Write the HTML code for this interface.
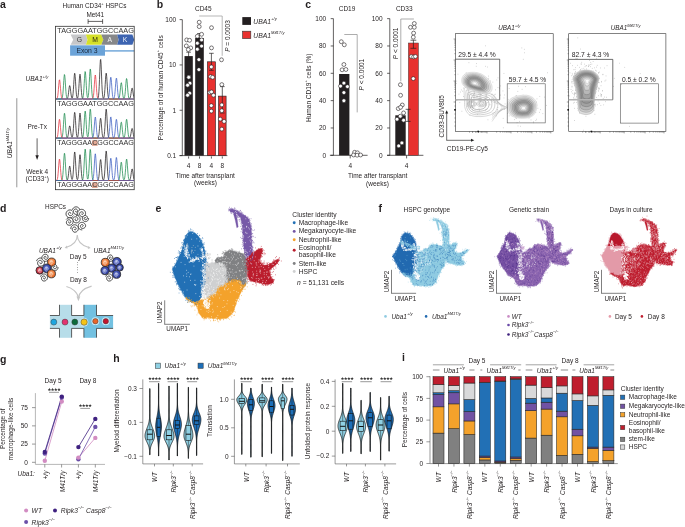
<!DOCTYPE html>
<html><head><meta charset="utf-8"><style>
html,body{margin:0;padding:0;background:#fff;}
svg{display:block;font-family:"Liberation Sans",sans-serif;will-change:transform;}
</style></head><body>
<svg width="685" height="527" viewBox="0 0 685 527">
<rect width="685" height="527" fill="#fff"/>
<g font-size="6.5" fill="#231f20">
<text x="0" y="7.7" font-size="10.5" font-weight="bold">a</text>
<text x="94.5" y="7.9" font-size="6.4" text-anchor="middle">Human CD34<tspan font-size="4" dy="-3.4">+</tspan><tspan dy="3.4"> HSPCs</tspan></text>
<text x="95.3" y="16.8" font-size="6.4" text-anchor="middle">Met41</text>
<line x1="88.1" y1="21.4" x2="102.6" y2="21.4" stroke="#231f20" stroke-width="0.7"/>
<line x1="88.1" y1="19.1" x2="88.1" y2="23.9" stroke="#231f20" stroke-width="0.7"/>
<line x1="102.6" y1="19.1" x2="102.6" y2="23.9" stroke="#231f20" stroke-width="0.7"/>
<path d="M70.6 34.6 L85.9 34.6 L87.5 39.7 L85.9 44.8 L70.6 44.8 L73.2 39.7 Z" fill="#c6c7c9"/>
<path d="M85.9 34.6 L101.3 34.6 L103.3 39.7 L101.3 44.8 L85.9 44.8 L87.5 39.7 Z" fill="#d5e02a"/>
<path d="M101.3 34.6 L117.1 34.6 L118.6 39.7 L117.1 44.8 L101.3 44.8 L103.3 39.7 Z" fill="#868789"/>
<path d="M117.1 34.6 L132.4 34.6 L134.2 39.7 L132.4 44.8 L117.1 44.8 L118.6 39.7 Z" fill="#3d64b1"/>
<text x="79.3" y="42" font-size="6.8" text-anchor="middle" fill="#3a3a3a">G</text>
<text x="95.1" y="42" font-size="6.8" text-anchor="middle" fill="#2a2a10">M</text>
<text x="109.7" y="42" font-size="6.8" text-anchor="middle" fill="#f4f4f4">A</text>
<text x="125.1" y="42" font-size="6.8" text-anchor="middle" fill="#eef2fa">K</text>
<rect x="70.1" y="45.3" width="34.9" height="10.4" fill="#6ba3d8"/>
<rect x="105" y="50.2" width="29.2" height="1.4" fill="#6ba3d8"/>
<text x="87" y="52.5" font-size="6.8" text-anchor="middle" fill="#1a2638">Exon 3</text>
<rect x="92" y="140.3" width="5.6" height="5.6" fill="#e3a994"/>
<rect x="92" y="182.4" width="5.6" height="5.6" fill="#e3a994"/>
<text x="57.3" y="32.8" fill="#333" textLength="76.6" lengthAdjust="spacingAndGlyphs">TAGGGAATGGCCAAG</text>
<text x="57.3" y="106" fill="#333" textLength="76.6" lengthAdjust="spacingAndGlyphs">TAGGGAATGGCCAAG</text>
<text x="57.3" y="145.1" fill="#333" textLength="76.6" lengthAdjust="spacingAndGlyphs">TAGGGAACGGCCAAG</text>
<text x="57.3" y="187.4" fill="#333" textLength="76.6" lengthAdjust="spacingAndGlyphs">TAGGGAACGGCCAAG</text>
<defs><clipPath id="cpA"><rect x="56" y="26" width="78" height="164"/></clipPath></defs>
<g clip-path="url(#cpA)" fill="none" stroke-width="0.75" stroke-linejoin="round">
<path d="M56 99 L56.3 99 L56.6 99 L56.9 99 L57.2 99 L57.5 99 L57.8 99 L58.1 99 L58.4 99 L58.7 99 L59 99 L59.3 99 L59.6 99 L59.9 99 L60.2 99 L60.5 99 L60.8 99 L61.1 99 L61.4 99 L61.7 99 L62 99 L62.3 99 L62.6 99 L62.9 99 L63.2 99 L63.5 99 L63.8 99 L64.1 99 L64.4 99 L64.7 99 L65 99 L65.3 99 L65.6 99 L65.9 99 L66.2 98.99 L66.5 98.97 L66.8 98.91 L67.1 98.75 L67.4 98.41 L67.7 97.73 L68 96.55 L68.3 94.76 L68.6 92.39 L68.9 89.75 L69.2 87.35 L69.5 85.82 L69.8 85.58 L70.1 86.72 L70.4 88.89 L70.7 91.52 L71 94.02 L71.3 96 L71.6 97.31 L71.9 97.97 L72.2 98.02 L72.5 97.38 L72.8 95.88 L73.1 93.28 L73.4 89.45 L73.7 84.65 L74 79.61 L74.3 75.44 L74.6 73.25 L74.9 73.7 L75.2 76.66 L75.5 81.25 L75.8 86.33 L76.1 90.86 L76.4 94.29 L76.7 96.52 L77 97.74 L77.3 98.19 L77.6 97.99 L77.9 97.11 L78.2 95.32 L78.5 92.43 L78.8 88.41 L79.1 83.63 L79.4 78.95 L79.7 75.48 L80 74.2 L80.3 75.48 L80.6 78.95 L80.9 83.63 L81.2 88.41 L81.5 92.44 L81.8 95.34 L82.1 97.17 L82.4 98.17 L82.7 98.67 L83 98.88 L83.3 98.96 L83.6 98.99 L83.9 99 L84.2 99 L84.5 99 L84.8 99 L85.1 99 L85.4 99 L85.7 99 L86 99 L86.3 99 L86.6 99 L86.9 99 L87.2 99 L87.5 99 L87.8 99 L88.1 99 L88.4 99 L88.7 99 L89 99 L89.3 99 L89.6 99 L89.9 99 L90.2 99 L90.5 99 L90.8 99 L91.1 99 L91.4 99 L91.7 99 L92 99 L92.3 99 L92.6 99 L92.9 99 L93.2 99 L93.5 99 L93.8 99 L94.1 99 L94.4 99 L94.7 99 L95 99 L95.3 99 L95.6 99 L95.9 99 L96.2 99 L96.5 99 L96.8 98.99 L97.1 98.97 L97.4 98.91 L97.7 98.72 L98 98.27 L98.3 97.25 L98.6 95.25 L98.9 91.78 L99.2 86.5 L99.5 79.53 L99.8 71.73 L100.1 64.66 L100.4 60.13 L100.7 59.43 L101 62.79 L101.3 69.2 L101.6 76.95 L101.9 84.33 L102.2 90.23 L102.5 94.27 L102.8 96.69 L103.1 97.92 L103.4 98.36 L103.7 98.22 L104 97.47 L104.3 95.91 L104.6 93.27 L104.9 89.42 L105.2 84.6 L105.5 79.53 L105.8 75.34 L106.1 73.15 L106.4 73.61 L106.7 76.57 L107 81.19 L107.3 86.28 L107.6 90.83 L107.9 94.28 L108.2 96.55 L108.5 97.86 L108.8 98.52 L109.1 98.82 L109.4 98.94 L109.7 98.98 L110 98.99 L110.3 99 L110.6 99 L110.9 99 L111.2 99 L111.5 99 L111.8 99 L112.1 99 L112.4 99 L112.7 99 L113 99 L113.3 99 L113.6 99 L113.9 99 L114.2 99 L114.5 99 L114.8 99 L115.1 99 L115.4 99 L115.7 99 L116 99 L116.3 99 L116.6 99 L116.9 99 L117.2 99 L117.5 99 L117.8 99 L118.1 99 L118.4 99 L118.7 99 L119 99 L119.3 99 L119.6 99 L119.9 99 L120.2 99 L120.5 99 L120.8 99 L121.1 99 L121.4 99 L121.7 99 L122 99 L122.3 99 L122.6 99 L122.9 99 L123.2 99 L123.5 99 L123.8 99 L124.1 99 L124.4 99 L124.7 99 L125 99 L125.3 99 L125.6 99 L125.9 99 L126.2 99 L126.5 99 L126.8 99 L127.1 99 L127.4 99 L127.7 99 L128 99 L128.3 99 L128.6 98.99 L128.9 98.97 L129.2 98.92 L129.5 98.8 L129.8 98.52 L130.1 97.97 L130.4 97.02 L130.7 95.58 L131 93.67 L131.3 91.53 L131.6 89.6 L131.9 88.35 L132.2 88.16 L132.5 89.08 L132.8 90.84 L133.1 92.96 L133.4 94.98 L133.7 96.6 L134 97.71 L134.3 98.38" stroke="#231f20"/>
<path d="M56 99 L56.3 99 L56.6 99 L56.9 99 L57.2 99 L57.5 99 L57.8 99 L58.1 99 L58.4 99 L58.7 99 L59 99 L59.3 99 L59.6 99 L59.9 99 L60.2 99 L60.5 99 L60.8 98.99 L61.1 98.97 L61.4 98.92 L61.7 98.76 L62 98.39 L62.3 97.59 L62.6 96.08 L62.9 93.58 L63.2 89.94 L63.5 85.37 L63.8 80.58 L64.1 76.62 L64.4 74.54 L64.7 74.97 L65 77.78 L65.3 82.14 L65.6 86.96 L65.9 91.27 L66.2 94.54 L66.5 96.68 L66.8 97.92 L67.1 98.55 L67.4 98.83 L67.7 98.94 L68 98.98 L68.3 99 L68.6 99 L68.9 99 L69.2 99 L69.5 99 L69.8 99 L70.1 99 L70.4 99 L70.7 99 L71 99 L71.3 99 L71.6 99 L71.9 99 L72.2 99 L72.5 99 L72.8 99 L73.1 99 L73.4 99 L73.7 99 L74 99 L74.3 99 L74.6 99 L74.9 99 L75.2 99 L75.5 99 L75.8 99 L76.1 99 L76.4 99 L76.7 99 L77 99 L77.3 99 L77.6 99 L77.9 99 L78.2 99 L78.5 99 L78.8 99 L79.1 99 L79.4 99 L79.7 99 L80 99 L80.3 99 L80.6 99 L80.9 99 L81.2 99 L81.5 98.99 L81.8 98.97 L82.1 98.91 L82.4 98.73 L82.7 98.31 L83 97.42 L83.3 95.73 L83.6 92.92 L83.9 88.83 L84.2 83.71 L84.5 78.34 L84.8 73.89 L85.1 71.56 L85.4 72.04 L85.7 75.19 L86 80.09 L86.3 85.49 L86.6 90.32 L86.9 93.96 L87.2 96.3 L87.5 97.49 L87.8 97.74 L88.1 97.08 L88.4 95.36 L88.7 92.32 L89 87.87 L89.3 82.27 L89.6 76.39 L89.9 71.52 L90.2 68.98 L90.5 69.51 L90.8 72.95 L91.1 78.31 L91.4 84.22 L91.7 89.51 L92 93.52 L92.3 96.16 L92.6 97.67 L92.9 98.44 L93.2 98.79 L93.5 98.93 L93.8 98.98 L94.1 98.99 L94.4 99 L94.7 99 L95 99 L95.3 99 L95.6 99 L95.9 99 L96.2 99 L96.5 99 L96.8 99 L97.1 99 L97.4 99 L97.7 99 L98 99 L98.3 99 L98.6 99 L98.9 99 L99.2 99 L99.5 99 L99.8 99 L100.1 99 L100.4 99 L100.7 99 L101 99 L101.3 99 L101.6 99 L101.9 99 L102.2 99 L102.5 99 L102.8 99 L103.1 99 L103.4 99 L103.7 99 L104 99 L104.3 99 L104.6 99 L104.9 99 L105.2 99 L105.5 99 L105.8 99 L106.1 99 L106.4 99 L106.7 99 L107 99 L107.3 99 L107.6 99 L107.9 99 L108.2 99 L108.5 99 L108.8 99 L109.1 99 L109.4 99 L109.7 99 L110 99 L110.3 99 L110.6 99 L110.9 99 L111.2 99 L111.5 99 L111.8 99 L112.1 99 L112.4 99 L112.7 99 L113 99 L113.3 99 L113.6 99 L113.9 99 L114.2 99 L114.5 99 L114.8 99 L115.1 99 L115.4 99 L115.7 99 L116 99 L116.3 99 L116.6 99 L116.9 99 L117.2 99 L117.5 99 L117.8 98.99 L118.1 98.96 L118.4 98.89 L118.7 98.7 L119 98.28 L119.3 97.46 L119.6 96.03 L119.9 93.85 L120.2 90.98 L120.5 87.76 L120.8 84.85 L121.1 82.98 L121.4 82.7 L121.7 84.08 L122 86.72 L122.3 89.92 L122.6 92.96 L122.9 95.38 L123.2 97.03 L123.5 97.99 L123.8 98.39 L124.1 98.33 L124.4 97.76 L124.7 96.54 L125 94.45 L125.3 91.41 L125.6 87.59 L125.9 83.58 L126.2 80.26 L126.5 78.52 L126.8 78.88 L127.1 81.23 L127.4 84.89 L127.7 88.92 L128 92.53 L128.3 95.26 L128.6 97.06 L128.9 98.09 L129.2 98.62 L129.5 98.86 L129.8 98.95 L130.1 98.99 L130.4 99 L130.7 99 L131 99 L131.3 99 L131.6 99 L131.9 99 L132.2 99 L132.5 99 L132.8 99 L133.1 99 L133.4 99 L133.7 99 L134 99 L134.3 99" stroke="#1b8a4c"/>
<path d="M56 98.99 L56.3 98.95 L56.6 98.87 L56.9 98.64 L57.2 98.15 L57.5 97.18 L57.8 95.5 L58.1 92.94 L58.4 89.56 L58.7 85.78 L59 82.35 L59.3 80.15 L59.6 79.81 L59.9 81.44 L60.2 84.55 L60.5 88.31 L60.8 91.89 L61.1 94.75 L61.4 96.71 L61.7 97.89 L62 98.52 L62.3 98.81 L62.6 98.93 L62.9 98.98 L63.2 98.99 L63.5 99 L63.8 99 L64.1 99 L64.4 99 L64.7 99 L65 99 L65.3 99 L65.6 99 L65.9 99 L66.2 99 L66.5 99 L66.8 99 L67.1 99 L67.4 99 L67.7 99 L68 99 L68.3 99 L68.6 99 L68.9 99 L69.2 99 L69.5 99 L69.8 99 L70.1 99 L70.4 99 L70.7 99 L71 99 L71.3 99 L71.6 99 L71.9 99 L72.2 99 L72.5 99 L72.8 99 L73.1 99 L73.4 99 L73.7 99 L74 99 L74.3 99 L74.6 99 L74.9 99 L75.2 99 L75.5 99 L75.8 99 L76.1 99 L76.4 99 L76.7 99 L77 99 L77.3 99 L77.6 99 L77.9 99 L78.2 99 L78.5 99 L78.8 99 L79.1 99 L79.4 99 L79.7 99 L80 99 L80.3 99 L80.6 99 L80.9 99 L81.2 99 L81.5 99 L81.8 99 L82.1 99 L82.4 99 L82.7 99 L83 99 L83.3 99 L83.6 99 L83.9 99 L84.2 99 L84.5 99 L84.8 99 L85.1 99 L85.4 99 L85.7 99 L86 99 L86.3 99 L86.6 99 L86.9 99 L87.2 99 L87.5 99 L87.8 99 L88.1 99 L88.4 99 L88.7 99 L89 99 L89.3 99 L89.6 99 L89.9 99 L90.2 99 L90.5 99 L90.8 99 L91.1 99 L91.4 99 L91.7 98.99 L92 98.96 L92.3 98.88 L92.6 98.68 L92.9 98.2 L93.2 97.23 L93.5 95.46 L93.8 92.65 L94.1 88.75 L94.4 84.13 L94.7 79.6 L95 76.24 L95.3 75 L95.6 76.24 L95.9 79.6 L96.2 84.13 L96.5 88.75 L96.8 92.65 L97.1 95.46 L97.4 97.23 L97.7 98.2 L98 98.68 L98.3 98.88 L98.6 98.96 L98.9 98.99 L99.2 99 L99.5 99 L99.8 99 L100.1 99 L100.4 99 L100.7 99 L101 99 L101.3 99 L101.6 99 L101.9 99 L102.2 99 L102.5 99 L102.8 99 L103.1 99 L103.4 99 L103.7 99 L104 99 L104.3 99 L104.6 99 L104.9 99 L105.2 99 L105.5 99 L105.8 99 L106.1 99 L106.4 99 L106.7 99 L107 99 L107.3 99 L107.6 99 L107.9 99 L108.2 99 L108.5 99 L108.8 99 L109.1 99 L109.4 99 L109.7 99 L110 99 L110.3 99 L110.6 99 L110.9 99 L111.2 99 L111.5 99 L111.8 99 L112.1 99 L112.4 99 L112.7 99 L113 99 L113.3 99 L113.6 99 L113.9 99 L114.2 99 L114.5 99 L114.8 99 L115.1 99 L115.4 99 L115.7 99 L116 99 L116.3 99 L116.6 99 L116.9 99 L117.2 99 L117.5 99 L117.8 99 L118.1 99 L118.4 99 L118.7 99 L119 99 L119.3 99 L119.6 99 L119.9 99 L120.2 99 L120.5 99 L120.8 99 L121.1 99 L121.4 99 L121.7 99 L122 99 L122.3 99 L122.6 99 L122.9 99 L123.2 99 L123.5 99 L123.8 99 L124.1 99 L124.4 99 L124.7 99 L125 99 L125.3 99 L125.6 99 L125.9 99 L126.2 99 L126.5 99 L126.8 99 L127.1 99 L127.4 99 L127.7 99 L128 99 L128.3 99 L128.6 99 L128.9 99 L129.2 99 L129.5 99 L129.8 99 L130.1 99 L130.4 99 L130.7 99 L131 99 L131.3 99 L131.6 99 L131.9 99 L132.2 99 L132.5 99 L132.8 99 L133.1 99 L133.4 99 L133.7 99 L134 99 L134.3 99" stroke="#e5323d"/>
<path d="M56 99 L56.3 99 L56.6 99 L56.9 99 L57.2 99 L57.5 99 L57.8 99 L58.1 99 L58.4 99 L58.7 99 L59 99 L59.3 99 L59.6 99 L59.9 99 L60.2 99 L60.5 99 L60.8 99 L61.1 99 L61.4 99 L61.7 99 L62 99 L62.3 99 L62.6 99 L62.9 99 L63.2 99 L63.5 99 L63.8 99 L64.1 99 L64.4 99 L64.7 99 L65 99 L65.3 99 L65.6 99 L65.9 99 L66.2 99 L66.5 99 L66.8 99 L67.1 99 L67.4 99 L67.7 99 L68 99 L68.3 99 L68.6 99 L68.9 99 L69.2 99 L69.5 99 L69.8 99 L70.1 99 L70.4 99 L70.7 99 L71 99 L71.3 99 L71.6 99 L71.9 99 L72.2 99 L72.5 99 L72.8 99 L73.1 99 L73.4 99 L73.7 99 L74 99 L74.3 99 L74.6 99 L74.9 99 L75.2 99 L75.5 99 L75.8 99 L76.1 99 L76.4 99 L76.7 99 L77 99 L77.3 99 L77.6 99 L77.9 99 L78.2 99 L78.5 99 L78.8 99 L79.1 99 L79.4 99 L79.7 99 L80 99 L80.3 99 L80.6 99 L80.9 99 L81.2 99 L81.5 99 L81.8 99 L82.1 99 L82.4 99 L82.7 99 L83 99 L83.3 99 L83.6 99 L83.9 99 L84.2 99 L84.5 99 L84.8 99 L85.1 99 L85.4 99 L85.7 99 L86 99 L86.3 99 L86.6 99 L86.9 99 L87.2 99 L87.5 99 L87.8 99 L88.1 99 L88.4 99 L88.7 99 L89 99 L89.3 99 L89.6 99 L89.9 99 L90.2 99 L90.5 99 L90.8 99 L91.1 99 L91.4 99 L91.7 99 L92 99 L92.3 99 L92.6 99 L92.9 99 L93.2 99 L93.5 99 L93.8 99 L94.1 99 L94.4 99 L94.7 99 L95 99 L95.3 99 L95.6 99 L95.9 99 L96.2 99 L96.5 99 L96.8 99 L97.1 99 L97.4 99 L97.7 99 L98 99 L98.3 99 L98.6 99 L98.9 99 L99.2 99 L99.5 99 L99.8 99 L100.1 99 L100.4 99 L100.7 99 L101 99 L101.3 99 L101.6 99 L101.9 99 L102.2 99 L102.5 99 L102.8 99 L103.1 99 L103.4 99 L103.7 99 L104 99 L104.3 99 L104.6 99 L104.9 99 L105.2 99 L105.5 99 L105.8 99 L106.1 99 L106.4 99 L106.7 99 L107 99 L107.3 98.98 L107.6 98.95 L107.9 98.85 L108.2 98.6 L108.5 98.04 L108.8 96.94 L109.1 95.03 L109.4 92.12 L109.7 88.28 L110 83.99 L110.3 80.11 L110.6 77.61 L110.9 77.23 L111.2 79.08 L111.5 82.6 L111.8 86.87 L112.1 90.93 L112.4 94.17 L112.7 96.4 L113 97.72 L113.3 98.38 L113.6 98.58 L113.9 98.4 L114.2 97.77 L114.5 96.5 L114.8 94.37 L115.1 91.26 L115.4 87.37 L115.7 83.28 L116 79.89 L116.3 78.12 L116.6 78.49 L116.9 80.88 L117.2 84.61 L117.5 88.72 L117.8 92.4 L118.1 95.19 L118.4 97.02 L118.7 98.08 L119 98.61 L119.3 98.85 L119.6 98.95 L119.9 98.98 L120.2 99 L120.5 99 L120.8 99 L121.1 99 L121.4 99 L121.7 99 L122 99 L122.3 99 L122.6 99 L122.9 99 L123.2 99 L123.5 99 L123.8 99 L124.1 99 L124.4 99 L124.7 99 L125 99 L125.3 99 L125.6 99 L125.9 99 L126.2 99 L126.5 99 L126.8 99 L127.1 99 L127.4 99 L127.7 99 L128 99 L128.3 99 L128.6 99 L128.9 99 L129.2 99 L129.5 99 L129.8 99 L130.1 99 L130.4 99 L130.7 99 L131 99 L131.3 99 L131.6 99 L131.9 99 L132.2 99 L132.5 99 L132.8 99 L133.1 99 L133.4 99 L133.7 99 L134 99 L134.3 99" stroke="#3a5cc0"/>
<path d="M56 138.1 L56.3 138.1 L56.6 138.1 L56.9 138.1 L57.2 138.1 L57.5 138.1 L57.8 138.1 L58.1 138.1 L58.4 138.1 L58.7 138.1 L59 138.1 L59.3 138.1 L59.6 138.1 L59.9 138.1 L60.2 138.1 L60.5 138.1 L60.8 138.1 L61.1 138.1 L61.4 138.1 L61.7 138.1 L62 138.1 L62.3 138.1 L62.6 138.1 L62.9 138.1 L63.2 138.1 L63.5 138.1 L63.8 138.1 L64.1 138.1 L64.4 138.1 L64.7 138.1 L65 138.1 L65.3 138.1 L65.6 138.1 L65.9 138.1 L66.2 138.09 L66.5 138.07 L66.8 138.01 L67.1 137.87 L67.4 137.56 L67.7 136.94 L68 135.87 L68.3 134.24 L68.6 132.08 L68.9 129.67 L69.2 127.49 L69.5 126.09 L69.8 125.87 L70.1 126.91 L70.4 128.89 L70.7 131.28 L71 133.56 L71.3 135.36 L71.6 136.55 L71.9 137.14 L72.2 137.15 L72.5 136.5 L72.8 134.99 L73.1 132.38 L73.4 128.55 L73.7 123.75 L74 118.71 L74.3 114.54 L74.6 112.35 L74.9 112.8 L75.2 115.76 L75.5 120.35 L75.8 125.43 L76.1 129.96 L76.4 133.39 L76.7 135.62 L77 136.84 L77.3 137.29 L77.6 137.09 L77.9 136.19 L78.2 134.39 L78.5 131.48 L78.8 127.42 L79.1 122.61 L79.4 117.89 L79.7 114.39 L80 113.1 L80.3 114.39 L80.6 117.89 L80.9 122.61 L81.2 127.42 L81.5 131.48 L81.8 134.41 L82.1 136.25 L82.4 137.27 L82.7 137.76 L83 137.98 L83.3 138.06 L83.6 138.09 L83.9 138.1 L84.2 138.1 L84.5 138.1 L84.8 138.1 L85.1 138.1 L85.4 138.1 L85.7 138.1 L86 138.1 L86.3 138.1 L86.6 138.1 L86.9 138.1 L87.2 138.1 L87.5 138.1 L87.8 138.1 L88.1 138.1 L88.4 138.1 L88.7 138.1 L89 138.1 L89.3 138.1 L89.6 138.1 L89.9 138.1 L90.2 138.1 L90.5 138.1 L90.8 138.1 L91.1 138.1 L91.4 138.1 L91.7 138.1 L92 138.1 L92.3 138.1 L92.6 138.1 L92.9 138.1 L93.2 138.1 L93.5 138.1 L93.8 138.1 L94.1 138.1 L94.4 138.1 L94.7 138.1 L95 138.1 L95.3 138.1 L95.6 138.1 L95.9 138.1 L96.2 138.1 L96.5 138.1 L96.8 138.1 L97.1 138.09 L97.4 138.05 L97.7 137.96 L98 137.73 L98.3 137.22 L98.6 136.22 L98.9 134.47 L99.2 131.82 L99.5 128.31 L99.8 124.4 L100.1 120.85 L100.4 118.57 L100.7 118.22 L101 119.9 L101.3 123.13 L101.6 127.02 L101.9 130.73 L102.2 133.69 L102.5 135.72 L102.8 136.92 L103.1 137.5 L103.4 137.62 L103.7 137.3 L104 136.4 L104.3 134.63 L104.6 131.66 L104.9 127.34 L105.2 121.93 L105.5 116.24 L105.8 111.53 L106.1 109.07 L106.4 109.58 L106.7 112.91 L107 118.09 L107.3 123.81 L107.6 128.93 L107.9 132.8 L108.2 135.35 L108.5 136.82 L108.8 137.56 L109.1 137.9 L109.4 138.03 L109.7 138.08 L110 138.09 L110.3 138.1 L110.6 138.1 L110.9 138.1 L111.2 138.1 L111.5 138.1 L111.8 138.1 L112.1 138.1 L112.4 138.1 L112.7 138.1 L113 138.1 L113.3 138.1 L113.6 138.1 L113.9 138.1 L114.2 138.1 L114.5 138.1 L114.8 138.1 L115.1 138.1 L115.4 138.1 L115.7 138.1 L116 138.1 L116.3 138.1 L116.6 138.1 L116.9 138.1 L117.2 138.1 L117.5 138.1 L117.8 138.1 L118.1 138.1 L118.4 138.1 L118.7 138.1 L119 138.1 L119.3 138.1 L119.6 138.1 L119.9 138.1 L120.2 138.1 L120.5 138.1 L120.8 138.1 L121.1 138.1 L121.4 138.1 L121.7 138.1 L122 138.1 L122.3 138.1 L122.6 138.1 L122.9 138.1 L123.2 138.1 L123.5 138.1 L123.8 138.1 L124.1 138.1 L124.4 138.1 L124.7 138.1 L125 138.1 L125.3 138.1 L125.6 138.1 L125.9 138.1 L126.2 138.1 L126.5 138.1 L126.8 138.1 L127.1 138.1 L127.4 138.1 L127.7 138.1 L128 138.1 L128.3 138.1 L128.6 138.09 L128.9 138.08 L129.2 138.03 L129.5 137.92 L129.8 137.67 L130.1 137.19 L130.4 136.34 L130.7 135.05 L131 133.35 L131.3 131.45 L131.6 129.73 L131.9 128.63 L132.2 128.46 L132.5 129.27 L132.8 130.84 L133.1 132.73 L133.4 134.53 L133.7 135.96 L134 136.95 L134.3 137.54" stroke="#231f20"/>
<path d="M56 138.1 L56.3 138.1 L56.6 138.1 L56.9 138.1 L57.2 138.1 L57.5 138.1 L57.8 138.1 L58.1 138.1 L58.4 138.1 L58.7 138.1 L59 138.1 L59.3 138.1 L59.6 138.1 L59.9 138.1 L60.2 138.1 L60.5 138.1 L60.8 138.09 L61.1 138.07 L61.4 138.01 L61.7 137.86 L62 137.48 L62.3 136.67 L62.6 135.14 L62.9 132.59 L63.2 128.89 L63.5 124.25 L63.8 119.38 L64.1 115.35 L64.4 113.25 L64.7 113.68 L65 116.53 L65.3 120.97 L65.6 125.87 L65.9 130.25 L66.2 133.57 L66.5 135.75 L66.8 137 L67.1 137.64 L67.4 137.93 L67.7 138.04 L68 138.08 L68.3 138.1 L68.6 138.1 L68.9 138.1 L69.2 138.1 L69.5 138.1 L69.8 138.1 L70.1 138.1 L70.4 138.1 L70.7 138.1 L71 138.1 L71.3 138.1 L71.6 138.1 L71.9 138.1 L72.2 138.1 L72.5 138.1 L72.8 138.1 L73.1 138.1 L73.4 138.1 L73.7 138.1 L74 138.1 L74.3 138.1 L74.6 138.1 L74.9 138.1 L75.2 138.1 L75.5 138.1 L75.8 138.1 L76.1 138.1 L76.4 138.1 L76.7 138.1 L77 138.1 L77.3 138.1 L77.6 138.1 L77.9 138.1 L78.2 138.1 L78.5 138.1 L78.8 138.1 L79.1 138.1 L79.4 138.1 L79.7 138.1 L80 138.1 L80.3 138.1 L80.6 138.1 L80.9 138.1 L81.2 138.1 L81.5 138.09 L81.8 138.07 L82.1 138.01 L82.4 137.84 L82.7 137.42 L83 136.54 L83.3 134.88 L83.6 132.1 L83.9 128.08 L84.2 123.03 L84.5 117.74 L84.8 113.35 L85.1 111.06 L85.4 111.54 L85.7 114.63 L86 119.46 L86.3 124.79 L86.6 129.55 L86.9 133.14 L87.2 135.44 L87.5 136.62 L87.8 136.87 L88.1 136.24 L88.4 134.57 L88.7 131.64 L89 127.33 L89.3 121.92 L89.6 116.24 L89.9 111.53 L90.2 109.07 L90.5 109.58 L90.8 112.91 L91.1 118.09 L91.4 123.81 L91.7 128.93 L92 132.8 L92.3 135.35 L92.6 136.82 L92.9 137.56 L93.2 137.9 L93.5 138.03 L93.8 138.08 L94.1 138.09 L94.4 138.1 L94.7 138.1 L95 138.1 L95.3 138.1 L95.6 138.1 L95.9 138.1 L96.2 138.1 L96.5 138.1 L96.8 138.1 L97.1 138.1 L97.4 138.1 L97.7 138.1 L98 138.1 L98.3 138.1 L98.6 138.1 L98.9 138.1 L99.2 138.1 L99.5 138.1 L99.8 138.1 L100.1 138.1 L100.4 138.1 L100.7 138.1 L101 138.1 L101.3 138.1 L101.6 138.1 L101.9 138.1 L102.2 138.1 L102.5 138.1 L102.8 138.1 L103.1 138.1 L103.4 138.1 L103.7 138.1 L104 138.1 L104.3 138.1 L104.6 138.1 L104.9 138.1 L105.2 138.1 L105.5 138.1 L105.8 138.1 L106.1 138.1 L106.4 138.1 L106.7 138.1 L107 138.1 L107.3 138.1 L107.6 138.1 L107.9 138.1 L108.2 138.1 L108.5 138.1 L108.8 138.1 L109.1 138.1 L109.4 138.1 L109.7 138.1 L110 138.1 L110.3 138.1 L110.6 138.1 L110.9 138.1 L111.2 138.1 L111.5 138.1 L111.8 138.1 L112.1 138.1 L112.4 138.1 L112.7 138.1 L113 138.1 L113.3 138.1 L113.6 138.1 L113.9 138.1 L114.2 138.1 L114.5 138.1 L114.8 138.1 L115.1 138.1 L115.4 138.1 L115.7 138.1 L116 138.1 L116.3 138.1 L116.6 138.1 L116.9 138.1 L117.2 138.1 L117.5 138.1 L117.8 138.09 L118.1 138.06 L118.4 137.99 L118.7 137.81 L119 137.4 L119.3 136.59 L119.6 135.2 L119.9 133.07 L120.2 130.27 L120.5 127.14 L120.8 124.3 L121.1 122.47 L121.4 122.19 L121.7 123.54 L122 126.12 L122.3 129.24 L122.6 132.2 L122.9 134.57 L123.2 136.18 L123.5 137.12 L123.8 137.52 L124.1 137.47 L124.4 136.96 L124.7 135.84 L125 133.93 L125.3 131.13 L125.6 127.63 L125.9 123.95 L126.2 120.9 L126.5 119.31 L126.8 119.64 L127.1 121.79 L127.4 125.15 L127.7 128.85 L128 132.16 L128.3 134.67 L128.6 136.32 L128.9 137.27 L129.2 137.75 L129.5 137.97 L129.8 138.06 L130.1 138.09 L130.4 138.1 L130.7 138.1 L131 138.1 L131.3 138.1 L131.6 138.1 L131.9 138.1 L132.2 138.1 L132.5 138.1 L132.8 138.1 L133.1 138.1 L133.4 138.1 L133.7 138.1 L134 138.1 L134.3 138.1" stroke="#1b8a4c"/>
<path d="M56 138.09 L56.3 138.06 L56.6 137.97 L56.9 137.75 L57.2 137.27 L57.5 136.32 L57.8 134.67 L58.1 132.16 L58.4 128.85 L58.7 125.15 L59 121.79 L59.3 119.64 L59.6 119.31 L59.9 120.9 L60.2 123.95 L60.5 127.63 L60.8 131.14 L61.1 133.93 L61.4 135.86 L61.7 137.02 L62 137.63 L62.3 137.92 L62.6 138.04 L62.9 138.08 L63.2 138.09 L63.5 138.1 L63.8 138.1 L64.1 138.1 L64.4 138.1 L64.7 138.1 L65 138.1 L65.3 138.1 L65.6 138.1 L65.9 138.1 L66.2 138.1 L66.5 138.1 L66.8 138.1 L67.1 138.1 L67.4 138.1 L67.7 138.1 L68 138.1 L68.3 138.1 L68.6 138.1 L68.9 138.1 L69.2 138.1 L69.5 138.1 L69.8 138.1 L70.1 138.1 L70.4 138.1 L70.7 138.1 L71 138.1 L71.3 138.1 L71.6 138.1 L71.9 138.1 L72.2 138.1 L72.5 138.1 L72.8 138.1 L73.1 138.1 L73.4 138.1 L73.7 138.1 L74 138.1 L74.3 138.1 L74.6 138.1 L74.9 138.1 L75.2 138.1 L75.5 138.1 L75.8 138.1 L76.1 138.1 L76.4 138.1 L76.7 138.1 L77 138.1 L77.3 138.1 L77.6 138.1 L77.9 138.1 L78.2 138.1 L78.5 138.1 L78.8 138.1 L79.1 138.1 L79.4 138.1 L79.7 138.1 L80 138.1 L80.3 138.1 L80.6 138.1 L80.9 138.1 L81.2 138.1 L81.5 138.1 L81.8 138.1 L82.1 138.1 L82.4 138.1 L82.7 138.1 L83 138.1 L83.3 138.1 L83.6 138.1 L83.9 138.1 L84.2 138.1 L84.5 138.1 L84.8 138.1 L85.1 138.1 L85.4 138.1 L85.7 138.1 L86 138.1 L86.3 138.1 L86.6 138.1 L86.9 138.1 L87.2 138.1 L87.5 138.1 L87.8 138.1 L88.1 138.1 L88.4 138.1 L88.7 138.1 L89 138.1 L89.3 138.1 L89.6 138.1 L89.9 138.1 L90.2 138.1 L90.5 138.1 L90.8 138.1 L91.1 138.1 L91.4 138.1 L91.7 138.1 L92 138.1 L92.3 138.1 L92.6 138.1 L92.9 138.1 L93.2 138.1 L93.5 138.1 L93.8 138.1 L94.1 138.1 L94.4 138.1 L94.7 138.1 L95 138.1 L95.3 138.1 L95.6 138.1 L95.9 138.1 L96.2 138.1 L96.5 138.1 L96.8 138.1 L97.1 138.1 L97.4 138.1 L97.7 138.1 L98 138.1 L98.3 138.1 L98.6 138.1 L98.9 138.1 L99.2 138.1 L99.5 138.1 L99.8 138.1 L100.1 138.1 L100.4 138.1 L100.7 138.1 L101 138.1 L101.3 138.1 L101.6 138.1 L101.9 138.1 L102.2 138.1 L102.5 138.1 L102.8 138.1 L103.1 138.1 L103.4 138.1 L103.7 138.1 L104 138.1 L104.3 138.1 L104.6 138.1 L104.9 138.1 L105.2 138.1 L105.5 138.1 L105.8 138.1 L106.1 138.1 L106.4 138.1 L106.7 138.1 L107 138.1 L107.3 138.1 L107.6 138.1 L107.9 138.1 L108.2 138.1 L108.5 138.1 L108.8 138.1 L109.1 138.1 L109.4 138.1 L109.7 138.1 L110 138.1 L110.3 138.1 L110.6 138.1 L110.9 138.1 L111.2 138.1 L111.5 138.1 L111.8 138.1 L112.1 138.1 L112.4 138.1 L112.7 138.1 L113 138.1 L113.3 138.1 L113.6 138.1 L113.9 138.1 L114.2 138.1 L114.5 138.1 L114.8 138.1 L115.1 138.1 L115.4 138.1 L115.7 138.1 L116 138.1 L116.3 138.1 L116.6 138.1 L116.9 138.1 L117.2 138.1 L117.5 138.1 L117.8 138.1 L118.1 138.1 L118.4 138.1 L118.7 138.1 L119 138.1 L119.3 138.1 L119.6 138.1 L119.9 138.1 L120.2 138.1 L120.5 138.1 L120.8 138.1 L121.1 138.1 L121.4 138.1 L121.7 138.1 L122 138.1 L122.3 138.1 L122.6 138.1 L122.9 138.1 L123.2 138.1 L123.5 138.1 L123.8 138.1 L124.1 138.1 L124.4 138.1 L124.7 138.1 L125 138.1 L125.3 138.1 L125.6 138.1 L125.9 138.1 L126.2 138.1 L126.5 138.1 L126.8 138.1 L127.1 138.1 L127.4 138.1 L127.7 138.1 L128 138.1 L128.3 138.1 L128.6 138.1 L128.9 138.1 L129.2 138.1 L129.5 138.1 L129.8 138.1 L130.1 138.1 L130.4 138.1 L130.7 138.1 L131 138.1 L131.3 138.1 L131.6 138.1 L131.9 138.1 L132.2 138.1 L132.5 138.1 L132.8 138.1 L133.1 138.1 L133.4 138.1 L133.7 138.1 L134 138.1 L134.3 138.1" stroke="#e5323d"/>
<path d="M56 138.1 L56.3 138.1 L56.6 138.1 L56.9 138.1 L57.2 138.1 L57.5 138.1 L57.8 138.1 L58.1 138.1 L58.4 138.1 L58.7 138.1 L59 138.1 L59.3 138.1 L59.6 138.1 L59.9 138.1 L60.2 138.1 L60.5 138.1 L60.8 138.1 L61.1 138.1 L61.4 138.1 L61.7 138.1 L62 138.1 L62.3 138.1 L62.6 138.1 L62.9 138.1 L63.2 138.1 L63.5 138.1 L63.8 138.1 L64.1 138.1 L64.4 138.1 L64.7 138.1 L65 138.1 L65.3 138.1 L65.6 138.1 L65.9 138.1 L66.2 138.1 L66.5 138.1 L66.8 138.1 L67.1 138.1 L67.4 138.1 L67.7 138.1 L68 138.1 L68.3 138.1 L68.6 138.1 L68.9 138.1 L69.2 138.1 L69.5 138.1 L69.8 138.1 L70.1 138.1 L70.4 138.1 L70.7 138.1 L71 138.1 L71.3 138.1 L71.6 138.1 L71.9 138.1 L72.2 138.1 L72.5 138.1 L72.8 138.1 L73.1 138.1 L73.4 138.1 L73.7 138.1 L74 138.1 L74.3 138.1 L74.6 138.1 L74.9 138.1 L75.2 138.1 L75.5 138.1 L75.8 138.1 L76.1 138.1 L76.4 138.1 L76.7 138.1 L77 138.1 L77.3 138.1 L77.6 138.1 L77.9 138.1 L78.2 138.1 L78.5 138.1 L78.8 138.1 L79.1 138.1 L79.4 138.1 L79.7 138.1 L80 138.1 L80.3 138.1 L80.6 138.1 L80.9 138.1 L81.2 138.1 L81.5 138.1 L81.8 138.1 L82.1 138.1 L82.4 138.1 L82.7 138.1 L83 138.1 L83.3 138.1 L83.6 138.1 L83.9 138.1 L84.2 138.1 L84.5 138.1 L84.8 138.1 L85.1 138.1 L85.4 138.1 L85.7 138.1 L86 138.1 L86.3 138.1 L86.6 138.1 L86.9 138.1 L87.2 138.1 L87.5 138.1 L87.8 138.1 L88.1 138.1 L88.4 138.1 L88.7 138.1 L89 138.1 L89.3 138.1 L89.6 138.1 L89.9 138.1 L90.2 138.1 L90.5 138.1 L90.8 138.1 L91.1 138.1 L91.4 138.1 L91.7 138.09 L92 138.07 L92.3 138 L92.6 137.82 L92.9 137.4 L93.2 136.55 L93.5 135 L93.8 132.54 L94.1 129.13 L94.4 125.09 L94.7 121.12 L95 118.19 L95.3 117.1 L95.6 118.19 L95.9 121.12 L96.2 125.09 L96.5 129.13 L96.8 132.54 L97.1 135 L97.4 136.55 L97.7 137.4 L98 137.82 L98.3 138 L98.6 138.07 L98.9 138.09 L99.2 138.1 L99.5 138.1 L99.8 138.1 L100.1 138.1 L100.4 138.1 L100.7 138.1 L101 138.1 L101.3 138.1 L101.6 138.1 L101.9 138.1 L102.2 138.1 L102.5 138.1 L102.8 138.1 L103.1 138.1 L103.4 138.1 L103.7 138.1 L104 138.1 L104.3 138.1 L104.6 138.1 L104.9 138.1 L105.2 138.1 L105.5 138.1 L105.8 138.1 L106.1 138.1 L106.4 138.1 L106.7 138.1 L107 138.1 L107.3 138.08 L107.6 138.05 L107.9 137.95 L108.2 137.71 L108.5 137.16 L108.8 136.09 L109.1 134.24 L109.4 131.41 L109.7 127.68 L110 123.51 L110.3 119.72 L110.6 117.3 L110.9 116.93 L111.2 118.72 L111.5 122.15 L111.8 126.3 L112.1 130.25 L112.4 133.4 L112.7 135.57 L113 136.86 L113.3 137.5 L113.6 137.71 L113.9 137.56 L114.2 136.99 L114.5 135.85 L114.8 133.93 L115.1 131.14 L115.4 127.63 L115.7 123.95 L116 120.9 L116.3 119.31 L116.6 119.64 L116.9 121.79 L117.2 125.15 L117.5 128.85 L117.8 132.16 L118.1 134.67 L118.4 136.32 L118.7 137.27 L119 137.75 L119.3 137.97 L119.6 138.06 L119.9 138.09 L120.2 138.1 L120.5 138.1 L120.8 138.1 L121.1 138.1 L121.4 138.1 L121.7 138.1 L122 138.1 L122.3 138.1 L122.6 138.1 L122.9 138.1 L123.2 138.1 L123.5 138.1 L123.8 138.1 L124.1 138.1 L124.4 138.1 L124.7 138.1 L125 138.1 L125.3 138.1 L125.6 138.1 L125.9 138.1 L126.2 138.1 L126.5 138.1 L126.8 138.1 L127.1 138.1 L127.4 138.1 L127.7 138.1 L128 138.1 L128.3 138.1 L128.6 138.1 L128.9 138.1 L129.2 138.1 L129.5 138.1 L129.8 138.1 L130.1 138.1 L130.4 138.1 L130.7 138.1 L131 138.1 L131.3 138.1 L131.6 138.1 L131.9 138.1 L132.2 138.1 L132.5 138.1 L132.8 138.1 L133.1 138.1 L133.4 138.1 L133.7 138.1 L134 138.1 L134.3 138.1" stroke="#3a5cc0"/>
<path d="M56 180.5 L56.3 180.5 L56.6 180.5 L56.9 180.5 L57.2 180.5 L57.5 180.5 L57.8 180.5 L58.1 180.5 L58.4 180.5 L58.7 180.5 L59 180.5 L59.3 180.5 L59.6 180.5 L59.9 180.5 L60.2 180.5 L60.5 180.5 L60.8 180.5 L61.1 180.5 L61.4 180.5 L61.7 180.5 L62 180.5 L62.3 180.5 L62.6 180.5 L62.9 180.5 L63.2 180.5 L63.5 180.5 L63.8 180.5 L64.1 180.5 L64.4 180.5 L64.7 180.5 L65 180.5 L65.3 180.5 L65.6 180.5 L65.9 180.5 L66.2 180.49 L66.5 180.47 L66.8 180.4 L67.1 180.23 L67.4 179.86 L67.7 179.13 L68 177.87 L68.3 175.94 L68.6 173.41 L68.9 170.56 L69.2 167.99 L69.5 166.34 L69.8 166.09 L70.1 167.31 L70.4 169.64 L70.7 172.47 L71 175.15 L71.3 177.27 L71.6 178.68 L71.9 179.39 L72.2 179.42 L72.5 178.71 L72.8 177.05 L73.1 174.16 L73.4 169.92 L73.7 164.6 L74 159.01 L74.3 154.39 L74.6 151.97 L74.9 152.47 L75.2 155.74 L75.5 160.84 L75.8 166.46 L76.1 171.48 L76.4 175.28 L76.7 177.76 L77 179.11 L77.3 179.62 L77.6 179.44 L77.9 178.53 L78.2 176.67 L78.5 173.67 L78.8 169.48 L79.1 164.51 L79.4 159.64 L79.7 156.04 L80 154.7 L80.3 156.04 L80.6 159.64 L80.9 164.51 L81.2 169.48 L81.5 173.67 L81.8 176.69 L82.1 178.59 L82.4 179.64 L82.7 180.15 L83 180.37 L83.3 180.46 L83.6 180.49 L83.9 180.5 L84.2 180.5 L84.5 180.5 L84.8 180.5 L85.1 180.5 L85.4 180.5 L85.7 180.5 L86 180.5 L86.3 180.5 L86.6 180.5 L86.9 180.5 L87.2 180.5 L87.5 180.5 L87.8 180.5 L88.1 180.5 L88.4 180.5 L88.7 180.5 L89 180.5 L89.3 180.5 L89.6 180.5 L89.9 180.5 L90.2 180.5 L90.5 180.5 L90.8 180.5 L91.1 180.5 L91.4 180.5 L91.7 180.5 L92 180.5 L92.3 180.5 L92.6 180.5 L92.9 180.5 L93.2 180.5 L93.5 180.5 L93.8 180.5 L94.1 180.5 L94.4 180.5 L94.7 180.5 L95 180.5 L95.3 180.5 L95.6 180.5 L95.9 180.5 L96.2 180.5 L96.5 180.5 L96.8 180.5 L97.1 180.48 L97.4 180.45 L97.7 180.35 L98 180.11 L98.3 179.57 L98.6 178.51 L98.9 176.67 L99.2 173.87 L99.5 170.18 L99.8 166.04 L100.1 162.3 L100.4 159.89 L100.7 159.52 L101 161.3 L101.3 164.7 L101.6 168.81 L101.9 172.72 L102.2 175.85 L102.5 177.99 L102.8 179.26 L103.1 179.87 L103.4 180.01 L103.7 179.69 L104 178.77 L104.3 176.97 L104.6 173.95 L104.9 169.56 L105.2 164.05 L105.5 158.26 L105.8 153.48 L106.1 150.97 L106.4 151.49 L106.7 154.88 L107 160.15 L107.3 165.97 L107.6 171.17 L107.9 175.11 L108.2 177.7 L108.5 179.2 L108.8 179.95 L109.1 180.29 L109.4 180.43 L109.7 180.48 L110 180.49 L110.3 180.5 L110.6 180.5 L110.9 180.5 L111.2 180.5 L111.5 180.5 L111.8 180.5 L112.1 180.5 L112.4 180.5 L112.7 180.5 L113 180.5 L113.3 180.5 L113.6 180.5 L113.9 180.5 L114.2 180.5 L114.5 180.5 L114.8 180.5 L115.1 180.5 L115.4 180.5 L115.7 180.5 L116 180.5 L116.3 180.5 L116.6 180.5 L116.9 180.5 L117.2 180.5 L117.5 180.5 L117.8 180.5 L118.1 180.5 L118.4 180.5 L118.7 180.5 L119 180.5 L119.3 180.5 L119.6 180.5 L119.9 180.5 L120.2 180.5 L120.5 180.5 L120.8 180.5 L121.1 180.5 L121.4 180.5 L121.7 180.5 L122 180.5 L122.3 180.5 L122.6 180.5 L122.9 180.5 L123.2 180.5 L123.5 180.5 L123.8 180.5 L124.1 180.5 L124.4 180.5 L124.7 180.5 L125 180.5 L125.3 180.5 L125.6 180.5 L125.9 180.5 L126.2 180.5 L126.5 180.5 L126.8 180.5 L127.1 180.5 L127.4 180.5 L127.7 180.5 L128 180.5 L128.3 180.5 L128.6 180.49 L128.9 180.47 L129.2 180.42 L129.5 180.29 L129.8 179.99 L130.1 179.41 L130.4 178.4 L130.7 176.86 L131 174.82 L131.3 172.55 L131.6 170.49 L131.9 169.17 L132.2 168.97 L132.5 169.95 L132.8 171.82 L133.1 174.07 L133.4 176.23 L133.7 177.94 L134 179.13 L134.3 179.84" stroke="#231f20"/>
<path d="M56 180.5 L56.3 180.5 L56.6 180.5 L56.9 180.5 L57.2 180.5 L57.5 180.5 L57.8 180.5 L58.1 180.5 L58.4 180.5 L58.7 180.5 L59 180.5 L59.3 180.5 L59.6 180.5 L59.9 180.5 L60.2 180.5 L60.5 180.5 L60.8 180.49 L61.1 180.47 L61.4 180.41 L61.7 180.23 L62 179.82 L62.3 178.93 L62.6 177.25 L62.9 174.46 L63.2 170.4 L63.5 165.32 L63.8 159.99 L64.1 155.57 L64.4 153.26 L64.7 153.74 L65 156.86 L65.3 161.73 L65.6 167.09 L65.9 171.89 L66.2 175.53 L66.5 177.92 L66.8 179.3 L67.1 179.99 L67.4 180.31 L67.7 180.44 L68 180.48 L68.3 180.49 L68.6 180.5 L68.9 180.5 L69.2 180.5 L69.5 180.5 L69.8 180.5 L70.1 180.5 L70.4 180.5 L70.7 180.5 L71 180.5 L71.3 180.5 L71.6 180.5 L71.9 180.5 L72.2 180.5 L72.5 180.5 L72.8 180.5 L73.1 180.5 L73.4 180.5 L73.7 180.5 L74 180.5 L74.3 180.5 L74.6 180.5 L74.9 180.5 L75.2 180.5 L75.5 180.5 L75.8 180.5 L76.1 180.5 L76.4 180.5 L76.7 180.5 L77 180.5 L77.3 180.5 L77.6 180.5 L77.9 180.5 L78.2 180.5 L78.5 180.5 L78.8 180.5 L79.1 180.5 L79.4 180.5 L79.7 180.5 L80 180.5 L80.3 180.5 L80.6 180.5 L80.9 180.5 L81.2 180.5 L81.5 180.49 L81.8 180.47 L82.1 180.39 L82.4 180.19 L82.7 179.71 L83 178.69 L83.3 176.75 L83.6 173.54 L83.9 168.86 L84.2 163 L84.5 156.84 L84.8 151.75 L85.1 149.09 L85.4 149.64 L85.7 153.24 L86 158.85 L86.3 165.04 L86.6 170.56 L86.9 174.73 L87.2 177.42 L87.5 178.81 L87.8 179.14 L88.1 178.49 L88.4 176.72 L88.7 173.58 L89 168.96 L89.3 163.16 L89.6 157.07 L89.9 152.02 L90.2 149.38 L90.5 149.93 L90.8 153.5 L91.1 159.05 L91.4 165.19 L91.7 170.67 L92 174.82 L92.3 177.55 L92.6 179.12 L92.9 179.92 L93.2 180.28 L93.5 180.43 L93.8 180.48 L94.1 180.49 L94.4 180.5 L94.7 180.5 L95 180.5 L95.3 180.5 L95.6 180.5 L95.9 180.5 L96.2 180.5 L96.5 180.5 L96.8 180.5 L97.1 180.5 L97.4 180.5 L97.7 180.5 L98 180.5 L98.3 180.5 L98.6 180.5 L98.9 180.5 L99.2 180.5 L99.5 180.5 L99.8 180.5 L100.1 180.5 L100.4 180.5 L100.7 180.5 L101 180.5 L101.3 180.5 L101.6 180.5 L101.9 180.5 L102.2 180.5 L102.5 180.5 L102.8 180.5 L103.1 180.5 L103.4 180.5 L103.7 180.5 L104 180.5 L104.3 180.5 L104.6 180.5 L104.9 180.5 L105.2 180.5 L105.5 180.5 L105.8 180.5 L106.1 180.5 L106.4 180.5 L106.7 180.5 L107 180.5 L107.3 180.5 L107.6 180.5 L107.9 180.5 L108.2 180.5 L108.5 180.5 L108.8 180.5 L109.1 180.5 L109.4 180.5 L109.7 180.5 L110 180.5 L110.3 180.5 L110.6 180.5 L110.9 180.5 L111.2 180.5 L111.5 180.5 L111.8 180.5 L112.1 180.5 L112.4 180.5 L112.7 180.5 L113 180.5 L113.3 180.5 L113.6 180.5 L113.9 180.5 L114.2 180.5 L114.5 180.5 L114.8 180.5 L115.1 180.5 L115.4 180.5 L115.7 180.5 L116 180.5 L116.3 180.5 L116.6 180.5 L116.9 180.5 L117.2 180.5 L117.5 180.5 L117.8 180.49 L118.1 180.46 L118.4 180.37 L118.7 180.16 L119 179.69 L119.3 178.77 L119.6 177.16 L119.9 174.72 L120.2 171.5 L120.5 167.89 L120.8 164.63 L121.1 162.53 L121.4 162.21 L121.7 163.76 L122 166.72 L122.3 170.31 L122.6 173.72 L122.9 176.44 L123.2 178.3 L123.5 179.37 L123.8 179.83 L124.1 179.78 L124.4 179.2 L124.7 177.93 L125 175.76 L125.3 172.58 L125.6 168.59 L125.9 164.4 L126.2 160.94 L126.5 159.13 L126.8 159.5 L127.1 161.95 L127.4 165.77 L127.7 169.98 L128 173.75 L128.3 176.6 L128.6 178.48 L128.9 179.56 L129.2 180.1 L129.5 180.35 L129.8 180.45 L130.1 180.48 L130.4 180.5 L130.7 180.5 L131 180.5 L131.3 180.5 L131.6 180.5 L131.9 180.5 L132.2 180.5 L132.5 180.5 L132.8 180.5 L133.1 180.5 L133.4 180.5 L133.7 180.5 L134 180.5 L134.3 180.5" stroke="#1b8a4c"/>
<path d="M56 180.48 L56.3 180.45 L56.6 180.35 L56.9 180.1 L57.2 179.56 L57.5 178.48 L57.8 176.6 L58.1 173.75 L58.4 169.98 L58.7 165.77 L59 161.95 L59.3 159.5 L59.6 159.13 L59.9 160.94 L60.2 164.4 L60.5 168.59 L60.8 172.58 L61.1 175.76 L61.4 177.95 L61.7 179.27 L62 179.96 L62.3 180.29 L62.6 180.43 L62.9 180.48 L63.2 180.49 L63.5 180.5 L63.8 180.5 L64.1 180.5 L64.4 180.5 L64.7 180.5 L65 180.5 L65.3 180.5 L65.6 180.5 L65.9 180.5 L66.2 180.5 L66.5 180.5 L66.8 180.5 L67.1 180.5 L67.4 180.5 L67.7 180.5 L68 180.5 L68.3 180.5 L68.6 180.5 L68.9 180.5 L69.2 180.5 L69.5 180.5 L69.8 180.5 L70.1 180.5 L70.4 180.5 L70.7 180.5 L71 180.5 L71.3 180.5 L71.6 180.5 L71.9 180.5 L72.2 180.5 L72.5 180.5 L72.8 180.5 L73.1 180.5 L73.4 180.5 L73.7 180.5 L74 180.5 L74.3 180.5 L74.6 180.5 L74.9 180.5 L75.2 180.5 L75.5 180.5 L75.8 180.5 L76.1 180.5 L76.4 180.5 L76.7 180.5 L77 180.5 L77.3 180.5 L77.6 180.5 L77.9 180.5 L78.2 180.5 L78.5 180.5 L78.8 180.5 L79.1 180.5 L79.4 180.5 L79.7 180.5 L80 180.5 L80.3 180.5 L80.6 180.5 L80.9 180.5 L81.2 180.5 L81.5 180.5 L81.8 180.5 L82.1 180.5 L82.4 180.5 L82.7 180.5 L83 180.5 L83.3 180.5 L83.6 180.5 L83.9 180.5 L84.2 180.5 L84.5 180.5 L84.8 180.5 L85.1 180.5 L85.4 180.5 L85.7 180.5 L86 180.5 L86.3 180.5 L86.6 180.5 L86.9 180.5 L87.2 180.5 L87.5 180.5 L87.8 180.5 L88.1 180.5 L88.4 180.5 L88.7 180.5 L89 180.5 L89.3 180.5 L89.6 180.5 L89.9 180.5 L90.2 180.5 L90.5 180.5 L90.8 180.5 L91.1 180.5 L91.4 180.5 L91.7 180.5 L92 180.5 L92.3 180.5 L92.6 180.5 L92.9 180.5 L93.2 180.5 L93.5 180.5 L93.8 180.5 L94.1 180.5 L94.4 180.5 L94.7 180.5 L95 180.5 L95.3 180.5 L95.6 180.5 L95.9 180.5 L96.2 180.5 L96.5 180.5 L96.8 180.5 L97.1 180.5 L97.4 180.5 L97.7 180.5 L98 180.5 L98.3 180.5 L98.6 180.5 L98.9 180.5 L99.2 180.5 L99.5 180.5 L99.8 180.5 L100.1 180.5 L100.4 180.5 L100.7 180.5 L101 180.5 L101.3 180.5 L101.6 180.5 L101.9 180.5 L102.2 180.5 L102.5 180.5 L102.8 180.5 L103.1 180.5 L103.4 180.5 L103.7 180.5 L104 180.5 L104.3 180.5 L104.6 180.5 L104.9 180.5 L105.2 180.5 L105.5 180.5 L105.8 180.5 L106.1 180.5 L106.4 180.5 L106.7 180.5 L107 180.5 L107.3 180.5 L107.6 180.5 L107.9 180.5 L108.2 180.5 L108.5 180.5 L108.8 180.5 L109.1 180.5 L109.4 180.5 L109.7 180.5 L110 180.5 L110.3 180.5 L110.6 180.5 L110.9 180.5 L111.2 180.5 L111.5 180.5 L111.8 180.5 L112.1 180.5 L112.4 180.5 L112.7 180.5 L113 180.5 L113.3 180.5 L113.6 180.5 L113.9 180.5 L114.2 180.5 L114.5 180.5 L114.8 180.5 L115.1 180.5 L115.4 180.5 L115.7 180.5 L116 180.5 L116.3 180.5 L116.6 180.5 L116.9 180.5 L117.2 180.5 L117.5 180.5 L117.8 180.5 L118.1 180.5 L118.4 180.5 L118.7 180.5 L119 180.5 L119.3 180.5 L119.6 180.5 L119.9 180.5 L120.2 180.5 L120.5 180.5 L120.8 180.5 L121.1 180.5 L121.4 180.5 L121.7 180.5 L122 180.5 L122.3 180.5 L122.6 180.5 L122.9 180.5 L123.2 180.5 L123.5 180.5 L123.8 180.5 L124.1 180.5 L124.4 180.5 L124.7 180.5 L125 180.5 L125.3 180.5 L125.6 180.5 L125.9 180.5 L126.2 180.5 L126.5 180.5 L126.8 180.5 L127.1 180.5 L127.4 180.5 L127.7 180.5 L128 180.5 L128.3 180.5 L128.6 180.5 L128.9 180.5 L129.2 180.5 L129.5 180.5 L129.8 180.5 L130.1 180.5 L130.4 180.5 L130.7 180.5 L131 180.5 L131.3 180.5 L131.6 180.5 L131.9 180.5 L132.2 180.5 L132.5 180.5 L132.8 180.5 L133.1 180.5 L133.4 180.5 L133.7 180.5 L134 180.5 L134.3 180.5" stroke="#e5323d"/>
<path d="M56 180.5 L56.3 180.5 L56.6 180.5 L56.9 180.5 L57.2 180.5 L57.5 180.5 L57.8 180.5 L58.1 180.5 L58.4 180.5 L58.7 180.5 L59 180.5 L59.3 180.5 L59.6 180.5 L59.9 180.5 L60.2 180.5 L60.5 180.5 L60.8 180.5 L61.1 180.5 L61.4 180.5 L61.7 180.5 L62 180.5 L62.3 180.5 L62.6 180.5 L62.9 180.5 L63.2 180.5 L63.5 180.5 L63.8 180.5 L64.1 180.5 L64.4 180.5 L64.7 180.5 L65 180.5 L65.3 180.5 L65.6 180.5 L65.9 180.5 L66.2 180.5 L66.5 180.5 L66.8 180.5 L67.1 180.5 L67.4 180.5 L67.7 180.5 L68 180.5 L68.3 180.5 L68.6 180.5 L68.9 180.5 L69.2 180.5 L69.5 180.5 L69.8 180.5 L70.1 180.5 L70.4 180.5 L70.7 180.5 L71 180.5 L71.3 180.5 L71.6 180.5 L71.9 180.5 L72.2 180.5 L72.5 180.5 L72.8 180.5 L73.1 180.5 L73.4 180.5 L73.7 180.5 L74 180.5 L74.3 180.5 L74.6 180.5 L74.9 180.5 L75.2 180.5 L75.5 180.5 L75.8 180.5 L76.1 180.5 L76.4 180.5 L76.7 180.5 L77 180.5 L77.3 180.5 L77.6 180.5 L77.9 180.5 L78.2 180.5 L78.5 180.5 L78.8 180.5 L79.1 180.5 L79.4 180.5 L79.7 180.5 L80 180.5 L80.3 180.5 L80.6 180.5 L80.9 180.5 L81.2 180.5 L81.5 180.5 L81.8 180.5 L82.1 180.5 L82.4 180.5 L82.7 180.5 L83 180.5 L83.3 180.5 L83.6 180.5 L83.9 180.5 L84.2 180.5 L84.5 180.5 L84.8 180.5 L85.1 180.5 L85.4 180.5 L85.7 180.5 L86 180.5 L86.3 180.5 L86.6 180.5 L86.9 180.5 L87.2 180.5 L87.5 180.5 L87.8 180.5 L88.1 180.5 L88.4 180.5 L88.7 180.5 L89 180.5 L89.3 180.5 L89.6 180.5 L89.9 180.5 L90.2 180.5 L90.5 180.5 L90.8 180.5 L91.1 180.5 L91.4 180.5 L91.7 180.49 L92 180.46 L92.3 180.37 L92.6 180.14 L92.9 179.61 L93.2 178.53 L93.5 176.56 L93.8 173.43 L94.1 169.1 L94.4 163.95 L94.7 158.92 L95 155.18 L95.3 153.8 L95.6 155.18 L95.9 158.92 L96.2 163.95 L96.5 169.1 L96.8 173.43 L97.1 176.56 L97.4 178.53 L97.7 179.61 L98 180.14 L98.3 180.37 L98.6 180.46 L98.9 180.49 L99.2 180.5 L99.5 180.5 L99.8 180.5 L100.1 180.5 L100.4 180.5 L100.7 180.5 L101 180.5 L101.3 180.5 L101.6 180.5 L101.9 180.5 L102.2 180.5 L102.5 180.5 L102.8 180.5 L103.1 180.5 L103.4 180.5 L103.7 180.5 L104 180.5 L104.3 180.5 L104.6 180.5 L104.9 180.5 L105.2 180.5 L105.5 180.5 L105.8 180.5 L106.1 180.5 L106.4 180.5 L106.7 180.5 L107 180.5 L107.3 180.48 L107.6 180.45 L107.9 180.34 L108.2 180.09 L108.5 179.52 L108.8 178.39 L109.1 176.44 L109.4 173.46 L109.7 169.54 L110 165.15 L110.3 161.18 L110.6 158.62 L110.9 158.23 L111.2 160.12 L111.5 163.73 L111.8 168.09 L112.1 172.25 L112.4 175.56 L112.7 177.84 L113 179.19 L113.3 179.86 L113.6 180.06 L113.9 179.85 L114.2 179.15 L114.5 177.74 L114.8 175.38 L115.1 171.95 L115.4 167.65 L115.7 163.13 L116 159.39 L116.3 157.44 L116.6 157.84 L116.9 160.49 L117.2 164.6 L117.5 169.15 L117.8 173.21 L118.1 176.29 L118.4 178.32 L118.7 179.48 L119 180.07 L119.3 180.34 L119.6 180.45 L119.9 180.48 L120.2 180.5 L120.5 180.5 L120.8 180.5 L121.1 180.5 L121.4 180.5 L121.7 180.5 L122 180.5 L122.3 180.5 L122.6 180.5 L122.9 180.5 L123.2 180.5 L123.5 180.5 L123.8 180.5 L124.1 180.5 L124.4 180.5 L124.7 180.5 L125 180.5 L125.3 180.5 L125.6 180.5 L125.9 180.5 L126.2 180.5 L126.5 180.5 L126.8 180.5 L127.1 180.5 L127.4 180.5 L127.7 180.5 L128 180.5 L128.3 180.5 L128.6 180.5 L128.9 180.5 L129.2 180.5 L129.5 180.5 L129.8 180.5 L130.1 180.5 L130.4 180.5 L130.7 180.5 L131 180.5 L131.3 180.5 L131.6 180.5 L131.9 180.5 L132.2 180.5 L132.5 180.5 L132.8 180.5 L133.1 180.5 L133.4 180.5 L133.7 180.5 L134 180.5 L134.3 180.5" stroke="#3a5cc0"/>
</g>
<rect x="55.5" y="26.3" width="78.7" height="163.4" fill="none" stroke="#333" stroke-width="0.8"/>
<text x="25.6" y="81.3" font-style="italic">UBA1<tspan font-size="4.2" dy="-3.8">+/y</tspan></text>
<line x1="16.8" y1="98.2" x2="16.8" y2="187.3" stroke="#8a8a8a" stroke-width="0.9"/>
<text transform="translate(12.4 158.2) rotate(-90)" x="0" y="0" font-style="italic">UBA1<tspan font-size="4" dy="-3.8">M41T/y</tspan></text>
<text x="37.3" y="129.3" text-anchor="middle">Pre-Tx</text>
<line x1="37.1" y1="138.3" x2="37.1" y2="156.5" stroke="#231f20" stroke-width="0.7"/>
<path d="M35.4 155.2 L37.1 160.0 L38.8 155.2 Z" fill="#231f20"/>
<text x="37.2" y="174.3" text-anchor="middle">Week 4</text>
<text x="37.2" y="181.2" text-anchor="middle">(CD33<tspan font-size="4" dy="-3.4">+</tspan><tspan dy="3.4">)</tspan></text>
<text x="156.7" y="7.7" font-size="10.5" font-weight="bold">b</text>
<text x="203.3" y="10.6" text-anchor="middle">CD45</text>
<line x1="182.3" y1="19.6" x2="182.3" y2="155.6" stroke="#231f20" stroke-width="0.7"/>
<line x1="179.5" y1="155.6" x2="227.4" y2="155.6" stroke="#231f20" stroke-width="0.7"/>
<line x1="179.6" y1="19.61" x2="182.3" y2="19.61" stroke="#231f20" stroke-width="0.7"/>
<text x="176.2" y="21.91" text-anchor="end">100</text>
<line x1="179.6" y1="64.94" x2="182.3" y2="64.94" stroke="#231f20" stroke-width="0.7"/>
<text x="176.2" y="67.24" text-anchor="end">10</text>
<line x1="179.6" y1="110.27" x2="182.3" y2="110.27" stroke="#231f20" stroke-width="0.7"/>
<text x="176.2" y="112.57" text-anchor="end">1</text>
<line x1="179.6" y1="155.6" x2="182.3" y2="155.6" stroke="#231f20" stroke-width="0.7"/>
<text x="176.2" y="157.9" text-anchor="end">0.1</text>
<rect x="184.5" y="56.1" width="8.3" height="99.5" fill="#231f20"/>
<rect x="195.2" y="38" width="8.6" height="117.6" fill="#231f20"/>
<rect x="207.4" y="61.8" width="8.1" height="93.8" fill="#e8312f" stroke="#231f20" stroke-width="0.6"/>
<rect x="218.5" y="96.1" width="7.6" height="59.5" fill="#e8312f" stroke="#231f20" stroke-width="0.6"/>
<line x1="188.6" y1="52.2" x2="188.6" y2="60" stroke="#231f20" stroke-width="0.7"/>
<line x1="186.3" y1="52.2" x2="190.9" y2="52.2" stroke="#231f20" stroke-width="0.7"/>
<line x1="186.3" y1="60" x2="190.9" y2="60" stroke="#231f20" stroke-width="0.7"/>
<line x1="199.5" y1="33.5" x2="199.5" y2="42.5" stroke="#231f20" stroke-width="0.7"/>
<line x1="197.2" y1="33.5" x2="201.8" y2="33.5" stroke="#231f20" stroke-width="0.7"/>
<line x1="197.2" y1="42.5" x2="201.8" y2="42.5" stroke="#231f20" stroke-width="0.7"/>
<line x1="211.4" y1="53.3" x2="211.4" y2="70.3" stroke="#231f20" stroke-width="0.7"/>
<line x1="209.1" y1="53.3" x2="213.7" y2="53.3" stroke="#231f20" stroke-width="0.7"/>
<line x1="209.1" y1="70.3" x2="213.7" y2="70.3" stroke="#231f20" stroke-width="0.7"/>
<line x1="222.3" y1="86.6" x2="222.3" y2="113" stroke="#231f20" stroke-width="0.7"/>
<line x1="220" y1="86.6" x2="224.6" y2="86.6" stroke="#231f20" stroke-width="0.7"/>
<line x1="220" y1="113" x2="224.6" y2="113" stroke="#231f20" stroke-width="0.7"/>
<path d="M199.2 16 L222.2 16 L222.2 55.8" fill="none" stroke="#9a9a9a" stroke-width="0.7"/>
<text transform="translate(229.6 51.8) rotate(-90)" x="0" y="0"><tspan font-style="italic">P</tspan> = 0.0003</text>
<circle cx="186.7" cy="39.9" r="1.95" fill="#fff" stroke="#231f20" stroke-width="0.6"/>
<circle cx="189.6" cy="40.3" r="1.95" fill="#fff" stroke="#231f20" stroke-width="0.6"/>
<circle cx="186.3" cy="45.9" r="1.95" fill="#fff" stroke="#231f20" stroke-width="0.6"/>
<circle cx="190.7" cy="47.9" r="1.95" fill="#fff" stroke="#231f20" stroke-width="0.6"/>
<circle cx="188.3" cy="49.6" r="1.95" fill="#fff" stroke="#231f20" stroke-width="0.6"/>
<circle cx="189" cy="77" r="1.95" fill="#fff" stroke="#231f20" stroke-width="0.6"/>
<circle cx="188.7" cy="77.3" r="1.95" fill="#fff" stroke="#231f20" stroke-width="0.6"/>
<circle cx="189.9" cy="83.2" r="1.95" fill="#fff" stroke="#231f20" stroke-width="0.6"/>
<circle cx="187.6" cy="85.2" r="1.95" fill="#fff" stroke="#231f20" stroke-width="0.6"/>
<circle cx="189.6" cy="93.2" r="1.95" fill="#fff" stroke="#231f20" stroke-width="0.6"/>
<circle cx="187.6" cy="95.2" r="1.95" fill="#fff" stroke="#231f20" stroke-width="0.6"/>
<circle cx="199.2" cy="22.2" r="1.95" fill="#fff" stroke="#231f20" stroke-width="0.6"/>
<circle cx="199.2" cy="26.6" r="1.95" fill="#fff" stroke="#231f20" stroke-width="0.6"/>
<circle cx="201.6" cy="34.3" r="1.95" fill="#fff" stroke="#231f20" stroke-width="0.6"/>
<circle cx="197.3" cy="36.3" r="1.95" fill="#fff" stroke="#231f20" stroke-width="0.6"/>
<circle cx="201.6" cy="39.9" r="1.95" fill="#fff" stroke="#231f20" stroke-width="0.6"/>
<circle cx="197.3" cy="43.2" r="1.95" fill="#fff" stroke="#231f20" stroke-width="0.6"/>
<circle cx="201.6" cy="46.1" r="1.95" fill="#fff" stroke="#231f20" stroke-width="0.6"/>
<circle cx="197.3" cy="49.2" r="1.95" fill="#fff" stroke="#231f20" stroke-width="0.6"/>
<circle cx="198.9" cy="59.6" r="1.95" fill="#fff" stroke="#231f20" stroke-width="0.6"/>
<circle cx="198.9" cy="69.6" r="1.95" fill="#fff" stroke="#231f20" stroke-width="0.6"/>
<circle cx="211.5" cy="27.7" r="1.95" fill="#fff" stroke="#231f20" stroke-width="0.6"/>
<circle cx="211.5" cy="47.9" r="1.95" fill="#fff" stroke="#231f20" stroke-width="0.6"/>
<circle cx="211.3" cy="66.9" r="1.95" fill="#fff" stroke="#231f20" stroke-width="0.6"/>
<circle cx="210.6" cy="76.6" r="1.95" fill="#fff" stroke="#231f20" stroke-width="0.6"/>
<circle cx="212.6" cy="77.3" r="1.95" fill="#fff" stroke="#231f20" stroke-width="0.6"/>
<circle cx="209.8" cy="92.5" r="1.95" fill="#fff" stroke="#231f20" stroke-width="0.6"/>
<circle cx="211.5" cy="91.9" r="1.95" fill="#fff" stroke="#231f20" stroke-width="0.6"/>
<circle cx="213.5" cy="95.2" r="1.95" fill="#fff" stroke="#231f20" stroke-width="0.6"/>
<circle cx="211.3" cy="105.6" r="1.95" fill="#fff" stroke="#231f20" stroke-width="0.6"/>
<circle cx="211.3" cy="111.1" r="1.95" fill="#fff" stroke="#231f20" stroke-width="0.6"/>
<circle cx="221.5" cy="59.8" r="1.95" fill="#fff" stroke="#231f20" stroke-width="0.6"/>
<circle cx="221.8" cy="84.6" r="1.95" fill="#fff" stroke="#231f20" stroke-width="0.6"/>
<circle cx="221.8" cy="104.9" r="1.95" fill="#fff" stroke="#231f20" stroke-width="0.6"/>
<circle cx="221.8" cy="110.7" r="1.95" fill="#fff" stroke="#231f20" stroke-width="0.6"/>
<circle cx="220.2" cy="119.1" r="1.95" fill="#fff" stroke="#231f20" stroke-width="0.6"/>
<circle cx="224.1" cy="121.4" r="1.95" fill="#fff" stroke="#231f20" stroke-width="0.6"/>
<circle cx="221.8" cy="129.1" r="1.95" fill="#fff" stroke="#231f20" stroke-width="0.6"/>
<line x1="188.6" y1="156.4" x2="188.6" y2="158.6" stroke="#231f20" stroke-width="0.7"/>
<text x="188.6" y="167.6" text-anchor="middle">4</text>
<line x1="199.5" y1="156.4" x2="199.5" y2="158.6" stroke="#231f20" stroke-width="0.7"/>
<text x="199.5" y="167.6" text-anchor="middle">8</text>
<line x1="211.4" y1="156.4" x2="211.4" y2="158.6" stroke="#231f20" stroke-width="0.7"/>
<text x="211.4" y="167.6" text-anchor="middle">4</text>
<line x1="222.3" y1="156.4" x2="222.3" y2="158.6" stroke="#231f20" stroke-width="0.7"/>
<text x="222.3" y="167.6" text-anchor="middle">8</text>
<text x="205.2" y="177.7" text-anchor="middle">Time after transplant</text>
<text x="205.5" y="185.2" text-anchor="middle">(weeks)</text>
<text transform="translate(162.6 87.7) rotate(-90)" x="0" y="0" text-anchor="middle">Percentage of  of human CD45<tspan font-size="4" dy="-3.4">+</tspan><tspan dy="3.4"> cells</tspan></text>
<rect x="242.3" y="17.1" width="8.7" height="7.8" fill="#231f20"/>
<rect x="242.6" y="31.2" width="8.2" height="7.4" fill="#e8312f" stroke="#333" stroke-width="0.6"/>
<text x="253.3" y="24.2" font-size="6.8" font-style="italic">UBA1<tspan font-size="4.2" dy="-4">+/y</tspan></text>
<text x="253.3" y="37.9" font-size="6.8" font-style="italic">UBA1<tspan font-size="4" dy="-4">M41T/y</tspan></text>
<text x="305.3" y="7.7" font-size="10.5" font-weight="bold">c</text>
<line x1="333.4" y1="18.6" x2="333.4" y2="155.3" stroke="#231f20" stroke-width="0.7"/>
<line x1="330.7" y1="155.3" x2="333.4" y2="155.3" stroke="#231f20" stroke-width="0.7"/>
<text x="326.2" y="157.6" text-anchor="end">0</text>
<line x1="330.7" y1="127.97" x2="333.4" y2="127.97" stroke="#231f20" stroke-width="0.7"/>
<text x="326.2" y="130.27" text-anchor="end">20</text>
<line x1="330.7" y1="100.64" x2="333.4" y2="100.64" stroke="#231f20" stroke-width="0.7"/>
<text x="326.2" y="102.94" text-anchor="end">40</text>
<line x1="330.7" y1="73.31" x2="333.4" y2="73.31" stroke="#231f20" stroke-width="0.7"/>
<text x="326.2" y="75.61" text-anchor="end">60</text>
<line x1="330.7" y1="45.98" x2="333.4" y2="45.98" stroke="#231f20" stroke-width="0.7"/>
<text x="326.2" y="48.28" text-anchor="end">80</text>
<line x1="330.7" y1="18.65" x2="333.4" y2="18.65" stroke="#231f20" stroke-width="0.7"/>
<text x="326.2" y="20.95" text-anchor="end">100</text>
<line x1="389.8" y1="18.6" x2="389.8" y2="155.3" stroke="#231f20" stroke-width="0.7"/>
<line x1="387.1" y1="155.3" x2="389.8" y2="155.3" stroke="#231f20" stroke-width="0.7"/>
<text x="382.6" y="157.6" text-anchor="end">0</text>
<line x1="387.1" y1="127.97" x2="389.8" y2="127.97" stroke="#231f20" stroke-width="0.7"/>
<text x="382.6" y="130.27" text-anchor="end">20</text>
<line x1="387.1" y1="100.64" x2="389.8" y2="100.64" stroke="#231f20" stroke-width="0.7"/>
<text x="382.6" y="102.94" text-anchor="end">40</text>
<line x1="387.1" y1="73.31" x2="389.8" y2="73.31" stroke="#231f20" stroke-width="0.7"/>
<text x="382.6" y="75.61" text-anchor="end">60</text>
<line x1="387.1" y1="45.98" x2="389.8" y2="45.98" stroke="#231f20" stroke-width="0.7"/>
<text x="382.6" y="48.28" text-anchor="end">80</text>
<line x1="387.1" y1="18.65" x2="389.8" y2="18.65" stroke="#231f20" stroke-width="0.7"/>
<text x="382.6" y="20.95" text-anchor="end">100</text>
<text x="347" y="10.6" text-anchor="middle">CD19</text>
<text x="404.2" y="10.6" text-anchor="middle">CD33</text>
<line x1="329.9" y1="155.3" x2="367.6" y2="155.3" stroke="#231f20" stroke-width="0.7"/>
<line x1="387" y1="155.3" x2="423.4" y2="155.3" stroke="#231f20" stroke-width="0.7"/>
<rect x="339.1" y="74" width="10.3" height="81.3" fill="#231f20"/>
<rect x="395.3" y="115.3" width="10.4" height="40" fill="#231f20"/>
<rect x="408.3" y="43" width="10.2" height="112.3" fill="#e8312f" stroke="#444" stroke-width="0.5"/>
<line x1="413.4" y1="40.2" x2="413.4" y2="48.3" stroke="#231f20" stroke-width="0.7"/>
<line x1="410.5" y1="40.2" x2="416.3" y2="40.2" stroke="#231f20" stroke-width="0.7"/>
<line x1="410.5" y1="48.3" x2="416.3" y2="48.3" stroke="#231f20" stroke-width="0.7"/>
<line x1="408.1" y1="109.3" x2="408.1" y2="121.4" stroke="#231f20" stroke-width="0.7"/>
<line x1="405.6" y1="109.3" x2="410.6" y2="109.3" stroke="#231f20" stroke-width="0.7"/>
<line x1="405.6" y1="121.4" x2="410.6" y2="121.4" stroke="#231f20" stroke-width="0.7"/>
<path d="M344.3 34.5 L357.2 34.5 L357.2 112.4" fill="none" stroke="#8a8a8a" stroke-width="0.7"/>
<path d="M413.9 19 L400.8 19 L400.8 81.4" fill="none" stroke="#8a8a8a" stroke-width="0.7"/>
<text transform="translate(364 90.4) rotate(-90)" x="0" y="0"><tspan font-style="italic">P</tspan> &lt; 0.0001</text>
<text transform="translate(398.3 59.2) rotate(-90)" x="0" y="0"><tspan font-style="italic">P</tspan> &lt; 0.0001</text>
<circle cx="341.3" cy="41.7" r="1.95" fill="#fff" stroke="#231f20" stroke-width="0.6"/>
<circle cx="344.3" cy="44.8" r="1.95" fill="#fff" stroke="#231f20" stroke-width="0.6"/>
<circle cx="343.9" cy="64.5" r="1.95" fill="#fff" stroke="#231f20" stroke-width="0.6"/>
<circle cx="342.1" cy="69.8" r="1.95" fill="#fff" stroke="#231f20" stroke-width="0.6"/>
<circle cx="345.9" cy="69.5" r="1.95" fill="#fff" stroke="#231f20" stroke-width="0.6"/>
<circle cx="343.9" cy="83.1" r="1.95" fill="#fff" stroke="#231f20" stroke-width="0.6"/>
<circle cx="340.5" cy="86.1" r="1.95" fill="#fff" stroke="#231f20" stroke-width="0.6"/>
<circle cx="347.4" cy="86.6" r="1.95" fill="#fff" stroke="#231f20" stroke-width="0.6"/>
<circle cx="343.9" cy="92.6" r="1.95" fill="#fff" stroke="#231f20" stroke-width="0.6"/>
<circle cx="343.9" cy="100.7" r="1.95" fill="#fff" stroke="#231f20" stroke-width="0.6"/>
<circle cx="354.6" cy="152.3" r="1.95" fill="#fff" stroke="#231f20" stroke-width="0.6"/>
<circle cx="357.4" cy="152.8" r="1.95" fill="#fff" stroke="#231f20" stroke-width="0.6"/>
<circle cx="353.6" cy="155" r="1.95" fill="#fff" stroke="#231f20" stroke-width="0.6"/>
<circle cx="357.1" cy="155.2" r="1.95" fill="#fff" stroke="#231f20" stroke-width="0.6"/>
<circle cx="360.6" cy="155" r="1.95" fill="#fff" stroke="#231f20" stroke-width="0.6"/>
<circle cx="410.5" cy="27.3" r="1.95" fill="#fff" stroke="#231f20" stroke-width="0.6"/>
<circle cx="414.3" cy="23.5" r="1.95" fill="#fff" stroke="#231f20" stroke-width="0.6"/>
<circle cx="414.3" cy="27.3" r="1.95" fill="#fff" stroke="#231f20" stroke-width="0.6"/>
<circle cx="413.6" cy="33.1" r="1.95" fill="#fff" stroke="#231f20" stroke-width="0.6"/>
<circle cx="413.3" cy="37.2" r="1.95" fill="#fff" stroke="#231f20" stroke-width="0.6"/>
<circle cx="411.3" cy="56.5" r="1.95" fill="#fff" stroke="#231f20" stroke-width="0.6"/>
<circle cx="413.6" cy="56.9" r="1.95" fill="#fff" stroke="#231f20" stroke-width="0.6"/>
<circle cx="415.4" cy="56.5" r="1.95" fill="#fff" stroke="#231f20" stroke-width="0.6"/>
<circle cx="413.3" cy="78.6" r="1.95" fill="#fff" stroke="#231f20" stroke-width="0.6"/>
<circle cx="400.4" cy="84.7" r="1.95" fill="#fff" stroke="#231f20" stroke-width="0.6"/>
<circle cx="400.6" cy="95.3" r="1.95" fill="#fff" stroke="#231f20" stroke-width="0.6"/>
<circle cx="402.3" cy="105" r="1.95" fill="#fff" stroke="#231f20" stroke-width="0.6"/>
<circle cx="398.3" cy="108.6" r="1.95" fill="#fff" stroke="#231f20" stroke-width="0.6"/>
<circle cx="400.6" cy="107.3" r="1.95" fill="#fff" stroke="#231f20" stroke-width="0.6"/>
<circle cx="403.6" cy="112.9" r="1.95" fill="#fff" stroke="#231f20" stroke-width="0.6"/>
<circle cx="400.3" cy="116.2" r="1.95" fill="#fff" stroke="#231f20" stroke-width="0.6"/>
<circle cx="397" cy="119.2" r="1.95" fill="#fff" stroke="#231f20" stroke-width="0.6"/>
<circle cx="403.6" cy="120.2" r="1.95" fill="#fff" stroke="#231f20" stroke-width="0.6"/>
<circle cx="401.9" cy="142.9" r="1.95" fill="#fff" stroke="#231f20" stroke-width="0.6"/>
<circle cx="398.7" cy="145.9" r="1.95" fill="#fff" stroke="#231f20" stroke-width="0.6"/>
<line x1="350.2" y1="155.3" x2="350.2" y2="158.4" stroke="#231f20" stroke-width="0.7"/>
<line x1="406.6" y1="155.3" x2="406.6" y2="158.4" stroke="#231f20" stroke-width="0.7"/>
<text x="350.2" y="167.7" text-anchor="middle">4</text>
<text x="406.6" y="167.7" text-anchor="middle">4</text>
<text x="377.7" y="178" text-anchor="middle">Time after transplant</text>
<text x="377.5" y="185.6" text-anchor="middle">(weeks)</text>
<text transform="translate(310.8 87.7) rotate(-90)" x="0" y="0" text-anchor="middle">Human CD19<tspan font-size="4" dy="-3.4">+</tspan><tspan dy="3.4"> cells (%)</tspan></text>
<defs><clipPath id="cpF1"><rect x="455.5" y="33.7" width="97.7" height="97.8"/></clipPath><clipPath id="cpF2"><rect x="568.7" y="33.7" width="97.2" height="97.8"/></clipPath></defs>
<g clip-path="url(#cpF1)">
<path d="M463.31 96.53h0.55M489.94 85.84h0.55M462.05 91.21h0.55M483.74 105.18h0.55M463.41 76.49h0.55M486.47 97.69h0.55M496.41 103.79h0.55M476.78 88.71h0.55M508.85 88.53h0.55M468.58 78.34h0.55M479.15 93.74h0.55M473.86 91.25h0.55M481.28 100.31h0.55M491.16 94.52h0.55M456.52 100.42h0.55M460.96 89.94h0.55M460.31 92.03h0.55M468.66 94.57h0.55M517.6 91.42h0.55M488.11 76.12h0.55M474.54 99.95h0.55M476.89 96.44h0.55M479.24 79.93h0.55M484.76 82.26h0.55M500.46 85.94h0.55M486.23 92.03h0.55M489.43 84.77h0.55M489.99 90.51h0.55M493.16 99.49h0.55M479.7 82.64h0.55M487.21 97.62h0.55M497.7 87.48h0.55M484.66 98.1h0.55M481.4 94.5h0.55M480.19 84.82h0.55M465.83 87.24h0.55M485.09 110.13h0.55M489.73 104.64h0.55M487.33 100.38h0.55M480.2 101.26h0.55M499.28 88.07h0.55M469.67 115.52h0.55M480.94 103.65h0.55M488.49 78.37h0.55M507.2 113.31h0.55M480.12 101.03h0.55M479.52 81.39h0.55M476.66 96.49h0.55M491.39 100.51h0.55M478.71 108.26h0.55M468.87 101.51h0.55M491.35 88.5h0.55M456.51 81.12h0.55M480.84 98.33h0.55M496.58 79.95h0.55M478.02 99.79h0.55M476.11 63.56h0.55M487.68 119.75h0.55M490.05 80.99h0.55M473.05 94.66h0.55M507.87 99.41h0.55M479.36 110.69h0.55M477.02 114.34h0.55M469.78 86.3h0.55M486.65 109.09h0.55M485.85 95.62h0.55M456.14 83.45h0.55M470.67 85.6h0.55M485.04 87.98h0.55M487.45 92.99h0.55M474.01 93.42h0.55M483.15 102.3h0.55M472.27 89.21h0.55M461.64 111.25h0.55M495.42 89.85h0.55M472.26 77.17h0.55M480.04 94.48h0.55M504.18 94.96h0.55M468.67 62.66h0.55M494.91 94.27h0.55M458.69 94.16h0.55M491.43 98.87h0.55M475.9 66.32h0.55M476.48 73.35h0.55M485.15 66.33h0.55M467.11 106.63h0.55M497.73 77.83h0.55M459.59 102.55h0.55M488.24 80.16h0.55M469.67 83.67h0.55M463.73 83.84h0.55M493.01 100.28h0.55M502.68 90.96h0.55M476.38 80.21h0.55M476.51 76.24h0.55M456.67 100.36h0.55M495.28 102.04h0.55M493.99 95.03h0.55M469.38 93.04h0.55M473.51 78.66h0.55M457.69 74.21h0.55M477.93 93.81h0.55M472.31 109.15h0.55M480.15 98.99h0.55M492.62 82.16h0.55M469.74 107.73h0.55M482.05 104.08h0.55M487.16 67.03h0.55" stroke="#555" stroke-width="0.55" opacity="0.75"/>
<path d="M507.55 108.86h0.55M519.22 103.16h0.55M531.67 107.53h0.55M519.26 121.42h0.55M517.05 96.9h0.55M508.26 102.79h0.55M528.58 113.82h0.55M533.39 121.82h0.55M539.24 112.34h0.55M535.6 112.51h0.55M516.71 113.96h0.55M523.06 105.7h0.55M542.61 113.62h0.55M517.64 106.8h0.55M546.14 105.44h0.55M529.98 112.45h0.55M527.72 112.2h0.55M517.68 103.7h0.55M520.94 104.55h0.55M530.74 119.95h0.55M513.55 111.88h0.55M512.63 101.84h0.55M520.14 108.32h0.55M518.12 86.29h0.55M536.6 105.25h0.55M516.11 112.97h0.55M516.5 95.86h0.55M527.53 110.84h0.55M514.18 114.25h0.55M526.34 98.24h0.55M540.31 109.62h0.55M511.05 111.11h0.55M523.84 115.32h0.55M508.87 115.88h0.55M532.1 113.08h0.55M528.74 118.1h0.55M529.83 108.48h0.55M514.06 116.45h0.55M532.5 109.85h0.55M524.08 113.29h0.55M497.03 110h0.55M497.19 109.38h0.55M533.25 122.79h0.55M517.74 110.9h0.55M521.8 89.36h0.55M529.9 107.27h0.55M523.18 99.74h0.55M522.07 108.05h0.55M535.46 109.77h0.55M519.8 106.96h0.55M514.26 119.64h0.55M529.03 97.06h0.55M523.57 116.71h0.55M508.1 108.59h0.55M520.07 126.31h0.55M526.68 104.07h0.55M516.78 122.71h0.55M517.75 125.9h0.55M506.64 105.82h0.55M520.05 101.67h0.55M520.33 112.99h0.55M515.74 95.75h0.55M536.11 119.29h0.55M515.48 109.85h0.55M496.39 115.82h0.55M508.98 102.88h0.55M544.4 97.14h0.55M522.68 98.7h0.55M503.73 97.93h0.55M525.21 96.78h0.55M516.49 113.28h0.55M520.86 96.74h0.55M537.65 108.35h0.55M536.71 98.87h0.55M539.57 96.44h0.55M504.78 103.93h0.55M518.69 109.5h0.55M516.78 112.52h0.55M535.99 102.07h0.55M508.52 104.12h0.55M530.76 113.98h0.55M518.94 99.37h0.55M522.27 115.17h0.55M515.22 117.89h0.55M524.74 109.71h0.55M516.1 118.4h0.55M522.89 95.28h0.55M530.75 103.96h0.55M533.37 108.72h0.55" stroke="#555" stroke-width="0.55" opacity="0.75"/>
<path d="M502.85 118.4h0.55M485.43 45.82h0.55M512.11 99.65h0.55M515.75 97.55h0.55M503.68 73.44h0.55M487.99 82.02h0.55M497.64 107.47h0.55M522.92 59.33h0.55M525 86.6h0.55M535.6 120.49h0.55M521.6 47.93h0.55M524.07 52.75h0.55M547.19 72.76h0.55M502.95 127.81h0.55M463.21 88.06h0.55M480.63 75.86h0.55M487.57 102.57h0.55M500.13 95.12h0.55M523.96 49.34h0.55M543.16 81.97h0.55M465.85 72.79h0.55M529.88 109.78h0.55M490.39 89.78h0.55M513.92 110.58h0.55M504.42 109.4h0.55" stroke="#555" stroke-width="0.55" opacity="0.75"/>
<path d="M464.5 88 C465.42 86.25 467.75 89.08 470 89.5 C472.25 89.92 475.33 90 478 90.5 C480.67 91 483.5 91.75 486 92.5 C488.5 93.25 491.17 93.75 493 95 C494.83 96.25 496.25 98 497 100 C497.75 102 498 104.83 497.5 107 C497 109.17 495.92 111.5 494 113 C492.08 114.5 489 115.42 486 116 C483 116.58 478.92 116.83 476 116.5 C473.08 116.17 470.33 115.42 468.5 114 C466.67 112.58 465.67 110.33 465 108 C464.33 105.67 464.58 103.33 464.5 100 C464.42 96.67 463.58 89.75 464.5 88 Z" fill="none" stroke="#aaaaaa" stroke-width="0.45"/>
<path d="M466.25 90.24 C467.04 88.73 469.05 91.17 470.98 91.53 C472.92 91.89 475.57 91.96 477.86 92.39 C480.15 92.82 482.59 93.47 484.74 94.11 C486.89 94.75 489.18 95.19 490.76 96.26 C492.34 97.34 493.56 98.84 494.2 100.56 C494.84 102.28 495.06 104.72 494.63 106.58 C494.2 108.44 493.27 110.45 491.62 111.74 C489.97 113.03 487.32 113.82 484.74 114.32 C482.16 114.82 478.65 115.04 476.14 114.75 C473.63 114.46 471.27 113.82 469.69 112.6 C468.11 111.38 467.25 109.45 466.68 107.44 C466.11 105.43 466.32 103.43 466.25 100.56 C466.18 97.69 465.46 91.74 466.25 90.24 Z" fill="none" stroke="#9c9c9c" stroke-width="0.45"/>
<path d="M468 92.48 C468.66 91.22 470.34 93.26 471.96 93.56 C473.58 93.86 475.8 93.92 477.72 94.28 C479.64 94.64 481.68 95.18 483.48 95.72 C485.28 96.26 487.2 96.62 488.52 97.52 C489.84 98.42 490.86 99.68 491.4 101.12 C491.94 102.56 492.12 104.6 491.76 106.16 C491.4 107.72 490.62 109.4 489.24 110.48 C487.86 111.56 485.64 112.22 483.48 112.64 C481.32 113.06 478.38 113.24 476.28 113 C474.18 112.76 472.2 112.22 470.88 111.2 C469.56 110.18 468.84 108.56 468.36 106.88 C467.88 105.2 468.06 103.52 468 101.12 C467.94 98.72 467.34 93.74 468 92.48 Z" fill="none" stroke="#8e8e8e" stroke-width="0.45"/>
<path d="M469.75 94.72 C470.28 93.7 471.63 95.35 472.94 95.59 C474.25 95.83 476.03 95.88 477.58 96.17 C479.13 96.46 480.77 96.89 482.22 97.33 C483.67 97.77 485.22 98.06 486.28 98.78 C487.34 99.5 488.17 100.52 488.6 101.68 C489.04 102.84 489.18 104.48 488.89 105.74 C488.6 107 487.97 108.35 486.86 109.22 C485.75 110.09 483.96 110.62 482.22 110.96 C480.48 111.3 478.11 111.44 476.42 111.25 C474.73 111.06 473.13 110.62 472.07 109.8 C471.01 108.98 470.43 107.67 470.04 106.32 C469.65 104.97 469.8 103.61 469.75 101.68 C469.7 99.75 469.22 95.73 469.75 94.72 Z" fill="none" stroke="#808080" stroke-width="0.45"/>
<path d="M471.5 96.96 C471.9 96.19 472.93 97.44 473.92 97.62 C474.91 97.8 476.27 97.84 477.44 98.06 C478.61 98.28 479.86 98.61 480.96 98.94 C482.06 99.27 483.23 99.49 484.04 100.04 C484.85 100.59 485.47 101.36 485.8 102.24 C486.13 103.12 486.24 104.37 486.02 105.32 C485.8 106.27 485.32 107.3 484.48 107.96 C483.64 108.62 482.28 109.02 480.96 109.28 C479.64 109.54 477.84 109.65 476.56 109.5 C475.28 109.35 474.07 109.02 473.26 108.4 C472.45 107.78 472.01 106.79 471.72 105.76 C471.43 104.73 471.54 103.71 471.5 102.24 C471.46 100.77 471.1 97.73 471.5 96.96 Z" fill="none" stroke="#727272" stroke-width="0.45"/>
<path d="M476.5 104 C476.51 104.64 476.07 105.41 475.56 105.95 C475.04 106.5 474.23 107.08 473.41 107.28 C472.59 107.48 471.49 107.36 470.65 107.15 C469.81 106.94 468.93 106.52 468.37 105.99 C467.81 105.47 467.26 104.65 467.29 104 C467.31 103.35 467.95 102.61 468.51 102.08 C469.07 101.56 469.82 101.05 470.63 100.83 C471.45 100.6 472.61 100.5 473.42 100.71 C474.22 100.92 474.98 101.54 475.49 102.08 C476 102.63 476.49 103.36 476.5 104 Z" fill="none" stroke="#9a9a9a" stroke-width="0.45"/>
<path d="M485.82 103.5 C485.81 104.2 485.8 105.07 485.3 105.59 C484.81 106.11 483.71 106.42 482.84 106.62 C481.97 106.82 480.93 106.99 480.08 106.81 C479.23 106.64 478.27 106.12 477.74 105.57 C477.2 105.01 476.86 104.17 476.89 103.5 C476.92 102.83 477.39 102.07 477.93 101.54 C478.47 101.01 479.3 100.54 480.13 100.31 C480.96 100.09 482.06 100.01 482.92 100.19 C483.78 100.38 484.83 100.86 485.31 101.41 C485.79 101.96 485.82 102.8 485.82 103.5 Z" fill="none" stroke="#9a9a9a" stroke-width="0.45"/>
<path d="M475.07 104 C475.06 104.47 474.9 105.03 474.55 105.4 C474.19 105.76 473.53 106.03 472.94 106.19 C472.35 106.34 471.57 106.47 471 106.34 C470.43 106.2 469.88 105.75 469.52 105.36 C469.16 104.97 468.86 104.47 468.83 104 C468.8 103.53 468.98 102.91 469.34 102.54 C469.71 102.17 470.42 101.91 471.04 101.76 C471.65 101.61 472.42 101.5 473.02 101.63 C473.61 101.77 474.27 102.17 474.61 102.57 C474.95 102.96 475.08 103.53 475.07 104 Z" fill="none" stroke="#9a9a9a" stroke-width="0.45"/>
<path d="M484.8 103.5 C484.82 103.96 484.45 104.53 484.06 104.91 C483.68 105.28 483.06 105.61 482.47 105.76 C481.88 105.9 481.12 105.91 480.52 105.77 C479.93 105.63 479.27 105.31 478.88 104.94 C478.5 104.56 478.18 103.97 478.2 103.5 C478.21 103.03 478.58 102.48 478.97 102.11 C479.36 101.75 479.97 101.44 480.55 101.3 C481.13 101.16 481.9 101.12 482.46 101.26 C483.03 101.41 483.55 101.79 483.94 102.16 C484.33 102.53 484.78 103.04 484.8 103.5 Z" fill="none" stroke="#9a9a9a" stroke-width="0.45"/>
<path d="M474.12 104 C474.11 104.29 473.81 104.61 473.57 104.86 C473.32 105.11 473 105.39 472.64 105.49 C472.27 105.59 471.77 105.54 471.38 105.45 C470.98 105.36 470.52 105.18 470.29 104.94 C470.06 104.7 469.99 104.31 469.99 104 C469.99 103.69 470.06 103.3 470.29 103.06 C470.53 102.83 471 102.69 471.4 102.59 C471.79 102.5 472.29 102.39 472.66 102.47 C473.03 102.56 473.38 102.85 473.62 103.11 C473.87 103.36 474.13 103.71 474.12 104 Z" fill="none" stroke="#9a9a9a" stroke-width="0.45"/>
<path d="M483.43 103.5 C483.45 103.79 483.38 104.18 483.15 104.41 C482.93 104.64 482.48 104.79 482.1 104.89 C481.72 104.98 481.26 105.03 480.87 104.96 C480.49 104.88 480.01 104.69 479.78 104.44 C479.56 104.2 479.52 103.81 479.52 103.5 C479.52 103.19 479.56 102.8 479.78 102.56 C480.01 102.31 480.47 102.12 480.87 102.03 C481.26 101.93 481.78 101.89 482.15 101.99 C482.52 102.09 482.85 102.39 483.06 102.64 C483.27 102.9 483.42 103.21 483.43 103.5 Z" fill="none" stroke="#9a9a9a" stroke-width="0.45"/>
<path d="M492 101.5 L508 107.5 L492 113.5" fill="none" stroke="#b0b0b0" stroke-width="0.4"/>
<path d="M492 99.5 L506.5 107.5 L492 115.5" fill="none" stroke="#b0b0b0" stroke-width="0.4"/>
<path d="M492 97.5 L505 107.5 L492 117.5" fill="none" stroke="#b0b0b0" stroke-width="0.4"/>
<path d="M492 95.5 L503.5 107.5 L492 119.5" fill="none" stroke="#b0b0b0" stroke-width="0.4"/>
<path d="M492 93.5 L502 107.5 L492 121.5" fill="none" stroke="#b0b0b0" stroke-width="0.4"/>
<path d="M468 88 C469 95 467 100 468 106" fill="none" stroke="#a8a8a8" stroke-width="0.4"/>
<path d="M474 88 C475 95 473 100 474 106" fill="none" stroke="#a8a8a8" stroke-width="0.4"/>
<path d="M480 88 C481 95 479 100 480 106" fill="none" stroke="#a8a8a8" stroke-width="0.4"/>
<path d="M486 88 C487 95 485 100 486 106" fill="none" stroke="#a8a8a8" stroke-width="0.4"/>
<path d="M462 78 C462.5 76.5 463.5 74.95 465 74 C466.5 73.05 468.83 72.5 471 72.3 C473.17 72.1 475.83 72.27 478 72.8 C480.17 73.33 482.17 74.3 484 75.5 C485.83 76.7 487.67 78.25 489 80 C490.33 81.75 491.58 84.17 492 86 C492.42 87.83 492.17 89.75 491.5 91 C490.83 92.25 489.58 93.17 488 93.5 C486.42 93.83 484 93.33 482 93 C480 92.67 478 92.08 476 91.5 C474 90.92 471.83 90.25 470 89.5 C468.17 88.75 466.33 88.08 465 87 C463.67 85.92 462.5 84.5 462 83 C461.5 81.5 461.5 79.5 462 78 Z" fill="#efefef" stroke="#b8b8b8" stroke-width="0.35"/>
<path d="M463.25 78.55 C463.7 77.2 464.6 75.81 465.95 74.95 C467.3 74.09 469.4 73.6 471.35 73.42 C473.3 73.24 475.7 73.39 477.65 73.87 C479.6 74.35 481.4 75.22 483.05 76.3 C484.7 77.38 486.35 78.77 487.55 80.35 C488.75 81.92 489.88 84.1 490.25 85.75 C490.62 87.4 490.4 89.12 489.8 90.25 C489.2 91.38 488.07 92.2 486.65 92.5 C485.22 92.8 483.05 92.35 481.25 92.05 C479.45 91.75 477.65 91.22 475.85 90.7 C474.05 90.18 472.1 89.58 470.45 88.9 C468.8 88.23 467.15 87.62 465.95 86.65 C464.75 85.68 463.7 84.4 463.25 83.05 C462.8 81.7 462.8 79.9 463.25 78.55 Z" fill="#e0e0e0" stroke="#a0a0a0" stroke-width="0.35"/>
<path d="M464.5 79.1 C464.9 77.9 465.7 76.66 466.9 75.9 C468.1 75.14 469.97 74.7 471.7 74.54 C473.43 74.38 475.57 74.51 477.3 74.94 C479.03 75.37 480.63 76.14 482.1 77.1 C483.57 78.06 485.03 79.3 486.1 80.7 C487.17 82.1 488.17 84.03 488.5 85.5 C488.83 86.97 488.63 88.5 488.1 89.5 C487.57 90.5 486.57 91.23 485.3 91.5 C484.03 91.77 482.1 91.37 480.5 91.1 C478.9 90.83 477.3 90.37 475.7 89.9 C474.1 89.43 472.37 88.9 470.9 88.3 C469.43 87.7 467.97 87.17 466.9 86.3 C465.83 85.43 464.9 84.3 464.5 83.1 C464.1 81.9 464.1 80.3 464.5 79.1 Z" fill="#cccccc" stroke="#8a8a8a" stroke-width="0.35"/>
<path d="M465.75 79.65 C466.1 78.6 466.8 77.52 467.85 76.85 C468.9 76.18 470.53 75.8 472.05 75.66 C473.57 75.52 475.43 75.64 476.95 76.01 C478.47 76.38 479.87 77.06 481.15 77.9 C482.43 78.74 483.72 79.83 484.65 81.05 C485.58 82.27 486.46 83.97 486.75 85.25 C487.04 86.53 486.87 87.88 486.4 88.75 C485.93 89.62 485.06 90.27 483.95 90.5 C482.84 90.73 481.15 90.38 479.75 90.15 C478.35 89.92 476.95 89.51 475.55 89.1 C474.15 88.69 472.63 88.22 471.35 87.7 C470.07 87.18 468.78 86.71 467.85 85.95 C466.92 85.19 466.1 84.2 465.75 83.15 C465.4 82.1 465.4 80.7 465.75 79.65 Z" fill="#b5b5b5" stroke="#727272" stroke-width="0.35"/>
<path d="M467 80.2 C467.3 79.3 467.9 78.37 468.8 77.8 C469.7 77.23 471.1 76.9 472.4 76.78 C473.7 76.66 475.3 76.76 476.6 77.08 C477.9 77.4 479.1 77.98 480.2 78.7 C481.3 79.42 482.4 80.35 483.2 81.4 C484 82.45 484.75 83.9 485 85 C485.25 86.1 485.1 87.25 484.7 88 C484.3 88.75 483.55 89.3 482.6 89.5 C481.65 89.7 480.2 89.4 479 89.2 C477.8 89 476.6 88.65 475.4 88.3 C474.2 87.95 472.9 87.55 471.8 87.1 C470.7 86.65 469.6 86.25 468.8 85.6 C468 84.95 467.3 84.1 467 83.2 C466.7 82.3 466.7 81.1 467 80.2 Z" fill="#a3a3a3" stroke="#636363" stroke-width="0.35"/>
<path d="M468.25 80.75 C468.5 80 469 79.22 469.75 78.75 C470.5 78.28 471.67 78 472.75 77.9 C473.83 77.8 475.17 77.88 476.25 78.15 C477.33 78.42 478.33 78.9 479.25 79.5 C480.17 80.1 481.08 80.88 481.75 81.75 C482.42 82.62 483.04 83.83 483.25 84.75 C483.46 85.67 483.33 86.62 483 87.25 C482.67 87.88 482.04 88.33 481.25 88.5 C480.46 88.67 479.25 88.42 478.25 88.25 C477.25 88.08 476.25 87.79 475.25 87.5 C474.25 87.21 473.17 86.88 472.25 86.5 C471.33 86.12 470.42 85.79 469.75 85.25 C469.08 84.71 468.5 84 468.25 83.25 C468 82.5 468 81.5 468.25 80.75 Z" fill="#a0a0a0" stroke="#606060" stroke-width="0.35"/>
<path d="M469.38 81.25 C469.58 80.63 469.99 79.99 470.61 79.61 C471.22 79.22 472.18 78.99 473.06 78.91 C473.95 78.83 475.05 78.89 475.94 79.11 C476.82 79.33 477.64 79.73 478.39 80.22 C479.15 80.71 479.9 81.35 480.44 82.06 C480.99 82.78 481.5 83.77 481.68 84.53 C481.85 85.28 481.74 86.06 481.47 86.58 C481.2 87.09 480.68 87.46 480.04 87.6 C479.39 87.74 478.39 87.53 477.57 87.39 C476.75 87.26 475.94 87.02 475.12 86.78 C474.3 86.54 473.41 86.27 472.65 85.96 C471.9 85.65 471.15 85.38 470.61 84.94 C470.06 84.49 469.58 83.91 469.38 83.3 C469.17 82.68 469.17 81.86 469.38 81.25 Z" fill="#b0b0b0" stroke="#6a6a6a" stroke-width="0.35"/>
<path d="M470.5 81.74 C470.66 81.26 470.98 80.76 471.46 80.46 C471.94 80.16 472.69 79.98 473.38 79.92 C474.07 79.85 474.93 79.91 475.62 80.08 C476.31 80.25 476.95 80.56 477.54 80.94 C478.13 81.32 478.71 81.82 479.14 82.38 C479.57 82.94 479.97 83.71 480.1 84.3 C480.23 84.89 480.15 85.5 479.94 85.9 C479.73 86.3 479.33 86.59 478.82 86.7 C478.31 86.81 477.54 86.65 476.9 86.54 C476.26 86.43 475.62 86.25 474.98 86.06 C474.34 85.87 473.65 85.66 473.06 85.42 C472.47 85.18 471.89 84.97 471.46 84.62 C471.03 84.27 470.66 83.82 470.5 83.34 C470.34 82.86 470.34 82.22 470.5 81.74 Z" fill="#c8c8c8" stroke="#7a7a7a" stroke-width="0.35"/>
<path d="M471.62 82.23 C471.74 81.89 471.97 81.53 472.31 81.31 C472.66 81.1 473.2 80.97 473.69 80.92 C474.19 80.88 474.81 80.92 475.31 81.04 C475.8 81.16 476.26 81.38 476.69 81.66 C477.11 81.94 477.53 82.29 477.83 82.69 C478.14 83.1 478.43 83.65 478.52 84.08 C478.62 84.5 478.56 84.94 478.41 85.22 C478.26 85.51 477.97 85.72 477.61 85.8 C477.24 85.88 476.69 85.76 476.23 85.69 C475.77 85.61 475.31 85.47 474.85 85.34 C474.38 85.21 473.89 85.05 473.46 84.88 C473.04 84.71 472.62 84.55 472.31 84.31 C472.01 84.06 471.74 83.73 471.62 83.39 C471.51 83.04 471.51 82.58 471.62 82.23 Z" fill="#e0e0e0" stroke="#909090" stroke-width="0.35"/>
<path d="M472.75 82.73 C472.82 82.52 472.96 82.3 473.17 82.17 C473.38 82.04 473.71 81.96 474.01 81.93 C474.31 81.9 474.69 81.93 474.99 82 C475.29 82.08 475.57 82.21 475.83 82.38 C476.09 82.55 476.34 82.77 476.53 83.01 C476.72 83.26 476.89 83.59 476.95 83.85 C477.01 84.11 476.97 84.38 476.88 84.55 C476.79 84.72 476.61 84.85 476.39 84.9 C476.17 84.95 475.83 84.88 475.55 84.83 C475.27 84.78 474.99 84.7 474.71 84.62 C474.43 84.54 474.13 84.45 473.87 84.34 C473.61 84.23 473.36 84.14 473.17 83.99 C472.98 83.84 472.82 83.64 472.75 83.43 C472.68 83.22 472.68 82.94 472.75 82.73 Z" fill="#f8f8f8" stroke="#a8a8a8" stroke-width="0.35"/>
<path d="M507.8 102.1 C508.58 100.68 510.25 98.87 512.1 97.8 C513.95 96.73 516.48 96.13 518.9 95.7 C521.32 95.27 524.32 94.92 526.6 95.2 C528.88 95.48 530.97 96.25 532.6 97.4 C534.23 98.55 535.7 100.47 536.4 102.1 C537.1 103.73 537.02 105.35 536.8 107.2 C536.58 109.05 536.08 111.57 535.1 113.2 C534.12 114.83 532.75 116.15 530.9 117 C529.05 117.85 526.28 118.15 524 118.3 C521.72 118.45 519.33 118.33 517.2 117.9 C515.07 117.47 512.7 116.77 511.2 115.7 C509.7 114.63 508.83 113.07 508.2 111.5 C507.57 109.93 507.47 107.87 507.4 106.3 C507.33 104.73 507.02 103.52 507.8 102.1 Z" fill="#efefef" stroke="#b8b8b8" stroke-width="0.35"/>
<path d="M509.4 102.73 C510.1 101.45 511.6 99.82 513.27 98.86 C514.93 97.9 517.21 97.36 519.39 96.97 C521.57 96.58 524.27 96.27 526.32 96.52 C528.38 96.78 530.25 97.47 531.72 98.5 C533.19 99.53 534.51 101.26 535.14 102.73 C535.77 104.2 535.69 105.66 535.5 107.32 C535.31 108.99 534.86 111.25 533.97 112.72 C533.09 114.19 531.85 115.38 530.19 116.14 C528.52 116.91 526.03 117.17 523.98 117.31 C521.93 117.45 519.78 117.34 517.86 116.95 C515.94 116.56 513.81 115.93 512.46 114.97 C511.11 114.01 510.33 112.6 509.76 111.19 C509.19 109.78 509.1 107.92 509.04 106.51 C508.98 105.1 508.69 104 509.4 102.73 Z" fill="#e0e0e0" stroke="#a0a0a0" stroke-width="0.35"/>
<path d="M511 103.36 C511.63 102.23 512.96 100.77 514.44 99.92 C515.92 99.07 517.95 98.59 519.88 98.24 C521.81 97.89 524.21 97.61 526.04 97.84 C527.87 98.07 529.53 98.68 530.84 99.6 C532.15 100.52 533.32 102.05 533.88 103.36 C534.44 104.67 534.37 105.96 534.2 107.44 C534.03 108.92 533.63 110.93 532.84 112.24 C532.05 113.55 530.96 114.6 529.48 115.28 C528 115.96 525.79 116.2 523.96 116.32 C522.13 116.44 520.23 116.35 518.52 116 C516.81 115.65 514.92 115.09 513.72 114.24 C512.52 113.39 511.83 112.13 511.32 110.88 C510.81 109.63 510.73 107.97 510.68 106.72 C510.63 105.47 510.37 104.49 511 103.36 Z" fill="#cccccc" stroke="#8a8a8a" stroke-width="0.35"/>
<path d="M512.6 103.99 C513.15 103 514.32 101.73 515.61 100.98 C516.9 100.23 518.68 99.81 520.37 99.51 C522.06 99.21 524.16 98.96 525.76 99.16 C527.36 99.36 528.82 99.9 529.96 100.7 C531.1 101.5 532.13 102.85 532.62 103.99 C533.11 105.13 533.05 106.27 532.9 107.56 C532.75 108.86 532.4 110.62 531.71 111.76 C531.02 112.9 530.07 113.83 528.77 114.42 C527.47 115.02 525.54 115.22 523.94 115.33 C522.34 115.44 520.67 115.35 519.18 115.05 C517.69 114.75 516.03 114.26 514.98 113.51 C513.93 112.76 513.32 111.67 512.88 110.57 C512.44 109.47 512.37 108.03 512.32 106.93 C512.27 105.83 512.05 104.98 512.6 103.99 Z" fill="#b5b5b5" stroke="#727272" stroke-width="0.35"/>
<path d="M514.2 104.62 C514.67 103.77 515.67 102.68 516.78 102.04 C517.89 101.4 519.41 101.04 520.86 100.78 C522.31 100.52 524.11 100.31 525.48 100.48 C526.85 100.65 528.1 101.11 529.08 101.8 C530.06 102.49 530.94 103.64 531.36 104.62 C531.78 105.6 531.73 106.57 531.6 107.68 C531.47 108.79 531.17 110.3 530.58 111.28 C529.99 112.26 529.17 113.05 528.06 113.56 C526.95 114.07 525.29 114.25 523.92 114.34 C522.55 114.43 521.12 114.36 519.84 114.1 C518.56 113.84 517.14 113.42 516.24 112.78 C515.34 112.14 514.82 111.2 514.44 110.26 C514.06 109.32 514 108.08 513.96 107.14 C513.92 106.2 513.73 105.47 514.2 104.62 Z" fill="#a3a3a3" stroke="#636363" stroke-width="0.35"/>
<path d="M515.8 105.25 C516.19 104.54 517.03 103.63 517.95 103.1 C518.88 102.57 520.14 102.27 521.35 102.05 C522.56 101.83 524.06 101.66 525.2 101.8 C526.34 101.94 527.38 102.33 528.2 102.9 C529.02 103.48 529.75 104.43 530.1 105.25 C530.45 106.07 530.41 106.88 530.3 107.8 C530.19 108.73 529.94 109.98 529.45 110.8 C528.96 111.62 528.27 112.28 527.35 112.7 C526.42 113.12 525.04 113.27 523.9 113.35 C522.76 113.42 521.57 113.37 520.5 113.15 C519.43 112.93 518.25 112.58 517.5 112.05 C516.75 111.52 516.32 110.73 516 109.95 C515.68 109.17 515.63 108.13 515.6 107.35 C515.57 106.57 515.41 105.96 515.8 105.25 Z" fill="#a0a0a0" stroke="#606060" stroke-width="0.35"/>
<path d="M517.24 105.82 C517.56 105.24 518.24 104.49 519 104.05 C519.76 103.62 520.8 103.37 521.79 103.19 C522.78 103.02 524.01 102.87 524.95 102.99 C525.88 103.1 526.74 103.42 527.41 103.89 C528.08 104.36 528.68 105.15 528.97 105.82 C529.25 106.49 529.22 107.15 529.13 107.91 C529.04 108.67 528.84 109.7 528.43 110.37 C528.03 111.04 527.47 111.58 526.71 111.93 C525.95 112.27 524.82 112.4 523.88 112.46 C522.95 112.52 521.97 112.47 521.09 112.3 C520.22 112.12 519.25 111.83 518.63 111.39 C518.02 110.96 517.66 110.31 517.4 109.67 C517.14 109.03 517.1 108.18 517.08 107.54 C517.05 106.9 516.92 106.4 517.24 105.82 Z" fill="#b0b0b0" stroke="#6a6a6a" stroke-width="0.35"/>
<path d="M518.68 106.38 C518.93 105.93 519.46 105.35 520.06 105.01 C520.65 104.67 521.46 104.47 522.23 104.34 C523.01 104.2 523.97 104.09 524.7 104.18 C525.43 104.27 526.09 104.51 526.62 104.88 C527.14 105.25 527.61 105.86 527.83 106.38 C528.06 106.91 528.03 107.42 527.96 108.02 C527.89 108.61 527.73 109.41 527.42 109.94 C527.1 110.46 526.66 110.88 526.07 111.15 C525.48 111.42 524.59 111.52 523.86 111.57 C523.13 111.62 522.37 111.58 521.69 111.44 C521.01 111.3 520.25 111.08 519.77 110.74 C519.29 110.39 519.01 109.89 518.81 109.39 C518.61 108.89 518.57 108.23 518.55 107.73 C518.53 107.23 518.43 106.84 518.68 106.38 Z" fill="#c8c8c8" stroke="#7a7a7a" stroke-width="0.35"/>
<path d="M520.12 106.95 C520.3 106.63 520.68 106.21 521.11 105.96 C521.53 105.72 522.12 105.58 522.67 105.48 C523.23 105.38 523.92 105.3 524.44 105.36 C524.97 105.43 525.45 105.61 525.82 105.87 C526.2 106.13 526.54 106.58 526.7 106.95 C526.86 107.33 526.84 107.7 526.79 108.12 C526.74 108.55 526.63 109.13 526.4 109.5 C526.17 109.88 525.86 110.18 525.43 110.38 C525.01 110.57 524.37 110.64 523.85 110.68 C523.32 110.71 522.77 110.68 522.28 110.59 C521.79 110.49 521.25 110.32 520.9 110.08 C520.56 109.83 520.36 109.47 520.21 109.11 C520.07 108.75 520.04 108.28 520.03 107.92 C520.01 107.56 519.94 107.28 520.12 106.95 Z" fill="#e0e0e0" stroke="#909090" stroke-width="0.35"/>
<path d="M521.56 107.52 C521.67 107.32 521.9 107.07 522.16 106.92 C522.42 106.77 522.78 106.68 523.11 106.62 C523.45 106.56 523.87 106.51 524.19 106.55 C524.51 106.59 524.8 106.7 525.03 106.86 C525.26 107.02 525.47 107.29 525.56 107.52 C525.66 107.75 525.65 107.97 525.62 108.23 C525.59 108.49 525.52 108.84 525.38 109.07 C525.24 109.3 525.05 109.48 524.79 109.6 C524.53 109.72 524.15 109.77 523.83 109.79 C523.51 109.81 523.17 109.79 522.88 109.73 C522.58 109.67 522.25 109.57 522.04 109.42 C521.83 109.27 521.7 109.05 521.62 108.83 C521.53 108.61 521.51 108.33 521.5 108.11 C521.49 107.89 521.45 107.72 521.56 107.52 Z" fill="#f8f8f8" stroke="#a8a8a8" stroke-width="0.35"/>
</g>
<rect x="455.5" y="33.7" width="97.7" height="97.8" fill="none" stroke="#333" stroke-width="0.6"/>
<path d="M453.6 102h1.9M454.4 95.68h1.1M454.4 91.98h1.1M454.4 89.36h1.1M454.4 87.32h1.1M454.4 85.66h1.1M454.4 84.25h1.1M454.4 83.04h1.1M454.4 81.96h1.1M453.6 81h1.9M454.4 74.68h1.1M454.4 70.98h1.1M454.4 68.36h1.1M454.4 66.32h1.1M454.4 64.66h1.1M454.4 63.25h1.1M454.4 62.04h1.1M454.4 60.96h1.1M453.6 60h1.9M454.4 53.68h1.1M454.4 49.98h1.1M454.4 47.36h1.1M454.4 45.32h1.1M454.4 43.66h1.1M454.4 42.25h1.1M454.4 41.04h1.1M454.4 39.96h1.1M453.6 39h1.9M454.4 106h1.1M454.4 110h1.1M454.4 114h1.1M454.4 118h1.1M454.4 122h1.1M454.4 126h1.1M487 131.5v1.9M472.67 131.5v1.1M476.28 131.5v1.1M478.84 131.5v1.1M480.83 131.5v1.1M482.45 131.5v1.1M483.82 131.5v1.1M485.01 131.5v1.1M486.06 131.5v1.1M511 131.5v1.9M496.67 131.5v1.1M500.28 131.5v1.1M502.84 131.5v1.1M504.83 131.5v1.1M506.45 131.5v1.1M507.82 131.5v1.1M509.01 131.5v1.1M510.06 131.5v1.1M531.9 131.5v1.9M517.57 131.5v1.1M521.18 131.5v1.1M523.74 131.5v1.1M525.73 131.5v1.1M527.35 131.5v1.1M528.72 131.5v1.1M529.91 131.5v1.1M530.96 131.5v1.1M550.8 131.5v1.9M536.47 131.5v1.1M540.08 131.5v1.1M542.64 131.5v1.1M544.63 131.5v1.1M546.25 131.5v1.1M547.62 131.5v1.1M548.81 131.5v1.1M549.86 131.5v1.1M469.5 131.5v1.1M472.5 131.5v1.1M475.5 131.5v1.1M478.5 131.5v1.1M481.5 131.5v1.1" stroke="#333" stroke-width="0.45"/>
<rect x="454.2" y="109" width="1.6" height="1.6" fill="#111"/>
<rect x="477.4" y="130.7" width="1.6" height="1.6" fill="#111"/>
<line x1="455.5" y1="99.7" x2="499.7" y2="99.7" stroke="#b4b4b4" stroke-width="1.4"/>
<path d="M455.5 59.2 L499.7 59.2 L499.7 99.7" fill="none" stroke="#222" stroke-width="0.65"/>
<rect x="507.2" y="83.8" width="38" height="39.1" fill="none" stroke="#555" stroke-width="0.6"/>
<text x="509.4" y="30.2" font-size="6.3" text-anchor="middle" font-style="italic">UBA1<tspan font-size="4.2" dy="-3.6">+/y</tspan></text>
<text x="458.2" y="56.9" font-size="6.7">29.5 &#177; 4.4 %</text>
<text x="508.8" y="81.5" font-size="6.7">59.7 &#177; 4.5 %</text>
<g clip-path="url(#cpF2)">
<path d="M593.01 101.8h0.55M579.2 75.72h0.55M589.38 106.8h0.55M589.84 72.56h0.55M579.4 85.72h0.55M594.67 86.23h0.55M583.07 83.68h0.55M587.78 77.6h0.55M586.29 89.51h0.55M600.74 85.7h0.55M594.81 74.26h0.55M593.86 88.28h0.55M581.54 86.09h0.55M594.24 82.58h0.55M595.35 104.29h0.55M600.61 105.45h0.55M575.09 90.41h0.55M580.29 97.53h0.55M586.96 89.05h0.55M590.38 79.45h0.55M587.16 77.94h0.55M604.7 81.04h0.55M586.46 65.65h0.55M573.28 76.57h0.55M593.35 95.5h0.55M588.81 78.88h0.55M602.67 74.35h0.55M578.77 92.15h0.55M577.53 89.57h0.55M594.89 85.62h0.55M589.93 86.89h0.55M580.37 49.05h0.55M575.54 86.35h0.55M571.8 79.79h0.55M588.16 102.19h0.55M574.22 80.18h0.55M588.32 92.64h0.55M574.08 108.4h0.55M579.08 99.29h0.55M584.54 91.25h0.55M601.12 94.82h0.55M587.47 74.54h0.55M580.51 69.54h0.55M604.24 68.02h0.55M597.68 82.15h0.55M593.76 76.66h0.55M581.19 92.37h0.55M589.81 80.99h0.55M600.76 95.16h0.55M587.55 72.37h0.55M587.53 82.64h0.55M585.63 95.92h0.55M581.18 89.55h0.55M593.41 90.61h0.55M606.77 65.65h0.55M585.73 72.3h0.55M585.68 116.31h0.55M571.65 82.89h0.55M592.12 87.47h0.55M594.44 67.83h0.55M594.97 74.97h0.55M575.38 93.09h0.55M590.51 77.64h0.55M578.93 83.94h0.55M586.15 84.29h0.55M577.17 58.65h0.55M597.95 88.37h0.55M575.12 67.58h0.55M580.01 81.32h0.55M590 82.41h0.55M589.31 88.99h0.55M595.67 88.07h0.55M597.46 104.66h0.55M583.38 80.83h0.55M578.27 83.44h0.55M579.67 86.33h0.55M588.89 92.61h0.55M575.81 99.11h0.55M583.37 84.86h0.55M581.54 62.32h0.55M588.42 65.02h0.55M596.04 86.66h0.55M600.09 93.92h0.55M592.42 102.87h0.55M585.75 104.53h0.55M584.98 89.23h0.55M580.07 92.64h0.55M592.11 80.14h0.55M574.64 85.7h0.55M589.88 84.25h0.55M577.37 77.51h0.55M583.72 54.79h0.55M580.85 103.29h0.55M574.61 83.52h0.55M601.22 94.59h0.55M594.34 84.37h0.55M574.2 120.5h0.55M588.79 88.99h0.55M600.79 95.79h0.55M586.61 72.94h0.55M584.7 84.34h0.55M580.02 75.77h0.55M577.11 84.7h0.55M580.76 90.98h0.55M595.15 89.87h0.55M586.26 104.73h0.55M591.92 68.45h0.55M579.64 88.41h0.55M578.18 95.14h0.55M570.37 63.29h0.55M594.84 93.01h0.55M571.71 86.97h0.55M598.09 72.75h0.55M575.39 71.53h0.55M577.23 65.33h0.55M581.71 68.74h0.55M586.59 112.74h0.55M576.63 96.89h0.55M596.5 58.45h0.55M587.02 85.91h0.55M583.02 95.58h0.55M582.09 90.25h0.55M582.54 84.4h0.55M579 113.21h0.55M585.52 72.65h0.55M603.49 104.86h0.55M584.26 78.19h0.55M579.42 100.78h0.55M583.09 77.52h0.55M593.57 82.81h0.55M585.54 109.18h0.55M593.76 100.9h0.55M589.76 101.4h0.55M584.49 97.54h0.55M595.4 81.1h0.55M574.5 92.42h0.55M584.93 93.29h0.55M580.63 92.35h0.55M594.64 114.29h0.55M602.03 90.69h0.55M598.89 78.53h0.55M596.54 87.68h0.55M597.94 90.01h0.55M583.95 77.53h0.55M597.27 86.72h0.55M592.41 91.77h0.55M582.68 90.71h0.55M590.34 64.45h0.55M583.19 85.3h0.55M589.49 97.26h0.55M579.91 83.25h0.55M591.6 64.13h0.55M602.64 74.72h0.55M597.82 87.75h0.55M602.89 98.46h0.55M585.71 65.75h0.55M587.19 89.9h0.55M590.9 70.97h0.55M578.61 76.71h0.55M588.53 75.64h0.55M584.96 97.11h0.55M582.25 102.09h0.55M588.66 83.07h0.55M595.82 91.92h0.55M583.45 79h0.55M585.61 90.14h0.55M596.24 89.24h0.55M580.48 70.16h0.55M588.3 90.72h0.55M596.15 79.72h0.55M574.43 96.01h0.55M584.48 71.51h0.55M600.87 96.62h0.55M586.58 89.36h0.55M579.35 97.85h0.55M582.14 80.65h0.55M583.36 72.45h0.55M595.22 105.93h0.55M592.84 61.53h0.55M583.3 78.41h0.55M589.36 60.48h0.55M594.79 83.78h0.55M605.75 75.92h0.55M586.37 84.26h0.55M578.58 99.27h0.55M574.19 73.43h0.55M582.78 80.32h0.55M596.12 79.73h0.55M590.51 80.47h0.55M597.45 85.81h0.55M588.36 66.56h0.55M592.33 78.35h0.55M593.96 92.09h0.55M590.88 99.46h0.55M589.39 75.55h0.55M587.43 88.06h0.55M575.5 93.36h0.55M599.14 88.92h0.55M587.04 91.54h0.55M595.84 79.59h0.55M594.55 77.17h0.55M590.78 92.2h0.55M574.55 93.87h0.55M587.96 66.15h0.55M581.99 78.56h0.55M578.06 90.97h0.55M578.95 86.62h0.55M576.31 82.87h0.55M602.33 90.95h0.55M572.12 74.83h0.55M584.77 66.63h0.55M594.75 85.52h0.55M585.39 86.64h0.55M579.91 72.4h0.55M588.12 94.14h0.55M584.36 64.16h0.55M582.99 86.43h0.55M574.44 102.33h0.55M575.99 86.01h0.55M576.27 96.81h0.55M574.73 75.3h0.55M595.95 71.01h0.55M581.17 92.45h0.55M589.18 65.13h0.55M591.39 82.51h0.55M596.91 65.36h0.55M592.83 90.8h0.55M582.62 80.98h0.55M589.45 77.78h0.55M582.89 76.84h0.55M587.22 94.01h0.55M571.78 86.29h0.55M588.75 103.9h0.55M579.36 100.95h0.55M582.01 91.79h0.55M587.96 89.21h0.55M582.92 74.3h0.55M599.26 103.3h0.55M584.95 83.95h0.55M584.09 70.08h0.55M576.05 90.89h0.55M594.47 83.27h0.55M577.61 73.12h0.55M580.48 94.27h0.55M586.4 68.95h0.55M575.59 89.85h0.55M588.63 106.89h0.55M598.82 88.15h0.55M579.89 88.37h0.55M575.82 77.77h0.55M594.93 93.22h0.55M594.2 104.51h0.55M582.27 95.48h0.55M586.61 89.68h0.55M588 92.35h0.55M573.6 69.63h0.55M586.79 91.75h0.55M581.64 84.72h0.55M573.4 97.39h0.55M590.05 103.81h0.55M582.32 84.78h0.55M586.57 102.21h0.55M591 90.6h0.55M571.28 75.73h0.55M572.83 83.73h0.55M593.63 86.58h0.55M577.73 110.15h0.55M576.14 102.41h0.55M596.33 89.02h0.55M598 73.01h0.55M580.99 82.35h0.55M589.28 83.81h0.55M601.19 81.43h0.55M583.91 71.51h0.55M590.23 95.39h0.55M579.23 70.97h0.55M573.58 99.82h0.55M592.99 89.25h0.55M592.72 91.72h0.55M590.01 66.65h0.55M590.57 94.31h0.55M596.1 97.45h0.55M579.89 89.07h0.55M573.33 103.08h0.55M573.71 94.33h0.55M578.91 76.22h0.55M577.97 82.04h0.55M589.35 99.28h0.55M583.29 96.12h0.55M593.73 110.46h0.55M580.63 89.62h0.55M592.13 87.65h0.55M591.53 78h0.55M582.76 78.47h0.55M580.24 75.35h0.55M585.06 71.34h0.55M580.83 92.86h0.55M571.9 73.35h0.55M582.31 73.19h0.55M577.02 108.27h0.55M588.87 80.46h0.55M579.34 67.37h0.55M575.55 58.32h0.55M590.9 79.78h0.55M594.02 85.78h0.55M590.49 96.45h0.55M580.95 79.19h0.55M584.29 107.22h0.55M574.71 73.14h0.55M590.53 62.42h0.55M599.15 72.15h0.55M596.49 84.09h0.55M582.76 72.25h0.55M598.89 82.64h0.55M573.95 93.49h0.55M584.68 92.07h0.55M582.31 90.27h0.55M589.96 86.13h0.55M571.34 91.76h0.55M598.22 91.13h0.55M594.23 95.23h0.55M583.22 98.5h0.55M583.8 73.96h0.55M574.7 98.19h0.55M592.22 93.4h0.55M580.91 64.26h0.55M592.88 84.81h0.55M580.5 78.64h0.55M580.81 63.84h0.55M591.47 94.28h0.55M593.73 81.64h0.55M574.78 69.63h0.55M583.18 106.65h0.55M594.21 86.25h0.55M590.14 95.58h0.55M586.47 88.65h0.55M587.82 79h0.55M575.75 79.23h0.55M596.2 67.15h0.55M582.05 80.95h0.55M586.28 80.58h0.55M592.96 81.53h0.55M585.89 94.38h0.55M573.34 98.91h0.55M595.13 70.29h0.55M585.13 77.1h0.55M582.68 95.22h0.55M569.25 95.94h0.55M589.76 85.87h0.55M605.65 80.07h0.55M572.59 90.48h0.55M587.24 78.46h0.55M600.48 67.95h0.55M598.28 95.65h0.55M591.66 99.12h0.55M597.81 100.9h0.55M585.61 83.03h0.55M584.18 92.17h0.55M577.63 73.27h0.55M606.41 97.3h0.55M595.47 83.2h0.55M578.36 80.88h0.55M578.87 78.52h0.55M572.05 93.27h0.55M588.94 95.31h0.55M586.55 77.46h0.55M604 97.07h0.55M590.99 96.41h0.55M583.28 94.61h0.55M579.29 97.92h0.55M594.28 95.87h0.55M589.46 87.53h0.55M587.98 94.5h0.55M581.94 94.36h0.55M592.84 70.97h0.55M570.76 89.46h0.55M582.93 76.39h0.55M574.89 72.79h0.55M571.31 81.71h0.55M572.14 65.61h0.55M584.81 103.84h0.55M596.91 83.87h0.55M589.32 83h0.55M584.83 76.71h0.55M586.02 73.41h0.55M579.36 84.02h0.55M585.2 110.01h0.55M578.13 72.76h0.55M591.6 92.64h0.55M591.95 84.39h0.55M572.49 81.64h0.55M574.58 85h0.55M601.42 82.1h0.55M586.78 98.69h0.55M574.05 94.8h0.55M582.82 77.68h0.55M582.62 74.08h0.55M593.44 86.95h0.55M581.74 91.55h0.55M572.57 53.08h0.55M597.53 78.95h0.55M592.53 75.09h0.55M569.7 72.84h0.55M593.94 90.17h0.55M580.22 93.79h0.55M583.22 87.8h0.55M576.27 58.86h0.55M586.57 93.65h0.55M577.85 104.45h0.55M588.27 106.38h0.55M591.65 100.27h0.55M583.57 68.33h0.55" stroke="#555" stroke-width="0.55" opacity="0.75"/>
<path d="M613.28 86.43h0.55M605.09 101.61h0.55M586.63 71.25h0.55M613.95 78.39h0.55M621.23 84.48h0.55M577.55 37.89h0.55M597.95 82.39h0.55M624.52 67.37h0.55M593.96 105.07h0.55M619.4 63.23h0.55M639.88 73.62h0.55M631.36 82.2h0.55M589.03 57.38h0.55M583.33 130.26h0.55M634.81 79.8h0.55M629.26 126.39h0.55M592.08 76.11h0.55" stroke="#555" stroke-width="0.55" opacity="0.75"/>
<path d="M573 79 C572.82 77.78 573.15 77.42 573.44 76.67 C573.73 75.92 574.18 75.17 574.74 74.5 C575.3 73.83 576.01 73.19 576.81 72.64 C577.6 72.09 578.53 71.59 579.5 71.21 C580.47 70.82 581.55 70.51 582.64 70.31 C583.72 70.11 584.88 70 586 70 C587.12 70 588.28 70.11 589.36 70.31 C590.45 70.51 591.53 70.82 592.5 71.21 C593.47 71.59 594.4 72.09 595.19 72.64 C595.99 73.19 596.7 73.83 597.26 74.5 C597.82 75.17 598.27 75.92 598.56 76.67 C598.85 77.42 599.18 77.78 599 79 C598.82 80.22 597.94 82.33 597.47 84 C597.01 85.67 596.59 87.33 596.22 89 C595.85 90.67 595.53 92.33 595.25 94 C594.97 95.67 594.74 97.33 594.56 99 C594.37 100.67 594.23 102.33 594.14 104 C594.05 105.67 594.2 107.7 594 109 C593.8 110.3 593.59 110.99 592.93 111.8 C592.26 112.61 591.15 113.38 590 113.85 C588.85 114.32 587.33 114.6 586 114.6 C584.67 114.6 583.15 114.32 582 113.85 C580.85 113.38 579.76 113.44 579.07 111.8 C578.38 110.16 578.13 106.13 577.86 104 C577.59 101.87 577.63 100.67 577.44 99 C577.26 97.33 577.03 95.67 576.75 94 C576.47 92.33 576.15 90.67 575.78 89 C575.41 87.33 574.99 85.67 574.53 84 C574.06 82.33 573.18 80.22 573 79 Z" fill="#dedede" stroke="#8a8a8a" stroke-width="0.35"/>
<path d="M574.13 79.2 C573.96 78.06 574.27 77.74 574.54 77.05 C574.81 76.36 575.22 75.67 575.74 75.05 C576.26 74.43 576.92 73.84 577.65 73.33 C578.38 72.82 579.24 72.37 580.13 72.01 C581.03 71.65 582.03 71.37 583.03 71.18 C584.03 71 585.1 70.9 586.13 70.9 C587.17 70.9 588.24 71 589.24 71.18 C590.24 71.37 591.24 71.65 592.13 72.01 C593.03 72.37 593.89 72.82 594.62 73.33 C595.35 73.84 596.01 74.43 596.53 75.05 C597.04 75.67 597.46 76.36 597.72 77.05 C597.99 77.74 598.31 78.06 598.13 79.2 C597.96 80.34 597.11 82.31 596.67 83.87 C596.22 85.42 595.82 86.98 595.47 88.53 C595.11 90.09 594.8 91.64 594.53 93.2 C594.27 94.76 594.04 96.31 593.87 97.87 C593.69 99.42 593.56 100.98 593.47 102.53 C593.38 104.09 593.52 106 593.33 107.2 C593.15 108.4 592.97 108.99 592.37 109.72 C591.77 110.45 590.77 111.14 589.73 111.56 C588.69 111.98 587.33 112.24 586.13 112.24 C584.93 112.24 583.57 111.98 582.53 111.56 C581.49 111.14 580.52 111.23 579.9 109.72 C579.28 108.21 579.05 104.51 578.8 102.53 C578.55 100.56 578.58 99.42 578.4 97.87 C578.22 96.31 578 94.76 577.73 93.2 C577.47 91.64 577.16 90.09 576.8 88.53 C576.44 86.98 576.04 85.42 575.6 83.87 C575.16 82.31 574.31 80.34 574.13 79.2 Z" fill="#cacaca" stroke="#7a7a7a" stroke-width="0.35"/>
<path d="M575.27 79.4 C575.1 78.35 575.4 78.07 575.64 77.43 C575.89 76.8 576.27 76.17 576.74 75.6 C577.21 75.03 577.82 74.49 578.49 74.03 C579.16 73.56 579.94 73.15 580.77 72.82 C581.59 72.49 582.5 72.23 583.42 72.06 C584.34 71.89 585.32 71.8 586.27 71.8 C587.22 71.8 588.2 71.89 589.11 72.06 C590.03 72.23 590.94 72.49 591.77 72.82 C592.59 73.15 593.37 73.56 594.04 74.03 C594.72 74.49 595.32 75.03 595.79 75.6 C596.27 76.17 596.65 76.8 596.89 77.43 C597.14 78.07 597.43 78.35 597.27 79.4 C597.1 80.45 596.31 82.29 595.89 83.73 C595.48 85.18 595.1 86.62 594.77 88.07 C594.43 89.51 594.14 90.96 593.89 92.4 C593.64 93.84 593.43 95.29 593.27 96.73 C593.1 98.18 592.98 99.62 592.89 101.07 C592.81 102.51 592.93 104.3 592.77 105.4 C592.6 106.5 592.44 107.02 591.9 107.68 C591.35 108.33 590.45 108.96 589.52 109.34 C588.58 109.72 587.35 109.95 586.27 109.95 C585.18 109.95 583.95 109.72 583.02 109.34 C582.08 108.96 581.2 109.05 580.64 107.68 C580.08 106.3 579.87 102.89 579.64 101.07 C579.41 99.24 579.43 98.18 579.27 96.73 C579.1 95.29 578.89 93.84 578.64 92.4 C578.39 90.96 578.1 89.51 577.77 88.07 C577.43 86.62 577.06 85.18 576.64 83.73 C576.23 82.29 575.43 80.45 575.27 79.4 Z" fill="#b6b6b6" stroke="#6a6a6a" stroke-width="0.35"/>
<path d="M576.4 79.6 C576.24 78.66 576.52 78.39 576.74 77.81 C576.96 77.24 577.31 76.67 577.74 76.15 C578.17 75.63 578.72 75.14 579.33 74.72 C579.94 74.3 580.65 73.92 581.4 73.62 C582.15 73.33 582.98 73.09 583.81 72.94 C584.65 72.78 585.54 72.7 586.4 72.7 C587.26 72.7 588.15 72.78 588.99 72.94 C589.82 73.09 590.65 73.33 591.4 73.62 C592.15 73.92 592.86 74.3 593.47 74.72 C594.08 75.14 594.63 75.63 595.06 76.15 C595.49 76.67 595.84 77.24 596.06 77.81 C596.28 78.39 596.56 78.66 596.4 79.6 C596.24 80.54 595.51 82.16 595.12 83.43 C594.73 84.71 594.38 85.99 594.07 87.27 C593.76 88.54 593.48 89.82 593.25 91.1 C593.02 92.38 592.82 93.66 592.67 94.93 C592.51 96.21 592.39 97.49 592.32 98.77 C592.24 100.04 592.35 101.62 592.2 102.6 C592.05 103.58 591.91 104.04 591.42 104.63 C590.94 105.22 590.14 105.78 589.3 106.12 C588.46 106.45 587.37 106.66 586.4 106.66 C585.43 106.66 584.34 106.45 583.5 106.12 C582.66 105.78 581.88 105.85 581.38 104.63 C580.87 103.41 580.69 100.38 580.48 98.77 C580.28 97.15 580.29 96.21 580.13 94.93 C579.98 93.66 579.78 92.38 579.55 91.1 C579.32 89.82 579.04 88.54 578.73 87.27 C578.42 85.99 578.07 84.71 577.68 83.43 C577.29 82.16 576.56 80.54 576.4 79.6 Z" fill="#a2a2a2" stroke="#5c5c5c" stroke-width="0.35"/>
<path d="M577.53 79.8 C577.38 78.98 577.64 78.71 577.84 78.2 C578.04 77.68 578.35 77.16 578.74 76.7 C579.13 76.24 579.62 75.79 580.17 75.42 C580.72 75.04 581.36 74.7 582.03 74.43 C582.71 74.16 583.45 73.95 584.2 73.81 C584.95 73.67 585.76 73.6 586.53 73.6 C587.31 73.6 588.11 73.67 588.86 73.81 C589.61 73.95 590.36 74.16 591.03 74.43 C591.71 74.7 592.35 75.04 592.9 75.42 C593.45 75.79 593.94 76.24 594.33 76.7 C594.72 77.16 595.03 77.68 595.23 78.2 C595.43 78.71 595.69 78.98 595.53 79.8 C595.38 80.62 594.68 82.02 594.31 83.13 C593.94 84.24 593.61 85.36 593.31 86.47 C593.01 87.58 592.76 88.69 592.53 89.8 C592.31 90.91 592.13 92.02 591.98 93.13 C591.83 94.24 591.72 95.36 591.64 96.47 C591.57 97.58 591.66 98.95 591.53 99.8 C591.4 100.65 591.28 101.04 590.86 101.55 C590.45 102.06 589.76 102.54 589.03 102.83 C588.31 103.12 587.37 103.3 586.53 103.3 C585.7 103.3 584.76 103.12 584.03 102.83 C583.31 102.54 582.64 102.61 582.2 101.55 C581.77 100.49 581.61 97.87 581.42 96.47 C581.24 95.06 581.24 94.24 581.09 93.13 C580.94 92.02 580.76 90.91 580.53 89.8 C580.31 88.69 580.05 87.58 579.76 86.47 C579.46 85.36 579.13 84.24 578.76 83.13 C578.39 82.02 577.69 80.62 577.53 79.8 Z" fill="#979797" stroke="#555555" stroke-width="0.35"/>
<path d="M578.87 80 C578.73 79.32 578.96 79.05 579.13 78.6 C579.31 78.15 579.58 77.7 579.91 77.3 C580.25 76.9 580.68 76.51 581.15 76.18 C581.63 75.85 582.18 75.56 582.77 75.32 C583.35 75.09 584 74.9 584.65 74.78 C585.3 74.66 585.99 74.6 586.67 74.6 C587.34 74.6 588.04 74.66 588.69 74.78 C589.34 74.9 589.98 75.09 590.57 75.32 C591.15 75.56 591.71 75.85 592.18 76.18 C592.66 76.51 593.09 76.9 593.42 77.3 C593.76 77.7 594.03 78.15 594.2 78.6 C594.38 79.05 594.61 79.32 594.47 80 C594.33 80.68 593.7 81.78 593.37 82.67 C593.03 83.56 592.73 84.44 592.47 85.33 C592.2 86.22 591.97 87.11 591.77 88 C591.57 88.89 591.4 89.78 591.27 90.67 C591.13 91.56 591.03 92.44 590.97 93.33 C590.9 94.22 590.98 95.31 590.87 96 C590.76 96.69 590.65 97.05 590.3 97.47 C589.95 97.89 589.37 98.3 588.77 98.55 C588.16 98.79 587.37 98.94 586.67 98.94 C585.97 98.94 585.17 98.79 584.57 98.55 C583.96 98.3 583.4 98.34 583.03 97.47 C582.66 96.6 582.53 94.47 582.37 93.33 C582.21 92.2 582.2 91.56 582.07 90.67 C581.93 89.78 581.77 88.89 581.57 88 C581.37 87.11 581.13 86.22 580.87 85.33 C580.6 84.44 580.3 83.56 579.97 82.67 C579.63 81.78 579.01 80.68 578.87 80 Z" fill="#a2a2a2" stroke="#5a5a5a" stroke-width="0.35"/>
<path d="M580.3 80.2 C580.18 79.67 580.38 79.41 580.52 79.04 C580.67 78.66 580.89 78.29 581.17 77.95 C581.45 77.61 581.81 77.29 582.2 77.02 C582.6 76.74 583.06 76.5 583.55 76.3 C584.04 76.11 584.58 75.95 585.12 75.85 C585.66 75.75 586.24 75.7 586.8 75.7 C587.36 75.7 587.94 75.75 588.48 75.85 C589.02 75.95 589.56 76.11 590.05 76.3 C590.54 76.5 591 76.74 591.4 77.02 C591.79 77.29 592.15 77.61 592.43 77.95 C592.71 78.29 592.93 78.66 593.08 79.04 C593.22 79.41 593.42 79.67 593.3 80.2 C593.18 80.73 592.66 81.53 592.38 82.2 C592.11 82.87 591.86 83.53 591.63 84.2 C591.41 84.87 591.22 85.53 591.05 86.2 C590.88 86.87 590.74 87.53 590.63 88.2 C590.52 88.87 590.44 89.53 590.38 90.2 C590.33 90.87 590.39 91.66 590.3 92.2 C590.21 92.74 590.12 93.07 589.83 93.42 C589.54 93.78 589.06 94.12 588.55 94.32 C588.04 94.53 587.38 94.65 586.8 94.65 C586.22 94.65 585.56 94.53 585.05 94.32 C584.54 94.12 584.07 94.11 583.77 93.42 C583.46 92.74 583.35 91.07 583.22 90.2 C583.08 89.33 583.08 88.87 582.97 88.2 C582.86 87.53 582.72 86.87 582.55 86.2 C582.38 85.53 582.19 84.87 581.97 84.2 C581.74 83.53 581.49 82.87 581.22 82.2 C580.94 81.53 580.42 80.73 580.3 80.2 Z" fill="#b8b8b8" stroke="#666666" stroke-width="0.35"/>
<path d="M581.93 80.4 C581.85 80.02 581.99 79.77 582.1 79.47 C582.22 79.17 582.39 78.87 582.6 78.6 C582.82 78.33 583.09 78.07 583.4 77.85 C583.7 77.63 584.06 77.44 584.43 77.28 C584.81 77.13 585.22 77 585.64 76.92 C586.06 76.84 586.5 76.8 586.93 76.8 C587.36 76.8 587.81 76.84 588.23 76.92 C588.64 77 589.06 77.13 589.43 77.28 C589.81 77.44 590.16 77.63 590.47 77.85 C590.77 78.07 591.05 78.33 591.26 78.6 C591.48 78.87 591.65 79.17 591.76 79.47 C591.87 79.77 592.02 80.02 591.93 80.4 C591.85 80.78 591.46 81.29 591.26 81.73 C591.06 82.18 590.87 82.62 590.71 83.07 C590.55 83.51 590.41 83.96 590.28 84.4 C590.16 84.84 590.06 85.29 589.98 85.73 C589.9 86.18 589.84 86.62 589.79 87.07 C589.75 87.51 589.81 88.01 589.73 88.4 C589.66 88.79 589.59 89.1 589.36 89.38 C589.12 89.66 588.74 89.93 588.33 90.1 C587.93 90.26 587.4 90.36 586.93 90.36 C586.47 90.36 585.94 90.26 585.53 90.1 C585.13 89.93 584.75 89.89 584.51 89.38 C584.26 88.87 584.18 87.67 584.07 87.07 C583.97 86.46 583.97 86.18 583.89 85.73 C583.81 85.29 583.71 84.84 583.58 84.4 C583.46 83.96 583.32 83.51 583.16 83.07 C582.99 82.62 582.81 82.18 582.61 81.73 C582.4 81.29 582.02 80.78 581.93 80.4 Z" fill="#d0d0d0" stroke="#777777" stroke-width="0.35"/>
<path d="M583.57 80.6 C583.51 80.38 583.61 80.14 583.69 79.93 C583.76 79.71 583.88 79.49 584.04 79.3 C584.19 79.11 584.38 78.92 584.59 78.76 C584.81 78.6 585.06 78.46 585.32 78.35 C585.58 78.24 585.87 78.15 586.16 78.09 C586.45 78.03 586.76 78 587.07 78 C587.37 78 587.68 78.03 587.97 78.09 C588.26 78.15 588.56 78.24 588.82 78.35 C589.08 78.46 589.33 78.6 589.54 78.76 C589.76 78.92 589.95 79.11 590.1 79.3 C590.25 79.49 590.37 79.71 590.45 79.93 C590.53 80.14 590.62 80.38 590.57 80.6 C590.51 80.82 590.25 81.04 590.11 81.27 C589.97 81.49 589.84 81.71 589.73 81.93 C589.62 82.16 589.53 82.38 589.44 82.6 C589.36 82.82 589.29 83.04 589.23 83.27 C589.18 83.49 589.14 83.71 589.11 83.93 C589.08 84.16 589.12 84.37 589.07 84.6 C589.02 84.83 588.97 85.1 588.8 85.3 C588.63 85.5 588.36 85.7 588.07 85.81 C587.78 85.93 587.4 86 587.07 86 C586.73 86 586.36 85.93 586.07 85.81 C585.78 85.7 585.51 85.61 585.33 85.3 C585.16 84.99 585.1 84.27 585.03 83.93 C584.95 83.59 584.96 83.49 584.9 83.27 C584.84 83.04 584.78 82.82 584.69 82.6 C584.61 82.38 584.51 82.16 584.4 81.93 C584.29 81.71 584.16 81.49 584.03 81.27 C583.89 81.04 583.62 80.82 583.57 80.6 Z" fill="#e8e8e8" stroke="#888888" stroke-width="0.35"/>
<path d="M585.2 80.8 C585.17 80.68 585.22 80.52 585.27 80.39 C585.31 80.25 585.38 80.12 585.47 80 C585.55 79.88 585.66 79.77 585.79 79.67 C585.91 79.57 586.05 79.48 586.2 79.41 C586.35 79.35 586.52 79.29 586.68 79.25 C586.85 79.22 587.03 79.2 587.2 79.2 C587.37 79.2 587.55 79.22 587.72 79.25 C587.88 79.29 588.05 79.35 588.2 79.41 C588.35 79.48 588.49 79.57 588.61 79.67 C588.74 79.77 588.85 79.88 588.93 80 C589.02 80.12 589.09 80.25 589.13 80.39 C589.18 80.52 589.23 80.68 589.2 80.8 C589.17 80.92 589.03 81.02 588.96 81.13 C588.88 81.24 588.81 81.36 588.76 81.47 C588.7 81.58 588.64 81.69 588.6 81.8 C588.56 81.91 588.52 82.02 588.49 82.13 C588.46 82.24 588.44 82.36 588.42 82.47 C588.41 82.58 588.43 82.67 588.4 82.8 C588.37 82.93 588.34 83.1 588.24 83.22 C588.14 83.34 587.97 83.46 587.8 83.53 C587.63 83.6 587.4 83.64 587.2 83.64 C587 83.64 586.77 83.6 586.6 83.53 C586.43 83.46 586.26 83.4 586.16 83.22 C586.06 83.04 586.02 82.65 585.98 82.47 C585.94 82.29 585.94 82.24 585.91 82.13 C585.88 82.02 585.84 81.91 585.8 81.8 C585.76 81.69 585.7 81.58 585.64 81.47 C585.59 81.36 585.52 81.24 585.44 81.13 C585.37 81.02 585.23 80.92 585.2 80.8 Z" fill="#fafafa" stroke="#aaaaaa" stroke-width="0.35"/>
</g>
<rect x="568.7" y="33.7" width="97.2" height="97.8" fill="none" stroke="#333" stroke-width="0.6"/>
<path d="M566.8 102h1.9M567.6 95.68h1.1M567.6 91.98h1.1M567.6 89.36h1.1M567.6 87.32h1.1M567.6 85.66h1.1M567.6 84.25h1.1M567.6 83.04h1.1M567.6 81.96h1.1M566.8 81h1.9M567.6 74.68h1.1M567.6 70.98h1.1M567.6 68.36h1.1M567.6 66.32h1.1M567.6 64.66h1.1M567.6 63.25h1.1M567.6 62.04h1.1M567.6 60.96h1.1M566.8 60h1.9M567.6 53.68h1.1M567.6 49.98h1.1M567.6 47.36h1.1M567.6 45.32h1.1M567.6 43.66h1.1M567.6 42.25h1.1M567.6 41.04h1.1M567.6 39.96h1.1M566.8 39h1.9M567.6 106h1.1M567.6 110h1.1M567.6 114h1.1M567.6 118h1.1M567.6 122h1.1M567.6 126h1.1M600.2 131.5v1.9M585.87 131.5v1.1M589.48 131.5v1.1M592.04 131.5v1.1M594.03 131.5v1.1M595.65 131.5v1.1M597.02 131.5v1.1M598.21 131.5v1.1M599.26 131.5v1.1M624.2 131.5v1.9M609.87 131.5v1.1M613.48 131.5v1.1M616.04 131.5v1.1M618.03 131.5v1.1M619.65 131.5v1.1M621.02 131.5v1.1M622.21 131.5v1.1M623.26 131.5v1.1M645.1 131.5v1.9M630.77 131.5v1.1M634.38 131.5v1.1M636.94 131.5v1.1M638.93 131.5v1.1M640.55 131.5v1.1M641.92 131.5v1.1M643.11 131.5v1.1M644.16 131.5v1.1M664 131.5v1.9M649.67 131.5v1.1M653.28 131.5v1.1M655.84 131.5v1.1M657.83 131.5v1.1M659.45 131.5v1.1M660.82 131.5v1.1M662.01 131.5v1.1M663.06 131.5v1.1M582.7 131.5v1.1M585.7 131.5v1.1M588.7 131.5v1.1M591.7 131.5v1.1M594.7 131.5v1.1" stroke="#333" stroke-width="0.45"/>
<rect x="567.4" y="109" width="1.6" height="1.6" fill="#111"/>
<rect x="590.6" y="130.7" width="1.6" height="1.6" fill="#111"/>
<line x1="568.7" y1="99.7" x2="612.8" y2="99.7" stroke="#b4b4b4" stroke-width="1.4"/>
<path d="M568.7 59.4 L612.8 59.4 L612.8 99.7" fill="none" stroke="#222" stroke-width="0.65"/>
<rect x="620.3" y="83.8" width="38.3" height="39.3" fill="none" stroke="#555" stroke-width="0.6"/>
<text x="625.6" y="30.2" font-size="6.3" text-anchor="middle" font-style="italic">UBA1<tspan font-size="4" dy="-3.6">M41T/y</tspan></text>
<text x="571.8" y="56.9" font-size="6.7">82.7 &#177; 4.3 %</text>
<text x="621.9" y="81.5" font-size="6.7">0.5 &#177; 0.2 %</text>
<line x1="446.7" y1="140.3" x2="446.7" y2="113" stroke="#222" stroke-width="0.65"/>
<path d="M445.2 113.6 L446.7 110.3 L448.2 113.6 Z" fill="#222"/>
<line x1="446.4" y1="140.3" x2="471.5" y2="140.3" stroke="#222" stroke-width="0.65"/>
<path d="M471.0 138.8 L474.3 140.3 L471.0 141.8 Z" fill="#222"/>
<text x="446.7" y="150.5">CD19-PE-Cy5</text>
<text transform="translate(443.6 116.3) rotate(-90)" x="0" y="0" font-size="6.4" text-anchor="middle">CD33-BUV805</text>
<text x="0" y="212.1" font-size="10.5" font-weight="bold">d</text>
<text x="55.6" y="208.9" font-size="6.4" text-anchor="middle">HSPCs</text>
<defs>
<radialGradient id="gOr" cx="0.45" cy="0.4" r="0.6"><stop offset="0" stop-color="#fbd0b0"/><stop offset="0.45" stop-color="#f28a4a"/><stop offset="1" stop-color="#e0601e"/></radialGradient>
<radialGradient id="gBl" cx="0.45" cy="0.45" r="0.6"><stop offset="0" stop-color="#c8d0f0"/><stop offset="0.4" stop-color="#4a5cb8"/><stop offset="1" stop-color="#1e2a8a"/></radialGradient>
<radialGradient id="gRd" cx="0.45" cy="0.45" r="0.6"><stop offset="0" stop-color="#f4c8c8"/><stop offset="0.45" stop-color="#d04050"/><stop offset="1" stop-color="#a01828"/></radialGradient>
</defs>
<circle cx="70" cy="213.9" r="3.96" fill="#fff"/>
<path d="M73.43 215.88 L73.13 216.32 L72.78 216.72 L72.38 217.07 L71.93 217.36 L71.45 217.59 L70.94 217.75 L70.41 217.84 L69.88 217.86 L69.35 217.81 L68.83 217.68 L68.34 217.49 L67.87 217.24 L67.44 216.92 L67.06 216.55 L66.73 216.13 L66.46 215.67 L66.25 215.18 L66.11 214.67 L66.05 214.14 L66.05 213.6 L66.13 213.08 L66.27 212.56 L66.49 212.08 L66.76 211.62 L67.1 211.21 L67.48 210.84 L67.92 210.53 L68.39 210.28 L68.89 210.1 L69.41 209.98 L69.94 209.94 L70.47 209.97 L71 210.07 L71.5 210.24 L71.98 210.47 L72.48 211.12 L72.81 211.81 L72.97 212.51 L72.98 213.19 L72.85 213.82 L72.6 214.37 L72.27 214.83 L71.87 215.19 L71.42 215.44 L70.96 215.59 L70.5 215.64 L70.06 215.6 L69.66 215.49 L69.31 215.3 L69.01 215.07 L68.77 214.79 L68.6 214.49 L68.49 214.18 L68.43 213.87 L68.44 213.56 L68.5 213.28 L68.6 213.02 L68.75 212.79 L68.93 212.6 L69.13 212.46 L69.35 212.36 L69.58 212.31 L69.8 212.3 L70.02 212.34 L70.22 212.42 L70.39 212.55 L70.54 212.71 L70.64 212.89 L70.7 213.09 L70.71 213.31" fill="none" stroke="#2a2a2a" stroke-width="0.9" stroke-linecap="round" stroke-linejoin="round"/>
<circle cx="76.1" cy="210.6" r="3.74" fill="#fff"/>
<path d="M72.59 209.32 L72.79 208.86 L73.05 208.43 L73.37 208.04 L73.74 207.7 L74.15 207.41 L74.6 207.18 L75.07 207 L75.56 206.9 L76.06 206.86 L76.57 206.89 L77.06 206.99 L77.54 207.15 L77.99 207.37 L78.4 207.65 L78.78 207.99 L79.1 208.37 L79.38 208.79 L79.59 209.25 L79.74 209.73 L79.82 210.23 L79.84 210.73 L79.79 211.23 L79.67 211.72 L79.49 212.19 L79.24 212.63 L78.94 213.03 L78.59 213.39 L78.19 213.7 L77.76 213.95 L77.29 214.15 L76.8 214.27 L76.31 214.33 L75.8 214.33 L75.3 214.25 L74.82 214.11 L74.25 213.6 L73.83 213 L73.57 212.38 L73.45 211.75 L73.47 211.15 L73.6 210.59 L73.84 210.11 L74.15 209.71 L74.52 209.4 L74.93 209.19 L75.35 209.06 L75.76 209.03 L76.15 209.07 L76.51 209.18 L76.83 209.35 L77.1 209.57 L77.31 209.82 L77.46 210.09 L77.56 210.38 L77.61 210.66 L77.6 210.93 L77.54 211.19 L77.44 211.43 L77.31 211.63 L77.15 211.8 L76.96 211.93 L76.76 212.01 L76.55 212.06 L76.34 212.05 L76.14 212.01 L75.96 211.92 L75.8 211.8 L75.67 211.64 L75.58 211.46 L75.53 211.27" fill="none" stroke="#2a2a2a" stroke-width="0.9" stroke-linecap="round" stroke-linejoin="round"/>
<circle cx="81.6" cy="213.3" r="3.96" fill="#fff"/>
<path d="M78.17 215.28 L77.94 214.8 L77.77 214.3 L77.67 213.77 L77.64 213.24 L77.68 212.71 L77.8 212.19 L77.98 211.69 L78.23 211.22 L78.54 210.78 L78.91 210.4 L79.32 210.06 L79.78 209.79 L80.26 209.57 L80.78 209.43 L81.3 209.35 L81.84 209.35 L82.37 209.41 L82.88 209.55 L83.37 209.76 L83.83 210.03 L84.25 210.36 L84.62 210.74 L84.94 211.17 L85.19 211.64 L85.38 212.13 L85.51 212.65 L85.56 213.18 L85.54 213.71 L85.45 214.24 L85.29 214.75 L85.06 215.23 L84.77 215.68 L84.42 216.08 L84.02 216.43 L83.58 216.73 L82.77 216.84 L82.01 216.78 L81.32 216.57 L80.73 216.23 L80.25 215.81 L79.89 215.32 L79.66 214.8 L79.55 214.27 L79.56 213.76 L79.66 213.29 L79.84 212.86 L80.09 212.5 L80.39 212.21 L80.73 212 L81.08 211.86 L81.44 211.79 L81.79 211.79 L82.12 211.85 L82.41 211.96 L82.67 212.12 L82.89 212.31 L83.06 212.53 L83.19 212.77 L83.26 213.02 L83.28 213.27 L83.26 213.51 L83.19 213.73 L83.08 213.93 L82.94 214.1 L82.77 214.23 L82.57 214.32 L82.37 214.36 L82.15 214.36 L81.95 214.31 L81.76 214.21" fill="none" stroke="#2a2a2a" stroke-width="0.9" stroke-linecap="round" stroke-linejoin="round"/>
<circle cx="85.5" cy="218.5" r="3.08" fill="#fff"/>
<path d="M88.58 218.5 L88.55 218.91 L88.47 219.32 L88.33 219.71 L88.14 220.08 L87.91 220.42 L87.63 220.73 L87.31 220.99 L86.96 221.21 L86.58 221.38 L86.19 221.5 L85.78 221.57 L85.36 221.58 L84.95 221.53 L84.55 221.43 L84.16 221.27 L83.8 221.07 L83.47 220.82 L83.18 220.53 L82.93 220.2 L82.73 219.84 L82.57 219.45 L82.47 219.05 L82.42 218.64 L82.43 218.22 L82.5 217.81 L82.62 217.42 L82.79 217.04 L83.01 216.69 L83.27 216.37 L83.58 216.09 L83.92 215.86 L84.29 215.67 L84.68 215.53 L85.09 215.45 L85.5 215.42 L86.09 215.66 L86.58 216 L86.96 216.41 L87.23 216.86 L87.39 217.34 L87.43 217.8 L87.39 218.24 L87.26 218.64 L87.06 218.98 L86.8 219.27 L86.52 219.48 L86.21 219.62 L85.89 219.7 L85.58 219.71 L85.29 219.67 L85.02 219.58 L84.79 219.44 L84.59 219.28 L84.43 219.09 L84.32 218.88 L84.25 218.66 L84.22 218.45 L84.23 218.24 L84.27 218.04 L84.35 217.87 L84.46 217.72 L84.59 217.59 L84.74 217.5 L84.91 217.44 L85.07 217.42 L85.24 217.44 L85.4 217.49 L85.54 217.57 L85.66 217.68 L85.75 217.82" fill="none" stroke="#2a2a2a" stroke-width="0.9" stroke-linecap="round" stroke-linejoin="round"/>
<circle cx="76.4" cy="219.1" r="3.74" fill="#fff"/>
<path d="M76.4 215.36 L76.9 215.39 L77.39 215.49 L77.87 215.66 L78.32 215.89 L78.73 216.18 L79.1 216.52 L79.43 216.9 L79.69 217.33 L79.9 217.79 L80.05 218.27 L80.12 218.76 L80.14 219.27 L80.08 219.77 L79.96 220.26 L79.77 220.72 L79.52 221.16 L79.22 221.56 L78.86 221.92 L78.46 222.22 L78.02 222.47 L77.56 222.66 L77.07 222.78 L76.57 222.84 L76.06 222.82 L75.57 222.75 L75.09 222.6 L74.63 222.39 L74.2 222.13 L73.82 221.8 L73.48 221.43 L73.19 221.02 L72.96 220.57 L72.79 220.09 L72.69 219.6 L72.66 219.1 L72.95 218.39 L73.36 217.79 L73.86 217.33 L74.41 217 L74.99 216.81 L75.55 216.75 L76.09 216.81 L76.57 216.97 L76.99 217.21 L77.33 217.52 L77.59 217.87 L77.76 218.24 L77.86 218.63 L77.87 219 L77.82 219.36 L77.71 219.68 L77.55 219.97 L77.34 220.21 L77.11 220.4 L76.86 220.54 L76.6 220.62 L76.34 220.66 L76.08 220.65 L75.85 220.59 L75.63 220.49 L75.45 220.36 L75.3 220.2 L75.19 220.02 L75.12 219.82 L75.09 219.62 L75.11 219.42 L75.17 219.23 L75.27 219.05 L75.41 218.91 L75.58 218.8" fill="none" stroke="#2a2a2a" stroke-width="0.9" stroke-linecap="round" stroke-linejoin="round"/>
<circle cx="69.4" cy="221.5" r="3.74" fill="#fff"/>
<path d="M66.53 219.1 L66.88 218.73 L67.28 218.42 L67.71 218.16 L68.17 217.97 L68.66 217.83 L69.16 217.77 L69.66 217.77 L70.16 217.84 L70.64 217.97 L71.11 218.17 L71.54 218.43 L71.93 218.75 L72.28 219.11 L72.57 219.52 L72.81 219.96 L72.98 220.43 L73.1 220.92 L73.14 221.43 L73.12 221.93 L73.02 222.42 L72.87 222.9 L72.65 223.35 L72.37 223.77 L72.04 224.15 L71.66 224.48 L71.24 224.76 L70.78 224.97 L70.3 225.13 L69.81 225.22 L69.31 225.24 L68.81 225.19 L68.32 225.08 L67.84 224.9 L67.4 224.66 L67 224.37 L66.64 223.68 L66.45 222.98 L66.41 222.3 L66.51 221.67 L66.74 221.11 L67.06 220.64 L67.44 220.27 L67.88 220 L68.33 219.83 L68.78 219.77 L69.22 219.8 L69.62 219.9 L69.97 220.08 L70.27 220.31 L70.51 220.58 L70.69 220.87 L70.8 221.18 L70.85 221.49 L70.85 221.79 L70.79 222.07 L70.69 222.33 L70.55 222.55 L70.38 222.74 L70.19 222.88 L69.97 222.98 L69.75 223.04 L69.53 223.05 L69.32 223.02 L69.13 222.95 L68.95 222.84 L68.81 222.69 L68.71 222.52 L68.64 222.33 L68.62 222.14 L68.64 221.93" fill="none" stroke="#2a2a2a" stroke-width="0.9" stroke-linecap="round" stroke-linejoin="round"/>
<circle cx="81.9" cy="226.1" r="3.74" fill="#fff"/>
<path d="M81.9 229.84 L81.4 229.81 L80.91 229.71 L80.43 229.54 L79.98 229.31 L79.57 229.02 L79.2 228.68 L78.87 228.3 L78.61 227.87 L78.4 227.41 L78.25 226.93 L78.18 226.44 L78.16 225.93 L78.22 225.43 L78.34 224.94 L78.53 224.48 L78.78 224.04 L79.08 223.64 L79.44 223.28 L79.84 222.98 L80.28 222.73 L80.74 222.54 L81.23 222.42 L81.73 222.36 L82.24 222.38 L82.73 222.45 L83.21 222.6 L83.67 222.81 L84.1 223.07 L84.48 223.4 L84.82 223.77 L85.11 224.18 L85.34 224.63 L85.51 225.11 L85.61 225.6 L85.64 226.1 L85.35 226.81 L84.94 227.41 L84.44 227.87 L83.89 228.2 L83.31 228.39 L82.75 228.45 L82.21 228.39 L81.73 228.23 L81.31 227.99 L80.97 227.68 L80.71 227.33 L80.54 226.96 L80.44 226.57 L80.43 226.2 L80.48 225.84 L80.59 225.52 L80.75 225.23 L80.96 224.99 L81.19 224.8 L81.44 224.66 L81.7 224.58 L81.96 224.54 L82.22 224.55 L82.45 224.61 L82.67 224.71 L82.85 224.84 L83 225 L83.11 225.18 L83.18 225.38 L83.21 225.58 L83.19 225.78 L83.13 225.97 L83.03 226.15 L82.89 226.29 L82.72 226.4" fill="none" stroke="#2a2a2a" stroke-width="0.9" stroke-linecap="round" stroke-linejoin="round"/>
<circle cx="74.6" cy="228.5" r="3.74" fill="#fff"/>
<path d="M70.86 228.5 L70.89 228 L70.99 227.51 L71.16 227.03 L71.39 226.58 L71.68 226.17 L72.02 225.8 L72.4 225.47 L72.83 225.21 L73.29 225 L73.77 224.85 L74.26 224.78 L74.77 224.76 L75.27 224.82 L75.76 224.94 L76.22 225.13 L76.66 225.38 L77.06 225.68 L77.42 226.04 L77.72 226.44 L77.97 226.88 L78.16 227.34 L78.28 227.83 L78.34 228.33 L78.32 228.84 L78.25 229.33 L78.1 229.81 L77.89 230.27 L77.63 230.7 L77.3 231.08 L76.93 231.42 L76.52 231.71 L76.07 231.94 L75.59 232.11 L75.1 232.21 L74.6 232.24 L73.89 231.95 L73.29 231.54 L72.83 231.04 L72.5 230.49 L72.31 229.91 L72.25 229.35 L72.31 228.81 L72.47 228.33 L72.71 227.91 L73.02 227.57 L73.37 227.31 L73.74 227.14 L74.13 227.04 L74.5 227.03 L74.86 227.08 L75.18 227.19 L75.47 227.35 L75.71 227.56 L75.9 227.79 L76.04 228.04 L76.12 228.3 L76.16 228.56 L76.15 228.82 L76.09 229.05 L75.99 229.27 L75.86 229.45 L75.7 229.6 L75.52 229.71 L75.32 229.78 L75.12 229.81 L74.92 229.79 L74.73 229.73 L74.55 229.63 L74.41 229.49 L74.3 229.32" fill="none" stroke="#2a2a2a" stroke-width="0.9" stroke-linecap="round" stroke-linejoin="round"/>
<circle cx="40.5" cy="262.1" r="4.07" fill="#fff"/>
<path d="M36.68 260.71 L36.9 260.21 L37.18 259.74 L37.53 259.32 L37.93 258.94 L38.38 258.63 L38.86 258.37 L39.38 258.19 L39.91 258.07 L40.46 258.03 L41.01 258.06 L41.54 258.17 L42.06 258.34 L42.55 258.59 L43.01 258.89 L43.41 259.26 L43.77 259.67 L44.06 260.14 L44.3 260.63 L44.46 261.15 L44.55 261.69 L44.57 262.24 L44.51 262.79 L44.38 263.32 L44.18 263.83 L43.92 264.31 L43.59 264.75 L43.21 265.14 L42.78 265.47 L42.3 265.75 L41.8 265.96 L41.27 266.1 L40.72 266.16 L40.18 266.16 L39.63 266.08 L39.11 265.92 L38.49 265.36 L38.03 264.72 L37.74 264.04 L37.61 263.35 L37.63 262.69 L37.78 262.09 L38.04 261.57 L38.38 261.13 L38.79 260.79 L39.23 260.56 L39.68 260.43 L40.13 260.39 L40.56 260.43 L40.95 260.56 L41.29 260.74 L41.58 260.98 L41.81 261.25 L41.98 261.55 L42.09 261.86 L42.14 262.16 L42.13 262.46 L42.07 262.74 L41.96 263 L41.82 263.22 L41.64 263.4 L41.43 263.54 L41.21 263.64 L40.99 263.68 L40.76 263.68 L40.54 263.63 L40.34 263.54 L40.17 263.41 L40.03 263.24 L39.94 263.04 L39.88 262.83" fill="none" stroke="#2a2a2a" stroke-width="0.9" stroke-linecap="round" stroke-linejoin="round"/>
<circle cx="45.4" cy="257.8" r="3.52" fill="#fff"/>
<path d="M48.45 259.56 L48.18 259.95 L47.87 260.31 L47.51 260.62 L47.11 260.87 L46.69 261.08 L46.23 261.22 L45.77 261.3 L45.29 261.32 L44.82 261.27 L44.36 261.16 L43.92 260.99 L43.51 260.77 L43.12 260.49 L42.78 260.16 L42.49 259.78 L42.25 259.37 L42.07 258.94 L41.95 258.48 L41.89 258.01 L41.89 257.54 L41.96 257.07 L42.09 256.61 L42.28 256.18 L42.52 255.77 L42.82 255.41 L43.16 255.08 L43.55 254.81 L43.97 254.58 L44.41 254.42 L44.88 254.32 L45.35 254.28 L45.82 254.31 L46.29 254.39 L46.73 254.54 L47.16 254.75 L47.6 255.33 L47.9 255.94 L48.04 256.57 L48.05 257.17 L47.93 257.72 L47.71 258.21 L47.42 258.62 L47.06 258.94 L46.66 259.17 L46.25 259.3 L45.85 259.35 L45.46 259.31 L45.1 259.21 L44.79 259.05 L44.52 258.84 L44.31 258.59 L44.15 258.33 L44.05 258.05 L44.01 257.77 L44.01 257.5 L44.07 257.25 L44.16 257.02 L44.29 256.81 L44.45 256.65 L44.63 256.52 L44.82 256.43 L45.02 256.38 L45.22 256.38 L45.42 256.41 L45.59 256.49 L45.75 256.6 L45.88 256.74 L45.97 256.9 L46.02 257.08 L46.03 257.27" fill="none" stroke="#2a2a2a" stroke-width="0.9" stroke-linecap="round" stroke-linejoin="round"/>
<circle cx="54.8" cy="267.5" r="3.19" fill="#fff"/>
<path d="M57.99 267.5 L57.96 267.93 L57.88 268.35 L57.73 268.75 L57.54 269.14 L57.29 269.49 L57 269.81 L56.68 270.08 L56.31 270.31 L55.92 270.49 L55.51 270.61 L55.09 270.68 L54.66 270.69 L54.23 270.64 L53.81 270.53 L53.42 270.37 L53.04 270.16 L52.7 269.9 L52.4 269.6 L52.14 269.26 L51.93 268.88 L51.77 268.49 L51.66 268.07 L51.61 267.64 L51.62 267.21 L51.69 266.79 L51.81 266.38 L51.99 265.99 L52.22 265.62 L52.49 265.3 L52.81 265.01 L53.16 264.76 L53.55 264.57 L53.95 264.42 L54.37 264.34 L54.8 264.31 L55.41 264.56 L55.92 264.91 L56.31 265.34 L56.59 265.81 L56.75 266.29 L56.8 266.78 L56.75 267.23 L56.62 267.65 L56.41 268 L56.15 268.29 L55.85 268.51 L55.53 268.66 L55.2 268.74 L54.88 268.76 L54.58 268.71 L54.3 268.62 L54.06 268.48 L53.86 268.3 L53.69 268.11 L53.58 267.89 L53.5 267.67 L53.47 267.45 L53.48 267.23 L53.53 267.03 L53.61 266.85 L53.72 266.69 L53.86 266.56 L54.02 266.46 L54.19 266.4 L54.36 266.38 L54.53 266.4 L54.69 266.45 L54.84 266.54 L54.96 266.66 L55.06 266.8" fill="none" stroke="#2a2a2a" stroke-width="0.9" stroke-linecap="round" stroke-linejoin="round"/>
<circle cx="44" cy="277.5" r="3.52" fill="#fff"/>
<path d="M40.69 276.3 L40.88 275.86 L41.13 275.46 L41.43 275.09 L41.78 274.77 L42.16 274.5 L42.58 274.28 L43.03 274.12 L43.49 274.02 L43.96 273.98 L44.44 274.01 L44.9 274.1 L45.35 274.25 L45.78 274.46 L46.17 274.73 L46.52 275.04 L46.83 275.4 L47.08 275.8 L47.28 276.23 L47.42 276.68 L47.5 277.15 L47.52 277.62 L47.47 278.09 L47.36 278.55 L47.19 279 L46.96 279.41 L46.67 279.79 L46.34 280.13 L45.97 280.42 L45.56 280.66 L45.12 280.84 L44.66 280.96 L44.19 281.01 L43.72 281.01 L43.25 280.94 L42.8 280.81 L42.26 280.32 L41.86 279.76 L41.61 279.17 L41.5 278.58 L41.52 278.01 L41.65 277.49 L41.87 277.04 L42.17 276.66 L42.52 276.37 L42.9 276.17 L43.29 276.05 L43.68 276.02 L44.05 276.06 L44.39 276.17 L44.69 276.33 L44.94 276.53 L45.14 276.77 L45.28 277.02 L45.38 277.29 L45.42 277.56 L45.41 277.81 L45.36 278.06 L45.27 278.28 L45.14 278.47 L44.98 278.63 L44.81 278.75 L44.62 278.83 L44.42 278.87 L44.22 278.87 L44.04 278.83 L43.86 278.74 L43.71 278.63 L43.6 278.48 L43.51 278.31 L43.47 278.13" fill="none" stroke="#2a2a2a" stroke-width="0.9" stroke-linecap="round" stroke-linejoin="round"/>
<circle cx="51.6" cy="262.1" r="4.07" fill="url(#gOr)" stroke="#2a2a2a" stroke-width="0.8"/>
<path d="M51.6 264.75 L51.2 264.68 L50.82 264.53 L50.48 264.33 L50.19 264.07 L49.96 263.77 L49.78 263.43 L49.68 263.08 L49.64 262.71 L49.67 262.36 L49.76 262.01 L49.91 261.7 L50.11 261.43 L50.36 261.2 L50.64 261.02 L50.94 260.9 L51.25 260.84 L51.56 260.84 L51.86 260.89 L52.13 261 L52.38 261.15 L52.6 261.34 L52.77 261.56 L52.89 261.81 L52.96 262.06 L52.99 262.32 L52.96 262.58 L52.9 262.82 L52.79 263.04 L52.64 263.22 L52.47 263.38 L52.28 263.49 L52.07 263.57 L51.86 263.61 L51.66 263.6 L51.46 263.56 L51.28 263.49 L51.12 263.38 L50.99 263.26 L50.89 263.11 L50.82 262.95" fill="none" stroke="#ffffff" stroke-width="0.55" opacity="0.75" stroke-linecap="round"/>
<circle cx="39.7" cy="270.4" r="3.74" fill="url(#gRd)" stroke="#2a2a2a" stroke-width="0.8"/>
<path d="M39.7 268.72 L40.07 268.78 L40.42 268.91 L40.73 269.1 L40.99 269.34 L41.21 269.62 L41.37 269.92 L41.47 270.25 L41.5 270.58 L41.47 270.91 L41.39 271.23 L41.25 271.51 L41.06 271.77 L40.84 271.98 L40.59 272.14 L40.31 272.25 L40.03 272.3 L39.74 272.31 L39.47 272.26 L39.21 272.16 L38.98 272.02 L38.78 271.85 L38.63 271.64 L38.52 271.42 L38.45 271.18 L38.43 270.94 L38.45 270.71 L38.51 270.49 L38.61 270.29 L38.74 270.12 L38.9 269.97 L39.08 269.87 L39.26 269.8 L39.46 269.76 L39.65 269.77 L39.83 269.81 L39.99 269.87 L40.14 269.97 L40.26 270.09 L40.35 270.22 L40.41 270.36" fill="none" stroke="#ffffff" stroke-width="0.55" opacity="0.75" stroke-linecap="round"/>
<circle cx="46.8" cy="268.4" r="4.4" fill="url(#gBl)" stroke="#2a2a2a" stroke-width="0.8"/>
<path d="M46.8 271.26 L46.37 271.18 L45.96 271.03 L45.59 270.81 L45.28 270.53 L45.02 270.2 L44.84 269.84 L44.72 269.46 L44.68 269.06 L44.71 268.68 L44.81 268.31 L44.98 267.97 L45.19 267.67 L45.46 267.43 L45.76 267.24 L46.08 267.11 L46.42 267.04 L46.75 267.04 L47.08 267.1 L47.38 267.21 L47.65 267.37 L47.88 267.58 L48.06 267.82 L48.19 268.08 L48.27 268.36 L48.3 268.64 L48.27 268.92 L48.2 269.18 L48.08 269.41 L47.93 269.61 L47.74 269.78 L47.53 269.91 L47.31 269.99 L47.09 270.03 L46.86 270.02 L46.65 269.98 L46.46 269.9 L46.29 269.79 L46.15 269.65 L46.04 269.49 L45.96 269.32" fill="none" stroke="#ffffff" stroke-width="0.55" opacity="0.75" stroke-linecap="round"/>
<circle cx="51.4" cy="273.8" r="4.07" fill="url(#gOr)" stroke="#2a2a2a" stroke-width="0.8"/>
<path d="M51.4 276.45 L51 276.38 L50.62 276.23 L50.28 276.03 L49.99 275.77 L49.76 275.47 L49.58 275.13 L49.48 274.78 L49.44 274.41 L49.47 274.06 L49.56 273.71 L49.71 273.4 L49.91 273.13 L50.16 272.9 L50.44 272.72 L50.74 272.6 L51.05 272.54 L51.36 272.54 L51.66 272.59 L51.93 272.7 L52.18 272.85 L52.4 273.04 L52.57 273.26 L52.69 273.51 L52.76 273.76 L52.79 274.02 L52.76 274.28 L52.7 274.52 L52.59 274.74 L52.44 274.92 L52.27 275.08 L52.08 275.19 L51.87 275.27 L51.66 275.31 L51.46 275.3 L51.26 275.26 L51.08 275.19 L50.92 275.08 L50.79 274.96 L50.69 274.81 L50.62 274.65" fill="none" stroke="#ffffff" stroke-width="0.55" opacity="0.75" stroke-linecap="round"/>
<circle cx="110.7" cy="258.1" r="3.19" fill="#fff"/>
<path d="M113.89 258.1 L113.86 258.53 L113.78 258.95 L113.63 259.35 L113.44 259.74 L113.19 260.09 L112.9 260.41 L112.58 260.68 L112.21 260.91 L111.82 261.09 L111.41 261.21 L110.99 261.28 L110.56 261.29 L110.13 261.24 L109.71 261.13 L109.32 260.97 L108.94 260.76 L108.6 260.5 L108.3 260.2 L108.04 259.86 L107.83 259.48 L107.67 259.09 L107.56 258.67 L107.51 258.24 L107.52 257.81 L107.59 257.39 L107.71 256.98 L107.89 256.59 L108.12 256.22 L108.39 255.9 L108.71 255.61 L109.06 255.36 L109.45 255.17 L109.85 255.02 L110.27 254.94 L110.7 254.91 L111.31 255.16 L111.82 255.51 L112.21 255.94 L112.49 256.41 L112.65 256.89 L112.7 257.38 L112.65 257.83 L112.52 258.25 L112.31 258.6 L112.05 258.89 L111.75 259.11 L111.43 259.26 L111.1 259.34 L110.78 259.36 L110.48 259.31 L110.2 259.22 L109.96 259.08 L109.76 258.9 L109.59 258.71 L109.48 258.49 L109.4 258.27 L109.37 258.05 L109.38 257.83 L109.43 257.63 L109.51 257.45 L109.62 257.29 L109.76 257.16 L109.92 257.06 L110.09 257 L110.26 256.98 L110.43 257 L110.59 257.05 L110.74 257.14 L110.86 257.26 L110.96 257.4" fill="none" stroke="#2a2a2a" stroke-width="0.9" stroke-linecap="round" stroke-linejoin="round"/>
<circle cx="109.2" cy="277.5" r="3.52" fill="#fff"/>
<path d="M105.89 276.3 L106.08 275.86 L106.33 275.46 L106.63 275.09 L106.98 274.77 L107.36 274.5 L107.78 274.28 L108.23 274.12 L108.69 274.02 L109.16 273.98 L109.64 274.01 L110.1 274.1 L110.55 274.25 L110.98 274.46 L111.37 274.73 L111.72 275.04 L112.03 275.4 L112.28 275.8 L112.48 276.23 L112.62 276.68 L112.7 277.15 L112.72 277.62 L112.67 278.09 L112.56 278.55 L112.39 279 L112.16 279.41 L111.87 279.79 L111.54 280.13 L111.17 280.42 L110.76 280.66 L110.32 280.84 L109.86 280.96 L109.39 281.01 L108.92 281.01 L108.45 280.94 L108 280.81 L107.46 280.32 L107.06 279.76 L106.81 279.17 L106.7 278.58 L106.72 278.01 L106.85 277.49 L107.07 277.04 L107.37 276.66 L107.72 276.37 L108.1 276.17 L108.49 276.05 L108.88 276.02 L109.25 276.06 L109.59 276.17 L109.89 276.33 L110.14 276.53 L110.34 276.77 L110.48 277.02 L110.58 277.29 L110.62 277.56 L110.61 277.81 L110.56 278.06 L110.47 278.28 L110.34 278.47 L110.18 278.63 L110.01 278.75 L109.82 278.83 L109.62 278.87 L109.42 278.87 L109.24 278.83 L109.06 278.74 L108.91 278.63 L108.8 278.48 L108.71 278.31 L108.67 278.13" fill="none" stroke="#2a2a2a" stroke-width="0.9" stroke-linecap="round" stroke-linejoin="round"/>
<circle cx="105.3" cy="262.4" r="4.07" fill="url(#gOr)" stroke="#2a2a2a" stroke-width="0.8"/>
<path d="M105.3 265.05 L104.9 264.98 L104.52 264.83 L104.18 264.63 L103.89 264.37 L103.66 264.07 L103.48 263.73 L103.38 263.38 L103.34 263.01 L103.37 262.66 L103.46 262.31 L103.61 262 L103.81 261.73 L104.06 261.5 L104.34 261.32 L104.64 261.2 L104.95 261.14 L105.26 261.14 L105.56 261.19 L105.83 261.3 L106.08 261.45 L106.3 261.64 L106.47 261.86 L106.59 262.11 L106.66 262.36 L106.69 262.62 L106.66 262.88 L106.6 263.12 L106.49 263.34 L106.34 263.52 L106.17 263.68 L105.98 263.79 L105.77 263.87 L105.56 263.91 L105.36 263.9 L105.16 263.86 L104.98 263.79 L104.82 263.68 L104.69 263.56 L104.59 263.41 L104.52 263.25" fill="none" stroke="#ffffff" stroke-width="0.55" opacity="0.75" stroke-linecap="round"/>
<circle cx="116.9" cy="261.8" r="4.4" fill="url(#gBl)" stroke="#2a2a2a" stroke-width="0.8"/>
<path d="M116.9 264.66 L116.47 264.58 L116.06 264.43 L115.69 264.21 L115.38 263.93 L115.12 263.6 L114.94 263.24 L114.82 262.86 L114.78 262.46 L114.81 262.08 L114.91 261.71 L115.08 261.37 L115.29 261.07 L115.56 260.83 L115.86 260.64 L116.18 260.51 L116.52 260.44 L116.85 260.44 L117.18 260.5 L117.48 260.61 L117.75 260.77 L117.98 260.98 L118.16 261.22 L118.29 261.48 L118.37 261.76 L118.4 262.04 L118.37 262.32 L118.3 262.58 L118.18 262.81 L118.03 263.01 L117.84 263.18 L117.63 263.31 L117.41 263.39 L117.19 263.43 L116.96 263.42 L116.75 263.38 L116.56 263.3 L116.39 263.19 L116.25 263.05 L116.14 262.89 L116.06 262.72" fill="none" stroke="#ffffff" stroke-width="0.55" opacity="0.75" stroke-linecap="round"/>
<circle cx="119.8" cy="267.5" r="3.52" fill="url(#gBl)" stroke="#2a2a2a" stroke-width="0.8"/>
<path d="M119.8 269.79 L119.45 269.73 L119.13 269.61 L118.83 269.43 L118.58 269.2 L118.38 268.94 L118.23 268.65 L118.14 268.34 L118.11 268.03 L118.13 267.72 L118.21 267.43 L118.34 267.16 L118.52 266.92 L118.73 266.72 L118.97 266.57 L119.23 266.47 L119.49 266.41 L119.76 266.41 L120.02 266.46 L120.26 266.55 L120.48 266.68 L120.66 266.84 L120.81 267.04 L120.91 267.25 L120.98 267.47 L121 267.69 L120.98 267.91 L120.92 268.12 L120.83 268.31 L120.7 268.47 L120.55 268.6 L120.39 268.71 L120.21 268.77 L120.03 268.8 L119.85 268.8 L119.68 268.76 L119.52 268.7 L119.39 268.61 L119.28 268.5 L119.19 268.37 L119.13 268.24" fill="none" stroke="#ffffff" stroke-width="0.55" opacity="0.75" stroke-linecap="round"/>
<circle cx="111.8" cy="268.1" r="4.07" fill="url(#gBl)" stroke="#2a2a2a" stroke-width="0.8"/>
<path d="M111.8 270.75 L111.4 270.68 L111.02 270.53 L110.68 270.33 L110.39 270.07 L110.16 269.77 L109.98 269.43 L109.88 269.08 L109.84 268.71 L109.87 268.36 L109.96 268.01 L110.11 267.7 L110.31 267.43 L110.56 267.2 L110.84 267.02 L111.14 266.9 L111.45 266.84 L111.76 266.84 L112.06 266.89 L112.33 267 L112.58 267.15 L112.8 267.34 L112.97 267.56 L113.09 267.81 L113.16 268.06 L113.19 268.32 L113.16 268.58 L113.1 268.82 L112.99 269.04 L112.84 269.22 L112.67 269.38 L112.48 269.49 L112.27 269.57 L112.06 269.61 L111.86 269.6 L111.66 269.56 L111.48 269.49 L111.32 269.38 L111.19 269.26 L111.09 269.11 L111.02 268.95" fill="none" stroke="#ffffff" stroke-width="0.55" opacity="0.75" stroke-linecap="round"/>
<circle cx="105" cy="270.6" r="4.07" fill="url(#gBl)" stroke="#2a2a2a" stroke-width="0.8"/>
<path d="M105 273.25 L104.6 273.18 L104.22 273.03 L103.88 272.83 L103.59 272.57 L103.36 272.27 L103.18 271.93 L103.08 271.58 L103.04 271.21 L103.07 270.86 L103.16 270.51 L103.31 270.2 L103.51 269.93 L103.76 269.7 L104.04 269.52 L104.34 269.4 L104.65 269.34 L104.96 269.34 L105.26 269.39 L105.53 269.5 L105.78 269.65 L106 269.84 L106.17 270.06 L106.29 270.31 L106.36 270.56 L106.39 270.82 L106.36 271.08 L106.3 271.32 L106.19 271.54 L106.04 271.72 L105.87 271.88 L105.68 271.99 L105.47 272.07 L105.26 272.11 L105.06 272.1 L104.86 272.06 L104.68 271.99 L104.52 271.88 L104.39 271.76 L104.29 271.61 L104.22 271.45" fill="none" stroke="#ffffff" stroke-width="0.55" opacity="0.75" stroke-linecap="round"/>
<circle cx="116.6" cy="274.3" r="4.07" fill="url(#gBl)" stroke="#2a2a2a" stroke-width="0.8"/>
<path d="M116.6 276.95 L116.2 276.88 L115.82 276.73 L115.48 276.53 L115.19 276.27 L114.96 275.97 L114.78 275.63 L114.68 275.28 L114.64 274.91 L114.67 274.56 L114.76 274.21 L114.91 273.9 L115.11 273.63 L115.36 273.4 L115.64 273.22 L115.94 273.1 L116.25 273.04 L116.56 273.04 L116.86 273.09 L117.13 273.2 L117.38 273.35 L117.6 273.54 L117.77 273.76 L117.89 274.01 L117.96 274.26 L117.99 274.52 L117.96 274.78 L117.9 275.02 L117.79 275.24 L117.64 275.42 L117.47 275.58 L117.28 275.69 L117.07 275.77 L116.86 275.81 L116.66 275.8 L116.46 275.76 L116.28 275.69 L116.12 275.58 L115.99 275.46 L115.89 275.31 L115.82 275.15" fill="none" stroke="#ffffff" stroke-width="0.55" opacity="0.75" stroke-linecap="round"/>
<path d="M77.3 235.2 C77.3 242 72.5 245.3 66.4 247.3" fill="none" stroke="#c4c4c4" stroke-width="1.1"/>
<path d="M64.6 247.9 L66.8 245.6 L67.5 248.6 Z" fill="#c4c4c4"/>
<path d="M77.3 235.2 C77.3 242 82.5 245.6 88.8 247.6" fill="none" stroke="#c4c4c4" stroke-width="1.1"/>
<path d="M90.6 248.1 L87.8 249.0 L88.4 246.0 Z" fill="#c4c4c4"/>
<text x="38.9" y="252.5" font-style="italic">UBA1<tspan font-size="4.2" dy="-3.8">+/y</tspan></text>
<text x="93.6" y="252.5" font-style="italic">UBA1<tspan font-size="4" dy="-3.8">M41T/y</tspan></text>
<text x="78.2" y="258.7" text-anchor="middle">Day 5</text>
<line x1="77.5" y1="262" x2="77.5" y2="273.5" stroke="#444" stroke-width="0.7" stroke-dasharray="0.7 1.8"/>
<text x="78.4" y="282.1" text-anchor="middle">Day 8</text>
<path d="M66.4 286.5 C72 288 77.8 292 78.4 298" fill="none" stroke="#c4c4c4" stroke-width="1.1"/>
<path d="M91.6 286.1 C85 288 79 292 78.4 298" fill="none" stroke="#c4c4c4" stroke-width="1.1"/>
<path d="M76.5 296.6 L80.3 296.6 L78.4 301.3 Z" fill="#c4c4c4"/>
<rect x="49.9" y="315.5" width="34" height="12.9" fill="#b7dde9"/>
<rect x="83.9" y="315.5" width="29.2" height="12.9" fill="#73c1e1"/>
<rect x="59.5" y="304.8" width="12.1" height="33" fill="#b7dde9"/>
<rect x="83.9" y="304.8" width="12.6" height="33" fill="#73c1e1"/>
<path d="M49.9 315.5 L59.5 315.5 L59.5 304.8" fill="none" stroke="#3a3a3a" stroke-width="0.8"/>
<path d="M71.6 304.8 L71.6 315.5 L83.9 315.5 L83.9 304.8" fill="none" stroke="#3a3a3a" stroke-width="0.8"/>
<path d="M96.5 304.8 L96.5 315.5 L113.1 315.5" fill="none" stroke="#3a3a3a" stroke-width="0.8"/>
<path d="M49.9 328.4 L59.5 328.4 L59.5 337.6" fill="none" stroke="#3a3a3a" stroke-width="0.8"/>
<path d="M71.6 337.6 L71.6 328.4 L83.9 328.4 L83.9 337.6" fill="none" stroke="#3a3a3a" stroke-width="0.8"/>
<path d="M96.5 337.6 L96.5 328.4 L113.1 328.4" fill="none" stroke="#3a3a3a" stroke-width="0.8"/>
<circle cx="84.1" cy="322.1" r="4.3" fill="#cfe9f2"/>
<circle cx="95.4" cy="321.2" r="3.9" fill="#cfe9f2"/>
<circle cx="105.8" cy="321.2" r="3.9" fill="#cfe9f2"/>
<circle cx="53.8" cy="322.1" r="3" fill="#1ea6df" stroke="#333" stroke-width="0.45"/>
<circle cx="65" cy="322.1" r="3" fill="#e2336f" stroke="#333" stroke-width="0.45"/>
<circle cx="74.8" cy="322.1" r="3" fill="#0b6a3a" stroke="#333" stroke-width="0.45"/>
<circle cx="84.1" cy="322.1" r="3.2" fill="#f6c318" stroke="#333" stroke-width="0.45"/>
<circle cx="95.4" cy="321.2" r="2.7" fill="#e8652a" stroke="#333" stroke-width="0.45"/>
<circle cx="105.8" cy="321.2" r="2.7" fill="#c3162e" stroke="#333" stroke-width="0.45"/>
<text x="155.4" y="212.3" font-size="10.5" font-weight="bold">e</text>
<path d="M204.3 262 L209 263.5 L215 262.5 L221 262 L224 264 L226.2 268.5 L227.3 277.6 L228.5 282.1 L222.8 285.5 L218.2 289 L215.5 293.5 L209.8 296.9 L204.2 299.2 L201.9 295.7 L203 287.8 L204.2 278.7 L204.2 269.6 L204.5 265 Z" fill="#cfd0d1" stroke="#cfd0d1" stroke-width="0.3"/>
<path d="M214.8 260.5 L216.5 258.3 L218.2 257.6 L222.8 257.1 L225 252.5 L229.6 250.2 L235.3 251.4 L241 253.1 L244.4 254.8 L246.7 259.4 L247.2 268.5 L246.7 276.4 L245.5 283.3 L243.3 286.7 L240 283 L234.2 279.8 L228.5 282.1 L227.3 277.6 L226.2 268.5 L222.8 262 L218 262 L216 262.5 Z" fill="#808183" stroke="#808183" stroke-width="0.3"/>
<path d="M190.5 231.4 L194.8 232.7 L198.2 235.7 L200.7 240 L202.9 244.2 L204.2 248.5 L205 252.8 L205.4 257 L205.9 260.5 L204.8 265 L204.2 269.6 L204.2 278.7 L203 287.8 L201.9 295.7 L199.6 300.3 L196.2 302.6 L190.5 301.4 L185.9 298 L182.5 292.3 L178 284.4 L174.6 276.4 L172.3 269.6 L172.6 268 L173.8 267.3 L176 263 L178.1 258.7 L180.2 253.6 L182 250.2 L183.2 245.1 L184.1 240.8 L185.4 236.5 L187.9 232.7 Z" fill="#2270b5" stroke="#2270b5" stroke-width="0.3"/>
<path d="M185.9 298 L190.5 301.4 L196.2 302.6 L199.6 300.3 L204.2 299.2 L209.8 296.9 L215.5 293.5 L219 287.8 L223.5 285.5 L228.5 282.1 L234.2 279.8 L240 281 L243.3 286.7 L245.5 283.3 L246 284.5 L242.6 289.3 L236.9 300.7 L233.5 312.1 L227.8 317.8 L224.7 318.5 L219 319.1 L213.3 318.5 L207.6 317.4 L203 318.5 L198.5 312.8 L197.3 307.1 L192.8 302.6 Z" fill="#f4a22b" stroke="#f4a22b" stroke-width="0.3"/>
<path d="M228.8 209.4 L232.4 209 L236.6 210.5 L241.8 213.2 L246 216.3 L249.2 219.6 L250.7 225.9 L251.8 234.2 L251.8 243.6 L252.3 251 L253.3 255.1 L251.2 260 L246 260 L244.5 252 L243.4 243.6 L242.9 235.3 L242.4 229 L242 223 L240.5 218.5 L237.5 214.5 L234 212.3 L230.5 212 Z" fill="#7658a8" stroke="#7658a8" stroke-width="0.3"/>
<path d="M246.6 259 L251.4 254.2 L255.2 251.4 L257.1 249.5 L260.9 248.1 L262.8 249 L261.8 254.2 L259.9 259 L260.4 262.8 L264.7 265.2 L269.4 264.2 L274.2 261.4 L278 259 L278.9 260.4 L276.1 264.7 L272.3 267.5 L269.4 270.4 L270.4 276.1 L273.7 279.9 L273.2 282.7 L268.5 284.6 L263.7 284.2 L259 282.7 L253.3 281.8 L249.5 279.9 L247.6 276.1 L247.1 268.5 Z" fill="#bb1d2d" stroke="#bb1d2d" stroke-width="0.3"/>
<path d="M233.6 212.6 L235.8 213 L237.2 219 L238.2 227 L236.8 227.8 L235.2 220 L233.8 215 Z" fill="#7658a8" stroke="#7658a8" stroke-width="0.3"/>
<path d="M206.4 298.5h.7M202.9 262.7h.7M215.6 293.0h.7M200.6 286.7h.7M221.7 286.3h.7M203.6 265.9h.7M205.5 298.8h.7M211.9 295.7h.7M201.4 271.1h.7M201.3 292.4h.7M229.2 274.7h.7M224.0 284.6h.7M226.9 274.6h.7M210.2 298.8h.7M219.4 291.2h.7M228.7 276.6h.7M227.2 276.5h.7M202.6 273.0h.7M203.2 298.4h.7M217.6 294.8h.7M205.5 298.6h.7M204.4 300.3h.7M201.8 293.0h.7M208.4 262.2h.7M209.0 297.6h.7M228.6 275.5h.7M201.2 295.4h.7M202.9 280.3h.7M203.4 277.0h.7M202.6 274.8h.7M222.6 263.1h.7M201.7 285.2h.7M224.8 287.6h.7M206.2 261.5h.7M201.2 289.2h.7M200.8 271.2h.7M202.0 297.6h.7M222.6 286.5h.7M226.6 269.4h.7M218.3 289.0h.7M222.2 261.9h.7M205.7 298.8h.7M225.6 285.3h.7M219.5 259.2h.7M211.1 262.8h.7M209.0 297.7h.7M201.5 293.0h.7M211.8 262.5h.7M202.0 286.3h.7M202.4 284.3h.7M223.1 285.7h.7M212.5 262.0h.7M203.4 269.4h.7M203.5 273.1h.7M217.4 261.2h.7M200.6 289.9h.7M207.4 261.2h.7M217.4 261.2h.7M202.3 266.2h.7M200.5 283.5h.7M202.3 289.4h.7M201.7 289.2h.7M211.7 262.8h.7M201.7 293.8h.7M201.1 295.4h.7M213.9 262.6h.7M201.3 293.9h.7M210.2 296.6h.7M222.1 262.0h.7M202.5 280.8h.7M203.8 277.8h.7M223.0 262.8h.7M210.4 296.4h.7M215.3 295.7h.7M226.6 272.2h.7M204.0 266.4h.7M203.5 265.1h.7M213.7 295.0h.7M201.5 291.2h.7M224.2 261.9h.7M205.0 300.5h.7M227.2 277.2h.7M210.5 262.9h.7M200.7 292.0h.7M228.5 272.1h.7M216.6 293.4h.7M202.1 287.3h.7M225.9 285.9h.7M215.3 294.3h.7M201.0 285.2h.7M204.5 300.9h.7M203.5 277.1h.7M202.9 297.9h.7M205.9 298.7h.7M202.9 284.6h.7M226.0 268.2h.7M203.2 274.4h.7M201.1 291.8h.7M200.6 283.9h.7M201.3 288.3h.7M200.8 293.0h.7M201.7 292.5h.7M228.0 284.5h.7M225.2 267.0h.7M224.8 284.3h.7M225.0 284.1h.7M225.1 266.8h.7M217.7 289.5h.7M201.7 291.3h.7M203.0 271.9h.7M230.0 281.5h.7M221.5 262.3h.7M229.3 277.3h.7M228.0 272.5h.7M215.5 261.4h.7M202.1 289.9h.7M201.9 272.5h.7M227.6 274.3h.7M200.6 293.3h.7M218.4 290.8h.7M202.0 291.3h.7M226.7 267.6h.7M202.0 276.4h.7M203.7 273.2h.7M211.6 261.9h.7M210.2 296.6h.7M208.3 297.9h.7M224.1 264.1h.7M224.2 264.6h.7" stroke="#cfd0d1" stroke-width="0.7"/>
<path d="M226.7 279.0h.7M247.5 271.7h.7M220.9 257.0h.7M227.0 280.7h.7M248.3 279.5h.7M217.2 262.2h.7M245.9 253.1h.7M246.2 258.0h.7M227.9 281.4h.7M247.4 267.4h.7M243.8 254.6h.7M222.7 251.5h.7M245.5 281.7h.7M226.8 278.7h.7M216.7 262.7h.7M235.6 251.0h.7M244.8 285.1h.7M231.2 248.9h.7M223.0 263.6h.7M230.6 250.2h.7M218.4 262.7h.7M245.7 254.9h.7M239.0 283.8h.7M224.6 266.7h.7M222.7 262.5h.7M245.6 257.2h.7M239.4 252.4h.7M244.2 253.3h.7M247.0 283.2h.7M237.7 251.5h.7M230.7 250.4h.7M215.0 261.4h.7M247.8 263.6h.7M227.8 250.8h.7M220.4 266.5h.7M246.5 260.4h.7M246.8 275.7h.7M246.3 258.1h.7M225.3 276.9h.7M217.5 262.6h.7M217.9 264.3h.7M216.6 257.9h.7M224.3 275.5h.7M243.5 253.5h.7M248.0 270.5h.7M215.0 261.8h.7M221.1 257.2h.7M246.8 263.1h.7M246.1 282.0h.7M230.4 281.8h.7M242.6 287.0h.7M241.4 285.0h.7M246.5 281.2h.7M245.6 281.1h.7M220.1 263.9h.7M232.5 281.7h.7M248.2 273.0h.7M241.6 253.4h.7M247.6 262.8h.7M247.5 270.5h.7M215.5 262.6h.7M247.0 256.7h.7M245.0 283.6h.7M215.8 263.3h.7M245.1 253.7h.7M232.6 250.1h.7M221.1 262.6h.7M223.2 263.6h.7M217.0 257.7h.7M248.3 264.5h.7M230.4 250.4h.7M247.0 259.7h.7M232.6 281.1h.7M247.3 275.5h.7M234.0 280.4h.7M246.5 275.5h.7M221.7 253.8h.7M243.6 286.6h.7M226.6 279.3h.7M227.9 281.0h.7M228.5 282.1h.7M223.8 252.6h.7M245.5 281.6h.7M217.2 262.4h.7M222.7 252.7h.7M245.5 255.7h.7M228.4 250.3h.7M247.3 261.7h.7M225.8 282.5h.7M226.6 274.8h.7M246.6 282.8h.7M229.0 249.6h.7M234.3 251.2h.7M246.5 260.6h.7M222.6 262.5h.7M225.7 250.9h.7M228.4 282.3h.7M245.9 283.3h.7M224.7 250.5h.7M226.8 277.0h.7M232.4 280.4h.7M242.3 253.8h.7M214.9 263.7h.7M225.0 275.2h.7M235.3 281.0h.7M226.1 276.0h.7M246.9 280.3h.7M226.1 275.8h.7M222.1 253.6h.7M247.4 270.9h.7M223.3 252.6h.7M211.7 260.0h.7M217.4 254.7h.7M225.5 251.8h.7M225.3 281.3h.7M221.0 257.0h.7M239.3 251.3h.7M246.1 278.2h.7M223.2 266.4h.7M217.8 257.0h.7M227.6 282.4h.7M232.3 249.1h.7M223.8 253.1h.7M238.2 282.8h.7M222.8 263.7h.7M220.3 262.4h.7M244.0 254.1h.7M221.0 262.0h.7M230.9 249.1h.7M245.3 284.3h.7M243.8 253.7h.7M232.4 249.9h.7M241.9 288.3h.7M223.5 253.9h.7M246.4 275.5h.7M247.6 276.5h.7M246.7 277.9h.7M247.5 262.9h.7M231.9 250.6h.7" stroke="#808183" stroke-width="0.7"/>
<path d="M202.8 243.9h.7M204.7 268.8h.7M172.6 267.1h.7M188.6 231.0h.7M202.3 237.7h.7M205.9 261.2h.7M178.9 252.1h.7M203.6 247.4h.7M205.4 252.1h.7M183.6 239.5h.7M178.7 293.0h.7M207.2 262.6h.7M204.4 283.1h.7M176.4 283.7h.7M174.8 281.9h.7M187.8 300.7h.7M195.8 304.7h.7M204.6 269.4h.7M184.5 296.3h.7M205.3 258.5h.7M177.4 258.5h.7M192.0 231.9h.7M179.3 251.7h.7M186.8 299.9h.7M180.0 252.9h.7M205.0 265.0h.7M181.4 250.5h.7M199.4 235.6h.7M177.8 253.0h.7M204.1 275.3h.7M201.2 241.0h.7M181.9 247.6h.7M183.3 240.7h.7M172.8 266.7h.7M203.0 288.0h.7M176.4 283.2h.7M196.8 302.0h.7M205.4 251.3h.7M176.8 257.5h.7M205.6 260.2h.7M182.2 244.4h.7M187.7 301.1h.7M175.6 281.7h.7M178.3 250.9h.7M182.4 293.5h.7M179.6 289.3h.7M205.5 250.9h.7M174.0 266.2h.7M191.5 231.7h.7M179.0 287.8h.7M176.0 260.0h.7M202.5 238.6h.7M199.3 238.2h.7M181.5 292.1h.7M207.9 278.0h.7M205.2 262.9h.7M188.5 230.4h.7M205.6 258.8h.7M184.4 296.8h.7M204.5 282.3h.7M204.6 270.7h.7M199.1 235.3h.7M204.6 284.7h.7M205.0 254.1h.7M172.5 275.5h.7M201.5 296.5h.7M198.6 300.9h.7M205.9 262.0h.7M185.3 236.0h.7M202.0 293.6h.7M201.1 240.7h.7M204.6 264.4h.7M177.4 256.5h.7M204.1 273.3h.7M203.8 244.3h.7M183.8 240.0h.7M202.5 291.4h.7M204.3 250.2h.7M185.9 298.9h.7M174.9 278.2h.7M188.7 300.3h.7M187.7 300.0h.7M207.4 253.5h.7M172.9 273.5h.7M180.4 289.7h.7M173.2 275.0h.7M179.9 289.3h.7M184.8 236.2h.7M203.8 281.6h.7M176.7 284.4h.7M206.4 259.5h.7M208.5 266.7h.7M201.0 240.2h.7M204.3 250.7h.7M203.2 244.2h.7M203.3 293.3h.7M203.6 284.9h.7M205.0 253.8h.7M205.1 281.6h.7M205.4 262.4h.7M191.6 302.3h.7M206.8 265.4h.7M205.8 257.9h.7M176.2 260.8h.7M200.6 238.9h.7M204.0 274.6h.7M202.3 295.7h.7M173.3 277.1h.7M204.1 276.7h.7M203.9 280.8h.7M204.8 270.1h.7M203.7 247.3h.7M189.4 302.0h.7M183.6 295.6h.7M200.8 297.4h.7M204.4 272.4h.7M191.5 229.8h.7M180.0 253.1h.7M205.5 271.2h.7M191.7 302.1h.7M181.6 246.5h.7M205.3 262.8h.7M181.8 248.4h.7M191.8 301.8h.7M179.7 289.1h.7M176.6 257.6h.7M177.3 283.8h.7M192.8 231.0h.7M178.4 256.9h.7M180.9 290.2h.7M203.6 284.3h.7M203.9 279.0h.7M204.3 276.2h.7M183.3 240.6h.7M203.8 242.8h.7M176.4 284.9h.7M172.4 277.2h.7M181.0 242.9h.7M181.7 247.9h.7M180.0 290.1h.7M203.9 278.1h.7M204.6 277.1h.7M205.5 267.0h.7M184.0 239.6h.7M174.4 263.7h.7M198.8 303.8h.7M189.6 231.5h.7M186.0 234.7h.7M183.1 243.3h.7M182.0 292.6h.7M200.0 238.9h.7M181.7 247.0h.7M178.2 288.7h.7M203.9 272.8h.7M172.2 272.5h.7M183.8 295.5h.7M205.2 274.2h.7M203.4 285.4h.7M169.9 272.3h.7M172.7 267.3h.7M202.7 287.6h.7M190.0 229.9h.7M205.4 259.8h.7M179.5 252.9h.7M191.0 302.3h.7M184.9 235.5h.7M185.5 300.5h.7M180.2 248.1h.7M190.2 228.9h.7M204.6 270.3h.7M174.2 258.5h.7M205.2 270.5h.7M177.1 283.3h.7M182.3 242.7h.7M178.0 257.4h.7M175.6 257.5h.7M197.4 302.3h.7M190.3 301.5h.7M203.4 289.4h.7M195.1 303.9h.7M175.9 257.5h.7M180.0 253.0h.7M203.5 247.1h.7M174.3 277.3h.7M178.8 287.7h.7M187.3 302.5h.7M182.6 294.6h.7M191.0 301.7h.7M201.6 240.7h.7M201.8 241.8h.7M187.9 231.4h.7M205.3 279.8h.7M204.7 275.9h.7M197.2 233.5h.7M179.3 253.7h.7M204.9 273.9h.7M203.4 283.2h.7M178.0 286.4h.7M179.8 253.3h.7M179.4 289.9h.7" stroke="#2270b5" stroke-width="0.7"/>
<path d="M236.3 301.8h.7M243.4 285.8h.7M212.7 294.7h.7M191.1 302.3h.7M219.0 319.9h.7M231.4 316.9h.7M213.3 320.3h.7M189.2 301.4h.7M209.2 296.2h.7M244.1 284.6h.7M209.4 295.7h.7M213.1 319.4h.7M217.3 319.6h.7M239.3 279.7h.7M216.7 319.1h.7M190.3 300.6h.7M243.3 285.4h.7M220.1 319.6h.7M213.1 294.0h.7M194.3 304.9h.7M238.5 298.3h.7M194.6 310.2h.7M242.0 289.8h.7M219.2 319.5h.7M218.2 286.9h.7M196.1 301.5h.7M220.2 320.2h.7M186.8 298.2h.7M237.8 280.3h.7M242.2 291.6h.7M202.2 299.5h.7M204.5 318.2h.7M187.9 297.8h.7M238.7 280.5h.7M245.1 283.0h.7M193.2 301.6h.7M244.6 286.3h.7M208.0 318.6h.7M230.9 280.7h.7M245.2 285.3h.7M192.2 302.9h.7M243.6 287.6h.7M186.1 297.3h.7M240.5 281.6h.7M187.6 302.2h.7M210.6 294.9h.7M238.0 301.3h.7M235.3 305.6h.7M186.1 298.4h.7M223.4 319.3h.7M187.0 299.6h.7M187.9 302.0h.7M234.1 315.2h.7M201.9 299.5h.7M234.8 279.6h.7M215.8 292.2h.7M206.3 318.6h.7M187.6 299.7h.7M240.9 282.3h.7M189.4 300.5h.7M228.1 318.3h.7M234.8 279.9h.7M189.1 297.9h.7M224.0 284.8h.7M219.6 286.1h.7M206.5 318.6h.7M215.2 320.4h.7M230.8 314.6h.7M190.8 301.4h.7M247.1 282.1h.7M185.8 299.2h.7M237.2 300.7h.7M191.3 301.1h.7M218.4 321.8h.7M230.2 315.7h.7M225.2 283.5h.7M190.6 305.8h.7M245.4 283.6h.7M204.6 319.0h.7M210.2 296.2h.7M203.7 319.9h.7M239.0 296.8h.7M237.2 280.3h.7M213.4 318.6h.7M220.5 319.2h.7M203.8 298.8h.7M243.9 284.7h.7M220.4 286.2h.7M190.2 300.4h.7M235.8 303.6h.7M201.8 299.7h.7M243.3 285.7h.7M211.8 290.5h.7M223.6 283.9h.7M215.5 289.7h.7M195.9 301.9h.7M228.3 281.9h.7M211.1 295.6h.7M217.0 321.0h.7M193.9 305.3h.7M204.5 297.8h.7M186.1 297.3h.7M238.2 297.9h.7M196.3 306.7h.7M217.8 289.0h.7M212.4 295.1h.7M211.9 318.3h.7M192.3 305.9h.7M233.6 279.7h.7M191.3 302.0h.7M203.6 298.0h.7M195.5 302.3h.7M226.0 318.7h.7M216.9 288.9h.7M205.2 318.2h.7M185.3 298.2h.7M208.8 296.1h.7M225.1 318.5h.7M242.6 289.4h.7M202.2 299.2h.7M239.8 281.2h.7M236.5 277.6h.7M231.6 280.4h.7M192.4 301.7h.7M196.8 308.4h.7M240.0 281.5h.7M204.5 318.1h.7M197.6 313.1h.7M191.4 306.8h.7M244.9 289.2h.7M217.8 286.3h.7M217.2 288.2h.7M245.3 285.8h.7M193.7 304.8h.7M235.5 304.4h.7M213.7 293.5h.7M243.8 289.3h.7M201.7 317.3h.7M242.1 284.8h.7M210.5 296.2h.7M242.1 289.6h.7M232.0 279.5h.7M242.3 285.5h.7M236.2 280.1h.7M246.9 286.8h.7M196.6 314.9h.7M197.4 301.0h.7M186.1 298.7h.7M231.8 314.3h.7M186.9 299.3h.7M217.4 289.7h.7M212.9 318.6h.7M202.3 298.7h.7M239.4 299.7h.7M229.7 281.2h.7M238.5 298.2h.7M213.4 294.5h.7M209.6 318.3h.7M232.6 279.7h.7M190.9 299.5h.7M241.3 295.6h.7M217.0 319.7h.7M221.1 285.5h.7M210.3 320.8h.7M229.4 281.5h.7M196.4 306.8h.7M226.7 318.0h.7M188.0 300.1h.7M189.0 300.3h.7M188.4 299.8h.7M234.1 311.4h.7M205.8 298.2h.7M224.9 282.8h.7M186.8 299.4h.7M233.6 315.5h.7M228.4 278.9h.7M213.6 320.5h.7M235.6 304.0h.7M231.5 280.1h.7M193.3 301.8h.7M210.3 318.2h.7M209.4 318.9h.7M189.0 299.2h.7M201.8 299.4h.7M234.0 309.6h.7M241.9 284.8h.7M235.1 312.1h.7M193.8 306.1h.7M205.6 298.2h.7M242.8 286.2h.7M240.8 282.9h.7M213.4 320.8h.7M214.7 293.2h.7M223.1 319.8h.7M217.3 289.8h.7M200.2 298.5h.7M229.4 319.3h.7M227.7 280.6h.7M188.0 300.2h.7" stroke="#f4a22b" stroke-width="0.7"/>
<path d="M250.6 226.8h.7M241.4 222.3h.7M228.6 209.8h.7M240.4 226.4h.7M237.3 215.9h.7M241.8 226.1h.7M252.8 242.0h.7M245.9 261.8h.7M232.6 209.2h.7M230.4 212.9h.7M250.6 260.3h.7M234.3 208.9h.7M252.1 240.4h.7M253.3 254.4h.7M237.6 216.8h.7M251.6 264.0h.7M252.7 256.4h.7M251.7 233.7h.7M249.7 220.6h.7M244.1 252.8h.7M241.1 238.6h.7M253.1 254.1h.7M237.1 210.5h.7M251.0 228.6h.7M252.7 236.1h.7M250.9 223.6h.7M242.2 232.2h.7M242.6 238.3h.7M239.5 211.2h.7M231.3 208.9h.7M231.6 212.9h.7M252.0 247.3h.7M241.0 229.7h.7M250.6 224.5h.7M252.7 230.5h.7M251.6 236.4h.7M230.0 208.8h.7M251.9 258.4h.7M250.7 228.5h.7M252.7 258.2h.7M242.8 240.3h.7M250.5 226.8h.7M252.4 233.5h.7M241.0 222.8h.7M233.2 212.4h.7M229.3 207.3h.7M250.8 228.8h.7M238.6 219.9h.7M242.9 245.8h.7M251.5 241.4h.7M247.7 217.1h.7M250.4 225.4h.7M241.0 211.9h.7M252.6 242.1h.7M240.4 237.4h.7M242.3 238.4h.7M242.4 213.1h.7M241.2 229.2h.7M253.7 242.9h.7M252.4 259.2h.7M242.2 255.1h.7M237.1 217.2h.7M234.7 208.7h.7M242.4 213.1h.7M245.4 215.9h.7M239.9 210.4h.7M242.6 242.6h.7M240.9 224.7h.7M242.1 232.9h.7M250.7 225.8h.7M252.5 246.1h.7M250.7 225.8h.7M251.9 249.7h.7M250.7 260.6h.7M244.3 253.0h.7M252.6 253.0h.7M233.6 214.5h.7M242.5 240.5h.7M247.5 217.7h.7M237.9 211.0h.7M235.7 215.9h.7M236.3 215.7h.7M243.2 248.3h.7M235.7 209.9h.7M242.8 241.9h.7M248.8 218.5h.7M240.6 223.1h.7M250.7 218.7h.7M251.7 243.2h.7M254.8 237.4h.7M242.4 242.9h.7M252.1 240.5h.7M251.5 259.1h.7M237.8 215.5h.7M238.1 217.3h.7M242.5 235.8h.7M237.0 216.8h.7M239.0 221.1h.7M240.7 231.7h.7M241.8 244.6h.7M247.1 217.0h.7M243.3 248.5h.7M228.6 208.8h.7M240.6 220.0h.7M252.4 248.3h.7M251.6 229.6h.7M252.3 256.7h.7M233.0 212.5h.7M244.4 256.0h.7M252.0 249.4h.7M252.8 236.7h.7M253.4 255.2h.7M242.1 246.3h.7M252.0 246.8h.7M244.9 215.4h.7M228.0 210.8h.7M231.4 213.6h.7M254.0 229.9h.7M252.7 247.5h.7M230.8 212.1h.7M242.0 236.8h.7M239.3 219.4h.7M232.5 208.5h.7M252.7 256.0h.7M243.3 245.4h.7M240.8 212.5h.7M242.3 232.5h.7M251.4 227.0h.7M233.1 212.7h.7M240.7 221.7h.7M254.0 253.0h.7M249.0 261.4h.7M232.6 212.2h.7M242.8 241.3h.7M252.9 250.3h.7M241.2 248.8h.7M229.8 209.1h.7M244.5 254.9h.7M251.0 229.7h.7M231.2 208.1h.7M252.4 251.0h.7M234.4 207.8h.7M240.9 223.7h.7M249.2 219.6h.7M250.1 222.9h.7M237.5 215.1h.7M253.6 251.0h.7M239.4 212.0h.7M241.3 228.5h.7M240.3 210.8h.7M251.9 257.8h.7M251.7 247.0h.7M242.6 238.9h.7" stroke="#7658a8" stroke-width="0.7"/>
<path d="M273.7 269.6h.7M273.8 280.0h.7M278.2 264.4h.7M262.2 251.6h.7M267.1 263.8h.7M273.5 261.3h.7M248.4 256.6h.7M246.4 275.1h.7M262.7 263.3h.7M251.6 253.6h.7M273.4 259.8h.7M270.1 271.9h.7M261.9 256.4h.7M246.4 263.2h.7M263.7 262.6h.7M246.2 263.3h.7M274.4 260.3h.7M262.2 250.8h.7M265.4 285.0h.7M265.0 284.6h.7M247.1 279.2h.7M265.5 285.1h.7M277.2 263.5h.7M262.1 253.6h.7M271.4 269.2h.7M272.1 267.5h.7M273.2 281.4h.7M265.0 253.8h.7M263.7 250.7h.7M275.6 268.0h.7M263.8 253.2h.7M252.1 252.8h.7M275.1 257.7h.7M274.1 261.2h.7M270.0 275.8h.7M262.8 249.9h.7M262.7 263.7h.7M270.0 274.7h.7M278.7 258.3h.7M271.4 274.5h.7M279.1 257.7h.7M270.0 285.1h.7M255.0 247.9h.7M256.3 284.1h.7M271.0 284.4h.7M263.4 285.5h.7M267.7 262.5h.7M273.0 283.3h.7M278.2 261.3h.7M260.5 262.0h.7M247.8 281.5h.7M259.9 258.6h.7M245.2 265.2h.7M262.3 253.7h.7M260.2 262.9h.7M247.1 274.8h.7M261.1 260.9h.7M276.2 256.6h.7M270.0 274.0h.7M260.9 246.4h.7M278.6 260.3h.7M262.3 248.5h.7M262.0 284.6h.7M246.3 265.6h.7M251.1 254.1h.7M270.4 272.5h.7M252.4 253.2h.7M246.5 265.8h.7M277.0 263.3h.7M275.2 260.4h.7M267.6 284.6h.7M252.3 252.9h.7M270.2 263.5h.7M270.6 269.2h.7M269.7 273.7h.7M273.6 279.6h.7M251.5 253.7h.7M254.0 252.0h.7M261.2 256.8h.7M273.4 260.8h.7M255.1 282.9h.7M258.1 248.7h.7M246.3 263.3h.7M250.0 281.3h.7M260.9 255.6h.7M277.7 261.8h.7M265.6 285.6h.7M247.4 278.8h.7M269.6 271.9h.7M270.8 276.4h.7M260.3 257.5h.7M273.1 267.1h.7M255.4 282.8h.7M276.3 259.9h.7M273.0 268.7h.7M263.7 254.7h.7M271.9 272.3h.7M270.0 270.2h.7M249.9 251.6h.7M274.8 260.3h.7M269.5 263.3h.7M259.9 260.0h.7M269.7 263.4h.7M273.7 266.3h.7M251.6 252.9h.7M263.8 261.1h.7M272.5 276.7h.7M267.4 285.4h.7M246.1 272.8h.7M247.2 276.7h.7M273.5 279.4h.7M249.2 280.8h.7M244.5 262.3h.7M246.2 276.3h.7M246.3 259.9h.7M261.7 284.9h.7M278.6 260.2h.7M247.6 257.5h.7M262.1 263.7h.7M252.6 284.4h.7M280.9 261.0h.7M258.9 283.5h.7M272.7 261.4h.7M277.4 262.2h.7M262.1 253.4h.7M244.8 260.2h.7M245.9 259.4h.7M251.0 281.6h.7M260.8 262.6h.7M246.7 258.3h.7M264.4 263.7h.7M262.6 262.9h.7M263.7 253.0h.7M249.1 256.1h.7M246.7 258.1h.7M246.6 267.3h.7M255.7 285.8h.7M270.7 268.8h.7M275.4 266.2h.7M279.3 260.0h.7M250.4 280.5h.7M269.3 263.8h.7M267.1 263.8h.7M273.0 271.6h.7M262.5 284.2h.7M245.2 271.3h.7M245.0 268.4h.7M246.2 259.1h.7M272.3 262.1h.7M275.0 274.8h.7M271.6 283.3h.7M261.5 257.0h.7M278.1 259.2h.7M253.6 251.5h.7M265.9 263.1h.7" stroke="#bb1d2d" stroke-width="0.7"/>
<path d="M185.3 252.6h.8M185.7 248.0h.8M186.0 249.4h.8M187.1 251.0h.8M185.3 255.7h.8M185.5 250.8h.8M185.8 256.4h.8M186.0 254.2h.8M186.0 251.9h.8M186.4 252.3h.8M185.8 246.3h.8M187.5 258.1h.8M186.8 245.4h.8M186.4 247.1h.8M183.9 245.3h.8M186.2 250.9h.8M185.9 254.1h.8M187.2 258.7h.8M188.8 256.0h.8M186.7 254.9h.8M187.0 258.1h.8M187.1 246.2h.8M186.1 245.3h.8M184.1 247.1h.8M183.4 249.5h.8M184.4 254.3h.8M185.8 247.5h.8M186.9 257.7h.8M186.6 254.3h.8M186.7 250.2h.8M187.5 252.5h.8M186.7 250.8h.8M187.9 252.2h.8M184.5 253.5h.8M186.6 247.6h.8M183.7 252.7h.8M186.1 252.5h.8M184.8 253.6h.8M186.6 253.2h.8M185.4 251.5h.8M186.2 248.6h.8M184.9 249.4h.8M186.1 252.2h.8M183.9 251.0h.8M184.9 250.5h.8M186.3 250.8h.8M183.7 246.5h.8M188.9 254.9h.8M186.1 254.7h.8M185.9 255.0h.8M185.1 255.3h.8M188.5 255.7h.8M185.4 254.4h.8M186.2 256.2h.8M185.3 253.2h.8M186.4 247.9h.8M187.1 257.3h.8M184.6 250.9h.8M186.8 249.0h.8M185.9 253.8h.8M184.7 251.3h.8M185.6 254.2h.8M186.7 249.7h.8M186.9 256.1h.8M188.9 254.9h.8M187.6 252.8h.8M186.1 256.7h.8M187.8 257.2h.8M187.3 250.7h.8M188.3 254.8h.8" stroke="#ffffff" stroke-width="0.8"/>
<path d="M201.1 257.9h.8M194.5 260.3h.8M194.1 259.7h.8M202.2 259.0h.8M204.0 256.4h.8M200.8 257.8h.8M203.1 257.4h.8M191.0 261.0h.8M195.9 258.8h.8M191.9 261.9h.8M204.0 256.5h.8M198.7 261.5h.8M190.6 261.4h.8M193.9 259.5h.8M201.0 258.4h.8M192.8 262.1h.8M198.1 259.0h.8M195.2 259.5h.8M193.8 260.3h.8M205.0 255.7h.8M190.2 258.0h.8M204.8 257.6h.8M193.7 260.2h.8M192.8 259.3h.8M201.8 256.4h.8M196.1 259.5h.8M197.3 258.0h.8M192.5 260.5h.8M202.5 257.4h.8M202.1 258.6h.8M192.0 260.2h.8M202.1 258.1h.8M193.9 261.3h.8M192.4 257.9h.8M190.3 261.4h.8M196.2 258.7h.8M195.8 258.1h.8M189.4 257.8h.8M202.1 258.7h.8M192.8 260.7h.8M202.6 255.9h.8M191.7 258.9h.8M195.1 258.8h.8M192.3 261.3h.8M199.7 257.4h.8M195.4 259.1h.8M197.7 259.0h.8M199.1 260.0h.8M190.0 260.5h.8M198.2 258.7h.8M188.7 262.0h.8M191.1 261.4h.8M191.8 259.5h.8M194.3 260.2h.8M202.3 258.3h.8M192.6 261.1h.8M201.9 258.8h.8M193.0 258.7h.8M199.9 257.7h.8M193.4 259.3h.8M191.6 260.2h.8M190.3 259.0h.8M193.3 260.4h.8M196.2 258.1h.8M202.0 258.1h.8M190.2 261.1h.8M197.9 259.1h.8M196.0 257.7h.8M192.1 260.1h.8M191.8 259.6h.8M203.0 256.8h.8M194.5 259.9h.8M198.2 259.5h.8M189.4 262.1h.8M191.1 260.9h.8M202.5 256.5h.8M197.7 259.0h.8M195.2 257.1h.8M197.5 259.6h.8M197.6 258.2h.8" stroke="#ffffff" stroke-width="0.8"/>
<path d="M202.3 253.7h.8M200.6 250.3h.8M204.3 256.9h.8M202.5 252.8h.8M199.7 248.9h.8M201.9 250.5h.8M201.6 249.5h.8M202.4 255.9h.8M202.0 250.1h.8M201.3 249.4h.8M202.7 256.7h.8M203.1 254.2h.8M202.2 251.3h.8M201.1 250.2h.8M203.9 258.4h.8M202.3 248.9h.8M201.9 249.4h.8M201.0 251.2h.8M202.4 254.4h.8M200.9 248.0h.8M201.7 250.0h.8M200.8 249.1h.8M202.0 249.1h.8M203.6 256.2h.8M203.5 255.4h.8M202.5 254.4h.8M202.9 256.6h.8M202.1 249.1h.8M202.4 252.4h.8M203.0 252.2h.8" stroke="#ffffff" stroke-width="0.8"/>
<path d="M194.6 250.4h.7M182.6 245.4h.7M202.2 254.9h.7M190.9 251.8h.7M191.3 251.9h.7M194.9 247.4h.7M201.1 260.7h.7M191.6 247.5h.7M193.2 252.6h.7M188.0 246.1h.7M186.4 244.3h.7M187.0 243.8h.7M204.3 260.8h.7M198.2 257.2h.7M202.8 259.3h.7M197.4 257.9h.7M187.5 247.1h.7M200.7 258.1h.7M201.4 253.2h.7M192.9 245.6h.7M197.6 254.4h.7M187.2 249.4h.7M191.5 250.3h.7M188.5 248.0h.7M200.7 255.4h.7M187.4 244.7h.7M192.2 250.9h.7M181.6 245.4h.7M197.2 258.0h.7M191.4 253.2h.7" stroke="#d0d0d0" stroke-width="0.7"/>
<path d="M203.0 289.2h.8M203.6 285.9h.8M203.7 273.8h.8M202.2 288.0h.8M202.1 275.4h.8M202.9 283.5h.8M204.0 288.1h.8M203.9 288.3h.8M202.1 265.5h.8M201.7 268.0h.8M205.1 278.7h.8M202.3 292.8h.8M202.4 285.7h.8M202.5 297.7h.8M202.9 292.2h.8M202.2 296.4h.8M203.4 290.6h.8M203.9 275.7h.8M203.2 270.5h.8M203.2 285.2h.8M203.0 288.1h.8M201.6 285.4h.8M202.9 293.2h.8M202.7 289.1h.8M205.7 286.9h.8M204.8 280.2h.8M203.9 267.4h.8M202.5 293.4h.8M203.9 292.2h.8M201.1 291.8h.8M201.2 286.3h.8M204.3 287.9h.8M202.3 262.1h.8M201.7 292.1h.8M202.5 271.2h.8M205.3 263.1h.8M203.4 277.1h.8M202.8 287.9h.8M202.9 269.6h.8M203.8 277.2h.8M200.0 280.8h.8M203.6 272.6h.8M202.7 278.6h.8M203.5 281.4h.8M202.4 274.0h.8M204.2 263.7h.8M202.0 271.6h.8M201.8 289.2h.8M204.4 270.3h.8M202.9 270.6h.8M203.8 263.6h.8M202.3 280.9h.8M201.5 291.3h.8M203.0 270.9h.8M201.3 281.0h.8M203.4 272.1h.8M203.0 270.6h.8M201.9 276.1h.8M202.2 289.5h.8M204.9 277.3h.8M204.9 276.0h.8M202.1 264.9h.8M204.0 269.0h.8M203.2 279.6h.8M202.4 265.2h.8M201.3 290.7h.8M203.0 295.9h.8M204.0 266.2h.8M205.1 292.5h.8M203.0 282.2h.8M202.1 265.0h.8M204.6 263.8h.8M204.2 272.1h.8M200.5 270.3h.8M203.1 267.2h.8M202.5 289.4h.8M201.7 288.6h.8M204.4 278.6h.8M202.5 281.7h.8M203.3 292.6h.8M204.1 276.0h.8M203.0 280.2h.8M203.1 272.3h.8M202.9 294.6h.8M204.9 285.6h.8M204.4 280.4h.8M203.4 284.9h.8M203.7 277.8h.8M204.2 291.7h.8M202.0 295.8h.8M202.3 293.8h.8M201.8 296.1h.8M202.6 292.3h.8M199.4 296.4h.8M202.2 294.3h.8M203.6 277.9h.8M203.7 288.5h.8M204.6 271.3h.8M205.2 272.9h.8M203.0 278.0h.8M202.1 271.0h.8M202.5 269.3h.8M202.0 295.9h.8M203.0 289.4h.8M204.0 273.7h.8M201.6 287.5h.8M203.1 264.8h.8M203.4 276.5h.8M203.0 277.5h.8M203.5 274.7h.8" stroke="#ffffff" stroke-width="0.8"/>
<path d="M205.0 304.8h.9M203.3 302.5h.9M205.2 300.5h.9M205.2 300.7h.9M205.4 305.6h.9M204.6 304.3h.9M209.0 303.6h.9M203.7 301.0h.9M203.9 301.4h.9M208.1 305.5h.9M206.2 299.0h.9M207.1 308.0h.9M206.2 304.0h.9M206.9 303.1h.9M206.0 307.9h.9M207.0 303.0h.9M204.0 300.8h.9M203.5 301.9h.9M206.9 302.0h.9M207.6 298.8h.9M203.3 303.0h.9M205.2 302.7h.9M207.5 304.2h.9M206.2 306.2h.9M207.1 299.3h.9M203.6 306.1h.9M206.7 305.0h.9M205.7 301.3h.9M204.6 303.5h.9M206.3 304.0h.9M206.4 305.9h.9M204.4 302.6h.9M206.6 299.8h.9M207.5 304.2h.9M209.2 300.9h.9M205.1 305.5h.9M208.6 306.8h.9M203.1 303.5h.9M207.7 307.6h.9M206.3 301.4h.9M203.8 303.0h.9M204.0 306.9h.9M204.1 304.6h.9M205.2 301.4h.9M204.4 302.7h.9M208.5 303.8h.9M206.5 300.7h.9M205.3 306.9h.9M203.6 305.0h.9M208.6 303.9h.9M205.4 300.8h.9M207.9 305.0h.9M204.2 301.8h.9M209.3 304.6h.9M205.4 304.9h.9M206.3 299.9h.9M205.5 300.0h.9M208.1 307.9h.9M206.1 304.2h.9M206.0 305.2h.9M204.2 303.3h.9M207.6 306.1h.9M206.5 307.3h.9M207.1 306.4h.9M207.6 305.5h.9M205.6 304.1h.9M205.6 301.5h.9M205.9 302.5h.9M208.7 302.9h.9M204.0 306.1h.9M208.0 307.6h.9M207.7 302.8h.9M208.8 300.6h.9M207.8 308.0h.9M209.2 304.2h.9M208.9 306.6h.9M206.7 307.6h.9M204.3 300.5h.9M205.7 307.2h.9M203.8 301.6h.9M206.5 308.3h.9M206.7 308.3h.9M203.7 302.2h.9M204.0 300.2h.9M209.2 301.9h.9M206.2 303.4h.9M207.4 307.8h.9M204.0 304.7h.9M208.5 305.9h.9M205.9 306.6h.9" stroke="#ffffff" stroke-width="0.9"/>
<path d="M206.1 297.9h.8M205.4 295.4h.8M204.6 297.9h.8M202.6 298.1h.8M202.2 298.3h.8M203.5 294.6h.8M203.2 298.4h.8M203.5 297.1h.8M203.9 294.8h.8M204.0 296.7h.8M205.3 295.7h.8M202.6 298.5h.8M203.2 296.0h.8M204.6 298.9h.8M203.6 299.4h.8M204.8 297.5h.8M205.0 298.2h.8M202.5 296.8h.8M202.4 296.9h.8M205.2 296.5h.8M203.7 298.7h.8M204.7 297.8h.8M204.6 295.8h.8M206.3 296.0h.8M202.6 299.0h.8" stroke="#ffffff" stroke-width="0.8"/>
<path d="M213.5 289.8h.7M214.8 270.3h.7M211.7 275.1h.7M213.1 277.1h.7M220.1 280.4h.7M208.1 290.6h.7M207.7 295.0h.7M218.6 264.3h.7M208.8 295.3h.7M221.7 275.5h.7M222.7 277.6h.7M207.3 284.7h.7M213.0 273.2h.7M210.5 275.3h.7M211.7 279.7h.7M203.8 282.8h.7M217.2 274.9h.7M220.3 264.8h.7M209.4 288.9h.7M222.4 268.4h.7M223.7 266.2h.7M222.1 283.3h.7M223.4 270.8h.7M216.8 279.0h.7M212.0 280.2h.7M206.4 287.3h.7M225.6 269.3h.7M210.3 282.8h.7M208.9 287.0h.7M222.1 276.1h.7M207.0 287.2h.7M204.6 288.2h.7M212.2 268.0h.7M223.0 283.2h.7M207.2 293.8h.7M212.9 289.5h.7M204.9 270.5h.7M219.4 278.2h.7M206.9 290.4h.7M212.0 276.8h.7M227.2 280.0h.7M223.0 281.1h.7M210.2 283.9h.7M209.3 288.9h.7M208.1 293.4h.7M219.3 263.7h.7M214.4 293.6h.7M203.8 295.5h.7M213.2 269.6h.7M213.9 279.1h.7M205.1 285.0h.7M205.1 297.9h.7M221.8 270.4h.7M215.7 263.5h.7M220.7 283.6h.7M209.1 283.0h.7M225.5 270.7h.7M213.4 273.4h.7M223.5 269.1h.7M211.1 271.1h.7M221.4 265.1h.7M204.0 293.4h.7M218.3 271.2h.7M208.4 292.2h.7M206.5 270.1h.7M208.0 269.9h.7M216.3 269.5h.7M208.7 270.8h.7M215.5 278.9h.7M209.8 274.1h.7M217.3 268.8h.7M218.2 282.7h.7M223.0 275.0h.7M209.9 293.1h.7M213.4 272.4h.7M209.8 284.4h.7M205.5 296.7h.7M224.9 275.8h.7M220.0 268.9h.7M218.2 283.9h.7M207.8 268.3h.7M205.8 277.4h.7M219.0 272.0h.7M208.9 295.4h.7M216.6 282.9h.7M215.9 269.2h.7M207.4 295.1h.7M214.3 275.4h.7M211.2 281.8h.7M209.1 293.4h.7M212.4 276.5h.7M219.5 263.8h.7M202.2 294.6h.7M206.0 284.3h.7M212.1 279.2h.7M207.9 285.7h.7M216.5 271.6h.7M211.2 286.9h.7M213.1 292.9h.7M212.9 294.2h.7M202.4 291.2h.7M207.1 266.8h.7M217.5 279.8h.7M206.4 267.6h.7M212.1 291.0h.7M216.6 287.3h.7M206.6 284.4h.7M216.0 273.6h.7M211.8 290.8h.7M217.8 279.5h.7M218.7 281.6h.7M221.6 264.3h.7M220.4 273.5h.7M213.5 287.7h.7M203.9 275.9h.7M205.4 296.2h.7M217.6 285.8h.7M214.2 274.0h.7M211.4 278.3h.7M219.2 270.8h.7" stroke="#ffffff" stroke-width="0.7"/>
<path d="M205.6 253.7h.7M205.4 254.5h.7M205.4 255.3h.7M207.9 258.4h.7M205.5 254.7h.7M209.7 254.1h.7M208.0 257.7h.7M207.7 254.5h.7M208.6 257.5h.7M208.8 254.1h.7M204.6 254.9h.7M209.1 256.0h.7M209.1 258.7h.7M206.6 254.7h.7M204.9 254.3h.7M206.6 253.8h.7M208.2 255.5h.7M204.6 257.2h.7M207.1 255.4h.7M210.2 254.8h.7M209.8 253.8h.7M206.6 256.4h.7M208.6 258.1h.7M206.1 257.2h.7M207.1 253.1h.7M208.9 258.5h.7M207.3 255.4h.7M208.0 258.8h.7M208.6 257.9h.7M208.6 254.3h.7M208.1 258.8h.7M207.0 254.6h.7M206.6 255.4h.7M210.0 257.6h.7M206.5 258.7h.7" stroke="#d0d0d0" stroke-width="0.7"/>
<path d="M246.2 227.2h.7M251.0 238.6h.7M249.5 251.3h.7M250.1 258.8h.7M245.2 242.6h.7M246.7 233.3h.7M245.9 256.9h.7M243.4 242.4h.7M248.1 227.8h.7M251.2 247.8h.7M250.1 249.7h.7M247.4 255.6h.7M236.4 212.4h.7M249.1 229.0h.7M240.3 218.0h.7M245.3 253.5h.7M246.0 258.1h.7M243.2 235.6h.7M246.5 226.3h.7M245.2 232.3h.7M243.3 237.8h.7M247.9 222.5h.7M241.9 213.9h.7M235.1 211.6h.7M245.8 233.1h.7M249.8 246.5h.7M239.7 212.6h.7M248.3 256.1h.7M247.8 237.3h.7M246.4 252.0h.7M245.7 256.8h.7M246.1 226.5h.7M245.5 218.8h.7M250.0 241.8h.7M249.0 236.4h.7M249.7 240.2h.7M245.0 255.8h.7M245.4 250.0h.7M247.0 252.8h.7M242.3 224.5h.7M243.7 228.2h.7M250.9 235.5h.7M243.4 236.6h.7M247.8 257.6h.7M245.4 251.6h.7" stroke="#ffffff" stroke-width="0.7"/>
<path d="M251.0 277.6h.7M256.3 281.2h.7M263.0 267.4h.7M257.5 249.4h.7M259.9 271.0h.7M252.1 257.2h.7M264.5 269.4h.7M271.8 264.2h.7M260.1 271.1h.7M266.0 272.1h.7M251.9 267.4h.7M259.0 279.2h.7M262.1 249.2h.7M269.3 277.0h.7M252.4 271.9h.7M257.9 278.6h.7M255.0 267.3h.7M258.8 260.8h.7M253.3 273.9h.7M262.6 264.7h.7M253.8 260.7h.7M262.6 280.7h.7M263.8 272.6h.7M265.4 282.3h.7M271.7 278.6h.7M260.2 264.5h.7M250.1 263.1h.7M260.8 278.1h.7M252.9 253.8h.7M254.9 256.9h.7M256.2 275.6h.7M275.2 262.3h.7M256.8 275.3h.7M258.2 280.5h.7M267.4 272.0h.7M266.3 280.6h.7M252.8 274.4h.7M268.5 267.6h.7M258.4 262.2h.7M255.6 282.0h.7M268.3 277.9h.7M248.1 259.3h.7M268.0 265.5h.7M261.5 278.2h.7M268.4 277.8h.7M272.9 264.5h.7M260.1 273.1h.7M247.5 265.8h.7M264.2 277.2h.7M255.8 262.5h.7M251.2 263.8h.7M256.6 273.4h.7M259.3 271.9h.7M252.8 275.8h.7M262.5 282.6h.7M255.8 263.8h.7M259.7 248.5h.7M258.7 259.7h.7M259.6 270.0h.7M262.0 282.8h.7M252.4 278.1h.7M263.8 274.3h.7M267.6 276.5h.7M261.2 254.3h.7M255.8 278.6h.7M256.5 265.1h.7M266.3 274.7h.7M256.4 271.1h.7M258.6 267.0h.7M260.8 266.4h.7" stroke="#ffffff" stroke-width="0.7"/>
<path d="M227.7 258.4h.7M224.5 255.7h.7M229.2 252.3h.7M242.0 279.5h.7M228.9 275.2h.7M227.5 262.2h.7M233.0 257.3h.7M240.0 257.5h.7M229.6 268.9h.7M237.7 263.1h.7M226.0 262.5h.7M237.4 281.4h.7M243.4 278.6h.7M244.2 272.2h.7M225.5 265.3h.7M235.8 272.3h.7M237.3 252.6h.7M236.0 265.4h.7M230.8 257.2h.7M237.1 278.5h.7M222.8 261.5h.7M227.8 278.0h.7M234.9 264.6h.7M222.6 258.8h.7M242.1 270.4h.7M238.1 263.0h.7M223.3 256.1h.7M245.3 277.9h.7M230.3 262.2h.7M231.6 272.0h.7M224.6 261.4h.7M240.3 275.2h.7M232.4 269.7h.7M239.5 270.8h.7M230.8 277.4h.7M244.6 264.2h.7M235.8 259.6h.7M229.2 262.9h.7M236.9 264.2h.7M239.2 254.9h.7M225.9 256.8h.7M226.5 264.2h.7M239.3 282.2h.7M241.9 278.1h.7M244.0 278.2h.7M225.4 258.9h.7M232.0 258.9h.7M220.5 259.6h.7M242.2 261.5h.7M230.3 272.1h.7" stroke="#ffffff" stroke-width="0.7"/>
<path d="M246.1 275.9h.7M225.2 258.4h.7M239.1 270.9h.7M240.9 284.0h.7M231.8 259.1h.7M225.2 262.0h.7M239.2 270.7h.7M220.7 258.0h.7M218.3 258.5h.7M243.3 265.3h.7M240.6 257.5h.7M233.9 275.3h.7M238.3 258.5h.7M244.6 280.9h.7M239.4 270.4h.7M233.4 256.7h.7M228.9 263.2h.7M232.5 255.4h.7M242.2 263.9h.7M229.3 259.3h.7M231.0 260.4h.7M226.6 265.9h.7M241.2 268.4h.7M237.3 258.0h.7M238.8 270.8h.7M242.9 282.8h.7M227.0 271.5h.7M241.2 255.7h.7M246.5 272.2h.7M229.1 268.5h.7M232.7 264.5h.7M241.1 283.7h.7M224.3 259.3h.7M241.5 270.5h.7M242.6 260.7h.7M235.7 254.9h.7M231.0 253.9h.7M237.4 267.8h.7M232.8 273.6h.7M231.1 253.3h.7M235.7 271.7h.7M243.4 273.8h.7M241.3 258.4h.7M222.2 257.9h.7M245.6 260.8h.7M234.9 260.2h.7M234.3 253.9h.7M236.1 276.1h.7M229.9 264.0h.7M245.8 261.5h.7M239.7 283.0h.7M228.1 273.7h.7M244.0 255.4h.7M232.2 275.6h.7M240.0 271.1h.7M234.1 254.3h.7M234.7 272.4h.7M229.5 269.2h.7M233.7 278.0h.7M237.6 252.9h.7" stroke="#c8c8c8" stroke-width="0.7"/>
<path d="M232.0 285.6h.7M197.3 305.3h.7M224.7 289.9h.7M201.8 305.8h.7M209.5 305.0h.7M211.6 304.0h.7M233.6 290.5h.7M209.7 311.6h.7M209.9 300.5h.7M228.0 288.7h.7M216.9 306.6h.7M232.8 305.4h.7M219.3 298.0h.7M237.8 292.6h.7M212.4 309.3h.7M211.3 316.8h.7M207.9 312.4h.7M240.7 282.8h.7M216.5 317.5h.7M223.5 300.5h.7M235.3 301.8h.7M240.5 286.6h.7M215.6 318.2h.7M224.4 306.6h.7M224.2 288.3h.7M203.2 317.6h.7M204.7 300.9h.7M224.1 289.4h.7M208.9 308.9h.7M220.1 311.4h.7M209.0 304.7h.7M222.6 307.5h.7M230.3 281.9h.7M212.9 311.2h.7M227.4 300.7h.7M225.6 286.2h.7M212.2 296.2h.7M217.5 315.4h.7M235.9 299.4h.7M226.6 303.8h.7M208.5 310.4h.7M215.2 293.5h.7M189.2 300.7h.7M220.6 294.8h.7M212.5 312.4h.7M212.9 297.2h.7M226.8 310.4h.7M196.7 306.0h.7M230.8 312.2h.7M241.4 287.3h.7M229.9 292.1h.7M202.1 299.8h.7M206.2 307.1h.7M236.4 291.7h.7M204.8 308.1h.7M206.6 311.2h.7M211.9 302.8h.7M240.4 288.6h.7M200.6 309.4h.7M227.1 289.6h.7" stroke="#ffffff" stroke-width="0.7"/>
<path d="M183.0 291.9h.7M202.9 265.7h.7M175.2 266.8h.7M194.5 284.9h.7M187.8 272.4h.7M190.6 273.9h.7M186.7 290.0h.7M183.9 248.5h.7M180.3 253.4h.7M187.7 254.1h.7M186.4 273.9h.7M183.8 256.4h.7M194.6 280.3h.7M195.5 284.7h.7M185.1 248.0h.7M191.4 239.2h.7M195.5 293.6h.7M196.5 238.8h.7M195.8 256.4h.7M185.7 237.0h.7M186.4 276.4h.7M199.4 241.2h.7M195.1 285.3h.7M197.6 246.0h.7M193.6 266.1h.7M184.7 264.6h.7M202.5 246.2h.7M192.4 233.5h.7M190.1 280.4h.7M187.1 235.1h.7M184.4 282.2h.7M194.3 284.5h.7M189.3 276.8h.7M191.6 250.1h.7M183.3 275.8h.7M180.7 262.4h.7M201.9 270.5h.7M186.2 270.3h.7M185.0 248.5h.7M190.4 274.5h.7" stroke="#ffffff" stroke-width="0.7"/>
<line x1="164.7" y1="300.3" x2="164.7" y2="324.3" stroke="#555" stroke-width="0.75"/>
<line x1="164.35" y1="324.3" x2="189.9" y2="324.3" stroke="#555" stroke-width="0.75"/>
<text transform="translate(162 312.3) rotate(-90)" x="0" y="0" font-size="6.3" text-anchor="middle">UMAP2</text>
<text x="177.2" y="331.2" font-size="6.3" text-anchor="middle">UMAP1</text>
<text x="292.3" y="216.6" font-size="6.7">Cluster identity</text>
<circle cx="294.2" cy="222.7" r="1.45" fill="#2270b5"/>
<text x="298.7" y="224.7" font-size="6.7">Macrophage-like</text>
<circle cx="294.2" cy="231.4" r="1.45" fill="#7354a4"/>
<text x="298.7" y="233.4" font-size="6.7">Megakaryocyte-like</text>
<circle cx="294.2" cy="239.8" r="1.45" fill="#f4a22b"/>
<text x="298.7" y="241.8" font-size="6.7">Neutrophil-like</text>
<circle cx="294.2" cy="250.3" r="1.45" fill="#bb1d2d"/>
<text x="298.7" y="250.2" font-size="6.7">Eosinophil/</text>
<text x="298.7" y="257.4" font-size="6.7">basophil-like</text>
<circle cx="294.2" cy="263.5" r="1.45" fill="#808183"/>
<text x="298.7" y="265.5" font-size="6.7">Stem-like</text>
<circle cx="294.2" cy="271.5" r="1.45" fill="#cfd0d1"/>
<text x="298.7" y="273.5" font-size="6.7">HSPC</text>
<text x="297.1" y="285.2" font-size="6.7"><tspan font-style="italic">n</tspan> = 51,131 cells</text>
<text x="378.4" y="212.1" font-size="10.5" font-weight="bold">f</text>
<text x="426.9" y="212.1" text-anchor="middle">HSPC genotype</text>
<text x="529" y="212.1" text-anchor="middle">Genetic strain</text>
<text x="631.1" y="212.1" text-anchor="middle">Days in culture</text>
<path d="M415.53 251.35 L418.84 252.27 L423.06 251.66 L427.28 251.35 L429.4 252.57 L430.94 255.32 L431.72 260.87 L432.56 263.62 L428.55 265.7 L425.31 267.83 L423.41 270.58 L419.4 272.66 L415.46 274.06 L413.84 271.92 L414.61 267.1 L415.46 261.55 L415.46 255.99 L415.67 253.18 Z" fill="#8fcbe2" stroke="#8fcbe2" stroke-width="0.3"/>
<path d="M422.92 250.44 L424.12 249.09 L425.31 248.66 L428.55 248.36 L430.1 245.55 L433.34 244.15 L437.35 244.88 L441.36 245.92 L443.76 246.96 L445.38 249.76 L445.73 255.32 L445.38 260.14 L444.53 264.35 L442.98 266.43 L440.66 264.17 L436.58 262.22 L432.56 263.62 L431.72 260.87 L430.94 255.32 L428.55 251.35 L425.17 251.35 L423.76 251.66 Z" fill="#8fcbe2" stroke="#8fcbe2" stroke-width="0.3"/>
<path d="M405.81 232.67 L408.84 233.46 L411.23 235.29 L412.99 237.92 L414.54 240.48 L415.46 243.11 L416.02 245.73 L416.3 248.3 L416.65 250.44 L415.88 253.18 L415.46 255.99 L415.46 261.55 L414.61 267.1 L413.84 271.92 L412.22 274.73 L409.82 276.14 L405.81 275.4 L402.57 273.33 L400.18 269.85 L397.01 265.03 L394.62 260.14 L393 255.99 L393.21 255.01 L394.06 254.59 L395.6 251.96 L397.08 249.34 L398.56 246.22 L399.83 244.15 L400.67 241.03 L401.31 238.41 L402.22 235.78 L403.98 233.46 Z" fill="#2169b0" stroke="#2169b0" stroke-width="0.3"/>
<path d="M402.57 273.33 L405.81 275.4 L409.82 276.14 L412.22 274.73 L415.46 274.06 L419.4 272.66 L423.41 270.58 L425.88 267.1 L429.04 265.7 L432.56 263.62 L436.58 262.22 L440.66 262.95 L442.98 266.43 L444.53 264.35 L444.88 265.09 L442.49 268.02 L438.48 274.98 L436.08 281.94 L432.07 285.42 L429.89 285.84 L425.88 286.21 L421.86 285.84 L417.85 285.17 L414.61 285.84 L411.44 282.36 L410.6 278.88 L407.43 276.14 Z" fill="#8fcbe2" stroke="#8fcbe2" stroke-width="0.3"/>
<path d="M432.78 219.24 L435.31 218.99 L438.27 219.91 L441.93 221.56 L444.88 223.45 L447.14 225.47 L448.19 229.31 L448.97 234.38 L448.97 240.12 L449.32 244.64 L450.02 247.14 L448.54 250.13 L444.88 250.13 L443.83 245.25 L443.05 240.12 L442.7 235.05 L442.35 231.2 L442.07 227.54 L441.01 224.79 L438.9 222.35 L436.44 221.01 L433.97 220.83 Z" fill="#8fcbe2" stroke="#8fcbe2" stroke-width="0.3"/>
<path d="M445.31 249.52 L448.69 246.59 L451.36 244.88 L452.7 243.72 L455.37 242.87 L456.71 243.41 L456.01 246.59 L454.67 249.52 L455.02 251.84 L458.05 253.3 L461.36 252.69 L464.74 250.98 L467.41 249.52 L468.05 250.37 L466.07 253 L463.4 254.71 L461.36 256.48 L462.06 259.96 L464.38 262.28 L464.03 263.99 L460.72 265.15 L457.34 264.9 L454.04 263.99 L450.02 263.44 L447.35 262.28 L446.01 259.96 L445.66 255.32 Z" fill="#8fcbe2" stroke="#8fcbe2" stroke-width="0.3"/>
<path d="M436.15 221.19 L437.7 221.44 L438.69 225.1 L439.39 229.98 L438.41 230.47 L437.28 225.71 L436.3 222.66 Z" fill="#8fcbe2" stroke="#8fcbe2" stroke-width="0.3"/>
<path d="M429.1 251.0h.6M423.6 270.7h.6M426.3 267.8h.6M414.7 249.7h.6M431.4 260.4h.6M414.5 261.9h.6M415.1 257.3h.6M415.1 252.4h.6M421.7 250.6h.6M429.0 252.5h.6M429.9 253.5h.6M433.5 258.0h.6M432.9 259.9h.6M421.3 251.4h.6M429.2 265.9h.6M417.8 251.5h.6M430.9 256.4h.6M421.0 272.4h.6M414.9 252.1h.6M416.8 251.6h.6M413.5 270.8h.6M414.4 260.0h.6M420.5 251.2h.6M414.2 252.5h.6M413.0 268.2h.6M417.1 251.7h.6M429.5 253.3h.6M430.9 252.2h.6M414.5 259.7h.6M426.8 266.9h.6M431.8 259.8h.6M426.8 268.6h.6M413.8 272.3h.6M414.8 251.7h.6M413.6 270.4h.6M412.9 271.1h.6M415.1 255.8h.6M432.2 262.2h.6M414.3 255.2h.6M432.4 253.6h.6M421.9 271.3h.6M413.1 255.0h.6M414.6 254.6h.6M413.7 273.2h.6M414.9 253.4h.6M419.4 273.2h.6M412.5 272.2h.6M413.5 271.9h.6M432.0 262.6h.6M424.0 251.5h.6M430.5 264.5h.6M430.9 254.2h.6M415.1 258.3h.6M431.4 257.0h.6M417.0 251.5h.6M430.2 253.0h.6M421.7 251.5h.6M420.8 272.1h.6M429.3 252.3h.6M419.9 251.1h.6M425.0 269.9h.6M429.5 253.2h.6M431.1 255.3h.6M414.0 264.0h.6M413.4 267.3h.6M413.0 269.7h.6M416.3 273.7h.6M414.1 273.4h.6M413.7 274.1h.6M414.9 251.0h.6M430.9 256.8h.6M431.8 264.1h.6M414.6 253.2h.6M415.5 274.2h.6M432.0 259.3h.6M426.9 251.3h.6M432.1 264.8h.6M419.6 252.1h.6M430.5 253.6h.6M426.5 267.6h.6M416.1 251.3h.6M414.2 265.2h.6M417.1 273.6h.6M431.4 264.4h.6M419.6 251.0h.6M428.4 265.7h.6M416.9 273.6h.6M433.0 260.3h.6M427.9 266.1h.6M421.0 251.4h.6M432.1 259.4h.6M432.2 263.2h.6M412.8 270.0h.6M413.0 257.5h.6M414.4 265.0h.6M433.0 259.4h.6M431.7 264.0h.6M412.8 264.0h.6M428.2 251.6h.6M415.1 259.2h.6M422.7 251.0h.6M420.9 251.3h.6M430.2 252.9h.6M414.8 252.6h.6M414.8 257.1h.6M415.1 253.4h.6M413.8 264.8h.6M429.8 265.4h.6M432.4 265.1h.6M430.3 253.2h.6M419.8 272.6h.6M413.9 263.5h.6M423.5 270.8h.6M425.0 267.9h.6M414.5 264.6h.6M424.1 270.4h.6M414.7 273.6h.6M416.3 250.7h.6M413.7 270.0h.6M414.3 259.9h.6M426.4 251.4h.6M415.7 250.6h.6M412.8 270.1h.6M414.7 253.9h.6M414.6 261.0h.6M414.6 262.7h.6M427.6 250.3h.6M426.7 267.0h.6M414.9 262.6h.6" stroke="#8fcbe2" stroke-width="0.6"/>
<path d="M434.5 263.0h.6M443.9 265.1h.6M440.8 264.8h.6M445.4 253.4h.6M432.5 264.0h.6M425.5 252.6h.6M430.7 243.8h.6M431.4 262.1h.6M446.4 254.6h.6M445.6 252.8h.6M423.3 249.0h.6M428.6 247.2h.6M432.6 242.7h.6M427.9 252.5h.6M431.1 244.7h.6M435.6 244.5h.6M440.5 264.4h.6M429.6 244.8h.6M443.8 265.5h.6M429.8 245.5h.6M444.4 264.3h.6M430.4 259.3h.6M443.4 265.9h.6M442.9 266.2h.6M440.5 264.9h.6M446.4 258.2h.6M446.0 255.5h.6M445.5 247.3h.6M428.5 245.9h.6M444.6 262.7h.6M444.2 247.5h.6M437.4 244.2h.6M429.6 245.5h.6M425.5 252.0h.6M444.3 248.4h.6M429.0 253.3h.6M443.7 266.6h.6M423.6 248.9h.6M445.4 258.7h.6M429.5 253.6h.6M436.2 244.4h.6M435.7 264.4h.6M436.5 262.9h.6M434.5 263.1h.6M446.7 256.8h.6M441.9 266.0h.6M431.9 262.9h.6M442.4 245.9h.6M445.2 258.0h.6M445.4 261.6h.6M430.5 260.5h.6M426.4 252.4h.6M431.5 261.5h.6M445.5 255.4h.6M431.1 260.4h.6M436.6 244.6h.6M443.5 265.4h.6M440.7 245.7h.6M431.3 260.0h.6M440.1 264.2h.6M428.6 247.7h.6M433.4 244.2h.6M424.8 251.6h.6M445.2 260.1h.6M445.7 255.4h.6M446.5 257.5h.6M422.8 250.0h.6M430.1 254.7h.6M445.3 252.1h.6M436.5 244.7h.6M435.2 263.1h.6M445.4 253.1h.6M434.2 263.1h.6M426.3 252.1h.6M428.5 247.5h.6M445.3 262.3h.6M445.3 253.2h.6M444.7 248.5h.6M434.7 263.3h.6M433.4 263.5h.6M441.8 245.8h.6M445.6 255.5h.6M436.7 244.7h.6M436.3 243.6h.6M437.9 264.8h.6M432.5 243.5h.6M431.3 244.4h.6M436.8 262.8h.6M426.6 248.5h.6M442.5 266.4h.6M429.1 253.1h.6M445.5 248.9h.6M445.7 253.8h.6M429.5 254.2h.6M428.1 252.0h.6M423.8 252.0h.6M436.8 262.9h.6M422.7 251.3h.6M444.8 263.3h.6M423.8 252.2h.6M444.9 249.2h.6M444.7 248.8h.6M428.9 246.9h.6M431.0 261.4h.6M431.2 260.9h.6M433.5 263.9h.6M444.7 248.9h.6M441.6 266.2h.6M428.9 246.4h.6M443.4 266.1h.6M423.2 252.0h.6M439.2 264.8h.6M448.0 249.3h.6M442.3 245.3h.6M422.7 252.1h.6M436.9 263.8h.6M427.2 251.4h.6M445.6 248.5h.6M443.5 266.0h.6M445.2 251.2h.6M429.2 253.4h.6M436.6 243.9h.6M425.5 248.2h.6M445.7 257.4h.6M429.7 245.0h.6M445.6 260.4h.6M421.4 252.4h.6M434.8 264.1h.6M428.9 253.3h.6M428.7 252.5h.6M432.3 263.8h.6M432.9 264.6h.6M445.0 262.9h.6M444.2 248.0h.6M425.7 252.0h.6M438.1 265.6h.6M429.6 254.5h.6M445.2 260.7h.6M437.9 263.8h.6" stroke="#8fcbe2" stroke-width="0.6"/>
<path d="M398.7 268.6h.6M404.0 275.8h.6M399.4 269.3h.6M392.3 256.9h.6M414.8 241.9h.6M399.4 244.0h.6M395.0 251.9h.6M414.4 267.9h.6M399.6 243.5h.6M414.0 272.5h.6M415.7 242.8h.6M404.7 232.4h.6M392.3 256.5h.6M415.7 257.3h.6M400.2 238.6h.6M395.4 262.6h.6M413.7 272.0h.6M396.2 248.6h.6M414.5 238.7h.6M412.8 237.7h.6M395.1 263.2h.6M400.1 241.3h.6M410.6 275.6h.6M403.8 231.8h.6M416.5 251.0h.6M415.7 245.1h.6M415.8 253.5h.6M392.9 256.8h.6M407.6 232.8h.6M401.4 237.0h.6M403.4 274.1h.6M401.5 272.6h.6M401.6 234.3h.6M415.5 269.7h.6M415.2 270.9h.6M409.4 233.4h.6M414.4 240.3h.6M416.3 261.3h.6M401.5 236.6h.6M406.9 276.5h.6M392.7 256.5h.6M402.2 273.6h.6M409.2 276.6h.6M392.9 255.0h.6M398.8 269.0h.6M397.9 268.1h.6M395.4 251.3h.6M398.6 244.5h.6M413.3 238.0h.6M394.9 251.2h.6M393.8 253.4h.6M415.1 241.3h.6M415.2 239.6h.6M415.3 260.3h.6M401.0 272.7h.6M415.5 241.7h.6M414.2 267.7h.6M397.1 246.8h.6M400.7 271.9h.6M411.4 235.8h.6M399.3 273.0h.6M408.8 276.3h.6M393.8 254.2h.6M409.1 233.5h.6M401.8 235.9h.6M397.5 267.4h.6M416.5 257.0h.6M403.4 274.8h.6M416.4 258.7h.6M397.0 267.7h.6M414.6 265.3h.6M401.2 236.9h.6M414.7 240.1h.6M407.6 231.3h.6M399.0 244.4h.6M405.4 276.0h.6M404.0 275.1h.6M406.9 276.0h.6M410.3 276.7h.6M415.7 262.8h.6M398.7 245.2h.6M410.6 233.4h.6M409.7 233.6h.6M397.0 247.7h.6M394.2 253.5h.6M407.4 232.4h.6M396.9 248.0h.6M403.7 275.0h.6M416.8 251.8h.6M394.8 252.7h.6M415.9 254.3h.6M392.7 256.5h.6M395.6 251.2h.6M415.5 253.8h.6M414.4 267.0h.6M415.3 261.9h.6M418.1 249.0h.6M416.7 262.8h.6M415.4 243.8h.6M399.5 243.1h.6M416.4 268.2h.6M415.3 256.9h.6M414.9 264.2h.6M402.7 273.7h.6M416.5 251.7h.6M415.8 246.3h.6M416.6 249.8h.6M411.0 275.3h.6M397.5 266.7h.6M398.9 242.6h.6M411.2 275.4h.6M406.7 276.2h.6M393.3 257.6h.6M399.9 271.6h.6M412.5 237.3h.6M415.9 263.6h.6M405.3 275.7h.6M404.9 232.4h.6M397.4 266.1h.6M412.8 275.1h.6M397.7 247.1h.6M406.9 275.7h.6M416.2 248.5h.6M415.2 263.5h.6M400.2 237.0h.6M411.8 236.2h.6M416.6 247.8h.6M399.6 271.7h.6M394.2 261.1h.6M400.5 240.4h.6M402.1 234.3h.6M403.6 274.2h.6M392.8 255.4h.6M401.5 236.2h.6M404.9 275.8h.6M393.7 253.6h.6M392.7 256.6h.6M392.3 259.6h.6M414.1 272.4h.6M400.8 271.2h.6M394.1 260.8h.6M410.4 234.8h.6M410.7 275.8h.6M412.8 237.5h.6M414.7 268.7h.6M415.4 258.4h.6M414.6 266.8h.6M403.2 233.8h.6M392.4 256.7h.6M392.5 256.2h.6M416.1 251.8h.6M398.6 268.5h.6M414.6 268.9h.6M396.6 248.4h.6M392.7 254.6h.6M401.2 272.2h.6M414.1 272.0h.6M397.0 248.5h.6M415.6 254.3h.6M395.7 250.8h.6M416.9 255.9h.6M400.2 270.9h.6M404.0 233.2h.6M416.2 244.1h.6M415.4 262.6h.6M400.5 239.4h.6M416.0 247.3h.6M410.1 234.3h.6M414.4 239.2h.6M415.7 263.7h.6M411.6 236.1h.6M415.7 254.1h.6M405.4 276.6h.6M399.9 242.5h.6M392.9 260.5h.6M403.4 274.4h.6M415.6 259.5h.6M394.2 261.4h.6M398.7 244.9h.6M399.1 269.7h.6M400.2 240.9h.6M400.3 270.6h.6M412.2 235.5h.6M416.1 263.5h.6M397.1 266.0h.6M409.7 232.4h.6M415.2 243.3h.6M410.4 275.7h.6M415.2 261.6h.6M395.6 264.6h.6M400.2 238.5h.6M397.7 245.8h.6M395.4 268.2h.6M393.1 258.1h.6M415.4 262.7h.6M399.1 269.6h.6M412.8 236.9h.6M409.4 233.6h.6M415.5 244.2h.6M413.2 238.3h.6" stroke="#2169b0" stroke-width="0.6"/>
<path d="M422.0 270.6h.6M443.5 268.3h.6M410.0 281.1h.6M408.4 277.3h.6M440.6 263.2h.6M430.3 264.4h.6M422.0 269.8h.6M406.9 275.2h.6M439.4 274.1h.6M436.5 283.0h.6M421.1 285.9h.6M421.4 271.2h.6M412.0 284.5h.6M430.4 285.7h.6M412.9 284.9h.6M403.7 273.4h.6M402.9 273.4h.6M436.2 282.5h.6M423.9 286.4h.6M432.5 285.3h.6M422.2 269.3h.6M432.7 285.1h.6M405.6 275.5h.6M435.9 282.7h.6M440.2 271.4h.6M439.0 275.4h.6M407.9 275.1h.6M403.5 272.9h.6M431.2 263.5h.6M441.6 264.2h.6M403.0 273.5h.6M442.5 265.9h.6M436.8 279.0h.6M440.1 262.1h.6M421.7 269.5h.6M410.8 281.0h.6M423.6 269.4h.6M417.6 272.5h.6M412.1 274.6h.6M422.1 270.2h.6M434.0 262.7h.6M403.8 275.5h.6M418.8 271.7h.6M425.9 266.4h.6M433.6 262.4h.6M430.2 285.8h.6M414.0 286.7h.6M404.6 274.4h.6M439.4 262.2h.6M439.8 262.5h.6M426.9 266.4h.6M409.4 278.6h.6M440.1 262.7h.6M427.2 266.4h.6M427.4 286.3h.6M435.5 282.6h.6M418.9 285.5h.6M406.5 275.3h.6M438.7 262.4h.6M411.3 274.9h.6M402.5 273.5h.6M409.5 279.1h.6M406.4 276.9h.6M402.7 273.1h.6M420.5 286.5h.6M440.6 272.0h.6M443.8 266.2h.6M439.8 272.3h.6M414.1 285.7h.6M408.3 277.2h.6M410.0 279.5h.6M425.7 266.9h.6M427.2 286.1h.6M443.9 266.1h.6M439.0 276.6h.6M407.5 275.8h.6M409.9 275.8h.6M407.7 276.8h.6M419.9 285.8h.6M422.1 270.4h.6M430.3 264.2h.6M438.1 280.7h.6M403.3 274.4h.6M416.9 285.4h.6M421.6 270.0h.6M407.1 276.9h.6M429.0 263.2h.6M417.1 286.0h.6M443.0 267.7h.6M410.3 282.1h.6M405.3 275.3h.6M419.1 286.4h.6M423.3 286.0h.6M406.3 275.9h.6M439.4 262.7h.6M417.5 273.0h.6M442.1 268.3h.6M403.1 274.6h.6M425.6 287.4h.6M410.3 274.4h.6M404.5 275.5h.6M437.5 261.7h.6M445.8 264.2h.6M424.9 268.0h.6M403.1 273.8h.6M423.7 269.5h.6M413.8 285.9h.6M426.0 286.3h.6M424.2 286.2h.6M407.5 273.8h.6M438.9 274.2h.6M408.7 275.9h.6M402.0 274.2h.6M431.7 285.5h.6M436.6 282.9h.6M410.3 280.1h.6M421.6 270.6h.6M432.4 285.3h.6M424.8 268.0h.6M404.1 273.7h.6M432.5 285.0h.6M434.5 284.1h.6M417.9 285.3h.6M442.9 264.9h.6M412.0 283.4h.6M437.1 261.3h.6M412.4 284.4h.6M407.9 282.1h.6M403.8 274.0h.6M430.1 286.0h.6M414.9 273.7h.6M421.8 270.6h.6M430.8 264.4h.6M440.3 271.6h.6M408.6 274.9h.6M403.5 272.8h.6M417.8 271.9h.6M408.0 273.7h.6M427.6 266.0h.6M433.3 262.4h.6M427.1 266.3h.6M407.4 276.4h.6M408.5 276.0h.6M417.2 285.7h.6M429.7 285.8h.6M441.2 272.6h.6M439.8 273.0h.6M430.6 264.0h.6M404.2 273.2h.6M437.7 277.8h.6M418.5 271.5h.6M406.5 276.2h.6M439.6 262.0h.6M440.0 272.5h.6M406.7 275.6h.6M429.6 287.1h.6M431.2 286.3h.6M439.8 262.5h.6M409.3 276.0h.6M437.6 262.3h.6M434.7 284.3h.6M428.2 265.7h.6M428.3 287.4h.6M422.6 270.6h.6M429.7 264.6h.6M416.4 272.9h.6M441.9 263.9h.6M404.5 275.2h.6M410.4 275.4h.6M413.3 273.3h.6M416.1 272.8h.6M416.5 273.5h.6M405.3 274.7h.6M432.2 285.2h.6M417.6 285.3h.6M421.2 286.0h.6M403.8 273.9h.6M405.4 274.1h.6M410.4 281.3h.6M408.7 275.7h.6M406.3 275.8h.6M410.4 274.0h.6M411.8 284.5h.6M442.5 263.8h.6M442.5 266.0h.6M444.5 266.0h.6M413.3 285.2h.6M412.9 284.4h.6M407.3 276.4h.6M442.3 264.6h.6M438.9 276.5h.6M405.4 275.6h.6M401.8 273.4h.6M426.3 265.1h.6M428.5 264.2h.6M430.7 264.5h.6M432.7 284.7h.6M434.5 283.2h.6M412.7 274.3h.6" stroke="#8fcbe2" stroke-width="0.6"/>
<path d="M443.2 244.4h.6M448.7 237.0h.6M442.5 236.9h.6M449.2 244.5h.6M443.3 249.7h.6M442.6 240.1h.6M444.5 249.8h.6M446.5 224.5h.6M447.8 226.4h.6M442.0 244.4h.6M443.4 244.9h.6M447.3 226.7h.6M442.5 246.9h.6M442.2 233.3h.6M447.5 225.3h.6M430.7 218.2h.6M448.8 240.9h.6M432.9 218.2h.6M441.2 232.3h.6M441.2 234.8h.6M442.0 240.7h.6M432.6 221.0h.6M440.1 224.1h.6M440.8 220.0h.6M430.7 219.9h.6M442.9 243.3h.6M446.0 223.8h.6M449.3 235.9h.6M435.7 218.5h.6M449.0 248.8h.6M443.5 246.1h.6M449.3 244.7h.6M448.8 231.0h.6M443.8 249.9h.6M448.8 249.0h.6M433.2 220.3h.6M448.6 230.1h.6M437.1 222.1h.6M444.0 247.3h.6M429.1 220.4h.6M441.6 221.4h.6M442.0 233.3h.6M443.3 222.4h.6M442.6 239.1h.6M448.5 233.0h.6M439.7 233.2h.6M449.8 241.5h.6M442.2 240.3h.6M432.2 219.3h.6M447.9 251.1h.6M442.4 247.0h.6M441.4 231.7h.6M436.1 221.0h.6M448.5 229.0h.6M433.1 220.6h.6M433.4 217.7h.6M447.9 228.6h.6M442.4 245.7h.6M443.5 246.6h.6M442.0 244.1h.6M441.1 227.3h.6M442.5 239.2h.6M442.6 245.0h.6M443.4 246.2h.6M442.3 242.6h.6M442.5 249.3h.6M435.9 221.0h.6M438.9 224.8h.6M434.4 218.9h.6M438.0 219.5h.6M448.7 249.3h.6M437.1 219.6h.6M441.5 236.3h.6M440.4 224.9h.6M440.2 240.5h.6M447.3 226.3h.6M443.3 244.8h.6M442.6 222.0h.6M443.0 244.7h.6M449.0 232.6h.6M448.6 229.8h.6M440.5 220.6h.6M448.9 238.4h.6M439.8 228.5h.6M449.4 239.3h.6M444.3 223.2h.6M448.7 229.0h.6M448.7 235.9h.6M448.7 234.7h.6M448.7 249.3h.6M441.1 232.7h.6M435.0 219.0h.6M445.7 250.5h.6M441.3 220.3h.6M443.3 245.6h.6M436.2 219.2h.6M449.1 248.5h.6M441.4 232.6h.6M433.6 218.7h.6M436.2 221.2h.6M442.0 239.3h.6M451.1 247.8h.6M442.2 235.2h.6M442.3 245.6h.6M441.8 230.9h.6M441.8 228.2h.6M449.7 246.8h.6M448.5 231.7h.6M442.8 242.2h.6M438.3 218.6h.6M446.3 224.6h.6M443.2 244.7h.6M434.6 218.1h.6M448.8 229.3h.6M447.2 224.9h.6M445.0 221.9h.6M443.4 247.7h.6M440.4 224.9h.6M436.3 218.7h.6M441.5 234.1h.6M437.6 218.5h.6M449.0 234.0h.6M450.0 246.2h.6M433.9 218.7h.6M447.0 250.3h.6M443.6 247.1h.6M448.1 230.3h.6M447.7 225.6h.6M433.1 220.4h.6M446.6 250.3h.6M442.3 221.1h.6M442.0 232.7h.6M435.2 218.8h.6M448.8 237.3h.6M439.9 220.4h.6M437.6 221.8h.6M441.5 232.4h.6M445.0 223.6h.6M449.7 244.7h.6M440.6 221.0h.6M443.7 247.5h.6M439.8 220.0h.6M450.8 247.0h.6M445.4 250.4h.6M441.6 228.0h.6M450.6 246.1h.6M443.7 245.8h.6M441.1 226.3h.6M442.8 244.4h.6M436.8 219.4h.6M432.7 219.8h.6M441.6 233.1h.6M442.1 235.5h.6" stroke="#8fcbe2" stroke-width="0.6"/>
<path d="M452.7 243.1h.6M445.5 256.7h.6M450.4 244.0h.6M462.1 260.0h.6M444.7 257.6h.6M463.6 260.4h.6M457.1 252.2h.6M457.0 243.8h.6M444.8 251.4h.6M450.5 245.1h.6M444.8 253.4h.6M456.9 264.9h.6M457.1 244.9h.6M465.0 263.4h.6M453.6 243.0h.6M462.2 251.3h.6M454.4 242.8h.6M465.2 263.3h.6M454.9 265.1h.6M455.4 247.3h.6M467.9 249.9h.6M457.1 265.0h.6M466.6 251.9h.6M445.4 258.8h.6M445.7 249.0h.6M454.9 248.7h.6M444.8 250.2h.6M464.2 261.9h.6M462.7 264.6h.6M444.8 254.4h.6M461.3 257.6h.6M466.2 249.3h.6M461.9 256.4h.6M455.5 242.1h.6M445.0 251.7h.6M459.3 252.9h.6M447.9 245.2h.6M467.3 251.6h.6M458.7 252.7h.6M464.4 250.1h.6M449.9 245.1h.6M456.9 243.6h.6M459.0 265.1h.6M467.2 249.5h.6M457.3 265.3h.6M457.0 265.2h.6M457.8 252.7h.6M445.8 260.2h.6M455.8 247.7h.6M449.6 245.2h.6M446.3 262.6h.6M462.5 249.3h.6M450.9 244.5h.6M463.3 251.6h.6M449.9 264.1h.6M463.1 251.0h.6M455.0 265.4h.6M463.6 255.6h.6M452.2 243.6h.6M455.6 248.4h.6M456.1 242.0h.6M445.3 258.7h.6M453.0 264.1h.6M463.1 258.5h.6M462.4 258.3h.6M457.9 265.0h.6M445.3 254.7h.6M456.2 251.2h.6M448.7 263.2h.6M456.7 243.2h.6M456.6 265.7h.6M456.3 244.0h.6M448.4 263.1h.6M464.6 250.9h.6M446.0 260.7h.6M448.6 246.0h.6M464.9 248.6h.6M455.9 246.4h.6M455.9 251.4h.6M445.1 252.0h.6M467.4 249.7h.6M452.3 264.0h.6M444.2 252.6h.6M468.0 250.3h.6M463.7 254.8h.6M462.5 251.7h.6M465.7 253.3h.6M447.2 246.8h.6M454.6 249.6h.6M463.7 261.5h.6M463.4 260.0h.6M456.1 251.4h.6M455.8 248.1h.6M460.6 265.4h.6M453.4 264.3h.6M464.7 262.6h.6M445.3 257.3h.6M461.9 264.7h.6M463.1 255.0h.6M446.0 260.9h.6M453.5 242.6h.6M460.8 252.4h.6M463.7 261.7h.6M446.0 262.8h.6M460.7 265.3h.6M444.9 252.8h.6M455.0 242.8h.6M467.9 250.8h.6M452.0 243.6h.6M455.2 264.5h.6M455.0 248.2h.6M466.8 249.7h.6M463.8 262.0h.6M467.6 249.5h.6M444.8 253.9h.6M445.4 259.0h.6M446.5 262.1h.6M463.4 255.9h.6M454.0 264.2h.6M463.3 254.6h.6M453.8 264.4h.6M469.3 249.7h.6M464.0 255.6h.6M456.4 244.8h.6M445.2 257.0h.6M460.1 252.6h.6M463.9 264.6h.6M458.8 265.0h.6M463.0 260.9h.6M445.4 256.4h.6M462.9 255.2h.6M447.5 264.6h.6M444.4 258.9h.6M444.9 254.0h.6M461.2 256.9h.6M467.0 252.1h.6M450.1 245.3h.6M456.3 266.0h.6M460.0 265.2h.6M463.6 264.6h.6M446.6 261.5h.6M444.2 259.7h.6M445.0 260.7h.6M444.7 251.8h.6M462.5 265.7h.6M464.7 249.8h.6M452.7 243.4h.6M463.6 264.4h.6M444.2 249.9h.6M445.3 247.3h.6M462.5 264.9h.6M456.9 245.8h.6M445.2 256.7h.6M466.0 261.4h.6M461.0 265.8h.6" stroke="#8fcbe2" stroke-width="0.6"/>
<path d="M401.8 246.5h.8M403.2 244.2h.8M402.7 244.6h.8M401.7 244.1h.8M401.4 246.9h.8M402.0 243.7h.8M402.0 241.7h.8M401.1 245.6h.8M402.4 241.6h.8M402.6 248.1h.8M402.6 246.1h.8M401.4 241.1h.8M403.3 250.2h.8M401.6 243.8h.8M403.1 244.1h.8M403.3 244.0h.8M402.2 247.3h.8M402.4 246.1h.8M404.8 249.7h.8M402.6 245.9h.8M404.3 247.3h.8M401.9 248.6h.8M401.3 246.6h.8M403.4 245.6h.8M403.5 247.8h.8M404.9 247.8h.8M401.5 244.9h.8M402.6 246.1h.8M404.8 242.8h.8M402.4 245.6h.8M403.5 248.6h.8M404.2 247.8h.8M403.6 243.8h.8M403.2 243.3h.8M401.5 245.7h.8M400.9 242.9h.8M402.5 243.9h.8M403.8 247.8h.8M401.1 245.0h.8M404.9 247.8h.8M404.5 247.7h.8M402.1 241.8h.8" stroke="#ffffff" stroke-width="0.8"/>
<path d="M404.8 250.0h.8M414.5 249.6h.8M409.9 249.8h.8M408.2 248.8h.8M414.8 249.1h.8M408.4 250.1h.8M413.5 249.1h.8M405.9 250.7h.8M410.7 249.2h.8M409.8 249.6h.8M405.9 249.3h.8M411.2 249.1h.8M409.3 249.5h.8M411.6 248.6h.8M410.4 249.4h.8M414.4 249.4h.8M409.3 249.0h.8M414.1 249.8h.8M410.0 249.6h.8M415.4 248.7h.8M411.3 249.7h.8M408.8 250.1h.8M408.4 249.9h.8M407.0 250.0h.8M406.5 250.2h.8M410.3 250.5h.8M413.3 247.6h.8M412.5 248.8h.8M411.8 249.4h.8M409.9 248.8h.8M405.2 250.2h.8M410.4 249.9h.8M406.3 249.4h.8M413.8 248.8h.8M405.4 250.5h.8M406.4 250.4h.8M413.2 249.4h.8M413.3 249.7h.8M403.5 250.5h.8M410.4 250.2h.8M409.0 249.5h.8M413.7 248.1h.8M415.3 247.8h.8M413.3 249.4h.8M413.5 248.9h.8M412.9 249.4h.8M414.9 249.8h.8M407.7 249.4h.8" stroke="#ffffff" stroke-width="0.8"/>
<path d="M413.7 245.4h.8M413.3 243.8h.8M413.7 244.0h.8M414.5 245.8h.8M412.3 245.0h.8M413.8 245.5h.8M414.3 244.9h.8M413.6 244.0h.8M414.2 247.0h.8M413.6 245.4h.8M414.4 246.5h.8M414.1 247.4h.8M413.7 244.0h.8M414.5 248.0h.8M413.5 244.7h.8M415.4 247.9h.8M414.9 247.8h.8M414.8 246.8h.8" stroke="#ffffff" stroke-width="0.8"/>
<path d="M401.2 239.4h.7M411.0 246.4h.7M413.7 247.1h.7M414.6 248.1h.7M415.0 248.4h.7M405.1 244.3h.7M403.5 241.5h.7M409.2 248.9h.7M407.1 245.8h.7M408.6 246.0h.7M411.6 246.6h.7M412.9 249.6h.7M402.9 243.9h.7M409.7 243.2h.7M410.4 245.4h.7M413.3 246.4h.7M408.9 245.0h.7M403.3 243.0h.7" stroke="#8fcbe2" stroke-width="0.7"/>
<path d="M415.1 264.4h.8M413.9 255.8h.8M412.5 257.5h.8M415.4 255.4h.8M415.4 264.4h.8M417.9 263.0h.8M415.9 265.8h.8M414.5 258.1h.8M413.8 265.5h.8M416.4 256.7h.8M414.5 269.4h.8M413.7 266.8h.8M415.5 261.2h.8M415.1 268.7h.8M415.4 258.9h.8M414.1 260.5h.8M415.6 264.1h.8M416.1 258.6h.8M414.0 259.1h.8M413.8 257.0h.8M414.6 259.6h.8M414.0 269.2h.8M416.0 269.3h.8M416.0 251.6h.8M414.1 254.6h.8M416.3 265.0h.8M415.6 258.1h.8M414.1 272.2h.8M415.2 254.1h.8M415.8 273.1h.8M417.4 266.5h.8M412.8 260.0h.8M414.1 262.9h.8M416.0 266.7h.8M413.1 266.6h.8M415.3 270.5h.8M420.9 259.9h.8M416.6 253.7h.8M413.3 272.8h.8M415.5 253.3h.8M414.2 261.7h.8M415.1 272.6h.8M415.2 267.6h.8M413.5 264.3h.8M415.4 254.6h.8M415.1 265.3h.8M415.3 268.5h.8M414.5 263.3h.8M414.8 255.2h.8M413.0 267.8h.8M414.0 254.6h.8M411.6 259.5h.8M414.8 255.6h.8M414.5 255.2h.8M415.1 268.9h.8M412.1 263.9h.8M412.5 264.1h.8M415.8 256.9h.8M415.8 258.7h.8M412.4 252.7h.8M412.6 259.6h.8M413.3 267.7h.8M413.8 254.9h.8M416.6 268.9h.8M416.5 253.6h.8M415.4 259.8h.8" stroke="#ffffff" stroke-width="0.8"/>
<path d="M414.6 277.0h.9M416.8 277.0h.9M418.7 278.7h.9M416.8 276.5h.9M415.3 275.1h.9M415.4 275.3h.9M417.2 275.2h.9M415.8 274.3h.9M416.7 276.4h.9M416.9 276.4h.9M418.0 277.1h.9M418.0 274.0h.9M416.0 275.3h.9M416.9 276.2h.9M417.7 279.5h.9M417.4 274.8h.9M417.5 276.7h.9M415.9 278.5h.9M415.8 275.5h.9M419.1 276.6h.9M418.1 276.6h.9M415.8 275.8h.9M417.0 275.5h.9M417.1 273.8h.9M416.4 274.3h.9M416.9 276.9h.9M418.9 276.4h.9M416.0 278.8h.9M415.1 276.0h.9M418.2 279.3h.9M415.4 278.7h.9M418.0 277.0h.9M416.7 278.6h.9M416.8 279.4h.9M419.1 275.9h.9M417.2 276.3h.9M416.5 275.9h.9M416.1 277.7h.9M417.8 277.4h.9M417.1 277.7h.9M414.5 276.6h.9M417.9 278.1h.9M418.5 275.0h.9M417.6 278.6h.9M415.5 274.8h.9M415.6 276.9h.9M418.9 275.8h.9M419.4 276.7h.9M418.4 278.9h.9M416.5 277.7h.9M417.5 279.6h.9M417.9 275.8h.9M415.4 276.8h.9M418.8 276.9h.9" stroke="#ffffff" stroke-width="0.9"/>
<path d="M415.4 271.9h.8M414.0 271.9h.8M414.6 272.6h.8M416.8 272.0h.8M414.3 273.5h.8M414.6 272.5h.8M415.4 271.9h.8M414.3 273.7h.8M415.2 272.9h.8M415.8 273.5h.8M413.9 273.5h.8M414.4 271.6h.8M414.0 271.9h.8M416.4 273.6h.8M415.3 272.9h.8" stroke="#ffffff" stroke-width="0.8"/>
<path d="M427.5 264.8h.7M417.3 262.0h.7M419.5 264.6h.7M425.8 258.3h.7M420.9 262.7h.7M430.2 264.0h.7M430.6 260.2h.7M425.7 251.9h.7M417.7 266.1h.7M419.7 263.1h.7M426.0 264.2h.7M421.5 260.8h.7M417.3 261.1h.7M414.8 272.7h.7M423.2 257.9h.7M423.7 264.8h.7M420.8 269.7h.7M416.5 267.3h.7M425.9 263.7h.7M427.2 263.8h.7M428.5 254.9h.7M422.3 265.6h.7M414.8 264.1h.7M425.4 264.9h.7M422.4 261.3h.7M424.8 259.0h.7M428.4 263.8h.7M421.6 263.1h.7M415.7 253.3h.7M423.0 253.1h.7M422.4 268.5h.7M421.7 271.2h.7M420.2 262.4h.7M418.4 254.3h.7M424.3 254.2h.7M416.3 257.9h.7M417.6 256.8h.7M425.8 257.0h.7M425.6 256.6h.7M422.4 258.2h.7M428.0 260.4h.7M415.1 271.5h.7M419.7 255.3h.7M426.6 254.3h.7M424.8 261.4h.7M415.8 273.0h.7M426.5 252.6h.7M416.7 258.5h.7M416.7 269.8h.7M423.2 261.4h.7M415.8 255.7h.7M417.2 263.4h.7M417.9 260.1h.7M415.4 267.2h.7M417.6 263.9h.7M419.9 272.0h.7M417.1 258.1h.7M422.7 262.4h.7M418.9 255.2h.7M422.8 252.0h.7M420.6 257.2h.7M426.8 260.8h.7M424.9 264.7h.7M424.0 267.1h.7M423.9 253.1h.7M429.1 263.4h.7M414.2 268.2h.7M421.3 262.1h.7M427.9 261.4h.7M421.6 268.1h.7M430.3 261.8h.7M426.6 264.1h.7" stroke="#ffffff" stroke-width="0.7"/>
<path d="M418.0 246.6h.7M416.7 246.8h.7M416.4 246.6h.7M419.3 248.3h.7M416.8 246.2h.7M418.6 248.6h.7M418.5 248.5h.7M418.3 246.0h.7M419.2 249.0h.7M416.1 247.3h.7M419.3 248.9h.7M419.4 246.6h.7M419.3 246.5h.7M417.0 248.7h.7M419.4 247.3h.7M417.4 248.4h.7M417.0 246.7h.7M416.2 248.1h.7M418.9 246.7h.7M419.0 248.1h.7M418.1 247.8h.7" stroke="#8fcbe2" stroke-width="0.7"/>
<path d="M434.9 258.9h.6M442.9 265.8h.6M437.4 247.7h.6M442.2 253.4h.6M433.8 258.0h.6M424.8 248.7h.6M439.4 249.2h.6M442.7 260.0h.6M435.9 256.0h.6M436.9 245.8h.6M439.8 246.1h.6M433.7 261.4h.6M440.5 250.8h.6M437.2 256.2h.6M433.9 257.4h.6M432.8 252.6h.6M440.0 258.6h.6M440.9 246.6h.6M434.1 255.2h.6M440.6 264.4h.6M442.5 265.9h.6M431.4 252.7h.6M437.2 259.6h.6M443.2 252.3h.6M433.9 254.2h.6M445.1 255.7h.6M437.0 245.9h.6M435.8 259.6h.6M431.7 247.5h.6M437.1 256.2h.6M441.0 262.8h.6M439.9 253.1h.6M434.9 251.3h.6M442.1 251.1h.6M437.1 261.8h.6M443.1 262.4h.6M444.7 251.8h.6M427.3 250.3h.6M439.0 248.8h.6M429.9 250.9h.6M431.9 246.0h.6M444.0 249.9h.6M431.0 245.6h.6M441.1 248.4h.6M443.4 264.6h.6M433.3 257.1h.6M439.8 249.6h.6M441.8 247.7h.6M433.6 250.5h.6M435.6 249.7h.6M435.0 249.8h.6M440.6 254.1h.6M434.3 258.8h.6M428.4 248.3h.6M431.9 260.9h.6M439.3 254.4h.6M436.5 249.8h.6M444.2 258.4h.6M441.0 252.4h.6M435.8 260.0h.6M434.8 261.1h.6M437.6 259.5h.6M438.3 260.2h.6M436.4 247.6h.6M435.0 250.4h.6M444.9 254.5h.6M440.0 258.0h.6M445.2 258.7h.6M442.0 257.1h.6M433.3 256.0h.6M430.4 253.9h.6M436.5 251.1h.6M436.5 245.4h.6M442.5 263.3h.6M440.6 260.9h.6M440.6 248.8h.6M432.7 246.2h.6M437.8 259.7h.6M442.7 248.1h.6M443.3 250.2h.6M439.9 248.4h.6M442.2 253.9h.6M430.1 247.1h.6M433.1 255.2h.6M435.9 246.0h.6M432.3 260.3h.6M443.0 257.4h.6M439.5 249.1h.6M429.2 252.2h.6M431.4 254.5h.6" stroke="#2169b0" stroke-width="0.6"/>
<path d="M415.2 270.6h.6M415.1 270.2h.6M418.0 256.7h.6M419.8 268.2h.6M417.8 268.5h.6M414.3 269.1h.6M424.4 253.8h.6M426.2 264.5h.6M422.6 268.8h.6M417.0 259.9h.6M418.5 260.9h.6M423.4 261.8h.6M431.0 259.9h.6M419.3 259.6h.6M416.4 271.4h.6M424.1 264.8h.6M423.2 263.8h.6M421.9 259.0h.6M422.8 253.4h.6M425.5 252.4h.6M422.4 256.1h.6M420.9 256.4h.6M417.7 261.3h.6M415.8 257.1h.6M427.0 253.7h.6M429.4 260.7h.6M417.5 268.9h.6M420.6 259.7h.6M431.1 262.6h.6M421.7 264.7h.6M419.5 270.9h.6M419.0 261.5h.6M417.5 257.4h.6M423.2 264.1h.6M423.7 262.0h.6M428.1 257.1h.6M421.7 266.7h.6M430.2 257.1h.6M420.2 262.0h.6M418.6 263.0h.6M422.7 259.3h.6M415.7 263.8h.6M429.4 260.0h.6M418.3 270.2h.6M416.5 264.1h.6M427.9 262.9h.6M419.0 264.9h.6M419.8 266.5h.6M428.0 254.2h.6M418.6 266.5h.6M421.8 252.7h.6M423.6 258.7h.6M414.2 272.0h.6M421.9 270.0h.6M421.4 266.0h.6M424.2 264.8h.6M418.4 254.5h.6M423.9 255.1h.6M417.0 256.0h.6M426.1 262.8h.6M430.5 258.8h.6M427.7 260.8h.6M417.2 259.8h.6M422.4 262.0h.6M424.6 267.0h.6M416.3 266.1h.6M429.0 260.7h.6M418.6 257.1h.6M424.9 254.1h.6M417.5 258.2h.6M423.7 254.7h.6M420.2 252.7h.6M429.2 256.9h.6M418.7 254.6h.6M420.8 266.9h.6M423.9 258.7h.6M415.9 257.5h.6M427.9 255.4h.6M426.1 262.8h.6M421.3 264.6h.6M418.8 270.4h.6M417.2 254.6h.6M416.0 251.6h.6M415.8 258.8h.6M416.9 260.4h.6M423.8 254.9h.6M419.2 252.2h.6M422.4 261.2h.6M422.9 266.6h.6M415.3 260.3h.6" stroke="#2169b0" stroke-width="0.6"/>
<path d="M430.0 267.1h.6M426.3 280.9h.6M415.5 279.1h.6M433.3 280.8h.6M426.9 272.9h.6M422.3 275.8h.6M434.4 265.7h.6M441.6 267.2h.6M421.2 280.6h.6M412.1 279.1h.6M417.1 284.9h.6M423.7 280.2h.6M428.6 270.9h.6M424.9 281.3h.6M432.9 283.3h.6M435.3 269.5h.6M426.9 272.8h.6M418.5 285.3h.6M425.5 276.9h.6M416.4 279.5h.6M440.8 267.2h.6M432.1 284.5h.6M435.2 270.5h.6M441.1 265.5h.6M424.2 285.7h.6M424.5 283.2h.6M419.3 277.8h.6M422.8 279.2h.6M433.4 279.5h.6M434.4 267.3h.6M429.9 281.3h.6M433.8 266.5h.6M412.7 276.7h.6M415.5 275.6h.6M425.0 274.6h.6M437.4 266.7h.6M428.8 266.9h.6M415.9 281.2h.6M435.2 279.3h.6M431.8 265.8h.6M417.1 280.1h.6M433.5 265.1h.6M432.1 264.3h.6M439.7 264.2h.6M434.5 280.7h.6M437.6 272.4h.6M429.9 273.8h.6M432.1 272.7h.6M420.4 276.8h.6M425.5 272.9h.6M425.5 270.1h.6M409.7 276.3h.6M410.9 275.6h.6M434.2 271.2h.6M415.9 283.6h.6M430.5 272.3h.6M420.6 282.2h.6M435.1 279.3h.6M433.0 278.0h.6M435.9 268.0h.6M412.2 277.2h.6M428.4 277.0h.6M431.4 277.1h.6M422.7 275.2h.6M429.6 278.1h.6M433.8 272.9h.6M411.0 277.4h.6M418.7 273.3h.6M427.2 279.6h.6M428.3 277.2h.6M425.5 282.1h.6M427.6 284.7h.6M426.1 274.6h.6M420.7 281.5h.6M440.8 264.9h.6M430.1 284.4h.6M415.9 275.9h.6M429.2 284.8h.6M432.5 281.1h.6M428.8 269.0h.6M426.0 283.7h.6M427.2 276.5h.6M418.5 280.2h.6M429.5 275.0h.6M413.0 284.0h.6M418.0 280.2h.6M431.1 277.1h.6M414.3 277.1h.6M412.7 278.6h.6M435.6 281.5h.6" stroke="#2169b0" stroke-width="0.6"/>
<path d="M449.3 251.2h.6M448.6 261.3h.6M461.0 255.3h.6M457.5 259.3h.6M455.3 246.9h.6M456.3 255.4h.6M449.7 248.1h.6M446.2 257.7h.6M449.4 252.5h.6M451.5 259.7h.6M450.6 248.6h.6M454.2 262.0h.6M460.2 257.4h.6M448.8 249.2h.6M461.6 261.3h.6M461.8 263.4h.6M457.7 256.7h.6M458.7 263.6h.6M460.5 253.7h.6M450.5 247.3h.6M462.0 255.6h.6M455.1 245.5h.6M448.9 250.6h.6M447.4 254.3h.6M447.4 261.9h.6M452.2 250.8h.6M447.2 256.8h.6M446.6 257.8h.6M459.8 258.7h.6M466.0 250.5h.6M447.9 252.5h.6M447.5 259.6h.6M463.4 253.1h.6M459.8 262.3h.6M454.6 260.4h.6M458.0 260.4h.6M449.3 255.9h.6M452.9 249.5h.6M449.9 251.2h.6M448.9 254.6h.6M453.3 258.4h.6M459.6 256.3h.6M449.4 246.2h.6M455.1 258.1h.6M455.5 254.0h.6M450.4 251.5h.6M463.3 264.0h.6M453.4 252.9h.6M464.1 253.7h.6M447.7 247.7h.6M451.9 250.6h.6M458.8 263.3h.6M447.3 257.3h.6M459.7 260.0h.6M448.3 255.8h.6M447.5 252.4h.6M453.2 250.8h.6M454.3 254.3h.6M447.5 254.6h.6M446.7 258.5h.6M445.8 253.7h.6M455.4 253.2h.6M453.1 253.6h.6M448.9 253.1h.6M453.0 246.0h.6M447.9 254.8h.6M450.1 255.5h.6M452.3 258.9h.6M452.7 259.8h.6M452.7 260.0h.6M462.1 252.4h.6M455.9 244.8h.6M451.7 248.7h.6M459.3 259.9h.6M454.8 257.1h.6M456.9 262.4h.6M456.3 263.0h.6M453.8 248.5h.6M448.6 252.4h.6M452.1 245.3h.6M462.7 252.2h.6M450.3 253.9h.6M452.6 256.7h.6M451.4 256.7h.6M450.0 255.5h.6M458.0 262.5h.6M463.5 253.2h.6M456.2 260.4h.6M453.7 245.4h.6M460.2 260.3h.6" stroke="#2169b0" stroke-width="0.6"/>
<path d="M444.3 242.4h.6M445.7 233.2h.6M444.9 234.6h.6M446.9 229.9h.6M442.9 234.9h.6M448.8 245.8h.6M437.9 220.7h.6M448.3 246.1h.6M443.5 231.7h.6M448.3 235.1h.6M443.9 245.1h.6M444.7 234.3h.6M446.2 230.0h.6M446.9 245.0h.6M447.6 230.8h.6M442.2 228.2h.6M448.3 232.0h.6M441.6 226.0h.6M445.1 235.7h.6M444.9 232.1h.6M446.4 232.2h.6M445.5 226.6h.6M443.0 237.2h.6M443.8 233.0h.6M446.1 234.2h.6" stroke="#2169b0" stroke-width="0.6"/>
<path d="M444.9 250.1h.6M446.3 226.8h.6M445.4 249.5h.6M447.1 243.3h.6M443.0 241.1h.6M447.5 243.9h.6M447.5 249.8h.6M447.3 235.3h.6M448.4 240.4h.6M447.4 231.1h.6M434.1 219.6h.6M442.7 230.1h.6M447.0 242.8h.6M444.0 236.9h.6M444.0 227.0h.6M440.5 221.2h.6M444.1 232.5h.6M446.2 225.8h.6M446.3 237.9h.6M444.8 237.5h.6M445.0 241.7h.6M444.4 236.7h.6M443.1 227.4h.6M442.2 228.2h.6M447.6 231.2h.6M445.7 245.9h.6M441.0 223.9h.6M443.1 224.6h.6M441.8 222.9h.6M446.0 225.7h.6" stroke="#ffffff" stroke-width="0.6"/>
<path d="M393.9 256.1h.6M406.5 260.6h.6M409.6 234.9h.6M414.1 267.8h.6M413.6 244.4h.6M402.1 241.8h.6M410.0 237.9h.6M403.7 265.4h.6M401.3 242.5h.6M404.8 240.9h.6M409.9 268.0h.6M406.7 255.4h.6M406.6 248.4h.6M405.5 259.4h.6M412.8 245.5h.6M396.2 252.0h.6M404.8 269.8h.6M406.6 275.6h.6M413.6 247.0h.6M396.9 263.0h.6M410.2 250.4h.6M412.1 260.7h.6M412.6 270.9h.6M412.4 268.8h.6M405.7 243.0h.6M406.2 233.1h.6M406.3 273.7h.6M412.5 273.4h.6M402.1 263.5h.6M412.9 268.3h.6M406.8 269.2h.6M410.6 272.8h.6M404.9 237.5h.6M405.4 273.2h.6M400.0 261.2h.6M412.0 252.5h.6M402.9 263.7h.6M410.4 250.2h.6M395.4 255.0h.6M399.5 260.0h.6" stroke="#8fcbe2" stroke-width="0.6"/>
<path d="M412.4 249.0h.8M414.2 246.4h.8M406.4 243.9h.8M415.0 248.7h.8M404.5 240.1h.8M400.5 240.7h.8M413.2 245.6h.8M406.2 244.2h.8M407.2 241.3h.8M406.7 243.7h.8M409.8 246.7h.8M402.9 242.8h.8M414.0 248.3h.8M404.7 241.9h.8M410.5 246.2h.8M408.3 244.4h.8M400.9 241.8h.8M403.0 242.8h.8M407.0 246.7h.8M401.4 243.3h.8M405.9 243.2h.8M409.2 244.6h.8M400.2 243.9h.8M412.7 248.4h.8M414.0 249.1h.8M407.2 243.6h.8M414.4 247.0h.8M413.1 248.0h.8M410.6 249.0h.8M411.7 248.8h.8M400.0 241.1h.8M415.0 248.9h.8M410.7 246.5h.8M417.4 250.1h.8M402.9 244.2h.8M402.0 240.9h.8M411.5 247.1h.8M414.5 246.6h.8M402.0 242.5h.8M407.2 246.5h.8M413.3 246.0h.8M400.5 242.1h.8M411.5 247.0h.8M413.2 248.4h.8M406.4 245.6h.8M410.1 248.1h.8M412.5 248.3h.8M411.7 245.0h.8M411.1 248.0h.8M409.4 244.8h.8M401.7 243.5h.8M402.7 243.9h.8M402.9 244.0h.8M413.9 248.0h.8M406.7 244.6h.8M410.9 246.1h.8M400.9 242.7h.8M411.3 247.0h.8M413.2 247.5h.8M405.7 245.5h.8M406.8 241.6h.8M408.1 243.8h.8M402.4 242.5h.8M412.4 246.9h.8M405.9 243.8h.8M400.9 242.6h.8M410.1 245.9h.8M407.4 246.0h.8M403.2 243.2h.8M409.9 249.1h.8M404.8 244.2h.8M413.0 245.1h.8M407.6 244.6h.8M410.9 247.3h.8M406.5 244.9h.8M409.8 248.8h.8M401.9 242.5h.8M403.5 243.1h.8M408.2 245.2h.8M405.2 243.4h.8M411.7 246.8h.8M411.1 245.9h.8M400.2 241.9h.8M409.9 245.1h.8M412.3 246.8h.8M401.8 244.1h.8M411.8 248.0h.8M408.2 245.1h.8M409.4 246.8h.8M414.5 249.0h.8" stroke="#8fcbe2" stroke-width="0.8"/>
<path d="M519.83 251.35 L523.14 252.27 L527.36 251.66 L531.58 251.35 L533.7 252.57 L535.24 255.32 L536.02 260.87 L536.86 263.62 L532.85 265.7 L529.61 267.83 L527.71 270.58 L523.7 272.66 L519.76 274.06 L518.14 271.92 L518.91 267.1 L519.76 261.55 L519.76 255.99 L519.97 253.18 Z" fill="#8660ad" stroke="#8660ad" stroke-width="0.3"/>
<path d="M527.22 250.44 L528.42 249.09 L529.61 248.66 L532.85 248.36 L534.4 245.55 L537.64 244.15 L541.65 244.88 L545.66 245.92 L548.06 246.96 L549.68 249.76 L550.03 255.32 L549.68 260.14 L548.83 264.35 L547.28 266.43 L544.96 264.17 L540.88 262.22 L536.86 263.62 L536.02 260.87 L535.24 255.32 L532.85 251.35 L529.47 251.35 L528.06 251.66 Z" fill="#8660ad" stroke="#8660ad" stroke-width="0.3"/>
<path d="M510.11 232.67 L513.14 233.46 L515.53 235.29 L517.29 237.92 L518.84 240.48 L519.76 243.11 L520.32 245.73 L520.6 248.3 L520.95 250.44 L520.18 253.18 L519.76 255.99 L519.76 261.55 L518.91 267.1 L518.14 271.92 L516.52 274.73 L514.12 276.14 L510.11 275.4 L506.87 273.33 L504.48 269.85 L501.31 265.03 L498.92 260.14 L497.3 255.99 L497.51 255.01 L498.36 254.59 L499.9 251.96 L501.38 249.34 L502.86 246.22 L504.13 244.15 L504.97 241.03 L505.61 238.41 L506.52 235.78 L508.28 233.46 Z" fill="#7550a3" stroke="#7550a3" stroke-width="0.3"/>
<path d="M506.87 273.33 L510.11 275.4 L514.12 276.14 L516.52 274.73 L519.76 274.06 L523.7 272.66 L527.71 270.58 L530.18 267.1 L533.34 265.7 L536.86 263.62 L540.88 262.22 L544.96 262.95 L547.28 266.43 L548.83 264.35 L549.18 265.09 L546.79 268.02 L542.78 274.98 L540.38 281.94 L536.37 285.42 L534.19 285.84 L530.18 286.21 L526.16 285.84 L522.15 285.17 L518.91 285.84 L515.74 282.36 L514.9 278.88 L511.73 276.14 Z" fill="#8660ad" stroke="#8660ad" stroke-width="0.3"/>
<path d="M537.08 219.24 L539.61 218.99 L542.57 219.91 L546.23 221.56 L549.18 223.45 L551.44 225.47 L552.49 229.31 L553.27 234.38 L553.27 240.12 L553.62 244.64 L554.32 247.14 L552.84 250.13 L549.18 250.13 L548.13 245.25 L547.35 240.12 L547 235.05 L546.65 231.2 L546.37 227.54 L545.31 224.79 L543.2 222.35 L540.74 221.01 L538.27 220.83 Z" fill="#8660ad" stroke="#8660ad" stroke-width="0.3"/>
<path d="M549.61 249.52 L552.99 246.59 L555.66 244.88 L557 243.72 L559.67 242.87 L561.01 243.41 L560.31 246.59 L558.97 249.52 L559.32 251.84 L562.35 253.3 L565.66 252.69 L569.04 250.98 L571.71 249.52 L572.35 250.37 L570.37 253 L567.7 254.71 L565.66 256.48 L566.36 259.96 L568.68 262.28 L568.33 263.99 L565.02 265.15 L561.64 264.9 L558.34 263.99 L554.32 263.44 L551.65 262.28 L550.31 259.96 L549.96 255.32 Z" fill="#8660ad" stroke="#8660ad" stroke-width="0.3"/>
<path d="M540.45 221.19 L542 221.44 L542.99 225.1 L543.69 229.98 L542.71 230.47 L541.58 225.71 L540.6 222.66 Z" fill="#8660ad" stroke="#8660ad" stroke-width="0.3"/>
<path d="M530.3 268.2h.6M519.3 252.4h.6M530.8 251.1h.6M523.9 251.9h.6M521.4 273.6h.6M524.1 273.0h.6M519.3 253.3h.6M517.5 271.0h.6M527.8 251.6h.6M518.0 263.8h.6M532.4 251.7h.6M522.1 252.0h.6M534.2 253.5h.6M530.5 267.5h.6M536.9 255.7h.6M530.6 269.4h.6M530.1 267.5h.6M536.0 258.6h.6M517.6 271.3h.6M532.8 265.9h.6M527.2 271.2h.6M517.1 267.8h.6M518.3 268.5h.6M536.3 264.5h.6M535.9 261.0h.6M517.7 268.0h.6M519.5 252.1h.6M531.2 266.9h.6M519.3 256.0h.6M534.0 253.3h.6M518.7 254.3h.6M518.1 269.4h.6M529.0 269.3h.6M519.0 255.3h.6M534.3 265.7h.6M527.8 250.4h.6M518.1 262.4h.6M521.4 274.4h.6M533.2 265.4h.6M524.9 250.0h.6M519.4 259.3h.6M536.2 260.4h.6M520.4 251.3h.6M535.7 259.6h.6M532.3 251.8h.6M526.3 250.0h.6M518.6 264.4h.6M519.1 274.6h.6M517.7 270.1h.6M518.5 258.8h.6M519.2 254.5h.6M520.1 251.5h.6M522.2 273.2h.6M537.1 253.7h.6M525.8 272.5h.6M536.2 255.2h.6M520.4 251.5h.6M519.3 261.7h.6M537.7 261.9h.6M529.7 269.3h.6M521.2 274.4h.6M528.8 249.2h.6M523.9 272.7h.6M519.2 252.0h.6M536.0 265.0h.6M536.0 265.3h.6M535.5 258.6h.6M519.2 255.7h.6M517.0 268.3h.6M518.1 270.1h.6M536.2 257.9h.6M535.3 264.4h.6M518.4 258.3h.6M533.7 265.4h.6M535.6 260.0h.6M528.0 251.6h.6M530.6 251.3h.6M517.3 255.5h.6M536.6 262.9h.6M537.0 258.1h.6M521.8 273.7h.6M518.6 262.3h.6M536.8 263.0h.6M518.3 261.5h.6M518.9 262.0h.6M517.5 257.6h.6M521.5 273.4h.6M534.3 252.8h.6M517.5 273.1h.6M536.4 259.0h.6M523.1 273.5h.6M518.3 268.4h.6M517.0 268.0h.6M526.2 251.8h.6M528.7 270.5h.6M519.2 258.2h.6M534.3 253.8h.6M519.0 254.2h.6M519.1 263.0h.6M519.7 251.4h.6M536.8 260.8h.6M518.4 254.2h.6M525.3 251.5h.6M518.8 255.7h.6M517.8 271.0h.6M517.6 272.5h.6M531.5 266.8h.6M536.2 261.2h.6M517.0 272.7h.6M533.8 253.1h.6M527.3 272.0h.6M517.9 269.1h.6M535.8 257.2h.6M535.4 256.9h.6M531.9 251.3h.6M516.1 273.9h.6M535.1 252.4h.6M535.8 259.2h.6M518.3 261.7h.6M526.1 251.5h.6M536.5 261.9h.6M535.3 257.1h.6M531.5 251.5h.6M534.7 264.8h.6M519.4 257.5h.6M535.3 256.6h.6M535.6 253.8h.6M518.9 257.2h.6M517.4 271.0h.6" stroke="#8660ad" stroke-width="0.6"/>
<path d="M538.8 263.0h.6M534.3 245.0h.6M526.6 252.0h.6M528.0 251.9h.6M534.0 259.7h.6M532.3 247.4h.6M549.7 257.3h.6M539.7 262.6h.6M529.0 251.9h.6M534.3 261.1h.6M534.3 255.3h.6M531.7 248.2h.6M537.1 244.0h.6M533.5 253.5h.6M538.6 244.3h.6M535.6 260.2h.6M550.5 257.7h.6M539.9 244.4h.6M549.8 257.2h.6M531.9 248.2h.6M534.9 260.2h.6M549.9 264.3h.6M546.3 266.7h.6M533.5 246.1h.6M527.1 252.0h.6M550.6 261.5h.6M549.4 262.1h.6M532.3 253.5h.6M540.8 262.5h.6M535.8 262.2h.6M534.0 255.3h.6M537.8 244.2h.6M549.8 253.3h.6M534.9 258.5h.6M539.2 263.0h.6M535.5 244.7h.6M548.4 267.1h.6M548.8 265.7h.6M544.3 244.8h.6M534.5 255.4h.6M537.0 264.6h.6M532.6 247.1h.6M536.0 263.0h.6M534.5 258.6h.6M537.5 264.1h.6M532.4 252.9h.6M550.0 259.0h.6M542.4 263.5h.6M534.4 245.1h.6M545.0 265.1h.6M538.2 263.3h.6M533.6 253.9h.6M550.1 257.1h.6M550.1 262.6h.6M534.1 244.4h.6M542.9 244.7h.6M549.8 253.5h.6M530.7 252.1h.6M535.6 262.8h.6M529.2 248.5h.6M549.8 257.7h.6M550.1 252.4h.6M549.1 262.0h.6M550.9 252.5h.6M526.1 252.4h.6M550.3 248.5h.6M548.9 265.0h.6M549.0 262.7h.6M548.9 247.3h.6M549.5 266.2h.6M548.4 266.8h.6M549.1 263.0h.6M550.4 259.0h.6M533.5 256.8h.6M549.7 255.7h.6M549.5 250.6h.6M536.1 262.9h.6M547.8 265.3h.6M550.3 265.6h.6M549.3 249.6h.6M527.6 252.0h.6M550.2 256.9h.6M536.9 263.9h.6M535.5 261.3h.6M551.2 251.6h.6M526.7 251.4h.6M533.5 246.1h.6M535.7 261.5h.6M549.6 249.5h.6M535.2 244.7h.6M537.8 244.0h.6M526.8 250.3h.6M535.0 258.7h.6M550.2 249.0h.6M534.4 259.5h.6M535.0 257.2h.6M534.0 245.2h.6M534.6 244.6h.6M549.5 251.2h.6M549.5 258.6h.6M527.7 249.4h.6M531.8 251.5h.6M549.7 252.6h.6M535.5 260.7h.6M533.2 245.7h.6M538.7 244.1h.6M527.3 251.1h.6M529.9 247.8h.6M548.6 248.3h.6M549.8 252.2h.6M533.0 252.3h.6M546.3 265.9h.6M546.4 245.0h.6M529.5 247.9h.6M533.0 252.3h.6M540.9 263.1h.6M528.8 248.3h.6M550.9 261.3h.6M548.1 264.9h.6M544.6 245.4h.6M526.9 250.6h.6M549.1 262.5h.6M544.5 265.5h.6M534.5 254.6h.6M540.7 244.7h.6M535.4 259.4h.6M529.2 252.2h.6M542.0 263.0h.6M538.4 263.6h.6M526.8 251.9h.6M549.1 266.6h.6M542.1 245.0h.6M531.4 251.5h.6M548.7 247.8h.6M541.2 243.6h.6M532.4 251.9h.6M530.9 251.9h.6M534.9 255.6h.6M534.9 255.7h.6" stroke="#8660ad" stroke-width="0.6"/>
<path d="M500.6 250.1h.6M498.9 262.0h.6M521.3 245.6h.6M513.3 276.6h.6M501.6 266.0h.6M518.2 271.7h.6M517.9 272.3h.6M501.5 247.9h.6M501.4 248.0h.6M518.2 269.9h.6M511.8 276.0h.6M520.5 251.2h.6M502.3 268.0h.6M505.6 235.7h.6M517.9 239.3h.6M520.6 255.0h.6M518.7 240.1h.6M520.1 263.6h.6M520.2 247.4h.6M504.7 236.5h.6M519.5 263.0h.6M508.9 275.3h.6M519.7 260.7h.6M518.0 236.7h.6M501.8 245.9h.6M518.6 267.9h.6M520.2 244.3h.6M519.0 239.0h.6M504.1 241.8h.6M505.1 239.3h.6M508.6 233.1h.6M519.2 242.3h.6M521.5 251.5h.6M515.0 234.9h.6M507.1 234.6h.6M501.9 245.2h.6M513.5 276.4h.6M519.8 257.6h.6M505.2 238.6h.6M501.5 266.6h.6M518.7 238.2h.6M521.3 251.2h.6M518.9 266.6h.6M519.8 240.8h.6M504.4 241.8h.6M497.5 257.4h.6M520.6 249.7h.6M501.1 246.3h.6M516.8 274.4h.6M509.5 232.5h.6M519.3 262.4h.6M513.4 233.9h.6M511.8 275.9h.6M510.4 278.5h.6M497.2 257.5h.6M519.2 263.2h.6M502.2 267.0h.6M507.6 232.9h.6M497.1 257.0h.6M521.4 247.7h.6M518.8 238.5h.6M512.0 275.9h.6M499.3 263.9h.6M503.4 244.7h.6M520.1 260.6h.6M521.2 250.2h.6M519.2 263.5h.6M500.0 266.2h.6M503.4 268.8h.6M520.5 252.0h.6M520.5 247.4h.6M518.9 239.8h.6M516.6 274.4h.6M520.5 248.0h.6M521.8 251.0h.6M516.8 274.9h.6M509.6 232.0h.6M514.2 234.3h.6M520.2 257.0h.6M499.2 262.1h.6M520.8 250.8h.6M516.9 274.5h.6M519.8 260.9h.6M519.6 261.8h.6M513.0 276.8h.6M499.7 262.8h.6M504.8 271.1h.6M518.8 267.2h.6M502.9 268.5h.6M517.4 274.6h.6M501.2 265.5h.6M519.7 262.6h.6M500.3 267.2h.6M498.8 263.9h.6M501.6 247.9h.6M505.4 238.0h.6M520.6 246.1h.6M519.8 261.8h.6M504.5 238.5h.6M498.7 260.7h.6M520.1 259.7h.6M500.8 265.0h.6M498.1 253.8h.6M511.1 232.8h.6M518.7 276.2h.6M513.5 276.9h.6M505.9 235.6h.6M505.1 238.8h.6M494.5 256.7h.6M502.8 243.9h.6M516.3 235.8h.6M519.5 260.0h.6M498.9 262.9h.6M499.5 252.0h.6M521.4 251.4h.6M521.2 253.4h.6M504.3 242.2h.6M509.4 232.6h.6M496.8 256.5h.6M507.8 233.1h.6M498.5 260.0h.6M496.9 258.8h.6M500.5 248.0h.6M504.4 239.9h.6M505.8 236.1h.6M505.3 235.4h.6M496.6 256.3h.6M501.0 248.2h.6M521.9 247.9h.6M519.7 254.7h.6M502.6 267.5h.6M519.0 271.1h.6M517.2 273.2h.6M500.7 248.4h.6M518.7 270.5h.6M498.8 261.0h.6M510.0 276.3h.6M520.2 246.4h.6M496.9 258.0h.6M506.0 236.2h.6M498.7 261.4h.6M505.3 237.7h.6M505.6 236.9h.6M505.9 236.8h.6M498.5 253.7h.6M519.8 261.6h.6M519.1 267.1h.6M514.1 276.6h.6M516.2 236.6h.6M519.7 254.7h.6M520.5 261.7h.6M516.5 275.0h.6M519.6 259.1h.6M505.3 238.1h.6M497.3 256.7h.6M499.5 265.4h.6M503.2 244.9h.6M509.7 232.7h.6M509.7 231.1h.6M515.5 234.4h.6M518.3 275.1h.6M507.6 274.1h.6M505.7 235.4h.6M497.9 258.9h.6M499.9 250.9h.6M519.4 242.9h.6M503.1 245.3h.6M506.6 274.2h.6M503.2 269.1h.6M520.1 256.2h.6M505.7 236.9h.6M518.1 271.1h.6M512.9 233.2h.6M515.8 235.5h.6M502.6 245.8h.6M501.3 247.5h.6M521.6 248.9h.6M507.1 234.3h.6M520.2 255.7h.6M520.8 250.1h.6M503.2 268.5h.6M502.8 245.5h.6M501.6 246.1h.6M520.7 248.1h.6M520.6 252.5h.6M502.6 243.5h.6M519.7 267.1h.6M519.9 258.7h.6M504.6 240.6h.6M501.7 266.4h.6M502.7 245.7h.6M498.3 259.7h.6M520.4 249.1h.6M519.8 240.7h.6M505.0 239.2h.6M499.3 263.0h.6M515.4 232.9h.6M517.7 273.2h.6M498.2 259.5h.6M522.1 244.7h.6" stroke="#7550a3" stroke-width="0.6"/>
<path d="M546.5 265.2h.6M511.2 275.6h.6M521.3 273.1h.6M530.0 265.0h.6M520.9 285.8h.6M530.9 265.7h.6M543.4 275.6h.6M513.7 278.2h.6M529.2 267.3h.6M548.3 264.1h.6M543.5 273.5h.6M544.0 273.3h.6M523.6 285.7h.6M541.4 261.0h.6M508.0 274.4h.6M512.5 277.7h.6M533.5 265.4h.6M507.8 274.1h.6M526.0 271.0h.6M509.2 276.0h.6M510.1 274.5h.6M542.1 278.4h.6M541.8 281.2h.6M536.2 263.1h.6M538.6 284.0h.6M511.0 274.7h.6M520.8 273.2h.6M516.2 283.8h.6M517.2 284.6h.6M513.4 277.9h.6M527.5 267.5h.6M545.4 263.5h.6M542.6 275.7h.6M507.2 275.4h.6M513.8 274.4h.6M529.8 286.8h.6M548.0 267.3h.6M543.4 274.0h.6M533.7 264.5h.6M547.8 266.6h.6M540.3 281.6h.6M509.4 274.4h.6M541.4 261.8h.6M527.5 286.3h.6M548.8 266.3h.6M529.4 266.2h.6M514.5 278.8h.6M533.6 264.0h.6M515.7 284.4h.6M539.1 282.8h.6M544.9 263.2h.6M545.9 270.1h.6M545.9 270.2h.6M519.8 271.9h.6M546.7 268.8h.6M527.4 286.1h.6M520.5 273.7h.6M546.0 269.0h.6M546.1 264.0h.6M514.8 279.9h.6M540.7 261.1h.6M546.0 269.9h.6M514.3 275.5h.6M545.2 263.7h.6M529.0 286.9h.6M509.6 275.7h.6M506.6 273.4h.6M531.7 266.1h.6M533.0 286.3h.6M543.7 272.9h.6M510.4 276.7h.6M513.7 278.5h.6M511.7 275.6h.6M513.9 278.4h.6M548.0 263.6h.6M514.1 275.2h.6M536.2 285.7h.6M518.0 274.1h.6M519.0 273.3h.6M532.4 286.0h.6M517.9 285.6h.6M531.4 266.4h.6M527.6 287.8h.6M507.7 273.1h.6M507.1 274.4h.6M546.9 268.5h.6M517.9 285.2h.6M525.5 269.3h.6M508.6 276.1h.6M522.0 286.3h.6M540.2 283.2h.6M514.5 283.5h.6M524.1 285.7h.6M542.7 275.6h.6M545.3 263.5h.6M517.5 286.0h.6M527.8 287.4h.6M508.2 275.1h.6M508.6 274.7h.6M507.9 273.4h.6M508.5 274.9h.6M510.2 276.0h.6M510.8 276.6h.6M540.2 261.0h.6M508.9 274.3h.6M537.7 262.1h.6M507.6 273.8h.6M544.8 262.5h.6M514.3 278.8h.6M539.9 282.3h.6M513.0 275.9h.6M508.5 274.8h.6M546.9 265.8h.6M513.1 275.9h.6M511.2 277.5h.6M509.4 274.5h.6M546.6 268.3h.6M522.7 286.8h.6M542.0 262.2h.6M514.7 282.9h.6M513.9 276.1h.6M515.1 273.7h.6M547.3 267.7h.6M528.3 287.0h.6M547.5 264.9h.6M508.1 273.6h.6M534.7 286.0h.6M548.8 264.8h.6M519.4 274.1h.6M545.1 270.9h.6M512.2 277.0h.6M508.5 274.2h.6M539.7 261.7h.6M519.2 271.9h.6M544.9 272.9h.6M546.2 263.8h.6M546.8 267.7h.6M507.8 275.1h.6M526.0 286.0h.6M521.7 285.4h.6M535.7 263.0h.6M546.9 267.6h.6M534.3 286.0h.6M518.1 285.8h.6M532.7 286.1h.6M548.2 264.4h.6M531.9 266.0h.6M525.5 271.1h.6M548.2 268.0h.6M511.0 277.3h.6M547.5 268.3h.6M537.2 262.8h.6M527.6 268.9h.6M526.9 286.2h.6M514.7 280.2h.6M546.8 272.8h.6M511.6 275.5h.6M527.8 286.1h.6M509.3 275.5h.6M507.4 272.7h.6M543.7 262.4h.6M514.9 274.2h.6M529.9 287.8h.6M543.2 275.6h.6M512.4 275.9h.6M541.6 262.4h.6M528.8 267.7h.6M519.8 285.8h.6M508.9 275.8h.6M547.7 267.0h.6M543.2 274.2h.6M542.0 276.5h.6M542.2 279.2h.6M527.6 270.3h.6M545.5 270.9h.6M508.2 274.9h.6M514.1 275.9h.6M508.4 275.5h.6M508.3 273.5h.6M511.2 276.1h.6M538.0 262.9h.6M536.2 285.4h.6M532.3 265.6h.6M545.4 262.6h.6M521.6 285.3h.6M546.5 268.8h.6M514.2 279.0h.6M537.0 284.6h.6M516.3 284.2h.6M510.3 276.3h.6M524.8 285.8h.6M519.2 287.1h.6M521.1 272.2h.6M507.0 273.6h.6M541.8 278.0h.6M507.1 273.6h.6M542.2 262.5h.6M530.3 287.3h.6M514.9 281.6h.6" stroke="#8660ad" stroke-width="0.6"/>
<path d="M550.0 224.5h.6M547.3 221.7h.6M552.7 229.5h.6M545.5 234.3h.6M554.9 245.9h.6M547.8 248.3h.6M549.5 250.6h.6M546.4 231.7h.6M540.3 221.8h.6M545.9 221.1h.6M539.7 218.9h.6M546.6 221.2h.6M542.9 223.2h.6M551.8 227.2h.6M553.9 247.8h.6M552.3 227.2h.6M545.1 225.4h.6M553.1 230.8h.6M545.6 227.6h.6M554.4 246.1h.6M545.8 234.0h.6M553.3 248.9h.6M552.7 249.9h.6M553.4 232.6h.6M546.9 221.9h.6M541.0 221.4h.6M546.6 234.4h.6M544.4 226.3h.6M541.1 221.4h.6M544.7 220.7h.6M537.5 221.0h.6M546.6 234.2h.6M551.6 224.8h.6M551.6 226.8h.6M552.9 228.2h.6M557.0 244.8h.6M553.3 235.9h.6M547.6 244.7h.6M546.8 241.5h.6M547.5 243.9h.6M547.7 246.5h.6M549.4 223.0h.6M547.4 243.2h.6M546.4 221.3h.6M548.3 222.9h.6M538.5 219.0h.6M553.5 244.8h.6M555.4 245.8h.6M552.4 228.1h.6M552.7 250.4h.6M552.5 229.2h.6M553.3 227.4h.6M546.4 241.1h.6M554.3 239.6h.6M549.9 251.1h.6M538.6 222.2h.6M536.7 220.4h.6M537.8 221.1h.6M547.6 245.3h.6M546.2 221.7h.6M545.9 231.7h.6M542.8 220.1h.6M553.1 234.8h.6M548.2 247.2h.6M555.5 248.2h.6M548.2 223.0h.6M553.2 250.2h.6M553.5 249.2h.6M537.7 220.7h.6M547.4 221.9h.6M547.0 244.5h.6M553.9 248.0h.6M553.2 230.3h.6M553.9 246.5h.6M547.2 243.4h.6M544.5 233.6h.6M554.4 244.9h.6M554.7 249.8h.6M548.9 221.2h.6M542.9 223.8h.6M549.8 223.8h.6M543.8 223.4h.6M543.0 224.9h.6M551.7 250.3h.6M550.2 223.7h.6M549.7 223.8h.6M553.5 244.5h.6M548.8 223.4h.6M553.6 249.7h.6M545.6 228.5h.6M551.1 225.1h.6M552.4 250.6h.6M550.8 224.5h.6M553.7 248.5h.6M538.3 221.3h.6M550.5 250.2h.6M553.4 239.2h.6M547.0 241.2h.6M553.9 239.0h.6M554.0 249.3h.6M546.5 235.9h.6M546.0 239.5h.6M553.2 233.2h.6M554.3 249.2h.6M551.3 250.7h.6M536.5 218.9h.6M547.0 247.0h.6M536.8 219.4h.6M552.5 228.3h.6M542.2 219.7h.6M546.0 246.3h.6M551.9 250.8h.6M552.6 227.7h.6M546.2 238.7h.6M553.8 247.9h.6M551.9 227.5h.6M538.9 221.8h.6M546.9 237.6h.6M546.0 248.4h.6M545.9 227.1h.6M551.8 250.2h.6M546.0 230.3h.6M546.1 238.3h.6M542.2 219.9h.6M544.5 231.1h.6M552.7 250.0h.6M537.7 218.7h.6M553.0 249.8h.6M547.3 222.4h.6M553.1 240.3h.6M553.7 244.0h.6M553.2 242.3h.6M535.6 221.5h.6M540.9 223.1h.6M546.3 231.7h.6M553.3 236.9h.6M547.2 241.9h.6M547.0 221.1h.6M553.7 249.3h.6M553.1 241.9h.6M544.3 220.2h.6M545.9 220.7h.6M544.6 233.2h.6M552.8 229.0h.6M553.0 237.8h.6M546.4 235.3h.6M545.4 220.9h.6M545.9 230.0h.6M546.3 232.1h.6M552.9 227.7h.6M553.4 236.6h.6M553.9 241.3h.6M547.2 241.2h.6" stroke="#8660ad" stroke-width="0.6"/>
<path d="M557.6 264.1h.6M567.1 260.1h.6M570.7 254.0h.6M567.2 258.4h.6M569.2 253.9h.6M559.4 248.2h.6M550.8 246.7h.6M549.7 257.2h.6M567.7 251.3h.6M567.7 250.4h.6M550.2 248.0h.6M568.4 263.9h.6M563.4 265.2h.6M564.9 266.4h.6M569.0 249.9h.6M572.3 250.0h.6M565.9 258.8h.6M562.3 265.4h.6M560.6 252.6h.6M555.3 243.4h.6M564.9 252.7h.6M554.6 241.5h.6M560.2 242.8h.6M549.4 247.9h.6M572.0 249.4h.6M547.9 249.7h.6M551.7 247.1h.6M563.9 252.1h.6M549.7 258.3h.6M560.6 247.4h.6M570.4 248.7h.6M548.8 253.5h.6M559.2 242.8h.6M560.4 264.7h.6M565.7 256.2h.6M566.8 251.9h.6M555.2 244.8h.6M552.7 246.0h.6M560.3 242.6h.6M572.3 249.6h.6M568.4 262.8h.6M566.7 251.1h.6M566.4 260.0h.6M556.2 243.4h.6M557.1 263.9h.6M565.9 259.0h.6M549.1 249.4h.6M560.1 249.1h.6M554.4 245.1h.6M563.3 265.1h.6M568.5 254.1h.6M566.0 256.7h.6M561.2 251.7h.6M569.0 263.3h.6M567.3 255.0h.6M571.8 249.6h.6M556.1 264.5h.6M551.2 247.7h.6M561.7 245.5h.6M570.4 249.4h.6M568.0 261.1h.6M555.3 244.7h.6M572.2 250.5h.6M569.6 253.7h.6M570.3 250.1h.6M571.1 253.3h.6M570.3 250.1h.6M570.7 249.6h.6M560.5 244.7h.6M572.6 250.0h.6M566.6 250.2h.6M566.4 260.2h.6M559.7 250.1h.6M559.2 264.7h.6M570.8 247.9h.6M559.0 242.9h.6M558.6 264.7h.6M549.0 249.7h.6M565.6 252.2h.6M548.9 255.0h.6M569.6 253.7h.6M550.5 263.6h.6M549.7 257.1h.6M560.3 250.6h.6M568.5 250.8h.6M564.0 252.7h.6M569.3 250.1h.6M548.5 249.3h.6M561.4 250.7h.6M568.7 250.8h.6M560.8 243.2h.6M561.2 245.1h.6M571.5 249.4h.6M553.9 244.7h.6M566.2 258.2h.6M558.0 264.7h.6M549.7 258.0h.6M553.8 245.2h.6M567.2 255.4h.6M559.9 243.1h.6M561.4 252.8h.6M559.3 242.9h.6M549.8 256.9h.6M566.2 258.8h.6M549.4 253.8h.6M566.1 260.0h.6M568.6 249.0h.6M560.7 265.0h.6M549.4 254.4h.6M549.2 249.6h.6M561.7 253.0h.6M558.3 242.6h.6M566.5 252.0h.6M566.2 260.0h.6M559.2 248.6h.6M560.1 248.1h.6M568.5 261.3h.6M550.0 248.5h.6M567.6 251.0h.6M567.0 264.4h.6M555.2 263.8h.6M554.1 264.3h.6M557.2 265.7h.6M552.1 263.3h.6M560.1 247.9h.6M566.6 258.5h.6M570.0 253.3h.6M559.5 252.0h.6M570.8 252.2h.6M549.3 255.4h.6M548.6 255.2h.6M547.9 258.7h.6M568.6 263.1h.6M557.2 264.8h.6M561.7 253.0h.6M567.1 255.6h.6M550.4 260.8h.6M549.0 254.0h.6M566.2 264.7h.6M565.7 258.1h.6M550.5 262.2h.6M568.3 263.0h.6M563.5 252.3h.6M557.0 243.5h.6M548.8 258.3h.6M557.9 264.1h.6M555.5 264.4h.6M552.1 263.1h.6M560.8 244.4h.6M565.4 265.1h.6M559.0 249.3h.6M567.9 260.7h.6M559.0 249.4h.6M559.6 248.3h.6M565.4 252.5h.6" stroke="#8660ad" stroke-width="0.6"/>
<path d="M545.4 257.8h.6M538.0 251.1h.6M538.5 256.6h.6M531.1 251.2h.6M534.2 246.0h.6M534.9 250.6h.6M541.9 260.0h.6M544.0 254.6h.6M547.3 254.8h.6M528.8 251.4h.6M529.1 250.7h.6M544.6 262.9h.6M547.2 264.5h.6M537.6 248.1h.6M539.5 245.4h.6M539.9 248.0h.6M539.7 257.8h.6M537.1 246.3h.6M548.5 256.8h.6M536.0 255.5h.6M545.8 253.2h.6M539.6 248.9h.6M546.4 258.3h.6M536.3 254.6h.6M547.7 250.5h.6M545.1 260.4h.6M529.3 250.3h.6M548.5 253.3h.6M547.5 252.0h.6M543.1 257.0h.6M537.3 254.0h.6M539.6 244.8h.6M546.1 258.1h.6M527.8 251.4h.6M535.7 252.8h.6M543.2 245.4h.6M547.3 256.7h.6M547.9 263.2h.6M537.3 247.0h.6M546.1 259.5h.6M538.9 252.9h.6M545.5 255.8h.6M535.2 249.3h.6M548.0 256.6h.6M538.7 259.4h.6M533.9 252.3h.6M545.0 251.4h.6M541.9 250.7h.6M544.7 263.6h.6M537.6 255.1h.6M535.0 245.4h.6M544.9 250.4h.6M543.4 252.7h.6M539.2 257.9h.6M538.1 245.4h.6M535.5 251.2h.6M542.1 245.2h.6M541.3 257.5h.6M539.6 246.6h.6M548.9 258.5h.6M540.7 251.3h.6M546.9 252.7h.6M549.2 260.7h.6M546.0 251.8h.6M541.2 262.4h.6M540.3 247.0h.6M530.7 250.1h.6M540.9 247.7h.6M538.8 245.0h.6M536.1 258.8h.6M547.1 257.0h.6M533.8 250.0h.6M539.3 247.5h.6M545.1 255.6h.6M540.2 244.9h.6M534.7 254.2h.6M535.5 245.8h.6M546.1 249.2h.6M540.4 254.7h.6M535.4 250.5h.6M540.6 250.8h.6M542.0 256.5h.6M540.7 257.7h.6M544.0 251.2h.6M544.8 248.7h.6M541.1 246.5h.6M548.1 251.6h.6M543.9 253.1h.6M547.8 248.4h.6M535.4 257.1h.6M544.1 260.0h.6M535.7 250.2h.6M540.7 254.1h.6M541.9 257.7h.6M546.1 261.4h.6M538.0 251.8h.6M537.3 260.0h.6M537.9 256.5h.6M538.8 261.2h.6M543.5 258.0h.6M543.0 249.6h.6M547.3 251.9h.6M527.4 250.9h.6M538.6 259.8h.6M537.4 252.1h.6M538.1 256.5h.6M535.8 245.8h.6M537.2 262.1h.6M535.5 258.7h.6M528.7 250.5h.6M543.0 246.8h.6M536.6 258.0h.6M539.3 246.7h.6M535.0 254.3h.6M548.2 250.6h.6M545.9 259.6h.6M540.1 245.2h.6M547.1 264.5h.6M547.2 247.1h.6M542.5 253.1h.6M532.1 249.8h.6M538.3 258.3h.6M538.4 246.2h.6M533.7 246.6h.6M547.8 261.2h.6M542.6 262.2h.6M540.2 245.7h.6M533.4 249.5h.6M541.5 250.6h.6M544.3 249.7h.6M539.6 244.8h.6M540.9 247.4h.6M534.7 253.4h.6M537.8 245.0h.6M547.0 249.5h.6M546.4 256.5h.6M544.2 259.5h.6M534.8 254.6h.6M535.5 257.0h.6M546.1 252.3h.6M547.2 252.2h.6M538.7 259.5h.6M530.9 248.9h.6M545.3 251.1h.6M535.7 247.9h.6M528.3 251.2h.6M546.1 257.9h.6M545.9 251.6h.6M533.3 252.4h.6M539.6 253.1h.6" stroke="#c49acb" stroke-width="0.6"/>
<path d="M537.7 253.9h.6M537.4 261.9h.6M541.0 254.3h.6M541.1 262.1h.6M534.1 247.3h.6M542.0 262.5h.6M537.9 254.4h.6M540.0 254.1h.6M543.8 256.0h.6M544.2 256.6h.6M540.1 247.5h.6M539.9 247.4h.6M534.3 251.8h.6M543.1 256.3h.6M543.8 248.2h.6M535.6 248.2h.6M545.4 260.0h.6M542.5 255.9h.6M533.9 251.8h.6M538.3 262.9h.6M533.7 246.9h.6M549.5 257.7h.6M540.8 255.5h.6M547.5 261.2h.6M533.7 249.5h.6M543.0 258.9h.6M535.8 259.7h.6M546.2 265.4h.6M541.1 251.2h.6M546.3 261.7h.6M534.4 246.7h.6M541.1 249.1h.6M545.7 261.8h.6M533.2 250.4h.6M542.4 249.1h.6M545.1 260.0h.6M549.2 249.7h.6M538.1 261.5h.6M537.3 250.4h.6M544.3 258.8h.6M545.8 248.1h.6M547.0 248.9h.6M545.6 255.5h.6M529.1 251.2h.6M530.7 249.3h.6" stroke="#4b2a84" stroke-width="0.6"/>
<path d="M524.9 256.4h.6M518.7 273.0h.6M521.0 254.3h.6M518.4 268.8h.6M519.6 264.5h.6M526.9 270.8h.6M520.1 266.4h.6M520.3 268.7h.6M520.7 260.5h.6M533.1 258.9h.6M533.9 255.3h.6M527.3 270.4h.6M528.1 268.6h.6M524.1 269.7h.6M523.1 255.1h.6M532.2 264.5h.6M523.3 254.7h.6M522.3 255.9h.6M528.0 264.0h.6M533.7 254.3h.6M525.9 257.0h.6M535.1 256.4h.6M522.0 256.0h.6M522.7 264.0h.6M526.3 261.2h.6M525.4 258.6h.6M529.6 260.9h.6M525.9 258.5h.6M533.4 262.9h.6M523.1 257.5h.6M528.2 257.5h.6M520.5 273.2h.6M520.8 262.7h.6M523.9 267.1h.6M520.9 264.3h.6M524.3 258.9h.6M519.9 266.2h.6M521.0 264.0h.6M523.8 269.7h.6M527.4 264.7h.6M523.0 267.8h.6M529.3 267.1h.6M528.9 265.5h.6M520.5 261.9h.6M523.7 255.4h.6M519.8 254.8h.6M531.4 259.3h.6M519.5 268.5h.6M532.3 261.0h.6M528.7 268.1h.6M520.3 266.3h.6M526.1 269.5h.6M521.7 254.5h.6M529.2 268.0h.6M521.0 272.2h.6M524.9 253.4h.6M526.7 260.1h.6M529.8 265.7h.6M519.9 254.0h.6M532.4 264.8h.6M520.8 266.3h.6M534.2 259.8h.6M528.6 262.5h.6M529.2 259.7h.6M532.0 258.2h.6M519.9 251.6h.6M520.2 265.8h.6M525.3 269.8h.6M530.8 251.8h.6M531.0 258.2h.6M524.0 263.1h.6M522.4 265.3h.6M525.5 255.0h.6M532.0 261.1h.6M526.9 263.3h.6M528.6 256.7h.6M534.2 258.8h.6M528.5 267.1h.6M522.3 264.4h.6M530.8 261.2h.6M521.3 268.3h.6M521.3 260.7h.6M527.8 257.1h.6M527.8 264.4h.6M520.7 271.8h.6M526.9 263.4h.6M523.0 255.7h.6M518.5 271.9h.6M523.2 256.8h.6M522.5 261.9h.6M533.0 259.8h.6M523.9 258.6h.6M520.0 255.8h.6M526.1 266.6h.6M530.3 257.9h.6M530.9 266.5h.6M521.8 264.3h.6M533.2 253.1h.6M518.8 270.0h.6M521.6 269.7h.6M523.6 261.0h.6M530.6 257.5h.6M520.4 259.5h.6M525.2 270.9h.6M532.6 255.6h.6M524.8 269.3h.6M523.4 272.0h.6M524.1 259.9h.6M528.0 253.1h.6M531.1 254.5h.6M524.9 266.6h.6M529.1 259.8h.6M534.4 254.9h.6M527.8 264.2h.6M531.3 254.1h.6M531.2 255.6h.6M527.5 260.7h.6M524.8 261.7h.6M520.8 255.0h.6M519.7 257.3h.6M520.9 256.8h.6M529.4 259.5h.6M519.6 257.9h.6M521.8 269.2h.6M519.9 256.5h.6M533.8 260.3h.6M533.1 255.3h.6M528.4 260.2h.6M528.5 253.9h.6M533.2 263.5h.6M532.1 263.3h.6M532.5 262.0h.6M525.5 259.6h.6M528.4 265.0h.6M525.5 271.2h.6M528.3 261.2h.6M530.2 260.7h.6M524.5 261.1h.6M525.3 252.5h.6M528.4 263.4h.6M527.3 254.0h.6M531.4 264.9h.6M534.8 263.4h.6M528.4 258.8h.6M520.4 267.5h.6M535.3 263.2h.6M530.9 257.1h.6M527.3 269.1h.6M526.6 261.9h.6M527.7 262.3h.6" stroke="#c49acb" stroke-width="0.6"/>
<path d="M529.8 265.9h.6M528.7 252.9h.6M523.7 266.4h.6M522.8 254.1h.6M533.8 263.0h.6M519.1 273.0h.6M520.9 257.2h.6M521.4 259.1h.6M519.8 257.0h.6M532.8 254.1h.6M523.0 270.4h.6M526.7 264.7h.6M529.3 259.6h.6M523.2 261.9h.6M535.2 263.2h.6M522.7 257.4h.6M530.9 265.9h.6M524.8 253.9h.6M528.7 258.5h.6M528.2 265.7h.6M533.7 254.3h.6M526.9 252.6h.6M528.2 257.2h.6M523.3 264.0h.6M522.4 261.5h.6M521.0 273.0h.6M526.9 253.2h.6M529.8 253.5h.6M532.4 264.3h.6M520.8 255.5h.6M524.6 270.1h.6M518.8 268.2h.6M522.8 271.1h.6M527.2 263.4h.6M521.0 258.1h.6M520.5 270.4h.6M527.8 255.0h.6M523.2 260.1h.6M522.9 255.0h.6M526.2 260.8h.6M534.4 255.0h.6M533.8 256.0h.6M526.1 256.7h.6M532.1 261.2h.6M528.0 252.9h.6" stroke="#4b2a84" stroke-width="0.6"/>
<path d="M522.8 272.9h.6M536.6 274.2h.6M540.1 267.7h.6M516.8 280.8h.6M524.0 280.2h.6M541.0 276.0h.6M522.2 279.9h.6M534.2 269.1h.6M521.7 274.4h.6M528.0 276.0h.6M545.8 265.2h.6M526.5 277.7h.6M541.6 264.0h.6M513.2 276.7h.6M543.4 269.3h.6M534.9 273.5h.6M544.1 272.0h.6M543.7 266.5h.6M544.3 269.5h.6M523.5 280.8h.6M536.8 272.9h.6M517.6 280.6h.6M513.9 276.3h.6M526.9 285.7h.6M528.8 283.8h.6M520.9 285.1h.6M535.4 266.6h.6M518.1 285.1h.6M541.5 270.1h.6M541.0 263.4h.6M543.9 266.5h.6M522.5 277.0h.6M522.7 277.6h.6M543.4 267.0h.6M535.6 272.7h.6M529.2 280.6h.6M537.8 270.6h.6M537.0 264.5h.6M532.8 275.9h.6M540.7 265.6h.6M535.5 264.4h.6M527.1 277.0h.6M523.0 276.6h.6M535.2 267.4h.6M546.5 266.0h.6M536.9 271.6h.6M528.5 284.2h.6M517.0 283.8h.6M520.8 274.0h.6M521.3 282.8h.6M523.0 273.7h.6M515.5 279.5h.6M514.5 276.9h.6M534.0 266.7h.6M539.6 271.9h.6M517.2 280.7h.6M531.3 271.0h.6M534.7 273.1h.6M540.8 277.3h.6M541.1 271.8h.6M523.0 284.7h.6M533.3 280.0h.6M541.4 272.3h.6M540.2 277.4h.6M537.8 277.3h.6M515.3 275.8h.6M543.6 269.2h.6M533.8 274.3h.6M538.1 279.2h.6M540.1 266.3h.6M530.5 271.3h.6M539.5 276.1h.6M527.3 280.7h.6M529.5 272.7h.6M530.0 273.9h.6M521.1 283.8h.6M531.2 279.5h.6M532.6 275.5h.6M539.5 277.4h.6M541.2 265.4h.6M535.7 272.0h.6M533.9 276.0h.6M523.5 279.1h.6M516.6 280.2h.6M543.6 264.3h.6M532.5 268.7h.6M540.7 262.5h.6M531.5 278.6h.6M544.9 268.8h.6M535.1 279.6h.6M519.4 277.2h.6M532.5 284.3h.6M524.5 275.7h.6M519.8 279.2h.6M538.1 271.2h.6M535.6 267.6h.6M528.2 283.5h.6M535.4 273.9h.6M517.4 282.6h.6M532.6 284.1h.6M536.6 281.1h.6M531.4 273.2h.6M518.9 283.3h.6M529.8 281.1h.6M517.9 280.3h.6M541.2 271.5h.6M525.6 273.9h.6M538.8 282.3h.6M541.1 270.3h.6M525.0 278.7h.6M543.5 264.9h.6M532.1 273.5h.6M522.5 278.9h.6M540.2 274.8h.6M535.6 284.3h.6M543.5 269.1h.6M541.0 263.1h.6M539.5 275.0h.6M533.0 275.2h.6M538.1 265.2h.6M538.5 268.4h.6M520.3 279.0h.6M526.8 280.1h.6M532.6 275.4h.6M537.3 263.7h.6M521.7 274.5h.6M519.9 285.6h.6M513.3 277.3h.6M532.7 277.0h.6M531.7 279.1h.6M525.3 284.8h.6M520.5 277.2h.6M519.7 282.7h.6M534.2 281.2h.6M533.3 266.3h.6M539.0 282.0h.6M541.5 269.2h.6M534.6 278.4h.6M535.4 270.1h.6M526.0 283.2h.6M534.6 269.1h.6M528.0 276.0h.6M517.8 275.9h.6M521.1 280.4h.6M523.6 278.2h.6M527.9 278.7h.6M532.1 282.0h.6M536.5 281.3h.6M541.4 269.1h.6M531.6 283.1h.6" stroke="#c49acb" stroke-width="0.6"/>
<path d="M540.8 266.6h.6M520.9 283.3h.6M520.8 284.4h.6M533.2 270.2h.6M515.3 281.2h.6M528.2 280.5h.6M512.3 276.8h.6M542.7 267.3h.6M535.1 267.1h.6M525.4 278.1h.6M532.7 275.8h.6M536.1 282.1h.6M534.9 280.0h.6M520.7 274.6h.6M511.2 275.7h.6M529.8 276.4h.6M544.4 271.6h.6M526.7 276.4h.6M536.4 266.3h.6M529.4 270.7h.6M533.8 275.5h.6M517.2 274.7h.6M532.0 275.3h.6M527.2 279.7h.6M537.0 280.4h.6M531.6 282.0h.6M540.8 278.6h.6M539.4 277.4h.6M528.7 282.7h.6M524.1 283.3h.6M542.4 274.3h.6M539.3 263.6h.6M534.4 281.1h.6M516.9 283.3h.6M522.5 277.0h.6M540.6 269.8h.6M539.9 271.3h.6M522.8 283.2h.6M524.8 278.1h.6M517.5 275.3h.6M544.6 269.3h.6M540.5 263.8h.6M533.6 284.7h.6M528.6 285.8h.6M516.5 275.2h.6" stroke="#4b2a84" stroke-width="0.6"/>
<path d="M564.7 257.2h.6M553.5 253.2h.6M566.0 261.6h.6M551.0 260.7h.6M565.3 255.5h.6M553.0 260.1h.6M563.3 264.8h.6M560.0 252.5h.6M561.1 257.8h.6M558.6 247.9h.6M558.4 251.2h.6M554.3 245.7h.6M558.3 260.5h.6M555.1 245.4h.6M558.5 252.6h.6M558.7 249.4h.6M560.1 261.0h.6M551.0 254.8h.6M555.4 263.5h.6M556.6 245.5h.6M558.4 246.2h.6M555.4 259.8h.6M570.8 251.7h.6M557.5 245.6h.6M554.2 250.6h.6M551.1 252.5h.6M566.7 262.1h.6M557.2 251.4h.6M556.8 255.6h.6M556.1 255.4h.6M554.4 252.7h.6M563.2 264.4h.6M558.0 259.7h.6M561.6 257.5h.6M566.7 253.0h.6M551.3 249.1h.6M553.7 250.1h.6M558.2 259.0h.6M560.2 256.6h.6M559.5 252.8h.6M550.3 258.4h.6M554.7 257.6h.6M557.1 256.6h.6M554.4 257.2h.6M567.8 252.6h.6M556.9 253.4h.6M563.7 255.5h.6M561.3 254.4h.6M556.1 254.0h.6M560.6 253.4h.6M567.0 263.3h.6M553.4 259.1h.6M563.8 257.8h.6M554.8 260.4h.6M556.5 252.4h.6M553.5 263.2h.6M557.5 257.0h.6M562.2 262.1h.6M555.3 249.8h.6M556.8 252.1h.6M563.7 255.6h.6M557.7 244.4h.6M563.5 255.6h.6M555.7 253.7h.6M550.8 259.4h.6M551.4 251.0h.6M561.7 257.0h.6M563.8 255.5h.6M561.5 253.1h.6M568.9 251.4h.6M554.1 254.9h.6M571.6 250.6h.6M557.0 248.4h.6M562.7 256.3h.6M567.9 251.9h.6M559.0 263.0h.6M558.0 262.6h.6M555.7 249.6h.6M565.7 258.1h.6M560.7 263.3h.6M554.6 262.8h.6M558.2 245.1h.6M556.6 253.8h.6M553.9 263.4h.6M553.1 251.8h.6M557.5 247.7h.6M564.2 261.2h.6M561.6 259.2h.6M558.4 262.5h.6M565.9 264.4h.6M561.2 256.1h.6M564.6 254.1h.6M563.3 256.3h.6M558.5 252.0h.6M558.3 246.8h.6M552.6 255.4h.6M560.3 258.3h.6M554.4 256.9h.6M555.7 262.9h.6M550.4 250.9h.6M551.2 257.5h.6M554.3 257.3h.6M566.5 253.2h.6M560.0 258.4h.6M571.0 250.9h.6M558.6 247.4h.6M555.1 257.4h.6M550.8 257.2h.6M557.5 254.5h.6M551.3 252.2h.6M558.6 251.5h.6M551.9 259.6h.6M556.2 259.2h.6M558.5 243.5h.6M559.6 261.3h.6M559.1 253.0h.6M562.7 260.7h.6M562.8 263.3h.6M557.9 248.5h.6M558.7 250.3h.6M557.5 247.7h.6M557.7 262.4h.6M550.6 254.3h.6M556.6 263.7h.6M564.1 257.0h.6M562.6 264.8h.6M565.8 264.0h.6M558.8 262.3h.6M564.3 264.0h.6M549.7 253.7h.6M555.3 260.6h.6M564.1 261.8h.6M555.9 248.5h.6M553.2 257.4h.6M558.6 258.5h.6M559.1 246.9h.6M564.4 256.1h.6M561.9 257.7h.6M558.8 253.3h.6M550.2 249.5h.6M561.0 263.9h.6M562.2 253.4h.6M562.5 260.3h.6M554.1 247.4h.6M560.7 258.1h.6M557.7 263.0h.6M558.6 245.4h.6M557.0 258.2h.6M570.5 250.5h.6M552.8 256.8h.6" stroke="#c49acb" stroke-width="0.6"/>
<path d="M564.7 258.8h.6M554.8 250.3h.6M558.0 246.8h.6M557.0 247.4h.6M552.1 261.3h.6M553.4 254.9h.6M552.6 261.6h.6M557.5 255.6h.6M550.1 258.0h.6M556.2 250.7h.6M551.5 256.7h.6M555.5 250.8h.6M564.0 262.4h.6M558.0 251.4h.6M553.4 247.8h.6M557.4 260.7h.6M551.6 257.9h.6M555.3 252.1h.6M557.3 246.5h.6M564.3 254.7h.6M567.9 252.3h.6M553.0 246.6h.6M552.0 247.7h.6M561.9 263.7h.6M554.7 261.1h.6M556.6 257.2h.6M555.2 259.7h.6M555.0 250.5h.6M557.7 258.0h.6M562.8 261.6h.6M566.9 254.2h.6M556.3 258.4h.6M552.8 252.1h.6M552.0 253.4h.6M567.3 264.2h.6M554.5 249.1h.6M554.3 252.7h.6M553.7 261.1h.6M558.6 262.0h.6M553.6 261.4h.6M553.1 249.0h.6M561.7 254.5h.6M565.6 254.4h.6M564.8 264.0h.6M563.3 253.6h.6" stroke="#4b2a84" stroke-width="0.6"/>
<path d="M549.3 242.4h.6M551.3 227.4h.6M547.2 223.1h.6M550.2 244.7h.6M553.0 242.5h.6M538.7 220.8h.6M552.8 247.0h.6M549.9 248.5h.6M552.1 243.7h.6M546.5 223.0h.6M548.7 230.1h.6M549.0 246.0h.6M544.6 222.0h.6M548.4 233.5h.6M546.5 227.3h.6M547.4 231.3h.6M547.8 242.6h.6M537.8 219.3h.6M551.6 229.8h.6M550.0 236.2h.6M551.8 244.9h.6M550.1 234.1h.6M549.4 246.2h.6M548.3 230.2h.6M552.5 239.9h.6M549.2 226.6h.6M545.3 221.5h.6M541.5 219.9h.6M552.0 236.5h.6M551.7 240.3h.6M548.6 235.1h.6M547.6 230.1h.6M552.6 243.1h.6M547.6 223.5h.6M552.9 236.3h.6M550.4 241.6h.6M547.3 224.2h.6M550.8 249.1h.6M541.8 220.5h.6M547.4 229.5h.6M551.2 237.0h.6M550.4 235.2h.6M551.7 244.9h.6M550.0 224.5h.6M550.7 235.6h.6M551.8 235.5h.6M547.4 242.0h.6M548.0 229.1h.6M549.6 235.7h.6M548.0 226.8h.6M546.8 229.2h.6M549.9 233.8h.6M540.7 220.5h.6M546.4 222.3h.6M547.5 226.0h.6M548.6 236.5h.6M548.9 239.5h.6M547.3 236.5h.6M547.3 239.0h.6M542.1 221.3h.6M546.6 234.2h.6M548.6 236.5h.6M542.6 222.2h.6M541.2 220.1h.6M547.8 230.4h.6M549.3 227.2h.6M547.8 244.4h.6M553.1 244.8h.6M546.1 221.8h.6M550.5 238.1h.6M547.6 243.7h.6M540.7 220.2h.6M548.6 246.9h.6M552.8 237.9h.6M548.7 234.5h.6M548.8 232.0h.6M549.2 230.7h.6M552.7 235.6h.6M548.5 235.3h.6M548.4 225.7h.6M547.6 240.8h.6M550.7 233.0h.6M553.8 247.3h.6M550.0 249.0h.6M551.8 233.9h.6M542.5 220.8h.6M548.6 239.6h.6M548.2 230.6h.6M552.5 233.6h.6M547.3 241.0h.6M552.7 233.8h.6M552.1 229.4h.6M551.3 232.7h.6M552.3 233.3h.6M545.7 225.5h.6M547.0 226.8h.6M547.1 222.7h.6M551.7 231.0h.6M549.7 248.3h.6M549.1 228.4h.6M549.0 234.3h.6M549.8 240.9h.6M547.3 235.2h.6M549.3 243.2h.6M552.5 247.3h.6M548.3 244.5h.6M550.3 249.5h.6M550.7 228.1h.6M543.9 221.2h.6M547.9 224.7h.6M550.4 242.3h.6M548.0 243.9h.6M539.3 219.7h.6M550.1 229.9h.6M543.3 221.7h.6M550.6 236.6h.6M550.0 228.1h.6M546.8 222.4h.6M549.7 234.6h.6M550.9 247.1h.6M551.1 243.1h.6M550.2 225.1h.6M551.3 228.8h.6M543.6 222.9h.6M552.5 242.2h.6M548.7 227.7h.6M547.8 237.1h.6M540.1 220.1h.6M538.3 220.0h.6M546.7 228.5h.6M550.8 243.6h.6M551.6 249.1h.6M550.7 235.3h.6M546.6 229.9h.6M547.9 245.3h.6M547.7 223.3h.6M547.6 238.1h.6M549.4 241.1h.6M546.5 226.6h.6M547.6 224.4h.6M548.1 223.6h.6M552.3 245.0h.6M548.5 232.5h.6M552.2 248.1h.6M541.0 220.8h.6M549.0 244.8h.6M551.5 227.7h.6M552.7 241.5h.6M546.4 225.9h.6M549.9 237.6h.6" stroke="#c49acb" stroke-width="0.6"/>
<path d="M548.1 227.6h.6M538.5 220.2h.6M552.3 242.9h.6M545.7 222.6h.6M547.7 240.2h.6M549.5 226.6h.6M547.4 236.7h.6M548.2 227.0h.6M546.6 232.1h.6M552.2 231.7h.6M550.9 244.3h.6M551.9 234.6h.6M547.4 241.0h.6M547.1 231.7h.6M552.0 240.6h.6M550.7 240.0h.6M551.6 236.1h.6M550.5 242.1h.6M552.0 245.7h.6M551.8 238.1h.6M548.6 242.1h.6M549.3 228.8h.6M546.8 234.5h.6M546.9 227.7h.6M547.4 222.6h.6M548.8 238.3h.6M550.9 235.9h.6M547.7 237.9h.6M544.0 221.4h.6M549.6 240.2h.6M552.9 234.7h.6M546.2 228.2h.6M552.1 241.0h.6M548.9 234.5h.6M551.4 240.5h.6M550.9 245.1h.6M547.1 233.3h.6M548.7 233.0h.6M548.8 235.5h.6M552.2 232.6h.6M548.7 241.2h.6M552.2 247.8h.6M551.8 232.5h.6M552.3 243.9h.6M548.4 240.1h.6" stroke="#4b2a84" stroke-width="0.6"/>
<path d="M517.8 264.3h.6M513.1 236.6h.6M512.1 267.6h.6M515.6 259.0h.6M504.2 258.0h.6M515.8 258.3h.6M506.6 242.1h.6M506.0 255.4h.6M507.0 269.4h.6M518.0 255.3h.6M517.8 249.8h.6M505.5 271.4h.6M504.6 250.6h.6M511.8 274.7h.6M508.5 260.6h.6M505.4 253.8h.6M510.0 252.3h.6M503.1 253.1h.6M515.4 274.3h.6M519.3 255.3h.6M503.1 267.0h.6M517.8 240.8h.6M508.9 251.7h.6M515.0 236.3h.6M516.0 260.8h.6M510.3 265.0h.6M505.3 250.7h.6M519.4 260.5h.6M511.7 261.9h.6M501.2 262.2h.6M502.1 255.6h.6M508.5 236.0h.6M509.1 247.4h.6M508.0 264.4h.6M505.1 262.8h.6M505.3 268.4h.6M516.4 237.8h.6M514.4 269.4h.6M515.3 253.5h.6M502.1 255.9h.6M503.6 253.3h.6M506.3 263.4h.6M510.7 240.6h.6M507.5 250.8h.6M518.9 250.4h.6M508.2 257.2h.6M506.9 252.6h.6M509.3 269.2h.6M515.1 253.0h.6M498.0 254.9h.6M517.9 270.2h.6M509.0 259.3h.6M507.6 271.9h.6M509.7 274.7h.6M501.7 252.2h.6M511.5 260.4h.6M513.5 244.0h.6M506.0 262.1h.6M516.6 240.7h.6M518.5 266.1h.6M513.2 275.4h.6M513.3 253.3h.6M506.6 270.5h.6M518.8 242.0h.6M508.2 272.3h.6M516.0 246.3h.6M506.6 265.5h.6M504.6 270.3h.6M514.1 268.6h.6M506.5 270.2h.6M514.9 246.5h.6M514.7 270.2h.6M507.5 269.8h.6M509.3 241.6h.6M517.5 252.5h.6M502.0 247.5h.6M511.9 245.1h.6M510.6 253.6h.6M510.4 269.6h.6M515.9 245.1h.6M520.1 248.5h.6M508.2 269.3h.6M512.7 272.4h.6M503.7 256.3h.6M515.4 242.7h.6M509.7 234.5h.6M514.1 250.1h.6M513.5 254.2h.6M513.5 261.9h.6M501.7 252.0h.6" stroke="#c49acb" stroke-width="0.6"/>
<path d="M513.1 250.7h.6M511.6 255.3h.6M511.9 239.3h.6M506.1 239.3h.6M513.5 259.5h.6M509.8 236.1h.6M508.8 249.0h.6M504.7 254.0h.6M512.4 266.4h.6M511.3 242.5h.6M520.0 248.3h.6M508.9 262.6h.6M517.8 240.7h.6M514.9 268.0h.6M512.6 260.4h.6M513.0 273.8h.6M510.4 256.4h.6M499.2 258.7h.6M509.4 233.0h.6M511.1 271.5h.6M512.7 250.8h.6M511.1 255.5h.6M505.8 239.8h.6M515.2 236.6h.6M512.1 265.1h.6M503.1 253.1h.6M517.7 247.8h.6M507.6 237.5h.6M512.0 270.5h.6M501.4 250.3h.6M510.3 255.9h.6M512.3 270.6h.6M506.1 236.9h.6M517.6 255.6h.6M501.5 264.2h.6M508.6 261.6h.6M505.6 237.9h.6M513.0 252.8h.6M505.6 251.0h.6M510.0 265.0h.6M516.3 242.6h.6M513.1 254.1h.6M517.5 269.5h.6M518.5 257.3h.6M499.9 260.9h.6M508.0 265.5h.6M516.6 266.3h.6M509.8 255.0h.6M514.5 250.5h.6M503.4 247.1h.6M500.6 258.1h.6M517.1 265.3h.6M505.9 251.8h.6M518.0 255.4h.6M506.8 266.6h.6M518.4 265.4h.6M507.2 266.7h.6M515.8 263.6h.6M512.1 242.1h.6M516.5 262.1h.6M518.3 243.7h.6M517.7 244.8h.6M512.8 255.9h.6M516.5 269.8h.6M513.8 238.0h.6M511.8 238.7h.6M516.4 263.4h.6M509.7 239.6h.6M512.9 264.0h.6M516.4 251.4h.6M516.0 265.9h.6M511.9 269.1h.6M512.7 248.5h.6M501.3 262.8h.6M513.2 276.0h.6M503.7 246.6h.6M510.5 250.8h.6M513.8 257.2h.6M509.6 257.6h.6M503.2 258.5h.6M515.8 273.3h.6M517.0 238.2h.6M510.0 267.2h.6M513.2 272.8h.6M498.5 257.6h.6M516.2 249.8h.6M504.4 254.3h.6M518.9 243.9h.6M503.0 260.3h.6M517.6 241.7h.6M506.3 251.0h.6M504.1 246.2h.6M512.1 250.4h.6M518.2 250.0h.6M505.3 264.9h.6M515.0 270.2h.6M505.4 256.8h.6M517.0 259.2h.6M516.7 264.4h.6M510.9 271.0h.6M507.6 240.8h.6M516.1 246.6h.6M500.4 251.4h.6M500.4 258.3h.6M513.4 266.0h.6M501.3 253.3h.6M513.7 258.4h.6M512.4 244.2h.6M515.1 240.8h.6M508.0 251.1h.6M508.4 272.4h.6M505.1 258.5h.6M516.3 263.5h.6M511.1 253.5h.6M505.7 258.6h.6M513.3 237.1h.6M506.8 271.0h.6M517.9 255.9h.6M508.0 258.2h.6M506.7 238.1h.6M510.5 274.3h.6M513.6 270.2h.6M505.9 270.1h.6M512.9 266.7h.6M509.4 244.3h.6M505.8 245.0h.6M514.8 235.8h.6M508.6 269.0h.6M519.5 252.9h.6M500.0 256.5h.6M516.7 267.6h.6M507.5 242.3h.6M506.5 255.5h.6M511.5 248.6h.6M515.3 258.7h.6M505.9 240.2h.6M514.3 238.2h.6M514.1 255.4h.6M516.5 243.5h.6M517.1 264.7h.6M507.7 267.3h.6M517.4 272.5h.6M511.4 249.6h.6M510.6 242.6h.6M503.9 263.0h.6M508.5 251.1h.6M512.0 266.9h.6M506.4 259.2h.6M513.9 255.9h.6M515.3 249.5h.6M508.5 265.3h.6M501.7 257.2h.6M514.4 255.2h.6M507.0 256.7h.6M506.8 240.9h.6M507.3 259.3h.6M513.0 252.7h.6M508.9 234.4h.6M515.0 241.6h.6M500.9 264.2h.6" stroke="#4b2a84" stroke-width="0.6"/>
<path d="M505.6 247.2h.8M506.1 242.2h.8M505.7 247.7h.8M507.2 242.1h.8M507.8 243.2h.8M505.9 243.8h.8M507.4 246.3h.8M508.5 246.8h.8M506.3 243.8h.8M507.6 247.5h.8M505.8 245.5h.8M508.0 245.1h.8M507.7 248.6h.8M508.7 244.7h.8M504.9 241.4h.8M507.3 241.1h.8M508.0 244.7h.8M507.2 244.1h.8M507.9 244.3h.8M507.1 245.1h.8M506.1 243.3h.8M506.7 243.5h.8M505.1 241.2h.8M506.7 244.4h.8M506.8 248.8h.8M507.0 240.8h.8M506.5 244.3h.8M507.0 242.8h.8M505.7 245.3h.8M506.1 241.4h.8M506.8 248.3h.8M508.4 243.3h.8M507.9 244.3h.8M506.1 246.8h.8M507.6 247.3h.8M506.4 245.5h.8M505.9 243.5h.8M506.9 248.4h.8M506.7 245.3h.8M509.7 248.1h.8M509.4 246.8h.8M506.5 242.2h.8" stroke="#ffffff" stroke-width="0.8"/>
<path d="M509.3 250.5h.8M517.1 249.0h.8M519.5 249.8h.8M519.1 249.4h.8M509.9 249.6h.8M518.6 248.6h.8M517.8 249.0h.8M518.7 248.7h.8M519.6 247.9h.8M508.3 250.8h.8M512.3 250.6h.8M518.2 249.5h.8M509.4 250.7h.8M514.4 250.4h.8M508.3 249.9h.8M515.9 248.1h.8M509.4 251.6h.8M513.6 249.2h.8M514.9 249.7h.8M518.0 249.2h.8M513.0 249.5h.8M518.9 249.4h.8M510.5 249.6h.8M512.6 251.2h.8M518.3 249.2h.8M516.7 249.7h.8M518.3 249.8h.8M515.4 248.2h.8M517.7 247.8h.8M513.1 248.7h.8M515.6 248.6h.8M509.2 249.6h.8M516.5 250.0h.8M518.9 249.1h.8M520.0 248.6h.8M509.5 250.8h.8M510.4 249.4h.8M516.2 249.1h.8M516.7 248.8h.8M512.7 250.1h.8M511.5 249.9h.8M510.7 250.3h.8M509.4 249.1h.8M515.5 248.5h.8M516.1 249.7h.8M516.4 249.6h.8M509.3 250.0h.8M517.5 248.9h.8" stroke="#ffffff" stroke-width="0.8"/>
<path d="M517.1 243.1h.8M517.5 244.0h.8M519.0 247.5h.8M517.1 245.0h.8M518.9 244.5h.8M517.5 244.2h.8M518.5 243.7h.8M519.6 246.0h.8M516.9 243.4h.8M518.7 243.0h.8M516.4 243.1h.8M518.6 246.2h.8M519.0 247.5h.8M517.7 245.1h.8M518.8 247.7h.8M518.1 247.7h.8M518.7 246.7h.8M518.2 243.5h.8" stroke="#ffffff" stroke-width="0.8"/>
<path d="M508.5 242.7h.7M506.7 241.5h.7M509.2 242.5h.7M517.0 248.1h.7M517.4 247.6h.7M519.0 246.8h.7M513.5 244.8h.7M511.6 243.5h.7M507.9 242.4h.7M516.4 250.7h.7M512.1 243.5h.7M504.9 241.0h.7M506.8 241.4h.7M516.8 246.6h.7M511.4 244.5h.7M519.9 248.8h.7M515.8 249.5h.7M515.1 246.2h.7" stroke="#c49acb" stroke-width="0.7"/>
<path d="M520.7 254.6h.8M520.7 264.2h.8M520.0 260.1h.8M517.8 260.0h.8M517.7 265.3h.8M518.0 256.0h.8M519.3 260.3h.8M520.1 259.9h.8M521.5 265.8h.8M517.1 262.0h.8M518.4 260.4h.8M521.1 264.1h.8M519.3 259.5h.8M520.3 271.8h.8M520.4 253.8h.8M519.1 262.6h.8M521.2 255.9h.8M521.1 257.8h.8M519.3 254.5h.8M519.5 261.4h.8M519.7 261.9h.8M518.6 265.5h.8M516.0 252.1h.8M518.7 252.0h.8M520.7 256.6h.8M520.7 263.0h.8M517.9 255.0h.8M518.0 259.2h.8M519.1 257.8h.8M520.0 264.1h.8M519.1 260.9h.8M518.8 266.4h.8M517.5 253.1h.8M521.0 259.8h.8M521.0 258.8h.8M520.4 254.4h.8M516.4 269.6h.8M521.0 266.3h.8M520.1 265.9h.8M521.3 256.1h.8M519.2 256.9h.8M520.4 269.1h.8M518.7 266.6h.8M518.0 263.9h.8M518.8 266.4h.8M517.5 254.4h.8M518.4 258.1h.8M520.8 257.4h.8M519.8 269.9h.8M517.9 258.3h.8M519.8 253.0h.8M521.4 253.9h.8M519.6 255.5h.8M519.2 259.5h.8M515.1 272.4h.8M517.3 266.9h.8M519.1 263.5h.8M517.7 273.1h.8M520.4 257.1h.8M518.3 249.7h.8M519.0 251.7h.8M517.4 270.2h.8M518.9 263.2h.8M517.9 261.7h.8M519.9 258.7h.8M518.9 269.8h.8" stroke="#ffffff" stroke-width="0.8"/>
<path d="M519.8 278.2h.9M521.6 278.8h.9M523.2 278.6h.9M519.5 278.7h.9M521.7 276.7h.9M522.6 278.1h.9M519.8 274.3h.9M519.3 275.3h.9M519.0 275.7h.9M523.2 276.4h.9M522.0 279.4h.9M521.4 277.3h.9M521.7 279.0h.9M520.3 275.6h.9M523.4 276.5h.9M521.9 275.4h.9M519.4 276.9h.9M520.2 275.2h.9M519.5 274.9h.9M519.7 277.9h.9M521.7 275.9h.9M521.4 276.0h.9M519.0 275.7h.9M521.8 277.9h.9M523.5 275.8h.9M523.1 277.1h.9M520.2 279.3h.9M520.1 277.0h.9M521.2 275.1h.9M521.1 275.6h.9M520.5 274.2h.9M519.3 277.6h.9M520.4 277.9h.9M520.1 278.6h.9M522.3 278.7h.9M521.1 275.7h.9M522.0 275.7h.9M522.8 278.7h.9M521.0 276.7h.9M522.8 275.8h.9M522.0 278.9h.9M522.7 278.5h.9M521.7 274.1h.9M520.2 275.9h.9M522.0 275.1h.9M520.3 277.3h.9M520.5 278.6h.9M523.4 277.8h.9M521.5 275.7h.9M521.3 274.4h.9M520.9 279.5h.9M523.4 275.4h.9M521.4 273.9h.9M523.3 277.8h.9" stroke="#ffffff" stroke-width="0.9"/>
<path d="M518.2 272.4h.8M520.5 272.9h.8M520.1 272.4h.8M519.7 271.7h.8M519.7 273.3h.8M520.2 272.4h.8M519.0 271.9h.8M519.6 274.1h.8M521.1 272.8h.8M519.4 271.7h.8M518.5 272.6h.8M518.2 273.1h.8M518.6 272.8h.8M519.4 273.4h.8M519.7 273.2h.8" stroke="#ffffff" stroke-width="0.8"/>
<path d="M527.3 264.4h.7M529.7 253.0h.7M526.4 264.4h.7M519.4 265.6h.7M521.9 270.8h.7M522.0 265.5h.7M528.7 254.5h.7M532.4 257.9h.7M532.0 264.1h.7M520.9 271.8h.7M522.7 252.7h.7M522.2 257.5h.7M531.1 266.2h.7M531.1 258.4h.7M522.6 272.8h.7M526.7 266.1h.7M522.5 267.8h.7M526.3 254.2h.7M524.3 266.8h.7M518.4 268.4h.7M526.2 265.6h.7M531.0 257.8h.7M521.8 259.8h.7M521.0 261.8h.7M525.7 261.0h.7M533.7 256.0h.7M525.5 259.9h.7M523.9 254.4h.7M526.7 252.2h.7M521.0 272.1h.7M523.8 255.2h.7M531.1 256.2h.7M520.1 265.2h.7M519.2 268.6h.7M526.8 262.5h.7M534.3 257.6h.7M521.4 268.4h.7M528.6 259.5h.7M522.3 267.1h.7M518.7 271.7h.7M522.9 268.1h.7M528.8 266.1h.7M519.2 265.8h.7M529.2 263.0h.7M526.2 264.2h.7M534.3 264.5h.7M533.5 257.1h.7M535.3 262.5h.7M527.3 263.3h.7M529.6 266.1h.7M520.2 260.4h.7M519.3 271.1h.7M520.5 261.2h.7M521.1 260.7h.7M522.4 252.5h.7M519.8 269.9h.7M523.7 263.6h.7M522.1 257.0h.7M521.2 252.7h.7M522.5 262.8h.7M523.8 255.1h.7M528.8 261.7h.7M529.2 265.7h.7M532.5 254.6h.7M520.7 257.9h.7M520.4 254.4h.7M520.5 252.1h.7M523.6 270.6h.7M523.0 257.6h.7M520.3 263.9h.7M521.5 271.4h.7M534.5 261.1h.7" stroke="#ffffff" stroke-width="0.7"/>
<path d="M521.3 248.5h.7M521.3 246.9h.7M521.9 247.4h.7M523.8 246.5h.7M522.9 249.3h.7M522.0 248.1h.7M521.9 248.9h.7M523.5 248.8h.7M522.0 249.1h.7M521.9 248.2h.7M521.2 247.5h.7M523.2 247.4h.7M523.0 247.7h.7M522.2 246.3h.7M523.4 247.3h.7M523.3 248.2h.7M522.9 246.9h.7M520.1 247.8h.7M523.9 248.0h.7M521.4 248.7h.7M520.8 246.6h.7" stroke="#c49acb" stroke-width="0.7"/>
<path d="M548.4 241.5h.6M550.0 250.1h.6M552.3 230.2h.6M539.2 220.7h.6M552.5 246.9h.6M548.9 224.8h.6M544.3 221.9h.6M542.4 221.6h.6M551.1 229.3h.6M549.1 249.7h.6M552.1 249.1h.6M538.7 220.8h.6M539.2 219.3h.6M550.7 229.6h.6M551.4 227.9h.6M551.2 243.5h.6M550.2 250.1h.6M551.4 230.3h.6M548.8 230.6h.6M549.3 240.3h.6M549.9 225.9h.6M546.8 231.4h.6M551.6 229.9h.6M548.5 247.5h.6M549.6 235.9h.6M540.4 219.6h.6M550.8 231.5h.6M551.9 230.2h.6M547.7 241.4h.6M547.9 241.9h.6" stroke="#ffffff" stroke-width="0.6"/>
<path d="M624.13 251.35 L627.44 252.27 L631.66 251.66 L635.88 251.35 L638 252.57 L639.54 255.32 L640.32 260.87 L641.16 263.62 L637.15 265.7 L633.91 267.83 L632.01 270.58 L628 272.66 L624.06 274.06 L622.44 271.92 L623.21 267.1 L624.06 261.55 L624.06 255.99 L624.27 253.18 Z" fill="#be1e2f" stroke="#be1e2f" stroke-width="0.3"/>
<path d="M631.52 250.44 L632.72 249.09 L633.91 248.66 L637.15 248.36 L638.7 245.55 L641.94 244.15 L645.95 244.88 L649.96 245.92 L652.36 246.96 L653.98 249.76 L654.33 255.32 L653.98 260.14 L653.13 264.35 L651.58 266.43 L649.26 264.17 L645.18 262.22 L641.16 263.62 L640.32 260.87 L639.54 255.32 L637.15 251.35 L633.77 251.35 L632.36 251.66 Z" fill="#be1e2f" stroke="#be1e2f" stroke-width="0.3"/>
<path d="M614.41 232.67 L617.44 233.46 L619.83 235.29 L621.59 237.92 L623.14 240.48 L624.06 243.11 L624.62 245.73 L624.9 248.3 L625.25 250.44 L624.48 253.18 L624.06 255.99 L624.06 261.55 L623.21 267.1 L622.44 271.92 L620.82 274.73 L618.42 276.14 L614.41 275.4 L611.17 273.33 L608.78 269.85 L605.61 265.03 L603.22 260.14 L601.6 255.99 L601.81 255.01 L602.66 254.59 L604.2 251.96 L605.68 249.34 L607.16 246.22 L608.43 244.15 L609.27 241.03 L609.91 238.41 L610.82 235.78 L612.58 233.46 Z" fill="#e39aa8" stroke="#e39aa8" stroke-width="0.3"/>
<path d="M611.17 273.33 L614.41 275.4 L618.42 276.14 L620.82 274.73 L624.06 274.06 L628 272.66 L632.01 270.58 L634.48 267.1 L637.64 265.7 L641.16 263.62 L645.18 262.22 L649.26 262.95 L651.58 266.43 L653.13 264.35 L653.48 265.09 L651.09 268.02 L647.08 274.98 L644.68 281.94 L640.67 285.42 L638.49 285.84 L634.48 286.21 L630.46 285.84 L626.45 285.17 L623.21 285.84 L620.04 282.36 L619.2 278.88 L616.03 276.14 Z" fill="#be1e2f" stroke="#be1e2f" stroke-width="0.3"/>
<path d="M641.38 219.24 L643.91 218.99 L646.87 219.91 L650.53 221.56 L653.48 223.45 L655.74 225.47 L656.79 229.31 L657.57 234.38 L657.57 240.12 L657.92 244.64 L658.62 247.14 L657.14 250.13 L653.48 250.13 L652.43 245.25 L651.65 240.12 L651.3 235.05 L650.95 231.2 L650.67 227.54 L649.61 224.79 L647.5 222.35 L645.04 221.01 L642.57 220.83 Z" fill="#be1e2f" stroke="#be1e2f" stroke-width="0.3"/>
<path d="M653.91 249.52 L657.29 246.59 L659.96 244.88 L661.3 243.72 L663.97 242.87 L665.31 243.41 L664.61 246.59 L663.27 249.52 L663.62 251.84 L666.65 253.3 L669.96 252.69 L673.34 250.98 L676.01 249.52 L676.65 250.37 L674.67 253 L672 254.71 L669.96 256.48 L670.66 259.96 L672.98 262.28 L672.63 263.99 L669.32 265.15 L665.94 264.9 L662.64 263.99 L658.62 263.44 L655.95 262.28 L654.61 259.96 L654.26 255.32 Z" fill="#be1e2f" stroke="#be1e2f" stroke-width="0.3"/>
<path d="M644.75 221.19 L646.3 221.44 L647.29 225.1 L647.99 229.98 L647.01 230.47 L645.88 225.71 L644.9 222.66 Z" fill="#be1e2f" stroke="#be1e2f" stroke-width="0.3"/>
<path d="M614.41 232.67 L617.44 233.46 L619.83 235.29 L621.59 237.92 L623.14 240.48 L624.06 243.11 L624.62 245.73 L621.1 246.22 L617.58 245.49 L614.06 246.16 L610.54 245.98 L607.44 245.86 L608.43 244.15 L609.27 241.03 L609.91 238.41 L610.82 235.78 L612.58 233.46 Z" fill="#b8172b"/>
<path d="M639.8 256.2h.6M632.0 272.2h.6M635.2 250.3h.6M623.5 261.5h.6M640.3 260.6h.6M623.1 262.4h.6M633.1 251.5h.6M628.8 251.4h.6M633.7 250.2h.6M628.6 251.7h.6M640.5 262.2h.6M623.9 251.9h.6M630.0 251.1h.6M622.8 273.0h.6M625.9 249.8h.6M623.7 261.3h.6M630.2 251.6h.6M627.8 274.4h.6M640.4 261.7h.6M623.4 263.1h.6M642.9 263.2h.6M633.7 251.3h.6M631.3 271.7h.6M640.4 262.1h.6M623.3 258.0h.6M623.0 263.6h.6M640.6 259.8h.6M624.2 250.5h.6M639.8 257.5h.6M640.3 254.3h.6M635.5 266.8h.6M640.2 261.5h.6M624.0 250.3h.6M633.6 268.0h.6M631.7 271.8h.6M626.3 252.0h.6M622.9 258.9h.6M623.1 274.2h.6M622.9 267.1h.6M623.7 256.5h.6M632.1 249.9h.6M623.1 261.4h.6M633.5 250.4h.6M622.2 259.5h.6M627.7 272.6h.6M622.4 257.7h.6M621.9 272.1h.6M622.1 266.1h.6M640.4 259.3h.6M638.6 254.0h.6M626.8 252.1h.6M630.7 251.4h.6M640.6 260.3h.6M621.7 270.4h.6M637.2 265.6h.6M641.6 263.5h.6M623.2 263.4h.6M639.3 255.7h.6M622.8 264.3h.6M625.7 273.4h.6M621.9 266.0h.6M622.1 258.0h.6M633.5 268.4h.6M621.8 271.2h.6M634.3 251.3h.6M623.5 255.6h.6M639.8 255.9h.6M626.8 251.4h.6M638.2 253.2h.6M635.2 250.3h.6M622.1 270.9h.6M623.0 274.4h.6M634.5 267.3h.6M630.0 271.9h.6M626.8 251.2h.6M629.2 250.4h.6M632.4 270.3h.6M639.5 257.2h.6M634.6 251.1h.6M637.6 267.5h.6M622.5 272.9h.6M623.3 259.4h.6M640.3 261.6h.6M641.4 261.3h.6M622.7 259.0h.6M639.8 258.8h.6M640.6 264.1h.6M637.3 266.8h.6M632.4 251.2h.6M623.2 264.7h.6M623.9 253.4h.6M622.9 266.3h.6M639.6 256.8h.6M628.0 252.0h.6M625.6 275.1h.6M623.0 259.8h.6M640.4 261.8h.6M633.0 270.3h.6M621.3 272.7h.6M638.5 264.9h.6M634.5 268.1h.6M634.9 251.0h.6M639.3 252.2h.6M621.2 270.6h.6M635.5 266.7h.6M638.1 252.5h.6M639.8 265.7h.6M640.5 262.2h.6M640.5 260.7h.6M634.9 251.3h.6M634.5 267.2h.6M638.0 266.0h.6M639.4 255.4h.6M638.1 253.2h.6M623.0 253.7h.6M636.8 266.0h.6M635.5 267.1h.6M641.0 262.4h.6M621.9 261.8h.6M637.1 266.4h.6M622.9 258.7h.6M639.4 255.0h.6M629.8 251.6h.6M622.2 268.0h.6M623.1 258.9h.6M632.8 270.6h.6M623.6 254.6h.6M641.1 264.3h.6M629.7 271.8h.6" stroke="#be1e2f" stroke-width="0.6"/>
<path d="M633.9 248.5h.6M645.8 244.3h.6M653.8 259.2h.6M636.5 247.1h.6M647.8 264.3h.6M651.5 266.8h.6M654.1 258.6h.6M654.2 258.4h.6M654.2 248.5h.6M654.2 261.2h.6M640.2 263.3h.6M653.9 253.0h.6M645.2 263.0h.6M649.5 245.1h.6M646.3 263.7h.6M638.6 254.9h.6M645.6 263.2h.6M653.6 248.8h.6M654.2 262.0h.6M633.6 248.5h.6M653.6 260.7h.6M653.8 260.7h.6M632.2 251.7h.6M650.6 266.1h.6M639.6 244.8h.6M653.0 248.0h.6M635.3 248.4h.6M648.3 245.4h.6M632.9 248.6h.6M655.1 263.0h.6M633.8 248.3h.6M644.7 244.6h.6M654.9 254.5h.6M656.1 261.2h.6M637.3 247.5h.6M634.8 252.1h.6M637.0 251.7h.6M647.9 264.2h.6M652.0 265.8h.6M648.1 244.5h.6M639.7 260.1h.6M638.0 245.3h.6M653.3 264.1h.6M653.4 261.4h.6M652.5 246.4h.6M637.9 246.2h.6M654.1 259.1h.6M648.3 245.1h.6M633.0 251.5h.6M653.7 263.9h.6M645.4 262.6h.6M652.9 264.9h.6M654.4 262.2h.6M637.6 252.6h.6M651.3 266.5h.6M651.8 246.4h.6M648.0 244.7h.6M631.5 250.1h.6M641.7 263.8h.6M652.4 265.1h.6M654.8 252.4h.6M649.7 265.6h.6M641.6 263.5h.6M651.3 266.7h.6M633.3 248.1h.6M635.4 248.1h.6M637.4 246.5h.6M655.0 248.5h.6M638.5 262.5h.6M645.9 263.5h.6M654.2 255.6h.6M635.6 251.4h.6M653.5 249.2h.6M654.8 261.2h.6M639.0 256.1h.6M649.5 245.6h.6M655.0 257.1h.6M635.8 248.2h.6M643.7 244.2h.6M654.3 257.7h.6M638.7 261.8h.6M637.1 246.3h.6M635.8 247.9h.6M653.9 259.3h.6M651.1 266.2h.6M654.1 259.9h.6M651.1 246.5h.6M638.7 255.9h.6M636.3 245.3h.6M653.6 263.7h.6M632.2 248.6h.6M637.6 246.0h.6M644.5 262.9h.6M639.6 259.3h.6M654.0 249.8h.6M634.6 248.4h.6M631.2 250.8h.6M644.6 243.6h.6M634.8 248.3h.6M636.4 247.0h.6M635.4 252.6h.6M652.5 265.1h.6M654.5 252.8h.6M639.1 255.3h.6M636.4 252.8h.6M654.0 260.4h.6M637.3 254.2h.6M638.4 242.9h.6M639.2 256.8h.6M655.7 252.5h.6M645.2 244.5h.6M637.4 247.2h.6M653.2 265.8h.6M634.8 252.0h.6M654.1 250.7h.6M641.6 242.9h.6M641.4 263.5h.6M652.0 245.7h.6M653.8 249.9h.6M639.6 259.5h.6M646.2 244.9h.6M643.3 243.8h.6M655.1 251.6h.6M644.1 263.1h.6M639.1 257.0h.6M653.9 256.9h.6M643.6 263.3h.6M640.3 263.7h.6M643.7 264.0h.6M653.9 261.9h.6M653.6 264.6h.6M652.1 246.3h.6M654.3 254.0h.6M644.5 262.4h.6M652.1 265.6h.6M639.3 256.1h.6M640.3 243.5h.6M638.0 245.7h.6M651.2 266.7h.6" stroke="#be1e2f" stroke-width="0.6"/>
<path d="M609.4 239.0h.6M608.4 270.8h.6M620.5 274.8h.6M620.2 234.5h.6M610.6 233.9h.6M621.3 273.6h.6M609.6 237.9h.6M604.8 248.8h.6M622.8 239.5h.6M609.8 272.6h.6M601.0 255.6h.6M605.3 265.4h.6M624.2 264.2h.6M625.2 247.7h.6M605.9 266.0h.6M625.3 262.1h.6M607.4 245.3h.6M609.4 272.2h.6M621.7 238.0h.6M611.7 232.7h.6M623.3 267.9h.6M604.6 250.6h.6M619.4 275.4h.6M618.7 234.3h.6M608.4 269.8h.6M620.5 275.6h.6M622.8 271.8h.6M600.0 260.6h.6M624.7 262.1h.6M621.0 235.7h.6M605.3 249.0h.6M603.6 263.7h.6M611.1 234.4h.6M608.4 240.9h.6M624.6 248.2h.6M618.8 234.5h.6M625.6 250.5h.6M619.7 275.6h.6M623.8 260.7h.6M624.1 260.4h.6M623.4 265.9h.6M607.6 244.8h.6M609.3 238.9h.6M618.8 277.3h.6M603.1 253.0h.6M609.6 271.8h.6M615.2 232.8h.6M608.3 240.3h.6M602.8 253.7h.6M623.0 266.8h.6M620.7 235.8h.6M610.0 272.5h.6M623.8 256.3h.6M623.6 242.4h.6M602.0 254.2h.6M623.9 242.5h.6M606.2 247.1h.6M614.4 232.4h.6M607.2 244.6h.6M624.1 243.9h.6M624.5 246.4h.6M624.1 256.7h.6M603.0 261.1h.6M621.4 237.2h.6M623.4 241.9h.6M624.9 257.2h.6M625.0 255.7h.6M624.9 252.5h.6M623.5 239.1h.6M601.4 261.1h.6M623.6 270.3h.6M605.2 248.9h.6M626.1 254.8h.6M616.2 277.0h.6M622.5 238.2h.6M623.1 266.6h.6M623.9 262.9h.6M612.0 274.2h.6M605.7 267.2h.6M623.2 270.1h.6M625.1 242.7h.6M621.3 273.5h.6M606.4 245.6h.6M623.7 242.5h.6M625.3 248.4h.6M603.3 252.6h.6M609.5 238.1h.6M611.1 232.8h.6M621.3 237.9h.6M603.3 252.4h.6M619.6 235.2h.6M615.8 232.6h.6M603.4 261.8h.6M624.6 257.2h.6M606.3 244.9h.6M605.1 249.3h.6M620.9 236.2h.6M605.4 245.4h.6M602.6 252.4h.6M610.7 273.2h.6M607.0 245.9h.6M621.7 272.8h.6M624.7 262.5h.6M624.4 242.1h.6M624.2 262.0h.6M620.2 275.0h.6M615.3 276.0h.6M608.6 242.2h.6M620.9 274.1h.6M623.3 270.9h.6M624.9 252.4h.6M604.0 264.9h.6M615.0 232.3h.6M623.5 242.1h.6M621.6 272.9h.6M604.2 251.3h.6M616.5 233.2h.6M610.9 273.8h.6M600.0 254.8h.6M620.5 274.8h.6M624.6 266.7h.6M604.0 249.2h.6M624.1 243.4h.6M618.9 233.3h.6M624.0 261.9h.6M600.7 254.6h.6M606.4 266.9h.6M623.0 271.1h.6M610.5 235.9h.6M624.7 262.9h.6M606.3 267.6h.6M618.4 233.9h.6M624.1 255.6h.6M620.6 275.0h.6M617.5 276.0h.6M609.6 273.9h.6M623.6 264.5h.6M610.3 236.1h.6M602.1 261.4h.6M607.2 245.5h.6M605.0 264.6h.6M605.3 265.7h.6M622.7 271.4h.6M603.0 261.0h.6M604.2 264.4h.6M623.8 260.3h.6M608.2 243.2h.6M609.0 240.5h.6M623.7 262.1h.6M623.7 262.5h.6M604.5 265.4h.6M604.3 263.6h.6M626.5 243.8h.6M625.1 249.7h.6M609.8 235.4h.6M614.1 276.0h.6M624.9 263.1h.6M624.1 244.4h.6M606.0 245.9h.6M625.4 256.0h.6M608.6 237.8h.6M600.6 255.0h.6M626.4 247.6h.6M611.1 231.9h.6M603.2 261.9h.6M625.7 252.5h.6M607.9 242.8h.6M624.2 253.1h.6M620.8 234.9h.6M624.6 244.6h.6M601.9 254.2h.6M608.7 241.9h.6M623.9 260.1h.6M602.5 259.2h.6M628.4 252.1h.6M603.8 249.6h.6M610.4 273.7h.6M623.9 258.5h.6M605.6 266.2h.6M608.0 269.9h.6M624.7 261.8h.6M623.3 269.3h.6M612.3 274.7h.6M611.1 273.7h.6M608.6 238.9h.6M606.8 268.6h.6M623.9 257.6h.6M624.0 243.7h.6M610.4 272.9h.6M623.9 261.4h.6M605.2 266.0h.6M624.1 263.4h.6M624.9 246.2h.6M606.1 247.5h.6M624.7 247.5h.6M609.5 273.0h.6M619.8 233.6h.6M611.8 234.1h.6M614.5 232.6h.6M619.8 235.7h.6" stroke="#e39aa8" stroke-width="0.6"/>
<path d="M610.8 273.2h.6M633.9 267.5h.6M630.6 286.3h.6M634.2 266.7h.6M615.7 276.2h.6M641.0 284.9h.6M646.5 278.5h.6M614.3 276.2h.6M633.3 265.1h.6M614.9 276.1h.6M642.1 285.5h.6M650.4 269.9h.6M647.2 262.2h.6M612.4 274.1h.6M617.6 279.6h.6M614.3 276.0h.6M624.5 272.1h.6M616.2 275.5h.6M642.5 283.8h.6M635.2 266.3h.6M629.7 270.2h.6M634.1 267.0h.6M648.0 272.9h.6M639.7 285.9h.6M648.6 272.6h.6M618.1 275.5h.6M651.7 267.5h.6M624.6 285.7h.6M647.2 262.6h.6M615.2 274.8h.6M634.7 286.4h.6M626.0 273.1h.6M618.9 275.6h.6M621.5 286.2h.6M624.5 273.7h.6M634.5 286.7h.6M624.9 273.4h.6M619.5 275.1h.6M633.5 267.7h.6M614.2 275.2h.6M623.1 286.2h.6M612.7 277.0h.6M634.4 266.1h.6M650.5 263.8h.6M609.0 274.3h.6M642.1 284.6h.6M622.8 285.9h.6M632.9 286.6h.6M632.9 266.6h.6M621.3 273.3h.6M613.5 274.1h.6M618.0 276.0h.6M645.6 278.8h.6M612.7 273.9h.6M617.2 275.5h.6M648.8 262.7h.6M648.5 272.1h.6M636.4 286.5h.6M616.7 277.0h.6M621.5 285.1h.6M653.2 266.5h.6M622.2 288.0h.6M638.2 264.4h.6M613.1 275.0h.6M619.9 274.9h.6M630.4 270.1h.6M625.1 273.2h.6M641.9 285.3h.6M645.2 280.5h.6M621.2 284.1h.6M620.8 274.5h.6M611.3 273.9h.6M615.9 275.2h.6M650.7 268.5h.6M650.1 263.8h.6M647.0 274.9h.6M613.5 275.3h.6M641.4 284.5h.6M633.3 266.1h.6M618.3 283.8h.6M646.6 275.8h.6M633.4 286.4h.6M621.6 284.5h.6M651.0 265.9h.6M614.3 275.1h.6M612.6 274.1h.6M647.5 262.0h.6M648.8 271.7h.6M651.8 268.9h.6M623.4 286.0h.6M612.8 272.6h.6M647.6 262.7h.6M613.0 275.0h.6M650.9 267.9h.6M631.7 268.0h.6M652.3 265.0h.6M647.9 262.7h.6M626.5 272.0h.6M617.0 275.7h.6M653.9 266.0h.6M630.4 270.1h.6M618.2 279.1h.6M653.5 263.7h.6M627.6 271.8h.6M642.5 283.7h.6M610.5 273.5h.6M643.4 284.4h.6M621.6 285.1h.6M644.6 281.3h.6M653.0 263.5h.6M632.0 267.3h.6M610.9 273.9h.6M612.3 274.6h.6M613.2 274.3h.6M649.8 264.1h.6M652.4 266.2h.6M645.3 279.5h.6M611.7 273.6h.6M639.4 264.5h.6M642.4 262.8h.6M617.5 275.8h.6M612.9 273.9h.6M617.1 277.3h.6M634.7 286.4h.6M620.6 273.5h.6M616.0 275.3h.6M616.2 277.0h.6M633.1 286.2h.6M635.7 286.5h.6M645.6 262.3h.6M611.3 273.7h.6M635.5 286.1h.6M638.7 263.7h.6M644.0 262.4h.6M621.9 273.9h.6M636.5 266.0h.6M648.0 275.1h.6M631.7 286.5h.6M620.4 274.8h.6M646.9 274.7h.6M626.7 286.6h.6M629.6 286.2h.6M642.2 285.1h.6M612.5 273.9h.6M614.9 276.4h.6M629.2 271.6h.6M647.0 262.4h.6M650.5 263.1h.6M637.6 286.5h.6M612.7 275.4h.6M610.4 274.1h.6M630.5 270.4h.6M641.4 284.6h.6M616.0 276.4h.6M630.8 270.8h.6M615.2 275.6h.6M624.5 285.8h.6M640.5 285.8h.6M650.0 263.7h.6M633.6 266.0h.6M634.6 266.7h.6M635.4 286.4h.6M613.9 275.3h.6M650.3 262.4h.6M649.5 263.6h.6M613.9 275.8h.6M616.4 278.8h.6M650.6 268.5h.6M651.5 268.1h.6M612.1 273.9h.6M645.2 280.5h.6M641.0 285.4h.6M634.2 286.6h.6M610.8 273.0h.6M645.5 279.6h.6M650.3 264.9h.6M648.0 273.4h.6M638.9 286.8h.6M627.9 272.2h.6M644.5 282.3h.6M619.6 275.2h.6M612.4 273.6h.6M634.9 266.2h.6M648.4 262.1h.6M640.8 285.4h.6M643.6 262.3h.6M641.8 263.2h.6M647.2 277.9h.6M638.1 263.9h.6M633.5 267.2h.6M612.4 275.0h.6M631.7 270.0h.6M621.8 287.2h.6M611.3 274.1h.6M631.3 270.4h.6M647.0 262.3h.6M632.2 268.6h.6M644.9 281.9h.6M652.8 264.2h.6" stroke="#be1e2f" stroke-width="0.6"/>
<path d="M658.5 236.1h.6M650.5 238.1h.6M653.6 250.7h.6M657.2 229.1h.6M654.8 224.7h.6M643.4 218.6h.6M655.4 250.5h.6M656.5 224.6h.6M650.8 221.8h.6M652.4 248.6h.6M650.7 232.2h.6M650.4 241.6h.6M650.4 232.9h.6M646.9 220.0h.6M640.6 220.9h.6M650.6 234.9h.6M651.6 221.9h.6M657.5 234.8h.6M658.2 247.4h.6M640.7 220.6h.6M656.3 250.5h.6M651.9 246.1h.6M652.4 247.0h.6M646.1 219.5h.6M656.9 229.7h.6M650.4 221.3h.6M644.7 219.1h.6M658.1 247.6h.6M643.2 221.0h.6M658.0 245.7h.6M652.1 222.2h.6M651.9 244.0h.6M649.0 220.9h.6M657.5 242.0h.6M639.7 220.7h.6M652.7 248.2h.6M658.0 234.8h.6M652.1 222.7h.6M643.3 220.9h.6M659.0 240.3h.6M645.9 219.7h.6M649.8 226.6h.6M652.7 250.1h.6M655.7 226.0h.6M649.0 229.4h.6M656.5 226.0h.6M651.2 241.6h.6M650.6 241.7h.6M650.4 228.7h.6M658.8 251.3h.6M642.0 217.4h.6M658.0 240.3h.6M646.4 223.6h.6M650.0 230.4h.6M657.4 239.2h.6M641.8 220.3h.6M646.7 216.1h.6M653.5 250.6h.6M657.5 241.6h.6M657.5 233.1h.6M657.5 228.7h.6M640.2 219.4h.6M655.7 226.1h.6M650.9 222.0h.6M651.1 238.5h.6M655.9 226.0h.6M657.8 244.2h.6M658.8 228.5h.6M651.9 221.8h.6M658.4 240.3h.6M648.9 220.3h.6M657.8 244.6h.6M651.5 242.9h.6M657.6 233.9h.6M656.8 230.5h.6M651.7 244.1h.6M651.4 243.8h.6M653.0 249.2h.6M657.3 235.0h.6M650.4 240.4h.6M645.3 222.4h.6M650.4 239.3h.6M647.5 223.7h.6M656.5 227.5h.6M657.4 239.7h.6M654.6 250.2h.6M656.1 227.5h.6M651.4 245.1h.6M649.5 225.9h.6M657.9 242.6h.6M648.3 225.5h.6M652.4 247.3h.6M658.4 246.6h.6M652.0 245.1h.6M650.8 221.5h.6M650.7 237.9h.6M645.0 222.9h.6M657.6 243.2h.6M652.3 246.9h.6M651.0 239.3h.6M644.1 218.9h.6M652.9 249.0h.6M657.4 234.7h.6M652.4 222.3h.6M649.8 229.1h.6M659.7 246.8h.6M657.6 231.1h.6M652.2 246.2h.6M654.1 224.1h.6M647.1 222.9h.6M648.0 224.1h.6M648.5 226.8h.6M657.4 233.5h.6M648.0 220.3h.6M650.6 232.5h.6M650.0 226.7h.6M650.5 232.1h.6M644.9 221.9h.6M657.0 232.2h.6M658.1 238.5h.6M650.5 239.0h.6M657.6 243.2h.6M653.0 249.6h.6M649.6 232.9h.6M658.4 232.5h.6M644.8 219.2h.6M648.6 225.8h.6M657.7 230.3h.6M658.4 246.5h.6M652.7 222.8h.6M654.5 223.9h.6M645.0 221.8h.6M657.6 239.7h.6M657.2 230.4h.6M657.9 241.5h.6M650.3 227.8h.6M658.3 247.5h.6M648.4 219.9h.6M655.9 225.9h.6M645.6 218.5h.6M658.1 243.4h.6M658.3 236.4h.6M651.3 246.2h.6M654.2 223.6h.6M651.6 222.4h.6M642.1 220.6h.6M658.3 246.3h.6M657.6 239.6h.6M657.7 245.0h.6M657.7 244.9h.6M643.7 218.6h.6M645.4 221.6h.6M652.4 247.2h.6" stroke="#be1e2f" stroke-width="0.6"/>
<path d="M653.9 256.1h.6M660.3 263.8h.6M653.1 250.3h.6M659.7 243.9h.6M673.9 250.3h.6M659.0 245.3h.6M663.3 264.5h.6M674.8 254.6h.6M671.3 264.6h.6M672.2 255.6h.6M653.7 254.3h.6M662.9 264.9h.6M653.1 257.8h.6M665.5 245.9h.6M672.0 261.5h.6M674.2 262.2h.6M654.5 260.6h.6M658.6 245.5h.6M674.4 253.1h.6M674.1 250.4h.6M665.2 252.5h.6M674.4 248.7h.6M673.0 249.7h.6M654.9 261.2h.6M664.7 245.6h.6M674.8 249.8h.6M663.4 250.8h.6M667.2 265.1h.6M665.6 242.6h.6M672.3 254.9h.6M654.7 261.0h.6M672.6 256.8h.6M656.4 262.8h.6M672.1 261.5h.6M657.4 263.1h.6M673.7 259.4h.6M653.4 253.7h.6M662.3 264.0h.6M661.1 264.3h.6M670.1 252.4h.6M671.4 264.3h.6M665.4 252.7h.6M658.6 263.9h.6M655.4 261.8h.6M670.6 252.0h.6M657.9 263.4h.6M664.4 246.9h.6M672.2 254.4h.6M660.4 244.0h.6M656.4 263.7h.6M673.0 261.8h.6M672.7 262.0h.6M666.4 243.5h.6M670.2 258.4h.6M671.0 265.2h.6M653.7 257.3h.6M671.0 259.7h.6M653.6 252.0h.6M658.3 263.6h.6M652.8 254.4h.6M654.8 248.5h.6M670.7 257.8h.6M672.2 264.6h.6M667.9 252.2h.6M668.6 252.5h.6M669.8 252.6h.6M672.7 254.4h.6M659.8 265.5h.6M658.1 244.7h.6M656.2 262.7h.6M652.8 251.3h.6M663.3 242.7h.6M669.8 264.9h.6M665.0 243.5h.6M653.7 256.5h.6M653.9 260.1h.6M665.0 245.9h.6M668.6 252.0h.6M652.8 250.4h.6M671.6 260.7h.6M653.5 252.0h.6M660.8 263.8h.6M654.2 262.9h.6M653.3 254.2h.6M662.0 242.8h.6M661.0 243.7h.6M655.6 246.2h.6M664.7 247.6h.6M672.1 265.3h.6M654.4 263.7h.6M672.7 255.7h.6M658.3 245.3h.6M672.4 250.8h.6M664.2 264.6h.6M671.5 255.4h.6M658.7 245.5h.6M653.2 252.7h.6M663.9 241.3h.6M656.1 262.5h.6M653.7 260.9h.6M653.9 254.7h.6M658.1 263.5h.6M671.5 265.7h.6M653.5 249.9h.6M670.3 259.4h.6M664.2 248.9h.6M654.2 258.2h.6M651.7 250.7h.6M652.1 248.5h.6M675.0 252.6h.6M660.5 243.4h.6M665.7 253.0h.6M676.3 250.7h.6M653.7 253.3h.6M659.5 244.8h.6M664.9 264.8h.6M659.8 244.3h.6M657.0 245.6h.6M670.9 264.6h.6M676.2 249.2h.6M670.6 257.4h.6M654.1 257.5h.6M666.8 252.7h.6M660.7 264.3h.6M670.6 250.7h.6M676.6 249.7h.6M658.9 244.2h.6M674.9 249.5h.6M671.9 254.7h.6M666.8 265.1h.6M656.8 264.9h.6M672.5 249.6h.6M665.1 252.6h.6M663.0 249.6h.6M659.8 265.1h.6M656.8 246.7h.6M671.0 265.0h.6M666.0 252.4h.6M672.3 251.3h.6M665.5 246.0h.6M670.3 256.1h.6M652.5 253.2h.6M674.5 248.7h.6M653.8 261.2h.6M671.4 265.2h.6M673.3 254.7h.6M665.4 245.3h.6M673.2 254.7h.6M653.7 248.3h.6M659.8 264.1h.6M670.6 260.2h.6M664.6 252.3h.6M653.9 254.8h.6M668.2 252.7h.6M675.1 254.2h.6" stroke="#be1e2f" stroke-width="0.6"/>
<path d="M635.5 249.7h.5M641.0 259.2h.5M643.1 257.9h.5M647.4 259.8h.5M631.6 250.8h.5M641.9 249.8h.5M645.2 249.0h.5M644.3 246.9h.5M652.4 260.3h.5M646.6 255.3h.5M638.7 247.6h.5M638.4 246.4h.5M639.0 250.0h.5M650.5 249.0h.5M639.5 245.5h.5M653.8 256.2h.5M647.3 258.1h.5M649.0 251.7h.5M641.3 247.5h.5M649.0 261.5h.5M639.4 245.8h.5M642.4 255.1h.5M640.5 247.4h.5M641.5 254.3h.5M646.6 262.8h.5M633.8 250.8h.5M641.4 256.3h.5M640.9 252.8h.5M650.4 257.6h.5M649.6 258.6h.5M643.7 249.1h.5M647.8 258.9h.5M643.0 252.9h.5M651.1 252.7h.5M650.2 251.3h.5M639.4 251.0h.5M647.9 263.6h.5M648.1 251.2h.5M639.1 250.6h.5M652.6 262.1h.5M648.7 252.8h.5M648.8 252.4h.5M647.1 263.1h.5M651.5 262.0h.5M643.0 257.7h.5M645.2 255.7h.5M646.9 259.6h.5M646.6 257.1h.5M652.9 259.9h.5M643.7 245.9h.5M649.8 251.0h.5M633.5 251.2h.5M650.4 257.1h.5M646.0 256.5h.5M653.8 255.4h.5M651.0 259.1h.5M644.4 262.3h.5M644.6 254.8h.5M642.0 258.9h.5M643.9 257.0h.5M642.5 250.1h.5M642.6 249.3h.5M646.9 251.2h.5M646.3 253.4h.5M649.5 248.7h.5M646.7 249.2h.5M652.7 248.0h.5M639.9 259.7h.5M649.7 263.9h.5M637.9 252.5h.5M632.5 249.9h.5M635.9 249.6h.5M635.2 249.8h.5M638.4 247.1h.5M639.3 248.8h.5M646.8 247.0h.5M646.2 252.6h.5M651.5 255.3h.5M640.5 260.7h.5M647.4 256.3h.5M652.2 257.4h.5M647.6 263.3h.5M645.8 256.0h.5M648.6 252.8h.5M639.1 251.3h.5M640.9 258.5h.5M637.0 249.3h.5M640.9 254.7h.5M647.8 255.0h.5M653.5 260.3h.5M639.8 258.8h.5M645.7 256.5h.5M639.5 253.2h.5M643.2 258.8h.5M651.0 260.6h.5M653.0 263.2h.5M649.8 255.8h.5M640.3 253.1h.5M643.9 249.3h.5M650.2 260.1h.5M651.4 259.4h.5M637.6 251.6h.5M651.2 261.8h.5M643.9 255.5h.5M650.9 264.6h.5M644.4 245.4h.5M634.3 250.3h.5M649.9 259.8h.5M652.0 247.3h.5M649.9 262.7h.5M650.7 257.9h.5M651.7 258.7h.5M648.8 253.4h.5M651.4 259.6h.5M652.6 258.0h.5M639.4 251.1h.5M650.0 258.0h.5M649.2 248.2h.5M642.8 256.4h.5M652.5 248.1h.5M650.3 259.4h.5M635.6 249.7h.5M648.6 248.8h.5M647.4 248.8h.5M641.9 252.4h.5M641.7 261.6h.5M650.0 258.7h.5M643.1 248.8h.5M641.0 248.0h.5M642.5 244.9h.5M652.0 252.9h.5M641.6 253.1h.5M643.3 250.8h.5M641.7 249.4h.5M644.8 261.3h.5M648.4 255.0h.5M642.4 256.5h.5M636.7 249.3h.5M643.4 253.0h.5M639.6 255.2h.5" stroke="#ffffff" stroke-width="0.5"/>
<path d="M647.9 253.6h.55M650.0 258.9h.55M652.5 264.4h.55M645.6 246.1h.55M643.4 262.6h.55M641.4 252.0h.55M636.3 251.2h.55M643.8 252.7h.55M648.8 253.7h.55M649.4 262.3h.55M650.8 249.9h.55M641.0 246.4h.55M651.1 252.9h.55M645.4 256.7h.55M649.6 250.4h.55M653.2 260.6h.55M651.8 261.3h.55M642.0 251.7h.55M643.5 247.0h.55M643.3 245.9h.55M650.7 251.5h.55M646.0 248.0h.55M644.7 247.5h.55M650.7 247.7h.55M641.8 248.1h.55M638.2 251.2h.55M650.5 258.7h.55M648.5 245.8h.55M640.1 247.9h.55M641.4 246.0h.55M649.5 263.0h.55M641.9 248.1h.55M651.6 250.3h.55M642.7 249.7h.55M643.3 253.2h.55M639.9 252.7h.55M653.4 257.8h.55M646.6 253.1h.55M640.3 252.5h.55M640.2 247.0h.55M641.3 244.7h.55M648.9 249.3h.55M642.1 250.5h.55M646.5 252.6h.55M648.4 254.6h.55M645.3 245.9h.55M650.7 261.8h.55M641.5 262.1h.55M641.4 244.5h.55M638.3 251.6h.55M648.6 247.5h.55M639.8 253.8h.55M651.8 256.3h.55M641.2 260.1h.55M641.7 258.7h.55M643.8 259.7h.55M648.4 263.4h.55M651.0 261.7h.55M648.8 252.3h.55M640.4 245.1h.55" stroke="#e39aa8" stroke-width="0.55"/>
<path d="M624.1 269.2h.5M631.7 258.0h.5M623.3 271.2h.5M630.1 270.9h.5M631.7 270.1h.5M631.6 259.2h.5M638.0 262.2h.5M624.3 257.6h.5M637.5 264.5h.5M629.5 254.2h.5M637.3 264.9h.5M631.7 252.7h.5M632.5 265.0h.5M636.3 258.2h.5M631.1 268.4h.5M626.9 256.3h.5M628.0 262.2h.5M633.8 258.8h.5M632.4 257.8h.5M632.7 256.9h.5M624.9 272.3h.5M637.5 259.5h.5M630.4 269.1h.5M627.1 260.7h.5M625.4 267.0h.5M626.0 270.0h.5M633.5 267.5h.5M630.7 259.4h.5M628.7 261.1h.5M636.3 261.0h.5M624.7 262.3h.5M630.3 258.7h.5M630.4 265.6h.5M632.4 266.5h.5M627.1 271.2h.5M626.0 272.0h.5M627.4 266.3h.5M638.7 263.5h.5M626.2 260.2h.5M625.9 260.2h.5M625.6 269.4h.5M631.0 258.3h.5M637.0 263.1h.5M630.4 265.7h.5M628.9 257.5h.5M634.4 255.3h.5M627.5 265.3h.5M628.5 261.7h.5M637.1 258.6h.5M622.3 271.1h.5M624.0 271.3h.5M631.3 267.7h.5M634.7 264.7h.5M625.2 263.8h.5M638.9 262.6h.5M624.2 259.2h.5M634.9 258.2h.5M627.7 254.8h.5M635.7 260.2h.5M633.5 251.7h.5M627.9 266.5h.5M628.4 256.9h.5M639.4 256.4h.5M625.5 253.2h.5M634.7 260.5h.5M632.2 267.3h.5M629.9 256.4h.5M629.4 268.6h.5M629.9 259.3h.5M629.9 262.4h.5M627.1 266.8h.5M623.8 266.3h.5M627.4 268.0h.5M637.5 255.9h.5M631.8 251.8h.5M624.0 253.6h.5M637.3 259.3h.5M630.4 269.0h.5M635.2 263.5h.5M632.2 259.3h.5M624.6 267.9h.5M628.1 260.9h.5M628.2 268.5h.5M629.9 267.9h.5M632.6 256.6h.5M625.4 259.6h.5M625.7 261.0h.5M634.0 252.9h.5M625.6 259.6h.5M623.9 261.4h.5M631.0 262.8h.5M626.7 271.4h.5M626.5 260.3h.5M632.0 252.9h.5M629.1 259.9h.5M627.3 252.8h.5M632.7 264.0h.5M635.9 252.7h.5M635.1 262.9h.5M636.1 253.0h.5M628.6 254.4h.5M638.8 261.3h.5M625.0 265.6h.5M624.2 261.2h.5M634.1 262.9h.5M629.3 261.2h.5M626.0 262.4h.5M630.6 266.2h.5M630.9 263.6h.5M628.2 270.7h.5M628.8 258.9h.5M634.4 257.6h.5M627.2 270.0h.5M636.6 258.3h.5M624.1 267.9h.5M626.8 262.3h.5M627.6 263.4h.5M627.9 272.5h.5M628.8 257.9h.5M624.6 267.1h.5M637.7 256.3h.5M635.6 252.6h.5M627.4 268.2h.5M629.2 269.3h.5M635.4 254.5h.5M635.2 252.8h.5M631.6 260.6h.5M626.1 253.0h.5M634.6 258.9h.5M623.6 265.9h.5M633.7 267.7h.5M626.1 253.2h.5M631.2 268.5h.5M627.8 255.0h.5M631.4 252.1h.5M630.1 257.4h.5M636.7 257.1h.5M632.2 258.9h.5M624.7 262.2h.5M624.1 272.3h.5" stroke="#ffffff" stroke-width="0.5"/>
<path d="M633.8 256.8h.55M632.8 254.6h.55M633.6 259.5h.55M628.5 256.1h.55M624.3 269.5h.55M633.9 258.1h.55M627.6 268.4h.55M630.2 259.2h.55M638.9 256.2h.55M631.0 256.6h.55M631.9 265.2h.55M629.8 257.6h.55M626.2 270.1h.55M623.7 270.4h.55M639.7 260.4h.55M625.9 259.0h.55M638.5 258.2h.55M633.8 264.1h.55M632.5 268.7h.55M625.1 263.5h.55M634.1 263.4h.55M635.9 264.9h.55M627.8 258.8h.55M629.2 265.0h.55M629.9 269.9h.55M630.9 266.2h.55M623.4 271.4h.55M634.4 265.7h.55M628.1 272.1h.55M627.8 263.6h.55M624.7 264.0h.55M626.5 263.5h.55M631.1 265.9h.55M633.7 264.8h.55M630.9 261.4h.55M624.2 265.5h.55M638.1 263.9h.55M626.1 262.4h.55M628.1 266.9h.55M623.2 267.5h.55M628.5 255.5h.55M635.6 254.9h.55M638.9 263.9h.55M626.0 264.7h.55M630.8 266.1h.55M632.2 261.5h.55M625.8 263.7h.55M632.5 267.1h.55M636.4 264.2h.55M634.2 261.9h.55M628.3 256.5h.55M625.0 257.5h.55M630.0 263.2h.55M629.6 265.0h.55M635.6 262.7h.55M638.7 262.6h.55M630.3 258.9h.55M631.5 267.5h.55M628.4 263.7h.55M635.6 259.7h.55" stroke="#e39aa8" stroke-width="0.55"/>
<path d="M629.5 273.5h.5M643.7 272.1h.5M640.1 277.4h.5M628.7 279.2h.5M642.5 278.6h.5M628.4 279.5h.5M636.0 277.7h.5M636.0 277.2h.5M637.3 267.2h.5M635.0 285.0h.5M635.1 278.7h.5M624.1 279.2h.5M635.1 267.5h.5M620.5 282.0h.5M621.7 278.9h.5M623.1 277.1h.5M626.3 281.4h.5M635.3 279.1h.5M640.0 275.5h.5M627.1 275.7h.5M631.5 275.2h.5M644.6 263.2h.5M626.1 280.4h.5M641.5 275.1h.5M633.4 272.7h.5M622.7 275.4h.5M640.9 280.9h.5M640.2 284.3h.5M634.7 268.5h.5M640.6 271.0h.5M645.0 265.1h.5M640.4 284.8h.5M635.3 269.9h.5M629.1 280.6h.5M635.0 267.8h.5M634.7 269.4h.5M646.7 266.5h.5M620.6 279.0h.5M631.5 282.6h.5M638.7 265.5h.5M645.5 278.5h.5M637.4 282.3h.5M625.3 274.8h.5M629.4 282.1h.5M638.1 274.8h.5M629.1 276.8h.5M636.3 283.9h.5M638.5 279.9h.5M635.1 280.9h.5M642.3 267.5h.5M639.6 284.7h.5M644.1 272.0h.5M635.8 275.3h.5M621.1 275.9h.5M636.3 268.2h.5M632.2 281.4h.5M632.2 284.1h.5M643.9 280.0h.5M625.9 275.2h.5M635.3 279.4h.5M629.4 277.6h.5M645.5 278.1h.5M631.1 282.3h.5M638.4 272.8h.5M632.7 275.9h.5M639.2 285.2h.5M640.2 280.4h.5M633.9 279.1h.5M649.9 264.4h.5M633.7 283.2h.5M644.7 277.0h.5M631.8 284.3h.5M627.4 278.8h.5M640.3 268.0h.5M625.9 275.6h.5M639.7 267.2h.5M638.9 272.1h.5M617.0 276.6h.5M628.0 276.2h.5M630.0 280.5h.5M638.6 272.6h.5M635.7 271.6h.5M620.9 275.0h.5M646.1 264.7h.5M643.4 275.1h.5M640.8 268.3h.5M637.7 285.6h.5M632.8 284.3h.5M619.0 278.1h.5M644.9 278.9h.5M638.8 281.1h.5M640.1 280.8h.5M641.3 266.6h.5M620.4 276.6h.5M632.6 271.2h.5M631.9 276.2h.5M628.2 279.5h.5M628.8 275.3h.5M624.2 279.7h.5M638.2 270.5h.5M625.8 276.9h.5M637.8 277.7h.5M640.6 273.9h.5M641.8 282.8h.5M625.3 283.6h.5M632.8 281.8h.5M623.0 283.4h.5M650.1 268.8h.5M640.1 283.3h.5M643.0 268.4h.5M642.7 264.8h.5M632.1 272.9h.5M637.4 266.2h.5M646.4 272.8h.5M629.4 272.9h.5M628.7 275.0h.5M628.0 278.9h.5M631.0 272.5h.5M646.0 263.6h.5M644.0 278.6h.5M647.2 267.4h.5M630.5 272.2h.5M634.0 273.1h.5M624.7 277.7h.5M631.5 272.1h.5M638.1 265.7h.5M619.6 280.2h.5M631.4 282.5h.5M637.9 266.9h.5M638.4 282.6h.5M640.0 277.7h.5M636.3 270.3h.5M643.4 265.0h.5M623.2 280.4h.5M630.4 272.5h.5M639.0 278.9h.5M621.7 277.1h.5M644.1 278.3h.5M646.0 276.8h.5M628.9 277.7h.5" stroke="#ffffff" stroke-width="0.5"/>
<path d="M633.9 267.6h.55M651.8 266.3h.55M641.1 276.3h.55M634.0 274.1h.55M643.7 280.4h.55M627.6 278.1h.55M632.1 272.9h.55M648.3 267.5h.55M636.3 278.0h.55M633.2 270.8h.55M637.6 277.0h.55M639.1 276.5h.55M638.1 273.0h.55M641.5 281.9h.55M637.6 280.7h.55M620.9 280.2h.55M634.0 283.8h.55M634.8 267.6h.55M635.5 273.3h.55M622.3 284.7h.55M620.6 281.2h.55M644.5 272.5h.55M625.2 281.8h.55M627.3 279.0h.55M624.8 280.6h.55M649.9 268.6h.55M632.9 280.5h.55M636.7 284.8h.55M626.2 273.5h.55M639.9 267.8h.55M636.0 275.1h.55M645.2 274.5h.55M634.1 276.3h.55M649.1 264.4h.55M633.3 283.4h.55M638.4 283.3h.55M646.4 263.5h.55M637.6 282.5h.55M645.8 274.4h.55M643.4 265.7h.55M649.8 266.9h.55M631.2 277.0h.55M630.1 276.2h.55M628.1 283.2h.55M645.3 273.8h.55M639.1 273.1h.55M643.4 268.3h.55M615.6 275.9h.55M626.0 285.1h.55M643.3 273.9h.55M641.1 277.5h.55M646.7 271.2h.55M646.9 266.6h.55M632.6 278.1h.55M631.3 279.1h.55M623.8 282.5h.55M637.0 274.9h.55M645.2 269.6h.55M630.8 280.4h.55M642.5 267.6h.55" stroke="#e39aa8" stroke-width="0.55"/>
<path d="M658.8 255.1h.5M663.3 253.6h.5M658.2 253.0h.5M664.9 260.3h.5M658.4 249.9h.5M657.3 246.6h.5M665.7 263.9h.5M668.6 258.7h.5M671.8 263.3h.5M663.4 263.1h.5M665.7 261.3h.5M667.0 260.8h.5M674.3 252.6h.5M659.0 253.8h.5M671.8 252.3h.5M657.0 255.0h.5M664.1 252.3h.5M658.1 262.7h.5M667.6 253.9h.5M671.0 260.7h.5M669.7 262.7h.5M668.3 261.9h.5M654.8 256.1h.5M667.4 257.6h.5M672.6 252.3h.5M670.8 260.8h.5M660.8 257.6h.5M671.9 251.8h.5M665.4 259.1h.5M674.3 251.6h.5M670.3 259.6h.5M663.3 253.9h.5M660.9 250.1h.5M657.5 256.7h.5M660.8 263.6h.5M657.0 257.9h.5M665.8 259.7h.5M659.1 245.4h.5M661.5 249.1h.5M655.8 253.3h.5M662.7 256.8h.5M656.0 250.3h.5M668.7 256.3h.5M658.3 251.5h.5M660.4 252.6h.5M655.4 253.5h.5M663.5 253.7h.5M670.5 252.7h.5M653.8 251.4h.5M662.5 253.1h.5M655.0 250.2h.5M661.6 244.8h.5M661.0 246.2h.5M665.6 258.1h.5M667.6 264.3h.5M658.0 249.5h.5M662.4 254.5h.5M663.1 257.4h.5M660.6 245.9h.5M657.3 249.5h.5M672.8 253.9h.5M658.5 262.3h.5M665.7 264.2h.5M665.9 254.0h.5M655.3 261.4h.5M664.1 253.6h.5M661.7 251.5h.5M667.2 258.4h.5M662.4 253.9h.5M653.9 249.4h.5M659.1 245.7h.5M655.5 261.4h.5M654.4 255.2h.5M660.9 250.7h.5M657.8 249.6h.5M663.5 244.8h.5M666.9 257.6h.5M665.7 255.9h.5M666.4 263.6h.5M660.2 248.4h.5M663.9 257.3h.5M655.7 255.2h.5M654.2 250.6h.5M656.5 249.1h.5M667.4 258.6h.5M667.3 258.5h.5M663.5 263.8h.5M661.4 258.5h.5M661.3 246.7h.5M658.4 261.9h.5M663.7 244.7h.5M660.7 259.7h.5M661.1 257.2h.5M672.8 253.0h.5M660.1 248.2h.5M660.3 248.0h.5M666.5 259.2h.5M659.5 258.9h.5M664.0 246.0h.5M660.8 246.9h.5M655.8 254.6h.5M664.4 259.1h.5M668.1 263.1h.5M655.9 261.3h.5M665.8 257.8h.5M662.2 255.3h.5M658.8 248.2h.5M663.3 245.6h.5M658.3 259.4h.5M656.3 253.9h.5M654.7 252.1h.5M669.2 260.1h.5M657.5 251.8h.5M658.5 260.3h.5M660.0 257.9h.5M672.6 252.2h.5M658.7 260.8h.5M661.3 255.5h.5M662.1 260.2h.5M660.2 261.5h.5M665.2 253.4h.5M666.9 257.7h.5M659.6 252.1h.5M665.6 253.3h.5M663.9 256.2h.5M659.0 245.7h.5M660.5 247.8h.5M665.1 264.5h.5M657.9 254.2h.5M658.6 248.4h.5M661.9 249.2h.5M670.7 255.2h.5M669.9 255.5h.5M655.9 252.2h.5M661.5 255.6h.5M654.9 257.3h.5M674.1 252.3h.5M656.4 247.7h.5M674.5 250.2h.5M670.4 254.4h.5" stroke="#ffffff" stroke-width="0.5"/>
<path d="M663.9 257.0h.55M670.5 262.9h.55M665.1 255.4h.55M659.4 249.6h.55M670.6 253.6h.55M665.2 260.0h.55M666.7 261.3h.55M674.2 252.2h.55M666.8 258.6h.55M661.5 263.4h.55M657.1 256.9h.55M671.9 263.8h.55M665.2 257.7h.55M658.8 247.8h.55M667.3 254.3h.55M657.8 247.5h.55M666.3 258.8h.55M660.0 247.7h.55M656.5 260.2h.55M655.2 253.8h.55M663.1 245.5h.55M657.3 261.7h.55M674.5 251.4h.55M668.6 256.3h.55M655.1 258.0h.55M661.2 262.8h.55M664.4 264.2h.55M663.4 256.8h.55M657.8 256.0h.55M659.8 245.0h.55M660.2 252.1h.55M667.2 261.5h.55M653.9 253.0h.55M661.5 255.1h.55M661.0 253.3h.55M658.0 260.4h.55M655.1 260.5h.55M659.5 254.6h.55M661.5 244.0h.55M659.7 253.5h.55M664.0 261.6h.55M667.4 255.0h.55M663.1 247.3h.55M665.2 262.8h.55M662.0 245.0h.55M663.0 256.4h.55M664.0 255.9h.55M673.4 252.8h.55M661.1 255.4h.55M670.4 262.3h.55M668.7 256.6h.55M662.4 257.3h.55M663.2 263.3h.55M670.3 255.8h.55M660.6 263.5h.55M665.4 264.5h.55M662.0 257.5h.55M666.1 253.2h.55M668.7 263.7h.55M659.0 253.6h.55" stroke="#e39aa8" stroke-width="0.55"/>
<path d="M652.7 235.4h.5M655.8 235.0h.5M655.1 230.0h.5M652.4 233.0h.5M656.8 236.7h.5M655.5 246.6h.5M655.8 243.6h.5M653.7 247.7h.5M654.6 241.8h.5M656.1 234.9h.5M655.4 233.7h.5M653.6 243.4h.5M653.5 231.3h.5M652.0 236.3h.5M656.9 241.3h.5M655.2 245.2h.5M653.8 249.3h.5M653.6 225.5h.5M653.8 249.2h.5M655.6 245.2h.5M653.7 233.3h.5M655.6 228.5h.5M656.7 238.7h.5M653.2 236.0h.5M651.9 236.7h.5M655.5 237.1h.5M656.1 234.2h.5M648.3 222.5h.5M652.2 245.0h.5M655.0 246.0h.5M657.0 247.6h.5M655.8 247.7h.5M653.9 228.6h.5M656.5 236.8h.5M657.7 245.1h.5M644.5 219.9h.5M657.7 247.9h.5M653.0 242.0h.5M656.2 234.2h.5M651.0 226.3h.5M653.1 244.7h.5M651.5 237.8h.5M654.3 238.0h.5M656.7 245.4h.5M656.2 246.3h.5M655.6 234.3h.5M641.8 219.5h.5M656.7 242.6h.5M652.1 240.5h.5M651.9 232.7h.5M654.6 235.9h.5M653.3 249.6h.5M653.7 228.1h.5M655.9 236.4h.5M647.7 220.8h.5M653.4 226.7h.5M649.5 222.0h.5M652.3 229.7h.5M653.1 248.7h.5M656.8 238.8h.5M653.5 236.0h.5M652.6 237.7h.5M656.5 237.0h.5M656.7 243.7h.5M651.8 240.8h.5M653.6 243.6h.5M656.8 243.8h.5M651.7 235.1h.5M651.5 229.1h.5M650.9 230.1h.5M641.9 220.0h.5M652.9 239.5h.5M654.4 228.3h.5M655.4 234.4h.5M654.4 237.0h.5M648.9 222.0h.5M652.0 233.8h.5M649.1 224.3h.5M656.9 237.2h.5M654.6 230.9h.5M653.4 234.2h.5M654.1 248.2h.5M646.5 219.9h.5M652.3 229.5h.5M645.4 221.0h.5M655.4 244.6h.5M652.8 227.2h.5M655.1 241.8h.5M654.3 233.2h.5M651.7 240.9h.5M653.3 247.7h.5M650.4 227.7h.5M652.3 225.8h.5M656.6 249.0h.5M651.2 234.4h.5M656.6 244.3h.5M650.2 224.5h.5M653.6 243.8h.5M653.5 238.8h.5M653.8 227.1h.5M653.1 235.5h.5M654.1 230.9h.5M652.3 226.9h.5M656.3 250.1h.5M651.1 224.2h.5M653.9 239.1h.5M651.4 232.4h.5M656.7 235.1h.5M653.7 235.5h.5M653.9 237.3h.5M653.3 223.7h.5M657.4 246.8h.5M657.0 233.0h.5M655.1 249.1h.5M654.7 228.8h.5M651.8 231.3h.5M654.8 227.8h.5M655.3 245.7h.5M643.7 220.1h.5M655.6 241.8h.5M653.8 245.6h.5M655.7 245.2h.5M654.4 225.8h.5M653.4 225.6h.5M656.5 234.4h.5M656.1 239.6h.5M654.8 234.1h.5M655.3 237.4h.5M653.1 242.2h.5M652.0 232.0h.5M657.3 244.2h.5M653.6 225.0h.5M655.8 238.4h.5M655.0 232.2h.5M653.4 244.4h.5M656.2 240.1h.5M655.8 247.9h.5M656.3 247.9h.5M652.7 231.9h.5M652.4 234.5h.5" stroke="#ffffff" stroke-width="0.5"/>
<path d="M656.9 237.8h.55M644.4 220.5h.55M654.4 230.9h.55M656.7 233.7h.55M651.2 225.0h.55M646.7 220.4h.55M641.4 219.4h.55M654.3 234.7h.55M654.5 248.5h.55M652.1 234.5h.55M653.8 249.8h.55M655.3 235.7h.55M654.3 236.2h.55M652.3 227.4h.55M651.7 229.7h.55M655.3 229.1h.55M655.6 247.2h.55M652.8 243.9h.55M643.4 220.6h.55M656.4 242.4h.55M654.3 246.6h.55M650.7 222.9h.55M657.2 248.9h.55M655.9 248.8h.55M654.0 248.7h.55M648.5 221.1h.55M651.8 241.9h.55M651.8 223.2h.55M652.8 241.0h.55M654.2 238.3h.55M654.7 239.1h.55M649.0 223.5h.55M650.8 225.2h.55M654.2 242.5h.55M653.0 235.6h.55M656.5 239.9h.55M654.2 232.0h.55M657.2 247.2h.55M656.8 236.3h.55M653.1 238.3h.55M656.5 244.0h.55M650.9 232.4h.55M652.9 245.0h.55M655.7 232.1h.55M646.0 220.3h.55M651.6 229.1h.55M652.8 233.8h.55M656.4 237.7h.55M654.5 237.9h.55M653.4 245.0h.55M651.7 229.1h.55M648.6 223.8h.55M655.7 226.6h.55M656.7 245.5h.55M649.9 225.4h.55M652.9 248.0h.55M651.6 236.6h.55M651.5 235.1h.55M647.4 220.8h.55M656.2 235.7h.55" stroke="#e39aa8" stroke-width="0.55"/>
<path d="M612.8 248.2h.8M612.1 247.2h.8M612.3 241.9h.8M611.8 241.0h.8M611.7 247.9h.8M611.8 247.8h.8M610.2 247.8h.8M611.0 242.9h.8M611.3 246.9h.8M610.9 244.6h.8M610.9 246.6h.8M612.3 245.5h.8M609.9 248.4h.8M611.2 242.4h.8M610.3 245.9h.8M610.6 243.7h.8M610.9 242.0h.8M612.3 248.1h.8M612.0 242.1h.8M611.0 240.9h.8M612.7 243.0h.8M611.4 249.7h.8M613.2 245.3h.8M612.0 244.0h.8M610.4 244.3h.8M611.6 243.3h.8M611.7 248.3h.8M611.0 241.7h.8M609.7 243.2h.8M611.5 242.0h.8M610.6 246.1h.8M609.3 243.0h.8M612.0 244.1h.8M610.4 244.3h.8M610.5 249.3h.8M611.2 248.6h.8M613.0 245.5h.8M611.0 242.3h.8M612.1 244.9h.8M611.5 248.1h.8M611.4 248.3h.8M613.2 246.3h.8" stroke="#ffffff" stroke-width="0.8"/>
<path d="M620.7 250.4h.8M612.5 249.5h.8M620.0 249.2h.8M620.5 249.0h.8M622.4 248.3h.8M622.2 249.3h.8M615.2 249.6h.8M619.4 249.6h.8M617.2 250.4h.8M618.4 249.3h.8M621.2 249.3h.8M621.1 248.8h.8M615.8 250.5h.8M622.0 248.5h.8M616.4 249.9h.8M619.6 248.1h.8M613.9 248.7h.8M620.9 248.0h.8M621.2 249.4h.8M617.4 249.0h.8M616.6 250.5h.8M617.3 249.9h.8M621.3 247.2h.8M620.5 249.5h.8M615.8 250.1h.8M614.8 250.1h.8M613.7 251.5h.8M620.6 249.7h.8M621.3 249.1h.8M621.9 249.0h.8M619.1 249.3h.8M613.4 249.4h.8M615.5 248.8h.8M619.5 249.4h.8M618.8 249.4h.8M618.6 249.9h.8M620.8 249.8h.8M618.1 248.8h.8M614.5 251.3h.8M623.1 248.7h.8M616.7 249.2h.8M615.0 249.7h.8M621.3 250.1h.8M622.3 248.9h.8M614.4 250.0h.8M615.8 249.8h.8M621.7 249.3h.8M614.5 250.4h.8" stroke="#ffffff" stroke-width="0.8"/>
<path d="M621.3 244.9h.8M623.0 247.7h.8M623.1 246.3h.8M622.3 245.8h.8M621.9 247.1h.8M622.0 244.2h.8M622.6 244.4h.8M623.1 247.5h.8M621.7 244.2h.8M623.0 248.7h.8M622.6 243.1h.8M623.5 247.1h.8M621.6 246.4h.8M622.5 246.7h.8M622.5 245.3h.8M623.4 248.6h.8M624.0 248.5h.8M623.1 244.7h.8" stroke="#ffffff" stroke-width="0.8"/>
<path d="M622.2 247.9h.7M624.2 247.1h.7M611.3 240.7h.7M611.4 242.7h.7M621.4 248.3h.7M622.5 245.1h.7M620.9 250.3h.7M615.9 245.0h.7M624.3 248.2h.7M619.0 246.2h.7M613.3 243.9h.7M619.0 246.0h.7M624.1 249.2h.7M621.0 251.3h.7M614.9 244.7h.7M620.4 246.3h.7M616.5 244.3h.7M618.5 248.0h.7" stroke="#e39aa8" stroke-width="0.7"/>
<path d="M623.9 258.9h.8M622.9 256.0h.8M622.9 264.0h.8M622.1 261.3h.8M622.4 266.8h.8M624.2 273.0h.8M622.8 263.9h.8M623.3 254.5h.8M622.1 268.8h.8M620.3 274.0h.8M623.3 256.8h.8M624.3 266.6h.8M622.4 254.9h.8M623.3 263.1h.8M623.9 261.1h.8M625.4 263.1h.8M626.1 268.7h.8M620.9 270.5h.8M624.0 269.8h.8M621.9 264.7h.8M623.5 258.5h.8M623.5 259.3h.8M622.4 271.7h.8M622.4 264.4h.8M623.7 257.9h.8M622.8 270.1h.8M624.2 254.8h.8M624.5 260.9h.8M623.2 254.2h.8M623.4 253.7h.8M623.8 255.5h.8M621.1 267.0h.8M622.6 271.7h.8M621.2 257.5h.8M624.0 257.9h.8M623.2 263.9h.8M625.1 256.8h.8M624.2 260.4h.8M625.5 259.6h.8M622.4 262.3h.8M619.9 272.8h.8M621.7 268.4h.8M623.6 266.1h.8M623.0 269.3h.8M623.5 264.3h.8M621.2 258.9h.8M626.4 258.7h.8M623.4 260.8h.8M622.8 270.2h.8M622.2 272.2h.8M622.9 263.4h.8M623.9 258.4h.8M622.6 254.3h.8M622.1 257.5h.8M620.1 269.1h.8M621.4 263.5h.8M623.1 259.2h.8M622.2 257.6h.8M623.6 252.6h.8M624.0 259.6h.8M622.6 251.6h.8M621.7 260.0h.8M624.0 266.4h.8M622.9 256.9h.8M621.3 273.0h.8M623.6 265.4h.8" stroke="#ffffff" stroke-width="0.8"/>
<path d="M626.9 278.8h.9M623.7 274.9h.9M627.3 275.3h.9M625.8 274.4h.9M623.2 276.5h.9M624.7 278.9h.9M623.9 276.4h.9M623.8 277.1h.9M625.8 277.5h.9M623.3 275.8h.9M625.7 273.9h.9M625.8 277.6h.9M625.7 274.0h.9M625.6 276.7h.9M626.5 274.9h.9M624.5 277.8h.9M624.4 276.0h.9M626.1 278.0h.9M625.6 279.2h.9M625.4 275.4h.9M627.0 274.4h.9M624.9 275.4h.9M624.3 275.5h.9M624.8 279.1h.9M625.5 276.4h.9M627.2 274.4h.9M624.0 275.4h.9M625.1 274.9h.9M626.2 278.7h.9M624.4 274.0h.9M624.2 278.6h.9M626.1 277.0h.9M626.3 277.7h.9M625.2 276.4h.9M625.6 274.0h.9M624.8 277.4h.9M626.2 278.3h.9M625.8 274.4h.9M624.2 276.4h.9M627.4 275.1h.9M626.8 274.5h.9M625.6 273.9h.9M625.4 275.5h.9M626.8 274.4h.9M623.4 275.9h.9M627.5 275.0h.9M626.3 277.2h.9M627.1 278.4h.9M627.1 278.3h.9M624.2 276.1h.9M626.8 278.0h.9M626.8 275.5h.9M625.7 275.4h.9M624.3 275.7h.9" stroke="#ffffff" stroke-width="0.9"/>
<path d="M624.1 272.6h.8M625.1 272.3h.8M624.2 272.4h.8M623.2 272.4h.8M624.6 273.2h.8M625.2 273.4h.8M625.0 271.6h.8M624.2 272.2h.8M622.5 273.1h.8M623.7 272.2h.8M623.3 273.2h.8M623.9 271.3h.8M624.3 271.7h.8M625.1 273.5h.8M625.1 273.0h.8" stroke="#ffffff" stroke-width="0.8"/>
<path d="M626.9 271.5h.7M626.1 263.4h.7M624.8 273.5h.7M634.5 252.0h.7M625.4 271.6h.7M629.9 270.2h.7M627.1 257.5h.7M634.7 259.7h.7M629.8 261.9h.7M635.0 265.0h.7M633.3 252.7h.7M628.3 254.4h.7M631.8 263.1h.7M622.8 267.6h.7M637.6 264.8h.7M632.8 263.1h.7M624.2 258.6h.7M626.6 255.7h.7M628.5 266.6h.7M630.2 260.4h.7M634.9 251.7h.7M630.0 262.6h.7M627.0 261.3h.7M631.0 267.3h.7M624.2 255.6h.7M627.7 254.3h.7M624.0 268.6h.7M627.3 272.7h.7M624.6 267.0h.7M625.4 256.4h.7M626.1 260.1h.7M634.9 266.4h.7M634.5 258.7h.7M624.8 251.7h.7M628.0 271.9h.7M626.7 270.7h.7M633.6 266.3h.7M627.7 253.7h.7M635.0 254.3h.7M634.8 257.2h.7M634.2 252.3h.7M633.4 261.1h.7M626.1 258.2h.7M623.0 268.0h.7M628.0 269.4h.7M624.8 270.1h.7M637.8 258.6h.7M639.4 264.3h.7M627.1 259.4h.7M628.4 254.6h.7M635.5 260.7h.7M638.6 263.4h.7M639.7 259.9h.7M637.5 252.9h.7M629.1 255.1h.7M627.2 254.2h.7M626.8 263.1h.7M638.4 257.5h.7M624.9 263.9h.7M632.0 260.6h.7M632.0 262.4h.7M625.0 257.7h.7M632.7 256.0h.7M623.4 272.4h.7M634.2 259.9h.7M636.2 252.7h.7M624.9 264.3h.7M633.9 259.2h.7M638.7 257.7h.7M633.9 258.4h.7M633.1 258.8h.7M639.8 263.7h.7" stroke="#ffffff" stroke-width="0.7"/>
<path d="M624.7 247.3h.7M628.7 247.5h.7M626.0 247.4h.7M626.8 248.9h.7M626.8 246.6h.7M627.4 249.3h.7M625.0 247.7h.7M625.2 246.6h.7M627.5 246.1h.7M625.6 246.3h.7M624.9 247.5h.7M625.0 248.7h.7M624.8 247.5h.7M625.9 246.4h.7M627.3 249.2h.7M627.8 247.4h.7M624.6 248.0h.7M627.4 247.4h.7M626.5 248.1h.7M624.0 247.7h.7M626.4 246.6h.7" stroke="#e39aa8" stroke-width="0.7"/>
<path d="M632.9 249.9h.7M634.4 251.0h.7M633.6 248.4h.7M634.0 250.7h.7M634.1 248.9h.7M632.9 249.1h.7M634.8 250.4h.7M635.5 249.1h.7M634.7 249.6h.7M631.9 250.3h.7M634.9 250.0h.7M635.5 250.9h.7M632.4 249.0h.7M634.1 251.3h.7M632.1 249.3h.7M635.0 250.0h.7M632.7 249.7h.7M632.1 249.9h.7M633.5 249.2h.7M635.4 250.5h.7M633.8 248.4h.7M633.7 248.5h.7M635.0 250.3h.7M634.0 250.4h.7M633.9 250.2h.7M635.0 249.7h.7M633.6 248.4h.7M634.3 249.0h.7M633.7 250.1h.7M632.8 250.4h.7M634.8 249.1h.7M634.4 248.8h.7M633.8 250.2h.7M632.9 249.7h.7M632.6 250.9h.7M633.7 249.4h.7M635.1 249.8h.7M635.6 250.3h.7M633.2 250.5h.7M634.5 248.4h.7" stroke="#e39aa8" stroke-width="0.7"/>
<path d="M623.2 259.7h.6M623.4 257.0h.6M622.5 268.9h.6M623.0 257.9h.6M623.5 264.6h.6M621.0 261.6h.6M621.8 253.5h.6M623.0 264.3h.6M622.5 271.1h.6M623.3 253.3h.6M622.6 265.6h.6M623.0 269.3h.6M621.1 268.5h.6M624.5 257.5h.6M624.0 262.3h.6M622.0 260.8h.6M621.7 272.5h.6M623.0 264.8h.6M624.3 264.4h.6M623.4 257.8h.6M624.1 253.1h.6M625.0 261.3h.6M622.2 265.6h.6M622.9 259.6h.6M624.0 256.5h.6M622.0 266.3h.6M623.5 270.8h.6M622.8 260.9h.6M620.3 269.0h.6M624.2 272.4h.6M625.0 259.8h.6M623.2 251.6h.6M622.1 269.7h.6M622.6 254.6h.6M622.7 269.8h.6M622.9 252.8h.6M621.7 271.1h.6M622.7 257.8h.6M623.3 255.4h.6M623.4 265.5h.6M623.1 270.3h.6M623.7 255.1h.6M623.1 260.2h.6M622.6 252.8h.6M624.8 254.7h.6M621.2 263.1h.6M623.4 271.9h.6M623.4 267.8h.6M623.7 254.0h.6M623.4 269.8h.6M625.4 265.0h.6M623.0 255.2h.6M622.8 273.4h.6M621.4 252.6h.6M622.8 255.0h.6M621.9 270.8h.6M623.8 252.6h.6M624.1 254.1h.6M623.3 261.8h.6M623.4 253.1h.6" stroke="#b8172b" stroke-width="0.6"/>
<line x1="391.5" y1="269.8" x2="391.5" y2="293.3" stroke="#555" stroke-width="0.75"/>
<line x1="391.15" y1="293.3" x2="416.1" y2="293.3" stroke="#555" stroke-width="0.75"/>
<text transform="translate(388.9 281.5) rotate(-90)" x="0" y="0" font-size="6.3" text-anchor="middle">UMAP2</text>
<text x="405.3" y="301.2" font-size="6.3" text-anchor="middle">UMAP1</text>
<line x1="496.5" y1="269.8" x2="496.5" y2="293.3" stroke="#555" stroke-width="0.75"/>
<line x1="496.15" y1="293.3" x2="521.1" y2="293.3" stroke="#555" stroke-width="0.75"/>
<text transform="translate(493.9 281.5) rotate(-90)" x="0" y="0" font-size="6.3" text-anchor="middle">UMAP2</text>
<text x="510.3" y="301.2" font-size="6.3" text-anchor="middle">UMAP1</text>
<line x1="601.5" y1="269.8" x2="601.5" y2="293.3" stroke="#555" stroke-width="0.75"/>
<line x1="601.15" y1="293.3" x2="626.1" y2="293.3" stroke="#555" stroke-width="0.75"/>
<text transform="translate(598.9 281.5) rotate(-90)" x="0" y="0" font-size="6.3" text-anchor="middle">UMAP2</text>
<text x="615.3" y="301.2" font-size="6.3" text-anchor="middle">UMAP1</text>
<circle cx="385.5" cy="316.4" r="1.3" fill="#8fcbe2"/>
<text x="391.4" y="318.9" font-style="italic">Uba1<tspan font-size="4.2" dy="-3.6">+/y</tspan></text>
<circle cx="426.1" cy="316.4" r="1.3" fill="#2169b0"/>
<text x="431.9" y="318.9" font-style="italic">Uba1<tspan font-size="4" dy="-3.6">M41T/y</tspan></text>
<circle cx="508.5" cy="316.4" r="1.3" fill="#c98bc4"/>
<text x="511.7" y="318.9" font-style="italic">WT</text>
<circle cx="508.5" cy="325" r="1.3" fill="#6a4aa8"/>
<text x="511.7" y="327.4" font-style="italic">Ripk3<tspan font-size="4" dy="-3.6">&#8722;/&#8722;</tspan></text>
<circle cx="508.5" cy="334.5" r="1.3" fill="#3d1f7c"/>
<text x="511.7" y="336.9" font-style="italic">Ripk3<tspan font-size="4" dy="-3.6">&#8722;/&#8722;</tspan><tspan dy="3.6">Casp8</tspan><tspan font-size="4" dy="-3.6">&#8722;/&#8722;</tspan></text>
<circle cx="609.9" cy="316.4" r="1.3" fill="#e59aa8"/>
<text x="614.9" y="318.7">Day 5</text>
<circle cx="641.9" cy="316.4" r="1.3" fill="#c01f30"/>
<text x="647.8" y="318.7">Day 8</text>
<text x="0" y="362.6" font-size="10.5" font-weight="bold">g</text>
<text x="53.1" y="383.4" text-anchor="middle">Day 5</text>
<text x="87.9" y="383.4" text-anchor="middle">Day 8</text>
<path d="M49.4 387.85 L49.86 388.96 L51.06 389.06 L50.15 389.84 L50.43 391.02 L49.4 390.39 L48.37 391.02 L48.65 389.84 L47.74 389.06 L48.94 388.96 ZM52.6 387.85 L53.06 388.96 L54.26 389.06 L53.35 389.84 L53.63 391.02 L52.6 390.39 L51.57 391.02 L51.85 389.84 L50.94 389.06 L52.14 388.96 ZM55.8 387.85 L56.26 388.96 L57.46 389.06 L56.55 389.84 L56.83 391.02 L55.8 390.39 L54.77 391.02 L55.05 389.84 L54.14 389.06 L55.34 388.96 ZM59 387.85 L59.46 388.96 L60.66 389.06 L59.75 389.84 L60.03 391.02 L59 390.39 L57.97 391.02 L58.25 389.84 L57.34 389.06 L58.54 388.96 Z" fill="#3a3a3a"/>
<line x1="49" y1="392.3" x2="59" y2="392.3" stroke="#555" stroke-width="0.6"/>
<path d="M80.5 403.95 L80.96 405.06 L82.16 405.16 L81.25 405.94 L81.53 407.12 L80.5 406.49 L79.47 407.12 L79.75 405.94 L78.84 405.16 L80.04 405.06 ZM83.7 403.95 L84.16 405.06 L85.36 405.16 L84.45 405.94 L84.73 407.12 L83.7 406.49 L82.67 407.12 L82.95 405.94 L82.04 405.16 L83.24 405.06 ZM86.9 403.95 L87.36 405.06 L88.56 405.16 L87.65 405.94 L87.93 407.12 L86.9 406.49 L85.87 407.12 L86.15 405.94 L85.24 405.16 L86.44 405.06 ZM90.1 403.95 L90.56 405.06 L91.76 405.16 L90.85 405.94 L91.13 407.12 L90.1 406.49 L89.07 407.12 L89.35 405.94 L88.44 405.16 L89.64 405.06 Z" fill="#3a3a3a"/>
<line x1="80.3" y1="408.4" x2="90" y2="408.4" stroke="#555" stroke-width="0.6"/>
<line x1="35.4" y1="393.1" x2="35.4" y2="464.4" stroke="#9a9a9a" stroke-width="0.7"/>
<line x1="35.4" y1="464.4" x2="105" y2="464.4" stroke="#9a9a9a" stroke-width="0.7"/>
<line x1="32" y1="462.3" x2="35.4" y2="462.3" stroke="#555" stroke-width="0.6"/>
<text x="27.9" y="464.6" text-anchor="end">0</text>
<line x1="32" y1="444.08" x2="35.4" y2="444.08" stroke="#555" stroke-width="0.6"/>
<text x="27.9" y="446.38" text-anchor="end">25</text>
<line x1="32" y1="425.86" x2="35.4" y2="425.86" stroke="#555" stroke-width="0.6"/>
<text x="27.9" y="428.16" text-anchor="end">50</text>
<line x1="32" y1="407.64" x2="35.4" y2="407.64" stroke="#555" stroke-width="0.6"/>
<text x="27.9" y="409.94" text-anchor="end">75</text>
<line x1="44.8" y1="464.4" x2="44.8" y2="467.5" stroke="#555" stroke-width="0.6"/>
<line x1="61.6" y1="464.4" x2="61.6" y2="467.5" stroke="#555" stroke-width="0.6"/>
<line x1="78.4" y1="464.4" x2="78.4" y2="467.5" stroke="#555" stroke-width="0.6"/>
<line x1="95.3" y1="464.4" x2="95.3" y2="467.5" stroke="#555" stroke-width="0.6"/>
<text transform="translate(5 428.8) rotate(-90)" x="0" y="0" text-anchor="middle">Percentage of</text>
<text transform="translate(12.8 429.1) rotate(-90)" x="0" y="0" text-anchor="middle">macrophage-like cells</text>
<text x="17.5" y="476.1" font-style="italic">Uba1:</text>
<text transform="translate(47.7 470.6) rotate(-90)" x="0" y="0" text-anchor="end" font-style="italic">+/y</text>
<text transform="translate(64.5 470.6) rotate(-90)" x="0" y="0" text-anchor="end" font-style="italic">M41T/y</text>
<text transform="translate(81.3 470.6) rotate(-90)" x="0" y="0" text-anchor="end" font-style="italic">+/y</text>
<text transform="translate(98.2 470.6) rotate(-90)" x="0" y="0" text-anchor="end" font-style="italic">M41T/y</text>
<line x1="44.8" y1="460.8" x2="61.8" y2="401.5" stroke="#d28cc2" stroke-width="0.8"/>
<line x1="44.8" y1="453.6" x2="61.8" y2="397.6" stroke="#6b4fa8" stroke-width="0.8"/>
<line x1="44.8" y1="451.9" x2="61.8" y2="396.6" stroke="#3f2180" stroke-width="0.8"/>
<line x1="78.4" y1="457.6" x2="95.3" y2="437.9" stroke="#d28cc2" stroke-width="0.8"/>
<line x1="78.4" y1="459.2" x2="95.3" y2="426.9" stroke="#6b4fa8" stroke-width="0.8"/>
<line x1="78.4" y1="447.1" x2="95.3" y2="418.9" stroke="#3f2180" stroke-width="0.8"/>
<circle cx="44.8" cy="453.6" r="2.2" fill="#6b4fa8"/>
<circle cx="44.8" cy="451.9" r="2.2" fill="#3f2180"/>
<circle cx="44.8" cy="460.8" r="2.2" fill="#d28cc2"/>
<circle cx="61.8" cy="401.5" r="2.2" fill="#d28cc2"/>
<circle cx="61.8" cy="397.6" r="2.2" fill="#6b4fa8"/>
<circle cx="61.8" cy="396.6" r="2.2" fill="#3f2180"/>
<circle cx="78.4" cy="459.2" r="2.2" fill="#6b4fa8"/>
<circle cx="78.4" cy="457.6" r="2.2" fill="#d28cc2"/>
<circle cx="78.4" cy="447.1" r="2.2" fill="#3f2180"/>
<circle cx="95.3" cy="437.9" r="2.2" fill="#d28cc2"/>
<circle cx="95.3" cy="426.9" r="2.2" fill="#6b4fa8"/>
<circle cx="95.3" cy="418.9" r="2.2" fill="#3f2180"/>
<circle cx="26.1" cy="510.5" r="2" fill="#d28cc2"/>
<text x="31.6" y="512.9" font-size="6.7" font-style="italic">WT</text>
<circle cx="55" cy="510.5" r="2" fill="#3f2180"/>
<text x="60.8" y="512.9" font-size="6.7" font-style="italic">Ripk3<tspan font-size="4.4" dy="-3.6">&#8722;/&#8722;</tspan><tspan dy="3.6"> Casp8</tspan><tspan font-size="4.4" dy="-3.6">&#8722;/&#8722;</tspan></text>
<circle cx="26.1" cy="522.1" r="2" fill="#6b4fa8"/>
<text x="31.6" y="524.6" font-size="6.7" font-style="italic">Ripk3<tspan font-size="4.4" dy="-3.6">&#8722;/&#8722;</tspan></text>
<text x="113.3" y="362.1" font-size="10.5" font-weight="bold">h</text>
<rect x="155.3" y="363.1" width="5.2" height="5.3" fill="#8fd0e3" stroke="#333" stroke-width="0.5"/>
<text x="164.5" y="368.1" font-style="italic">Uba1<tspan font-size="4.2" dy="-3.6">+/y</tspan></text>
<rect x="198" y="363.1" width="5.2" height="5.3" fill="#1d6fb8" stroke="#333" stroke-width="0.5"/>
<text x="207.8" y="368.1" font-style="italic">Uba1<tspan font-size="4" dy="-3.6">M41T/y</tspan></text>
<line x1="142.8" y1="379.4" x2="142.8" y2="463.9" stroke="#555" stroke-width="0.6"/>
<line x1="142.8" y1="463.9" x2="203.1" y2="463.9" stroke="#555" stroke-width="0.6"/>
<line x1="139.5" y1="388.5" x2="142.8" y2="388.5" stroke="#555" stroke-width="0.6"/>
<text x="137" y="390.8" text-anchor="end">0.3</text>
<line x1="139.5" y1="422.4" x2="142.8" y2="422.4" stroke="#555" stroke-width="0.6"/>
<text x="137" y="424.7" text-anchor="end">0.1</text>
<line x1="139.5" y1="456.3" x2="142.8" y2="456.3" stroke="#555" stroke-width="0.6"/>
<text x="137" y="458.6" text-anchor="end">&#8722;0.1</text>
<line x1="154.5" y1="463.9" x2="154.5" y2="466.4" stroke="#555" stroke-width="0.6"/>
<line x1="173.3" y1="463.9" x2="173.3" y2="466.4" stroke="#555" stroke-width="0.6"/>
<line x1="192.2" y1="463.9" x2="192.2" y2="466.4" stroke="#555" stroke-width="0.6"/>
<line x1="149" y1="381.7" x2="159.7" y2="381.7" stroke="#555" stroke-width="0.6"/>
<path d="M149.95 376.95 L150.41 378.06 L151.61 378.16 L150.7 378.94 L150.98 380.12 L149.95 379.49 L148.92 380.12 L149.2 378.94 L148.29 378.16 L149.49 378.06 ZM153.15 376.95 L153.61 378.06 L154.81 378.16 L153.9 378.94 L154.18 380.12 L153.15 379.49 L152.12 380.12 L152.4 378.94 L151.49 378.16 L152.69 378.06 ZM156.35 376.95 L156.81 378.06 L158.01 378.16 L157.1 378.94 L157.38 380.12 L156.35 379.49 L155.32 380.12 L155.6 378.94 L154.69 378.16 L155.89 378.06 ZM159.55 376.95 L160.01 378.06 L161.21 378.16 L160.3 378.94 L160.58 380.12 L159.55 379.49 L158.52 380.12 L158.8 378.94 L157.89 378.16 L159.09 378.06 Z" fill="#3a3a3a"/>
<line x1="167.6" y1="381.7" x2="177.9" y2="381.7" stroke="#555" stroke-width="0.6"/>
<path d="M168.35 376.95 L168.81 378.06 L170.01 378.16 L169.1 378.94 L169.38 380.12 L168.35 379.49 L167.32 380.12 L167.6 378.94 L166.69 378.16 L167.89 378.06 ZM171.55 376.95 L172.01 378.06 L173.21 378.16 L172.3 378.94 L172.58 380.12 L171.55 379.49 L170.52 380.12 L170.8 378.94 L169.89 378.16 L171.09 378.06 ZM174.75 376.95 L175.21 378.06 L176.41 378.16 L175.5 378.94 L175.78 380.12 L174.75 379.49 L173.72 380.12 L174 378.94 L173.09 378.16 L174.29 378.06 ZM177.95 376.95 L178.41 378.06 L179.61 378.16 L178.7 378.94 L178.98 380.12 L177.95 379.49 L176.92 380.12 L177.2 378.94 L176.29 378.16 L177.49 378.06 Z" fill="#3a3a3a"/>
<line x1="187.2" y1="381.7" x2="197.1" y2="381.7" stroke="#555" stroke-width="0.6"/>
<path d="M187.75 376.95 L188.21 378.06 L189.41 378.16 L188.5 378.94 L188.78 380.12 L187.75 379.49 L186.72 380.12 L187 378.94 L186.09 378.16 L187.29 378.06 ZM190.95 376.95 L191.41 378.06 L192.61 378.16 L191.7 378.94 L191.98 380.12 L190.95 379.49 L189.92 380.12 L190.2 378.94 L189.29 378.16 L190.49 378.06 ZM194.15 376.95 L194.61 378.06 L195.81 378.16 L194.9 378.94 L195.18 380.12 L194.15 379.49 L193.12 380.12 L193.4 378.94 L192.49 378.16 L193.69 378.06 ZM197.35 376.95 L197.81 378.06 L199.01 378.16 L198.1 378.94 L198.38 380.12 L197.35 379.49 L196.32 380.12 L196.6 378.94 L195.69 378.16 L196.89 378.06 Z" fill="#3a3a3a"/>
<path d="M149.92 388.6 L149.92 389.43 L149.92 390.25 L149.92 391.08 L149.92 391.91 L149.92 392.74 L149.92 393.56 L149.92 394.39 L149.92 395.22 L149.92 396.05 L149.92 396.88 L149.92 397.7 L149.92 398.53 L149.92 399.36 L149.92 400.19 L149.92 401.01 L149.92 401.84 L149.92 402.67 L149.92 403.5 L149.92 404.32 L149.92 405.15 L149.92 405.98 L149.92 406.81 L149.92 407.63 L149.92 408.46 L149.92 409.29 L149.92 410.12 L149.92 410.94 L149.92 411.77 L149.92 412.6 L149.92 413.43 L149.92 414.25 L149.92 415.08 L149.93 415.91 L149.98 416.74 L150.03 417.56 L150.1 418.39 L150.19 419.22 L150.3 420.05 L150.43 420.87 L150.58 421.7 L150.76 422.53 L150.96 423.36 L151.19 424.18 L151.44 425.01 L151.72 425.84 L152.01 426.67 L152.32 427.49 L152.64 428.32 L152.96 429.15 L153.28 429.98 L153.58 430.8 L153.85 431.63 L154.09 432.46 L154.3 433.29 L154.45 434.11 L154.55 434.94 L154.6 435.77 L154.58 436.6 L154.47 437.42 L154.27 438.25 L154.01 439.08 L153.68 439.91 L153.32 440.73 L152.92 441.56 L152.52 442.39 L152.13 443.22 L151.75 444.04 L151.41 444.87 L151.1 445.7 L150.83 446.53 L150.6 447.35 L150.41 448.18 L150.26 449.01 L150.14 449.84 L150.04 450.66 L149.97 451.49 L149.92 452.32 L149.92 453.14 L149.92 453.97 L149.92 454.8 L149.68 454.8 L149.68 453.97 L149.68 453.14 L149.68 452.32 L149.63 451.49 L149.56 450.66 L149.46 449.84 L149.34 449.01 L149.19 448.18 L149 447.35 L148.77 446.53 L148.5 445.7 L148.19 444.87 L147.85 444.04 L147.47 443.22 L147.08 442.39 L146.68 441.56 L146.28 440.73 L145.92 439.91 L145.59 439.08 L145.33 438.25 L145.13 437.42 L145.02 436.6 L145 435.77 L145.05 434.94 L145.15 434.11 L145.3 433.29 L145.51 432.46 L145.75 431.63 L146.02 430.8 L146.32 429.98 L146.64 429.15 L146.96 428.32 L147.28 427.49 L147.59 426.67 L147.88 425.84 L148.16 425.01 L148.41 424.18 L148.64 423.36 L148.84 422.53 L149.02 421.7 L149.17 420.87 L149.3 420.05 L149.41 419.22 L149.5 418.39 L149.57 417.56 L149.62 416.74 L149.67 415.91 L149.68 415.08 L149.68 414.25 L149.68 413.43 L149.68 412.6 L149.68 411.77 L149.68 410.94 L149.68 410.12 L149.68 409.29 L149.68 408.46 L149.68 407.63 L149.68 406.81 L149.68 405.98 L149.68 405.15 L149.68 404.32 L149.68 403.5 L149.68 402.67 L149.68 401.84 L149.68 401.01 L149.68 400.19 L149.68 399.36 L149.68 398.53 L149.68 397.7 L149.68 396.88 L149.68 396.05 L149.68 395.22 L149.68 394.39 L149.68 393.56 L149.68 392.74 L149.68 391.91 L149.68 391.08 L149.68 390.25 L149.68 389.43 L149.68 388.6 Z" fill="#8fd0e3" stroke="#111" stroke-width="0.72" stroke-linejoin="round"/>
<line x1="149.8" y1="388.6" x2="149.8" y2="454.8" stroke="#151515" stroke-width="0.45"/>
<rect x="147.16" y="429.8" width="5.28" height="10" fill="#8fd0e3" stroke="#111" stroke-width="0.6"/>
<line x1="147.16" y1="434.2" x2="152.44" y2="434.2" stroke="#111" stroke-width="1"/>
<path d="M158.72 383.4 L158.72 384.31 L158.72 385.21 L158.72 386.12 L158.72 387.03 L158.72 387.94 L158.72 388.84 L158.72 389.75 L158.72 390.66 L158.72 391.57 L158.72 392.47 L158.72 393.38 L158.72 394.29 L158.72 395.2 L158.72 396.1 L158.72 397.01 L158.72 397.92 L158.72 398.83 L158.72 399.73 L158.72 400.64 L158.72 401.55 L158.72 402.46 L158.72 403.37 L158.74 404.27 L158.78 405.18 L158.82 406.09 L158.88 407 L158.94 407.9 L159.02 408.81 L159.11 409.72 L159.21 410.62 L159.33 411.53 L159.46 412.44 L159.6 413.35 L159.75 414.25 L159.91 415.16 L160.08 416.07 L160.26 416.98 L160.43 417.88 L160.61 418.79 L160.78 419.7 L160.94 420.61 L161.09 421.51 L161.22 422.42 L161.33 423.33 L161.41 424.24 L161.47 425.14 L161.5 426.05 L161.5 426.96 L161.47 427.87 L161.41 428.77 L161.32 429.68 L161.22 430.59 L161.09 431.5 L160.94 432.4 L160.78 433.31 L160.61 434.22 L160.43 435.13 L160.25 436.03 L160.08 436.94 L159.91 437.85 L159.75 438.76 L159.59 439.67 L159.45 440.57 L159.33 441.48 L159.21 442.39 L159.11 443.3 L159.02 444.2 L158.94 445.11 L158.88 446.02 L158.82 446.93 L158.77 447.83 L158.74 448.74 L158.72 449.65 L158.72 450.56 L158.72 451.46 L158.72 452.37 L158.72 453.28 L158.72 454.19 L158.72 455.09 L158.72 456 L158.48 456 L158.48 455.09 L158.48 454.19 L158.48 453.28 L158.48 452.37 L158.48 451.46 L158.48 450.56 L158.48 449.65 L158.46 448.74 L158.43 447.83 L158.38 446.93 L158.32 446.02 L158.26 445.11 L158.18 444.2 L158.09 443.3 L157.99 442.39 L157.87 441.48 L157.75 440.57 L157.61 439.67 L157.45 438.76 L157.29 437.85 L157.12 436.94 L156.95 436.03 L156.77 435.13 L156.59 434.22 L156.42 433.31 L156.26 432.4 L156.11 431.5 L155.98 430.59 L155.88 429.68 L155.79 428.77 L155.73 427.87 L155.7 426.96 L155.7 426.05 L155.73 425.14 L155.79 424.24 L155.87 423.33 L155.98 422.42 L156.11 421.51 L156.26 420.61 L156.42 419.7 L156.59 418.79 L156.77 417.88 L156.94 416.98 L157.12 416.07 L157.29 415.16 L157.45 414.25 L157.6 413.35 L157.74 412.44 L157.87 411.53 L157.99 410.62 L158.09 409.72 L158.18 408.81 L158.26 407.9 L158.32 407 L158.38 406.09 L158.42 405.18 L158.46 404.27 L158.48 403.37 L158.48 402.46 L158.48 401.55 L158.48 400.64 L158.48 399.73 L158.48 398.83 L158.48 397.92 L158.48 397.01 L158.48 396.1 L158.48 395.2 L158.48 394.29 L158.48 393.38 L158.48 392.47 L158.48 391.57 L158.48 390.66 L158.48 389.75 L158.48 388.84 L158.48 387.94 L158.48 387.03 L158.48 386.12 L158.48 385.21 L158.48 384.31 L158.48 383.4 Z" fill="#1d6fb8" stroke="#111" stroke-width="0.72" stroke-linejoin="round"/>
<line x1="158.6" y1="383.4" x2="158.6" y2="456" stroke="#151515" stroke-width="0.45"/>
<rect x="157.02" y="418.2" width="3.17" height="18.2" fill="#1d6fb8" stroke="#111" stroke-width="0.6"/>
<line x1="157.02" y1="427.3" x2="160.18" y2="427.3" stroke="#111" stroke-width="1"/>
<path d="M169.12 386 L169.12 386.93 L169.12 387.85 L169.12 388.77 L169.12 389.7 L169.12 390.62 L169.12 391.55 L169.12 392.48 L169.12 393.4 L169.12 394.32 L169.12 395.25 L169.12 396.18 L169.12 397.1 L169.12 398.02 L169.12 398.95 L169.12 399.88 L169.12 400.8 L169.12 401.73 L169.12 402.65 L169.12 403.57 L169.12 404.5 L169.12 405.43 L169.12 406.35 L169.12 407.27 L169.12 408.2 L169.12 409.12 L169.12 410.05 L169.12 410.98 L169.12 411.9 L169.12 412.82 L169.12 413.75 L169.13 414.68 L169.17 415.6 L169.23 416.52 L169.3 417.45 L169.4 418.38 L169.51 419.3 L169.65 420.23 L169.81 421.15 L170.01 422.07 L170.23 423 L170.48 423.93 L170.76 424.85 L171.07 425.77 L171.4 426.7 L171.74 427.62 L172.09 428.55 L172.44 429.48 L172.77 430.4 L173.09 431.32 L173.37 432.25 L173.61 433.18 L173.8 434.1 L173.93 435.02 L173.99 435.95 L173.98 436.88 L173.87 437.8 L173.64 438.73 L173.32 439.65 L172.92 440.57 L172.48 441.5 L172.02 442.43 L171.56 443.35 L171.11 444.27 L170.71 445.2 L170.34 446.12 L170.03 447.05 L169.78 447.98 L169.57 448.9 L169.41 449.82 L169.29 450.75 L169.2 451.68 L169.13 452.6 L169.12 453.52 L169.12 454.45 L169.12 455.38 L169.12 456.3 L169.12 457.23 L169.12 458.15 L169.12 459.07 L169.12 460 L168.88 460 L168.88 459.07 L168.88 458.15 L168.88 457.23 L168.88 456.3 L168.88 455.38 L168.88 454.45 L168.88 453.52 L168.87 452.6 L168.8 451.68 L168.71 450.75 L168.59 449.82 L168.43 448.9 L168.22 447.98 L167.97 447.05 L167.66 446.12 L167.29 445.2 L166.89 444.27 L166.44 443.35 L165.98 442.43 L165.52 441.5 L165.08 440.57 L164.68 439.65 L164.36 438.73 L164.13 437.8 L164.02 436.88 L164.01 435.95 L164.07 435.02 L164.2 434.1 L164.39 433.18 L164.63 432.25 L164.91 431.32 L165.23 430.4 L165.56 429.48 L165.91 428.55 L166.26 427.62 L166.6 426.7 L166.93 425.77 L167.24 424.85 L167.52 423.93 L167.77 423 L167.99 422.07 L168.19 421.15 L168.35 420.23 L168.49 419.3 L168.6 418.38 L168.7 417.45 L168.77 416.52 L168.83 415.6 L168.87 414.68 L168.88 413.75 L168.88 412.82 L168.88 411.9 L168.88 410.98 L168.88 410.05 L168.88 409.12 L168.88 408.2 L168.88 407.27 L168.88 406.35 L168.88 405.43 L168.88 404.5 L168.88 403.57 L168.88 402.65 L168.88 401.73 L168.88 400.8 L168.88 399.88 L168.88 398.95 L168.88 398.02 L168.88 397.1 L168.88 396.18 L168.88 395.25 L168.88 394.32 L168.88 393.4 L168.88 392.48 L168.88 391.55 L168.88 390.62 L168.88 389.7 L168.88 388.77 L168.88 387.85 L168.88 386.93 L168.88 386 Z" fill="#8fd0e3" stroke="#111" stroke-width="0.72" stroke-linejoin="round"/>
<line x1="169" y1="386" x2="169" y2="460" stroke="#151515" stroke-width="0.45"/>
<rect x="166.25" y="429.8" width="5.5" height="10" fill="#8fd0e3" stroke="#111" stroke-width="0.6"/>
<line x1="166.25" y1="435.5" x2="171.75" y2="435.5" stroke="#111" stroke-width="1"/>
<path d="M177.52 383.3 L177.52 384.21 L177.52 385.12 L177.52 386.03 L177.52 386.94 L177.52 387.84 L177.52 388.75 L177.52 389.66 L177.52 390.57 L177.52 391.48 L177.52 392.39 L177.52 393.3 L177.52 394.2 L177.52 395.11 L177.52 396.02 L177.52 396.93 L177.52 397.84 L177.52 398.75 L177.52 399.66 L177.52 400.57 L177.52 401.48 L177.52 402.38 L177.52 403.29 L177.52 404.2 L177.56 405.11 L177.61 406.02 L177.68 406.93 L177.77 407.84 L177.88 408.75 L178.01 409.65 L178.17 410.56 L178.35 411.47 L178.56 412.38 L178.79 413.29 L179.04 414.2 L179.32 415.11 L179.61 416.01 L179.9 416.92 L180.19 417.83 L180.47 418.74 L180.73 419.65 L180.96 420.56 L181.14 421.47 L181.28 422.38 L181.37 423.29 L181.4 424.19 L181.38 425.1 L181.31 426.01 L181.2 426.92 L181.05 427.83 L180.87 428.74 L180.66 429.65 L180.42 430.56 L180.18 431.46 L179.92 432.37 L179.66 433.28 L179.4 434.19 L179.16 435.1 L178.92 436.01 L178.71 436.92 L178.51 437.82 L178.33 438.73 L178.17 439.64 L178.03 440.55 L177.91 441.46 L177.81 442.37 L177.72 443.28 L177.65 444.19 L177.59 445.1 L177.55 446 L177.52 446.91 L177.52 447.82 L177.52 448.73 L177.52 449.64 L177.52 450.55 L177.52 451.46 L177.52 452.37 L177.52 453.27 L177.52 454.18 L177.52 455.09 L177.52 456 L177.28 456 L177.28 455.09 L177.28 454.18 L177.28 453.27 L177.28 452.37 L177.28 451.46 L177.28 450.55 L177.28 449.64 L177.28 448.73 L177.28 447.82 L177.28 446.91 L177.25 446 L177.21 445.1 L177.15 444.19 L177.08 443.28 L176.99 442.37 L176.89 441.46 L176.77 440.55 L176.63 439.64 L176.47 438.73 L176.29 437.82 L176.09 436.92 L175.88 436.01 L175.64 435.1 L175.4 434.19 L175.14 433.28 L174.88 432.37 L174.62 431.46 L174.38 430.56 L174.14 429.65 L173.93 428.74 L173.75 427.83 L173.6 426.92 L173.49 426.01 L173.42 425.1 L173.4 424.19 L173.43 423.29 L173.52 422.38 L173.66 421.47 L173.84 420.56 L174.07 419.65 L174.33 418.74 L174.61 417.83 L174.9 416.92 L175.19 416.01 L175.48 415.11 L175.76 414.2 L176.01 413.29 L176.24 412.38 L176.45 411.47 L176.63 410.56 L176.79 409.65 L176.92 408.75 L177.03 407.84 L177.12 406.93 L177.19 406.02 L177.24 405.11 L177.28 404.2 L177.28 403.29 L177.28 402.38 L177.28 401.48 L177.28 400.57 L177.28 399.66 L177.28 398.75 L177.28 397.84 L177.28 396.93 L177.28 396.02 L177.28 395.11 L177.28 394.2 L177.28 393.3 L177.28 392.39 L177.28 391.48 L177.28 390.57 L177.28 389.66 L177.28 388.75 L177.28 387.84 L177.28 386.94 L177.28 386.03 L177.28 385.12 L177.28 384.21 L177.28 383.3 Z" fill="#1d6fb8" stroke="#111" stroke-width="0.72" stroke-linejoin="round"/>
<line x1="177.4" y1="383.3" x2="177.4" y2="456" stroke="#151515" stroke-width="0.45"/>
<rect x="175.2" y="420.5" width="4.4" height="8" fill="#1d6fb8" stroke="#111" stroke-width="0.6"/>
<line x1="175.2" y1="425" x2="179.6" y2="425" stroke="#111" stroke-width="1"/>
<path d="M188.52 387.3 L188.52 388.19 L188.52 389.08 L188.52 389.97 L188.52 390.86 L188.52 391.74 L188.52 392.63 L188.52 393.52 L188.52 394.41 L188.52 395.3 L188.52 396.19 L188.52 397.08 L188.52 397.97 L188.52 398.85 L188.52 399.74 L188.52 400.63 L188.52 401.52 L188.52 402.41 L188.52 403.3 L188.52 404.19 L188.52 405.07 L188.52 405.96 L188.52 406.85 L188.52 407.74 L188.52 408.63 L188.52 409.52 L188.52 410.41 L188.52 411.3 L188.56 412.19 L188.6 413.07 L188.66 413.96 L188.72 414.85 L188.8 415.74 L188.9 416.63 L189.01 417.52 L189.14 418.41 L189.29 419.3 L189.46 420.18 L189.65 421.07 L189.85 421.96 L190.08 422.85 L190.32 423.74 L190.57 424.63 L190.83 425.52 L191.1 426.4 L191.37 427.29 L191.63 428.18 L191.89 429.07 L192.12 429.96 L192.34 430.85 L192.52 431.74 L192.68 432.63 L192.79 433.51 L192.87 434.4 L192.9 435.29 L192.88 436.18 L192.77 437.07 L192.59 437.96 L192.34 438.85 L192.04 439.74 L191.7 440.62 L191.33 441.51 L190.96 442.4 L190.59 443.29 L190.24 444.18 L189.92 445.07 L189.63 445.96 L189.38 446.85 L189.17 447.73 L188.99 448.62 L188.84 449.51 L188.73 450.4 L188.64 451.29 L188.57 452.18 L188.52 453.07 L188.52 453.96 L188.52 454.84 L188.52 455.73 L188.52 456.62 L188.52 457.51 L188.52 458.4 L188.28 458.4 L188.28 457.51 L188.28 456.62 L188.28 455.73 L188.28 454.84 L188.28 453.96 L188.28 453.07 L188.23 452.18 L188.16 451.29 L188.07 450.4 L187.96 449.51 L187.81 448.62 L187.63 447.73 L187.42 446.85 L187.17 445.96 L186.88 445.07 L186.56 444.18 L186.21 443.29 L185.84 442.4 L185.47 441.51 L185.1 440.62 L184.76 439.74 L184.46 438.85 L184.21 437.96 L184.03 437.07 L183.92 436.18 L183.9 435.29 L183.93 434.4 L184.01 433.51 L184.12 432.63 L184.28 431.74 L184.46 430.85 L184.68 429.96 L184.91 429.07 L185.17 428.18 L185.43 427.29 L185.7 426.4 L185.97 425.52 L186.23 424.63 L186.48 423.74 L186.72 422.85 L186.95 421.96 L187.15 421.07 L187.34 420.18 L187.51 419.3 L187.66 418.41 L187.79 417.52 L187.9 416.63 L188 415.74 L188.08 414.85 L188.14 413.96 L188.2 413.07 L188.24 412.19 L188.28 411.3 L188.28 410.41 L188.28 409.52 L188.28 408.63 L188.28 407.74 L188.28 406.85 L188.28 405.96 L188.28 405.07 L188.28 404.19 L188.28 403.3 L188.28 402.41 L188.28 401.52 L188.28 400.63 L188.28 399.74 L188.28 398.85 L188.28 397.97 L188.28 397.08 L188.28 396.19 L188.28 395.3 L188.28 394.41 L188.28 393.52 L188.28 392.63 L188.28 391.74 L188.28 390.86 L188.28 389.97 L188.28 389.08 L188.28 388.19 L188.28 387.3 Z" fill="#8fd0e3" stroke="#111" stroke-width="0.72" stroke-linejoin="round"/>
<line x1="188.4" y1="387.3" x2="188.4" y2="458.4" stroke="#151515" stroke-width="0.45"/>
<rect x="185.94" y="425.6" width="4.91" height="14.8" fill="#8fd0e3" stroke="#111" stroke-width="0.6"/>
<line x1="185.94" y1="434.2" x2="190.86" y2="434.2" stroke="#111" stroke-width="1"/>
<path d="M196.72 387.9 L196.72 388.75 L196.72 389.59 L196.72 390.44 L196.72 391.28 L196.72 392.12 L196.72 392.97 L196.72 393.81 L196.72 394.66 L196.72 395.5 L196.72 396.35 L196.72 397.19 L196.72 398.04 L196.72 398.88 L196.72 399.73 L196.72 400.57 L196.72 401.42 L196.72 402.26 L196.77 403.11 L196.84 403.95 L196.92 404.8 L197.03 405.64 L197.16 406.49 L197.32 407.33 L197.52 408.18 L197.74 409.02 L198 409.87 L198.29 410.71 L198.6 411.56 L198.93 412.4 L199.27 413.25 L199.6 414.09 L199.93 414.94 L200.22 415.78 L200.47 416.63 L200.68 417.47 L200.82 418.32 L200.89 419.16 L200.89 420.01 L200.85 420.86 L200.75 421.7 L200.62 422.54 L200.44 423.39 L200.24 424.24 L200 425.08 L199.75 425.93 L199.48 426.77 L199.2 427.62 L198.93 428.46 L198.66 429.31 L198.4 430.15 L198.16 431 L197.93 431.84 L197.73 432.69 L197.54 433.53 L197.38 434.38 L197.24 435.22 L197.12 436.06 L197.01 436.91 L196.93 437.75 L196.86 438.6 L196.8 439.44 L196.75 440.29 L196.72 441.13 L196.72 441.98 L196.72 442.82 L196.72 443.67 L196.72 444.51 L196.72 445.36 L196.72 446.2 L196.72 447.05 L196.72 447.89 L196.72 448.74 L196.72 449.58 L196.72 450.43 L196.72 451.27 L196.72 452.12 L196.72 452.97 L196.72 453.81 L196.72 454.65 L196.72 455.5 L196.48 455.5 L196.48 454.65 L196.48 453.81 L196.48 452.97 L196.48 452.12 L196.48 451.27 L196.48 450.43 L196.48 449.58 L196.48 448.74 L196.48 447.89 L196.48 447.05 L196.48 446.2 L196.48 445.36 L196.48 444.51 L196.48 443.67 L196.48 442.82 L196.48 441.98 L196.48 441.13 L196.45 440.29 L196.4 439.44 L196.34 438.6 L196.27 437.75 L196.19 436.91 L196.08 436.06 L195.96 435.22 L195.82 434.38 L195.66 433.53 L195.47 432.69 L195.27 431.84 L195.04 431 L194.8 430.15 L194.54 429.31 L194.27 428.46 L194 427.62 L193.72 426.77 L193.45 425.93 L193.2 425.08 L192.96 424.24 L192.76 423.39 L192.58 422.54 L192.45 421.7 L192.35 420.86 L192.31 420.01 L192.31 419.16 L192.38 418.32 L192.52 417.47 L192.73 416.63 L192.98 415.78 L193.27 414.94 L193.6 414.09 L193.93 413.25 L194.27 412.4 L194.6 411.56 L194.91 410.71 L195.2 409.87 L195.46 409.02 L195.68 408.18 L195.88 407.33 L196.04 406.49 L196.17 405.64 L196.28 404.8 L196.36 403.95 L196.43 403.11 L196.48 402.26 L196.48 401.42 L196.48 400.57 L196.48 399.73 L196.48 398.88 L196.48 398.04 L196.48 397.19 L196.48 396.35 L196.48 395.5 L196.48 394.66 L196.48 393.81 L196.48 392.97 L196.48 392.12 L196.48 391.28 L196.48 390.44 L196.48 389.59 L196.48 388.75 L196.48 387.9 Z" fill="#1d6fb8" stroke="#111" stroke-width="0.72" stroke-linejoin="round"/>
<line x1="196.6" y1="387.9" x2="196.6" y2="455.5" stroke="#151515" stroke-width="0.45"/>
<rect x="194.23" y="415.9" width="4.73" height="8.6" fill="#1d6fb8" stroke="#111" stroke-width="0.6"/>
<line x1="194.23" y1="420.8" x2="198.97" y2="420.8" stroke="#111" stroke-width="1"/>
<text transform="translate(118.5 421) rotate(-90)" x="0" y="0" text-anchor="middle">Myeloid differentiation</text>
<text transform="translate(157.2 472) rotate(-90)" x="0" y="0" font-size="6.4" text-anchor="end" font-style="italic">WT</text>
<text transform="translate(176 470.2) rotate(-90)" x="0" y="0" font-size="6.4" text-anchor="end" font-style="italic">Ripk3<tspan font-size="4.2" dy="-3.4">&#8722;/&#8722;</tspan></text>
<text transform="translate(194.9 470.2) rotate(-90)" x="0" y="0" font-size="6.4" text-anchor="end" font-style="italic">Ripk3<tspan font-size="4.2" dy="-3.4">&#8722;/&#8722;</tspan><tspan dy="3.4"> Casp8</tspan><tspan font-size="4.2" dy="-3.4">&#8722;/&#8722;</tspan></text>
<line x1="234.4" y1="379.4" x2="234.4" y2="463.9" stroke="#555" stroke-width="0.6"/>
<line x1="234.4" y1="463.9" x2="299.8" y2="463.9" stroke="#555" stroke-width="0.6"/>
<line x1="231.1" y1="399.3" x2="234.4" y2="399.3" stroke="#555" stroke-width="0.6"/>
<text x="228.6" y="401.6" text-anchor="end">1.0</text>
<line x1="231.1" y1="427.8" x2="234.4" y2="427.8" stroke="#555" stroke-width="0.6"/>
<text x="228.6" y="430.1" text-anchor="end">0.5</text>
<line x1="231.1" y1="456.3" x2="234.4" y2="456.3" stroke="#555" stroke-width="0.6"/>
<text x="228.6" y="458.6" text-anchor="end">0</text>
<line x1="245.8" y1="463.9" x2="245.8" y2="466.4" stroke="#555" stroke-width="0.6"/>
<line x1="266.1" y1="463.9" x2="266.1" y2="466.4" stroke="#555" stroke-width="0.6"/>
<line x1="287.5" y1="463.9" x2="287.5" y2="466.4" stroke="#555" stroke-width="0.6"/>
<line x1="240.6" y1="381.7" x2="251.5" y2="381.7" stroke="#555" stroke-width="0.6"/>
<path d="M241.65 376.95 L242.11 378.06 L243.31 378.16 L242.4 378.94 L242.68 380.12 L241.65 379.49 L240.62 380.12 L240.9 378.94 L239.99 378.16 L241.19 378.06 ZM244.85 376.95 L245.31 378.06 L246.51 378.16 L245.6 378.94 L245.88 380.12 L244.85 379.49 L243.82 380.12 L244.1 378.94 L243.19 378.16 L244.39 378.06 ZM248.05 376.95 L248.51 378.06 L249.71 378.16 L248.8 378.94 L249.08 380.12 L248.05 379.49 L247.02 380.12 L247.3 378.94 L246.39 378.16 L247.59 378.06 ZM251.25 376.95 L251.71 378.06 L252.91 378.16 L252 378.94 L252.28 380.12 L251.25 379.49 L250.22 380.12 L250.5 378.94 L249.59 378.16 L250.79 378.06 Z" fill="#3a3a3a"/>
<line x1="261.9" y1="381.7" x2="272.3" y2="381.7" stroke="#555" stroke-width="0.6"/>
<path d="M262.7 376.95 L263.16 378.06 L264.36 378.16 L263.45 378.94 L263.73 380.12 L262.7 379.49 L261.67 380.12 L261.95 378.94 L261.04 378.16 L262.24 378.06 ZM265.9 376.95 L266.36 378.06 L267.56 378.16 L266.65 378.94 L266.93 380.12 L265.9 379.49 L264.87 380.12 L265.15 378.94 L264.24 378.16 L265.44 378.06 ZM269.1 376.95 L269.56 378.06 L270.76 378.16 L269.85 378.94 L270.13 380.12 L269.1 379.49 L268.07 380.12 L268.35 378.94 L267.44 378.16 L268.64 378.06 ZM272.3 376.95 L272.76 378.06 L273.96 378.16 L273.05 378.94 L273.33 380.12 L272.3 379.49 L271.27 380.12 L271.55 378.94 L270.64 378.16 L271.84 378.06 Z" fill="#3a3a3a"/>
<line x1="281.8" y1="381.7" x2="293.2" y2="381.7" stroke="#555" stroke-width="0.6"/>
<path d="M283.1 376.95 L283.56 378.06 L284.76 378.16 L283.85 378.94 L284.13 380.12 L283.1 379.49 L282.07 380.12 L282.35 378.94 L281.44 378.16 L282.64 378.06 ZM286.3 376.95 L286.76 378.06 L287.96 378.16 L287.05 378.94 L287.33 380.12 L286.3 379.49 L285.27 380.12 L285.55 378.94 L284.64 378.16 L285.84 378.06 ZM289.5 376.95 L289.96 378.06 L291.16 378.16 L290.25 378.94 L290.53 380.12 L289.5 379.49 L288.47 380.12 L288.75 378.94 L287.84 378.16 L289.04 378.06 ZM292.7 376.95 L293.16 378.06 L294.36 378.16 L293.45 378.94 L293.73 380.12 L292.7 379.49 L291.67 380.12 L291.95 378.94 L291.04 378.16 L292.24 378.06 Z" fill="#3a3a3a"/>
<path d="M241.92 383.2 L241.92 384.09 L241.92 384.98 L241.92 385.87 L241.92 386.76 L241.92 387.65 L241.92 388.54 L241.92 389.43 L241.95 390.32 L242.08 391.21 L242.3 392.1 L242.64 392.99 L243.12 393.88 L243.73 394.77 L244.45 395.66 L245.22 396.55 L245.93 397.44 L246.48 398.33 L246.77 399.22 L246.77 400.11 L246.59 401 L246.26 401.89 L245.81 402.78 L245.29 403.67 L244.73 404.56 L244.18 405.45 L243.67 406.34 L243.21 407.23 L242.83 408.12 L242.53 409.01 L242.3 409.9 L242.13 410.79 L242.01 411.68 L241.93 412.57 L241.92 413.46 L241.92 414.35 L241.92 415.24 L241.92 416.13 L241.92 417.02 L241.92 417.91 L241.92 418.8 L241.92 419.69 L241.92 420.58 L241.92 421.47 L241.92 422.36 L241.92 423.25 L241.92 424.14 L241.92 425.03 L241.92 425.92 L241.92 426.81 L241.92 427.7 L241.92 428.59 L241.92 429.48 L241.92 430.37 L241.92 431.26 L241.92 432.15 L241.92 433.04 L241.92 433.93 L241.92 434.82 L241.92 435.71 L241.92 436.6 L241.92 437.49 L241.92 438.38 L241.92 439.27 L241.92 440.16 L241.92 441.05 L241.92 441.94 L241.92 442.83 L241.92 443.72 L241.92 444.61 L241.92 445.5 L241.92 446.39 L241.92 447.28 L241.92 448.17 L241.92 449.06 L241.92 449.95 L241.92 450.84 L241.92 451.73 L241.92 452.62 L241.92 453.51 L241.92 454.4 L241.68 454.4 L241.68 453.51 L241.68 452.62 L241.68 451.73 L241.68 450.84 L241.68 449.95 L241.68 449.06 L241.68 448.17 L241.68 447.28 L241.68 446.39 L241.68 445.5 L241.68 444.61 L241.68 443.72 L241.68 442.83 L241.68 441.94 L241.68 441.05 L241.68 440.16 L241.68 439.27 L241.68 438.38 L241.68 437.49 L241.68 436.6 L241.68 435.71 L241.68 434.82 L241.68 433.93 L241.68 433.04 L241.68 432.15 L241.68 431.26 L241.68 430.37 L241.68 429.48 L241.68 428.59 L241.68 427.7 L241.68 426.81 L241.68 425.92 L241.68 425.03 L241.68 424.14 L241.68 423.25 L241.68 422.36 L241.68 421.47 L241.68 420.58 L241.68 419.69 L241.68 418.8 L241.68 417.91 L241.68 417.02 L241.68 416.13 L241.68 415.24 L241.68 414.35 L241.68 413.46 L241.67 412.57 L241.59 411.68 L241.47 410.79 L241.3 409.9 L241.07 409.01 L240.77 408.12 L240.39 407.23 L239.93 406.34 L239.42 405.45 L238.87 404.56 L238.31 403.67 L237.79 402.78 L237.34 401.89 L237.01 401 L236.83 400.11 L236.83 399.22 L237.12 398.33 L237.67 397.44 L238.38 396.55 L239.15 395.66 L239.87 394.77 L240.48 393.88 L240.96 392.99 L241.3 392.1 L241.52 391.21 L241.65 390.32 L241.68 389.43 L241.68 388.54 L241.68 387.65 L241.68 386.76 L241.68 385.87 L241.68 384.98 L241.68 384.09 L241.68 383.2 Z" fill="#8fd0e3" stroke="#111" stroke-width="0.72" stroke-linejoin="round"/>
<line x1="241.8" y1="383.2" x2="241.8" y2="454.4" stroke="#151515" stroke-width="0.45"/>
<rect x="239.05" y="398.5" width="5.5" height="5.1" fill="#8fd0e3" stroke="#111" stroke-width="0.6"/>
<line x1="239.05" y1="401.3" x2="244.55" y2="401.3" stroke="#111" stroke-width="1"/>
<path d="M251.03 388.1 L251.09 388.96 L251.16 389.83 L251.26 390.69 L251.38 391.56 L251.54 392.42 L251.72 393.28 L251.94 394.15 L252.19 395.01 L252.46 395.87 L252.75 396.74 L253.06 397.6 L253.36 398.47 L253.65 399.33 L253.91 400.19 L254.12 401.06 L254.28 401.92 L254.38 402.78 L254.4 403.65 L254.36 404.51 L254.26 405.38 L254.1 406.24 L253.9 407.1 L253.66 407.97 L253.4 408.83 L253.12 409.69 L252.84 410.56 L252.57 411.42 L252.3 412.29 L252.06 413.15 L251.85 414.01 L251.66 414.88 L251.49 415.74 L251.36 416.6 L251.25 417.47 L251.16 418.33 L251.09 419.19 L251.04 420.06 L251.02 420.92 L251.02 421.79 L251.02 422.65 L251.02 423.51 L251.02 424.38 L251.02 425.24 L251.02 426.11 L251.02 426.97 L251.02 427.83 L251.02 428.7 L251.02 429.56 L251.02 430.42 L251.02 431.29 L251.02 432.15 L251.02 433.01 L251.02 433.88 L251.02 434.74 L251.02 435.61 L251.02 436.47 L251.02 437.33 L251.02 438.2 L251.02 439.06 L251.02 439.93 L251.02 440.79 L251.02 441.65 L251.02 442.52 L251.02 443.38 L251.02 444.24 L251.02 445.11 L251.02 445.97 L251.02 446.83 L251.02 447.7 L251.02 448.56 L251.02 449.43 L251.02 450.29 L251.02 451.15 L251.02 452.02 L251.02 452.88 L251.02 453.75 L251.02 454.61 L251.02 455.47 L251.02 456.34 L251.02 457.2 L250.78 457.2 L250.78 456.34 L250.78 455.47 L250.78 454.61 L250.78 453.75 L250.78 452.88 L250.78 452.02 L250.78 451.15 L250.78 450.29 L250.78 449.43 L250.78 448.56 L250.78 447.7 L250.78 446.83 L250.78 445.97 L250.78 445.11 L250.78 444.24 L250.78 443.38 L250.78 442.52 L250.78 441.65 L250.78 440.79 L250.78 439.93 L250.78 439.06 L250.78 438.2 L250.78 437.33 L250.78 436.47 L250.78 435.61 L250.78 434.74 L250.78 433.88 L250.78 433.01 L250.78 432.15 L250.78 431.29 L250.78 430.42 L250.78 429.56 L250.78 428.7 L250.78 427.83 L250.78 426.97 L250.78 426.11 L250.78 425.24 L250.78 424.38 L250.78 423.51 L250.78 422.65 L250.78 421.79 L250.78 420.92 L250.76 420.06 L250.71 419.19 L250.64 418.33 L250.55 417.47 L250.44 416.6 L250.31 415.74 L250.14 414.88 L249.95 414.01 L249.74 413.15 L249.5 412.29 L249.23 411.42 L248.96 410.56 L248.68 409.69 L248.4 408.83 L248.14 407.97 L247.9 407.1 L247.7 406.24 L247.54 405.38 L247.44 404.51 L247.4 403.65 L247.42 402.78 L247.52 401.92 L247.68 401.06 L247.89 400.19 L248.15 399.33 L248.44 398.47 L248.74 397.6 L249.05 396.74 L249.34 395.87 L249.61 395.01 L249.86 394.15 L250.08 393.28 L250.26 392.42 L250.42 391.56 L250.54 390.69 L250.64 389.83 L250.71 388.96 L250.77 388.1 Z" fill="#1d6fb8" stroke="#111" stroke-width="0.72" stroke-linejoin="round"/>
<line x1="250.9" y1="388.1" x2="250.9" y2="457.2" stroke="#151515" stroke-width="0.45"/>
<rect x="248.97" y="399.6" width="3.85" height="10.8" fill="#1d6fb8" stroke="#111" stroke-width="0.6"/>
<line x1="248.97" y1="404.8" x2="252.83" y2="404.8" stroke="#111" stroke-width="1"/>
<path d="M262.32 384.2 L262.32 385.11 L262.32 386.01 L262.32 386.92 L262.32 387.83 L262.32 388.74 L262.32 389.64 L262.38 390.55 L262.53 391.46 L262.79 392.37 L263.18 393.27 L263.71 394.18 L264.38 395.09 L265.14 396 L265.92 396.9 L266.59 397.81 L267.04 398.72 L267.2 399.63 L267.11 400.53 L266.84 401.44 L266.44 402.35 L265.94 403.26 L265.38 404.17 L264.81 405.07 L264.27 405.98 L263.78 406.89 L263.36 407.8 L263.03 408.7 L262.77 409.61 L262.58 410.52 L262.44 411.43 L262.35 412.33 L262.32 413.24 L262.32 414.15 L262.32 415.06 L262.32 415.96 L262.32 416.87 L262.32 417.78 L262.32 418.69 L262.32 419.59 L262.32 420.5 L262.32 421.41 L262.32 422.31 L262.32 423.22 L262.32 424.13 L262.32 425.04 L262.32 425.94 L262.32 426.85 L262.32 427.76 L262.32 428.67 L262.32 429.57 L262.32 430.48 L262.32 431.39 L262.32 432.3 L262.32 433.2 L262.32 434.11 L262.32 435.02 L262.32 435.93 L262.32 436.83 L262.32 437.74 L262.32 438.65 L262.32 439.56 L262.32 440.47 L262.32 441.37 L262.32 442.28 L262.32 443.19 L262.32 444.1 L262.32 445 L262.32 445.91 L262.32 446.82 L262.32 447.73 L262.32 448.63 L262.32 449.54 L262.32 450.45 L262.32 451.36 L262.32 452.26 L262.32 453.17 L262.32 454.08 L262.32 454.99 L262.32 455.89 L262.32 456.8 L262.08 456.8 L262.08 455.89 L262.08 454.99 L262.08 454.08 L262.08 453.17 L262.08 452.26 L262.08 451.36 L262.08 450.45 L262.08 449.54 L262.08 448.63 L262.08 447.73 L262.08 446.82 L262.08 445.91 L262.08 445 L262.08 444.1 L262.08 443.19 L262.08 442.28 L262.08 441.37 L262.08 440.47 L262.08 439.56 L262.08 438.65 L262.08 437.74 L262.08 436.83 L262.08 435.93 L262.08 435.02 L262.08 434.11 L262.08 433.2 L262.08 432.3 L262.08 431.39 L262.08 430.48 L262.08 429.57 L262.08 428.67 L262.08 427.76 L262.08 426.85 L262.08 425.94 L262.08 425.04 L262.08 424.13 L262.08 423.22 L262.08 422.31 L262.08 421.41 L262.08 420.5 L262.08 419.59 L262.08 418.69 L262.08 417.78 L262.08 416.87 L262.08 415.96 L262.08 415.06 L262.08 414.15 L262.08 413.24 L262.05 412.33 L261.96 411.43 L261.82 410.52 L261.63 409.61 L261.37 408.7 L261.04 407.8 L260.62 406.89 L260.13 405.98 L259.59 405.07 L259.02 404.17 L258.46 403.26 L257.96 402.35 L257.56 401.44 L257.29 400.53 L257.2 399.63 L257.36 398.72 L257.81 397.81 L258.48 396.9 L259.26 396 L260.02 395.09 L260.69 394.18 L261.22 393.27 L261.61 392.37 L261.87 391.46 L262.02 390.55 L262.08 389.64 L262.08 388.74 L262.08 387.83 L262.08 386.92 L262.08 386.01 L262.08 385.11 L262.08 384.2 Z" fill="#8fd0e3" stroke="#111" stroke-width="0.72" stroke-linejoin="round"/>
<line x1="262.2" y1="384.2" x2="262.2" y2="456.8" stroke="#151515" stroke-width="0.45"/>
<rect x="259.45" y="397.9" width="5.5" height="4.6" fill="#8fd0e3" stroke="#111" stroke-width="0.6"/>
<line x1="259.45" y1="400.8" x2="264.95" y2="400.8" stroke="#111" stroke-width="1"/>
<path d="M271.62 387.1 L271.62 387.93 L271.62 388.76 L271.62 389.59 L271.65 390.42 L271.71 391.24 L271.79 392.07 L271.89 392.9 L272.01 393.73 L272.16 394.56 L272.35 395.39 L272.56 396.22 L272.8 397.05 L273.06 397.87 L273.34 398.7 L273.63 399.53 L273.92 400.36 L274.2 401.19 L274.46 402.02 L274.67 402.85 L274.84 403.68 L274.95 404.5 L275 405.33 L274.98 406.16 L274.91 406.99 L274.78 407.82 L274.61 408.65 L274.4 409.48 L274.16 410.31 L273.9 411.13 L273.64 411.96 L273.37 412.79 L273.1 413.62 L272.86 414.45 L272.63 415.28 L272.42 416.11 L272.24 416.94 L272.09 417.76 L271.96 418.59 L271.85 419.42 L271.77 420.25 L271.7 421.08 L271.64 421.91 L271.62 422.74 L271.62 423.56 L271.62 424.39 L271.62 425.22 L271.62 426.05 L271.62 426.88 L271.62 427.71 L271.62 428.54 L271.62 429.37 L271.62 430.19 L271.62 431.02 L271.62 431.85 L271.62 432.68 L271.62 433.51 L271.62 434.34 L271.62 435.17 L271.62 436 L271.62 436.82 L271.62 437.65 L271.62 438.48 L271.62 439.31 L271.62 440.14 L271.62 440.97 L271.62 441.8 L271.62 442.63 L271.62 443.45 L271.62 444.28 L271.62 445.11 L271.62 445.94 L271.62 446.77 L271.62 447.6 L271.62 448.43 L271.62 449.26 L271.62 450.08 L271.62 450.91 L271.62 451.74 L271.62 452.57 L271.62 453.4 L271.38 453.4 L271.38 452.57 L271.38 451.74 L271.38 450.91 L271.38 450.08 L271.38 449.26 L271.38 448.43 L271.38 447.6 L271.38 446.77 L271.38 445.94 L271.38 445.11 L271.38 444.28 L271.38 443.45 L271.38 442.63 L271.38 441.8 L271.38 440.97 L271.38 440.14 L271.38 439.31 L271.38 438.48 L271.38 437.65 L271.38 436.82 L271.38 436 L271.38 435.17 L271.38 434.34 L271.38 433.51 L271.38 432.68 L271.38 431.85 L271.38 431.02 L271.38 430.19 L271.38 429.37 L271.38 428.54 L271.38 427.71 L271.38 426.88 L271.38 426.05 L271.38 425.22 L271.38 424.39 L271.38 423.56 L271.38 422.74 L271.36 421.91 L271.3 421.08 L271.23 420.25 L271.15 419.42 L271.04 418.59 L270.91 417.76 L270.76 416.94 L270.58 416.11 L270.37 415.28 L270.14 414.45 L269.9 413.62 L269.63 412.79 L269.36 411.96 L269.1 411.13 L268.84 410.31 L268.6 409.48 L268.39 408.65 L268.22 407.82 L268.09 406.99 L268.02 406.16 L268 405.33 L268.05 404.5 L268.16 403.68 L268.33 402.85 L268.54 402.02 L268.8 401.19 L269.08 400.36 L269.37 399.53 L269.66 398.7 L269.94 397.87 L270.2 397.05 L270.44 396.22 L270.65 395.39 L270.84 394.56 L270.99 393.73 L271.11 392.9 L271.21 392.07 L271.29 391.24 L271.35 390.42 L271.38 389.59 L271.38 388.76 L271.38 387.93 L271.38 387.1 Z" fill="#1d6fb8" stroke="#111" stroke-width="0.72" stroke-linejoin="round"/>
<line x1="271.5" y1="387.1" x2="271.5" y2="453.4" stroke="#151515" stroke-width="0.45"/>
<rect x="269.57" y="400.8" width="3.85" height="11.4" fill="#1d6fb8" stroke="#111" stroke-width="0.6"/>
<line x1="269.57" y1="406.5" x2="273.43" y2="406.5" stroke="#111" stroke-width="1"/>
<path d="M282.82 384.2 L282.82 385.15 L282.82 386.11 L282.82 387.06 L282.82 388.02 L282.82 388.97 L282.85 389.93 L282.99 390.88 L283.23 391.84 L283.59 392.8 L284.1 393.75 L284.73 394.7 L285.43 395.66 L286.11 396.62 L286.66 397.57 L286.96 398.52 L286.98 399.48 L286.86 400.44 L286.61 401.39 L286.27 402.34 L285.87 403.3 L285.42 404.25 L284.97 405.21 L284.54 406.17 L284.15 407.12 L283.8 408.07 L283.52 409.03 L283.29 409.99 L283.11 410.94 L282.98 411.89 L282.88 412.85 L282.82 413.81 L282.82 414.76 L282.82 415.72 L282.82 416.67 L282.82 417.62 L282.82 418.58 L282.82 419.54 L282.82 420.49 L282.82 421.44 L282.82 422.4 L282.82 423.36 L282.82 424.31 L282.82 425.26 L282.82 426.22 L282.82 427.18 L282.82 428.13 L282.82 429.09 L282.82 430.04 L282.82 431 L282.82 431.95 L282.82 432.91 L282.82 433.86 L282.82 434.81 L282.82 435.77 L282.82 436.73 L282.82 437.68 L282.82 438.63 L282.82 439.59 L282.82 440.55 L282.82 441.5 L282.82 442.46 L282.82 443.41 L282.82 444.37 L282.82 445.32 L282.82 446.28 L282.82 447.23 L282.82 448.19 L282.82 449.14 L282.82 450.1 L282.82 451.05 L282.82 452 L282.82 452.96 L282.82 453.92 L282.82 454.87 L282.82 455.83 L282.82 456.78 L282.82 457.74 L282.82 458.69 L282.82 459.65 L282.82 460.6 L282.58 460.6 L282.58 459.65 L282.58 458.69 L282.58 457.74 L282.58 456.78 L282.58 455.83 L282.58 454.87 L282.58 453.92 L282.58 452.96 L282.58 452 L282.58 451.05 L282.58 450.1 L282.58 449.14 L282.58 448.19 L282.58 447.23 L282.58 446.28 L282.58 445.32 L282.58 444.37 L282.58 443.41 L282.58 442.46 L282.58 441.5 L282.58 440.55 L282.58 439.59 L282.58 438.63 L282.58 437.68 L282.58 436.73 L282.58 435.77 L282.58 434.81 L282.58 433.86 L282.58 432.91 L282.58 431.95 L282.58 431 L282.58 430.04 L282.58 429.09 L282.58 428.13 L282.58 427.18 L282.58 426.22 L282.58 425.26 L282.58 424.31 L282.58 423.36 L282.58 422.4 L282.58 421.44 L282.58 420.49 L282.58 419.54 L282.58 418.58 L282.58 417.62 L282.58 416.67 L282.58 415.72 L282.58 414.76 L282.58 413.81 L282.52 412.85 L282.42 411.89 L282.29 410.94 L282.11 409.99 L281.88 409.03 L281.6 408.07 L281.25 407.12 L280.86 406.17 L280.43 405.21 L279.98 404.25 L279.53 403.3 L279.13 402.34 L278.79 401.39 L278.54 400.44 L278.42 399.48 L278.44 398.52 L278.74 397.57 L279.29 396.62 L279.97 395.66 L280.67 394.7 L281.3 393.75 L281.81 392.8 L282.17 391.84 L282.41 390.88 L282.55 389.93 L282.58 388.97 L282.58 388.02 L282.58 387.06 L282.58 386.11 L282.58 385.15 L282.58 384.2 Z" fill="#8fd0e3" stroke="#111" stroke-width="0.72" stroke-linejoin="round"/>
<line x1="282.7" y1="384.2" x2="282.7" y2="460.6" stroke="#151515" stroke-width="0.45"/>
<rect x="281.07" y="397.9" width="3.27" height="10.8" fill="#8fd0e3" stroke="#111" stroke-width="0.6"/>
<line x1="281.07" y1="400.8" x2="284.33" y2="400.8" stroke="#111" stroke-width="1"/>
<path d="M292.12 388.1 L292.12 388.95 L292.12 389.81 L292.12 390.66 L292.15 391.51 L292.21 392.36 L292.28 393.22 L292.36 394.07 L292.46 394.92 L292.59 395.77 L292.73 396.62 L292.9 397.48 L293.1 398.33 L293.31 399.18 L293.54 400.04 L293.79 400.89 L294.04 401.74 L294.3 402.59 L294.55 403.45 L294.79 404.3 L295.01 405.15 L295.19 406 L295.34 406.86 L295.44 407.71 L295.49 408.56 L295.49 409.41 L295.43 410.27 L295.32 411.12 L295.15 411.97 L294.94 412.82 L294.7 413.68 L294.44 414.53 L294.16 415.38 L293.88 416.23 L293.61 417.09 L293.36 417.94 L293.13 418.79 L292.92 419.64 L292.73 420.5 L292.58 421.35 L292.45 422.2 L292.34 423.05 L292.25 423.91 L292.19 424.76 L292.13 425.61 L292.12 426.46 L292.12 427.31 L292.12 428.17 L292.12 429.02 L292.12 429.87 L292.12 430.73 L292.12 431.58 L292.12 432.43 L292.12 433.28 L292.12 434.13 L292.12 434.99 L292.12 435.84 L292.12 436.69 L292.12 437.55 L292.12 438.4 L292.12 439.25 L292.12 440.1 L292.12 440.96 L292.12 441.81 L292.12 442.66 L292.12 443.51 L292.12 444.37 L292.12 445.22 L292.12 446.07 L292.12 446.92 L292.12 447.78 L292.12 448.63 L292.12 449.48 L292.12 450.33 L292.12 451.19 L292.12 452.04 L292.12 452.89 L292.12 453.74 L292.12 454.6 L292.12 455.45 L292.12 456.3 L291.88 456.3 L291.88 455.45 L291.88 454.6 L291.88 453.74 L291.88 452.89 L291.88 452.04 L291.88 451.19 L291.88 450.33 L291.88 449.48 L291.88 448.63 L291.88 447.78 L291.88 446.92 L291.88 446.07 L291.88 445.22 L291.88 444.37 L291.88 443.51 L291.88 442.66 L291.88 441.81 L291.88 440.96 L291.88 440.1 L291.88 439.25 L291.88 438.4 L291.88 437.55 L291.88 436.69 L291.88 435.84 L291.88 434.99 L291.88 434.13 L291.88 433.28 L291.88 432.43 L291.88 431.58 L291.88 430.73 L291.88 429.87 L291.88 429.02 L291.88 428.17 L291.88 427.31 L291.88 426.46 L291.87 425.61 L291.81 424.76 L291.75 423.91 L291.66 423.05 L291.55 422.2 L291.42 421.35 L291.27 420.5 L291.08 419.64 L290.87 418.79 L290.64 417.94 L290.39 417.09 L290.12 416.23 L289.84 415.38 L289.56 414.53 L289.3 413.68 L289.06 412.82 L288.85 411.97 L288.68 411.12 L288.57 410.27 L288.51 409.41 L288.51 408.56 L288.56 407.71 L288.66 406.86 L288.81 406 L288.99 405.15 L289.21 404.3 L289.45 403.45 L289.7 402.59 L289.96 401.74 L290.21 400.89 L290.46 400.04 L290.69 399.18 L290.9 398.33 L291.1 397.48 L291.27 396.62 L291.41 395.77 L291.54 394.92 L291.64 394.07 L291.72 393.22 L291.79 392.36 L291.85 391.51 L291.88 390.66 L291.88 389.81 L291.88 388.95 L291.88 388.1 Z" fill="#1d6fb8" stroke="#111" stroke-width="0.72" stroke-linejoin="round"/>
<line x1="292" y1="388.1" x2="292" y2="456.3" stroke="#151515" stroke-width="0.45"/>
<rect x="290.07" y="405.3" width="3.85" height="9.7" fill="#1d6fb8" stroke="#111" stroke-width="0.6"/>
<line x1="290.07" y1="409.3" x2="293.93" y2="409.3" stroke="#111" stroke-width="1"/>
<text transform="translate(211.6 421) rotate(-90)" x="0" y="0" text-anchor="middle">Translation</text>
<text transform="translate(248.5 472) rotate(-90)" x="0" y="0" font-size="6.4" text-anchor="end" font-style="italic">WT</text>
<text transform="translate(268.8 470.2) rotate(-90)" x="0" y="0" font-size="6.4" text-anchor="end" font-style="italic">Ripk3<tspan font-size="4.2" dy="-3.4">&#8722;/&#8722;</tspan></text>
<text transform="translate(290.2 470.2) rotate(-90)" x="0" y="0" font-size="6.4" text-anchor="end" font-style="italic">Ripk3<tspan font-size="4.2" dy="-3.4">&#8722;/&#8722;</tspan><tspan dy="3.4"> Casp8</tspan><tspan font-size="4.2" dy="-3.4">&#8722;/&#8722;</tspan></text>
<line x1="335.1" y1="379.4" x2="335.1" y2="463.9" stroke="#555" stroke-width="0.6"/>
<line x1="335.1" y1="463.9" x2="396.1" y2="463.9" stroke="#555" stroke-width="0.6"/>
<line x1="331.8" y1="381.4" x2="335.1" y2="381.4" stroke="#555" stroke-width="0.6"/>
<text x="329.3" y="383.7" text-anchor="end">0.4</text>
<line x1="331.8" y1="406.3" x2="335.1" y2="406.3" stroke="#555" stroke-width="0.6"/>
<text x="329.3" y="408.6" text-anchor="end">0.2</text>
<line x1="331.8" y1="431.2" x2="335.1" y2="431.2" stroke="#555" stroke-width="0.6"/>
<text x="329.3" y="433.5" text-anchor="end">0</text>
<line x1="331.8" y1="456.1" x2="335.1" y2="456.1" stroke="#555" stroke-width="0.6"/>
<text x="329.3" y="458.4" text-anchor="end">&#8722;0.2</text>
<line x1="346.5" y1="463.9" x2="346.5" y2="466.4" stroke="#555" stroke-width="0.6"/>
<line x1="365.4" y1="463.9" x2="365.4" y2="466.4" stroke="#555" stroke-width="0.6"/>
<line x1="384.9" y1="463.9" x2="384.9" y2="466.4" stroke="#555" stroke-width="0.6"/>
<line x1="341.7" y1="381.7" x2="352.1" y2="381.7" stroke="#555" stroke-width="0.6"/>
<path d="M342.5 376.95 L342.96 378.06 L344.16 378.16 L343.25 378.94 L343.53 380.12 L342.5 379.49 L341.47 380.12 L341.75 378.94 L340.84 378.16 L342.04 378.06 ZM345.7 376.95 L346.16 378.06 L347.36 378.16 L346.45 378.94 L346.73 380.12 L345.7 379.49 L344.67 380.12 L344.95 378.94 L344.04 378.16 L345.24 378.06 ZM348.9 376.95 L349.36 378.06 L350.56 378.16 L349.65 378.94 L349.93 380.12 L348.9 379.49 L347.87 380.12 L348.15 378.94 L347.24 378.16 L348.44 378.06 ZM352.1 376.95 L352.56 378.06 L353.76 378.16 L352.85 378.94 L353.13 380.12 L352.1 379.49 L351.07 380.12 L351.35 378.94 L350.44 378.16 L351.64 378.06 Z" fill="#3a3a3a"/>
<line x1="360.3" y1="381.7" x2="371.7" y2="381.7" stroke="#555" stroke-width="0.6"/>
<path d="M361.6 376.95 L362.06 378.06 L363.26 378.16 L362.35 378.94 L362.63 380.12 L361.6 379.49 L360.57 380.12 L360.85 378.94 L359.94 378.16 L361.14 378.06 ZM364.8 376.95 L365.26 378.06 L366.46 378.16 L365.55 378.94 L365.83 380.12 L364.8 379.49 L363.77 380.12 L364.05 378.94 L363.14 378.16 L364.34 378.06 ZM368 376.95 L368.46 378.06 L369.66 378.16 L368.75 378.94 L369.03 380.12 L368 379.49 L366.97 380.12 L367.25 378.94 L366.34 378.16 L367.54 378.06 ZM371.2 376.95 L371.66 378.06 L372.86 378.16 L371.95 378.94 L372.23 380.12 L371.2 379.49 L370.17 380.12 L370.45 378.94 L369.54 378.16 L370.74 378.06 Z" fill="#3a3a3a"/>
<line x1="380.6" y1="381.7" x2="391.4" y2="381.7" stroke="#555" stroke-width="0.6"/>
<path d="M381.6 376.95 L382.06 378.06 L383.26 378.16 L382.35 378.94 L382.63 380.12 L381.6 379.49 L380.57 380.12 L380.85 378.94 L379.94 378.16 L381.14 378.06 ZM384.8 376.95 L385.26 378.06 L386.46 378.16 L385.55 378.94 L385.83 380.12 L384.8 379.49 L383.77 380.12 L384.05 378.94 L383.14 378.16 L384.34 378.06 ZM388 376.95 L388.46 378.06 L389.66 378.16 L388.75 378.94 L389.03 380.12 L388 379.49 L386.97 380.12 L387.25 378.94 L386.34 378.16 L387.54 378.06 ZM391.2 376.95 L391.66 378.06 L392.86 378.16 L391.95 378.94 L392.23 380.12 L391.2 379.49 L390.17 380.12 L390.45 378.94 L389.54 378.16 L390.74 378.06 Z" fill="#3a3a3a"/>
<path d="M342.82 383.3 L342.82 384.18 L342.82 385.05 L342.82 385.93 L342.82 386.81 L342.82 387.68 L342.82 388.56 L342.82 389.43 L342.82 390.31 L342.82 391.19 L342.82 392.06 L342.82 392.94 L342.82 393.81 L342.82 394.69 L342.82 395.57 L342.82 396.44 L342.82 397.32 L342.82 398.2 L342.82 399.07 L342.82 399.95 L342.82 400.82 L342.82 401.7 L342.82 402.58 L342.82 403.45 L342.82 404.33 L342.82 405.21 L342.82 406.08 L342.82 406.96 L342.87 407.83 L342.93 408.71 L343.01 409.59 L343.11 410.46 L343.24 411.34 L343.4 412.22 L343.58 413.09 L343.8 413.97 L344.05 414.84 L344.33 415.72 L344.64 416.6 L344.98 417.47 L345.33 418.35 L345.68 419.23 L346.04 420.1 L346.37 420.98 L346.68 421.86 L346.94 422.73 L347.15 423.61 L347.3 424.48 L347.39 425.36 L347.39 426.24 L347.33 427.11 L347.2 427.99 L347 428.87 L346.74 429.74 L346.45 430.62 L346.12 431.49 L345.77 432.37 L345.41 433.25 L345.06 434.12 L344.72 435 L344.4 435.88 L344.11 436.75 L343.86 437.63 L343.63 438.5 L343.44 439.38 L343.27 440.26 L343.14 441.13 L343.03 442.01 L342.95 442.88 L342.88 443.76 L342.83 444.64 L342.82 445.51 L342.82 446.39 L342.82 447.27 L342.82 448.14 L342.82 449.02 L342.82 449.89 L342.82 450.77 L342.82 451.65 L342.82 452.52 L342.82 453.4 L342.58 453.4 L342.58 452.52 L342.58 451.65 L342.58 450.77 L342.58 449.89 L342.58 449.02 L342.58 448.14 L342.58 447.27 L342.58 446.39 L342.58 445.51 L342.57 444.64 L342.52 443.76 L342.45 442.88 L342.37 442.01 L342.26 441.13 L342.13 440.26 L341.96 439.38 L341.77 438.5 L341.54 437.63 L341.29 436.75 L341 435.88 L340.68 435 L340.34 434.12 L339.99 433.25 L339.63 432.37 L339.28 431.49 L338.95 430.62 L338.66 429.74 L338.4 428.87 L338.2 427.99 L338.07 427.11 L338.01 426.24 L338.01 425.36 L338.1 424.48 L338.25 423.61 L338.46 422.73 L338.72 421.86 L339.03 420.98 L339.36 420.1 L339.72 419.23 L340.07 418.35 L340.42 417.47 L340.76 416.6 L341.07 415.72 L341.35 414.84 L341.6 413.97 L341.82 413.09 L342 412.22 L342.16 411.34 L342.29 410.46 L342.39 409.59 L342.47 408.71 L342.53 407.83 L342.58 406.96 L342.58 406.08 L342.58 405.21 L342.58 404.33 L342.58 403.45 L342.58 402.58 L342.58 401.7 L342.58 400.82 L342.58 399.95 L342.58 399.07 L342.58 398.2 L342.58 397.32 L342.58 396.44 L342.58 395.57 L342.58 394.69 L342.58 393.81 L342.58 392.94 L342.58 392.06 L342.58 391.19 L342.58 390.31 L342.58 389.43 L342.58 388.56 L342.58 387.68 L342.58 386.81 L342.58 385.93 L342.58 385.05 L342.58 384.18 L342.58 383.3 Z" fill="#8fd0e3" stroke="#111" stroke-width="0.72" stroke-linejoin="round"/>
<line x1="342.7" y1="383.3" x2="342.7" y2="453.4" stroke="#151515" stroke-width="0.45"/>
<rect x="340.12" y="421.2" width="5.17" height="9.5" fill="#8fd0e3" stroke="#111" stroke-width="0.6"/>
<line x1="340.12" y1="426.3" x2="345.28" y2="426.3" stroke="#111" stroke-width="1"/>
<path d="M350.92 388 L350.92 388.79 L350.92 389.59 L350.92 390.38 L350.92 391.18 L350.92 391.97 L350.92 392.76 L350.92 393.56 L350.92 394.35 L350.92 395.14 L350.92 395.94 L350.92 396.73 L350.92 397.52 L350.92 398.32 L350.92 399.11 L350.92 399.91 L350.92 400.7 L350.92 401.49 L350.95 402.29 L351 403.08 L351.06 403.88 L351.14 404.67 L351.24 405.46 L351.35 406.26 L351.49 407.05 L351.64 407.84 L351.82 408.64 L352.03 409.43 L352.25 410.23 L352.49 411.02 L352.75 411.81 L353.02 412.61 L353.3 413.4 L353.57 414.19 L353.83 414.99 L354.08 415.78 L354.3 416.57 L354.49 417.37 L354.63 418.16 L354.74 418.96 L354.79 419.75 L354.8 420.54 L354.76 421.34 L354.69 422.13 L354.57 422.93 L354.43 423.72 L354.26 424.51 L354.06 425.31 L353.85 426.1 L353.62 426.89 L353.38 427.69 L353.14 428.48 L352.9 429.27 L352.67 430.07 L352.45 430.86 L352.23 431.66 L352.04 432.45 L351.86 433.24 L351.7 434.04 L351.55 434.83 L351.42 435.62 L351.31 436.42 L351.22 437.21 L351.14 438.01 L351.07 438.8 L351.01 439.59 L350.97 440.39 L350.93 441.18 L350.92 441.98 L350.92 442.77 L350.92 443.56 L350.92 444.36 L350.92 445.15 L350.92 445.94 L350.92 446.74 L350.92 447.53 L350.92 448.32 L350.92 449.12 L350.92 449.91 L350.92 450.71 L350.92 451.5 L350.68 451.5 L350.68 450.71 L350.68 449.91 L350.68 449.12 L350.68 448.32 L350.68 447.53 L350.68 446.74 L350.68 445.94 L350.68 445.15 L350.68 444.36 L350.68 443.56 L350.68 442.77 L350.68 441.98 L350.67 441.18 L350.63 440.39 L350.59 439.59 L350.53 438.8 L350.46 438.01 L350.38 437.21 L350.29 436.42 L350.18 435.62 L350.05 434.83 L349.9 434.04 L349.74 433.24 L349.56 432.45 L349.37 431.66 L349.15 430.86 L348.93 430.07 L348.7 429.27 L348.46 428.48 L348.22 427.69 L347.98 426.89 L347.75 426.1 L347.54 425.31 L347.34 424.51 L347.17 423.72 L347.03 422.93 L346.91 422.13 L346.84 421.34 L346.8 420.54 L346.81 419.75 L346.86 418.96 L346.97 418.16 L347.11 417.37 L347.3 416.57 L347.52 415.78 L347.77 414.99 L348.03 414.19 L348.3 413.4 L348.58 412.61 L348.85 411.81 L349.11 411.02 L349.35 410.23 L349.57 409.43 L349.78 408.64 L349.96 407.84 L350.11 407.05 L350.25 406.26 L350.36 405.46 L350.46 404.67 L350.54 403.88 L350.6 403.08 L350.65 402.29 L350.68 401.49 L350.68 400.7 L350.68 399.91 L350.68 399.11 L350.68 398.32 L350.68 397.52 L350.68 396.73 L350.68 395.94 L350.68 395.14 L350.68 394.35 L350.68 393.56 L350.68 392.76 L350.68 391.97 L350.68 391.18 L350.68 390.38 L350.68 389.59 L350.68 388.79 L350.68 388 Z" fill="#1d6fb8" stroke="#111" stroke-width="0.72" stroke-linejoin="round"/>
<line x1="350.8" y1="388" x2="350.8" y2="451.5" stroke="#151515" stroke-width="0.45"/>
<rect x="348.68" y="413.6" width="4.25" height="15.6" fill="#1d6fb8" stroke="#111" stroke-width="0.6"/>
<line x1="348.68" y1="420.8" x2="352.92" y2="420.8" stroke="#111" stroke-width="1"/>
<path d="M361.22 400.3 L361.22 400.97 L361.22 401.64 L361.22 402.31 L361.22 402.98 L361.22 403.64 L361.22 404.31 L361.22 404.98 L361.22 405.65 L361.22 406.32 L361.22 406.99 L361.22 407.66 L361.25 408.32 L361.3 408.99 L361.35 409.66 L361.41 410.33 L361.49 411 L361.58 411.67 L361.68 412.34 L361.8 413.01 L361.94 413.68 L362.1 414.34 L362.27 415.01 L362.46 415.68 L362.67 416.35 L362.9 417.02 L363.14 417.69 L363.39 418.36 L363.64 419.03 L363.9 419.69 L364.16 420.36 L364.42 421.03 L364.66 421.7 L364.88 422.37 L365.08 423.04 L365.26 423.71 L365.4 424.38 L365.5 425.04 L365.57 425.71 L365.6 426.38 L365.59 427.05 L365.53 427.72 L365.44 428.39 L365.31 429.06 L365.15 429.73 L364.95 430.39 L364.74 431.06 L364.5 431.73 L364.25 432.4 L364 433.07 L363.74 433.74 L363.48 434.41 L363.22 435.07 L362.98 435.74 L362.75 436.41 L362.54 437.08 L362.34 437.75 L362.16 438.42 L361.99 439.09 L361.85 439.76 L361.72 440.43 L361.61 441.09 L361.52 441.76 L361.44 442.43 L361.37 443.1 L361.31 443.77 L361.27 444.44 L361.23 445.11 L361.22 445.78 L361.22 446.44 L361.22 447.11 L361.22 447.78 L361.22 448.45 L361.22 449.12 L361.22 449.79 L361.22 450.46 L361.22 451.12 L361.22 451.79 L361.22 452.46 L361.22 453.13 L361.22 453.8 L360.98 453.8 L360.98 453.13 L360.98 452.46 L360.98 451.79 L360.98 451.12 L360.98 450.46 L360.98 449.79 L360.98 449.12 L360.98 448.45 L360.98 447.78 L360.98 447.11 L360.98 446.44 L360.98 445.78 L360.97 445.11 L360.93 444.44 L360.89 443.77 L360.83 443.1 L360.76 442.43 L360.68 441.76 L360.59 441.09 L360.48 440.43 L360.35 439.76 L360.21 439.09 L360.04 438.42 L359.86 437.75 L359.66 437.08 L359.45 436.41 L359.22 435.74 L358.98 435.07 L358.72 434.41 L358.46 433.74 L358.2 433.07 L357.95 432.4 L357.7 431.73 L357.46 431.06 L357.25 430.39 L357.05 429.73 L356.89 429.06 L356.76 428.39 L356.67 427.72 L356.61 427.05 L356.6 426.38 L356.63 425.71 L356.7 425.04 L356.8 424.38 L356.94 423.71 L357.12 423.04 L357.32 422.37 L357.54 421.7 L357.78 421.03 L358.04 420.36 L358.3 419.69 L358.56 419.03 L358.81 418.36 L359.06 417.69 L359.3 417.02 L359.53 416.35 L359.74 415.68 L359.93 415.01 L360.1 414.34 L360.26 413.68 L360.4 413.01 L360.52 412.34 L360.62 411.67 L360.71 411 L360.79 410.33 L360.85 409.66 L360.9 408.99 L360.95 408.32 L360.98 407.66 L360.98 406.99 L360.98 406.32 L360.98 405.65 L360.98 404.98 L360.98 404.31 L360.98 403.64 L360.98 402.98 L360.98 402.31 L360.98 401.64 L360.98 400.97 L360.98 400.3 Z" fill="#8fd0e3" stroke="#111" stroke-width="0.72" stroke-linejoin="round"/>
<line x1="361.1" y1="400.3" x2="361.1" y2="453.8" stroke="#151515" stroke-width="0.45"/>
<rect x="358.62" y="421.2" width="4.95" height="10.4" fill="#8fd0e3" stroke="#111" stroke-width="0.6"/>
<line x1="358.62" y1="426.5" x2="363.58" y2="426.5" stroke="#111" stroke-width="1"/>
<path d="M370.32 392.4 L370.32 393.14 L370.32 393.88 L370.32 394.62 L370.32 395.35 L370.32 396.09 L370.32 396.83 L370.32 397.57 L370.32 398.31 L370.32 399.05 L370.32 399.79 L370.34 400.53 L370.39 401.26 L370.45 402 L370.53 402.74 L370.62 403.48 L370.74 404.22 L370.87 404.96 L371.03 405.7 L371.21 406.44 L371.42 407.17 L371.65 407.91 L371.9 408.65 L372.17 409.39 L372.45 410.13 L372.74 410.87 L373.02 411.61 L373.3 412.35 L373.57 413.08 L373.81 413.82 L374.02 414.56 L374.19 415.3 L374.31 416.04 L374.38 416.78 L374.4 417.52 L374.38 418.26 L374.32 419 L374.23 419.73 L374.1 420.47 L373.95 421.21 L373.77 421.95 L373.58 422.69 L373.36 423.43 L373.14 424.17 L372.9 424.9 L372.67 425.64 L372.44 426.38 L372.21 427.12 L371.99 427.86 L371.78 428.6 L371.58 429.34 L371.4 430.08 L371.23 430.81 L371.08 431.55 L370.94 432.29 L370.82 433.03 L370.72 433.77 L370.63 434.51 L370.55 435.25 L370.48 435.99 L370.43 436.73 L370.38 437.46 L370.34 438.2 L370.32 438.94 L370.32 439.68 L370.32 440.42 L370.32 441.16 L370.32 441.9 L370.32 442.63 L370.32 443.37 L370.32 444.11 L370.32 444.85 L370.32 445.59 L370.32 446.33 L370.32 447.07 L370.32 447.81 L370.32 448.55 L370.32 449.28 L370.32 450.02 L370.32 450.76 L370.32 451.5 L370.08 451.5 L370.08 450.76 L370.08 450.02 L370.08 449.28 L370.08 448.55 L370.08 447.81 L370.08 447.07 L370.08 446.33 L370.08 445.59 L370.08 444.85 L370.08 444.11 L370.08 443.37 L370.08 442.63 L370.08 441.9 L370.08 441.16 L370.08 440.42 L370.08 439.68 L370.08 438.94 L370.06 438.2 L370.02 437.46 L369.97 436.73 L369.92 435.99 L369.85 435.25 L369.77 434.51 L369.68 433.77 L369.58 433.03 L369.46 432.29 L369.32 431.55 L369.17 430.81 L369 430.08 L368.82 429.34 L368.62 428.6 L368.41 427.86 L368.19 427.12 L367.96 426.38 L367.73 425.64 L367.5 424.9 L367.26 424.17 L367.04 423.43 L366.82 422.69 L366.63 421.95 L366.45 421.21 L366.3 420.47 L366.17 419.73 L366.08 419 L366.02 418.26 L366 417.52 L366.02 416.78 L366.09 416.04 L366.21 415.3 L366.38 414.56 L366.59 413.82 L366.83 413.08 L367.1 412.35 L367.38 411.61 L367.66 410.87 L367.95 410.13 L368.23 409.39 L368.5 408.65 L368.75 407.91 L368.98 407.17 L369.19 406.44 L369.37 405.7 L369.53 404.96 L369.66 404.22 L369.78 403.48 L369.87 402.74 L369.95 402 L370.01 401.26 L370.06 400.53 L370.08 399.79 L370.08 399.05 L370.08 398.31 L370.08 397.57 L370.08 396.83 L370.08 396.09 L370.08 395.35 L370.08 394.62 L370.08 393.88 L370.08 393.14 L370.08 392.4 Z" fill="#1d6fb8" stroke="#111" stroke-width="0.72" stroke-linejoin="round"/>
<line x1="370.2" y1="392.4" x2="370.2" y2="451.5" stroke="#151515" stroke-width="0.45"/>
<rect x="368" y="412.7" width="4.4" height="13.8" fill="#1d6fb8" stroke="#111" stroke-width="0.6"/>
<line x1="368" y1="417.8" x2="372.4" y2="417.8" stroke="#111" stroke-width="1"/>
<path d="M380.72 397.5 L380.72 398.28 L380.72 399.06 L380.72 399.85 L380.72 400.63 L380.72 401.41 L380.72 402.19 L380.72 402.98 L380.72 403.76 L380.72 404.54 L380.72 405.32 L380.72 406.11 L380.76 406.89 L380.81 407.67 L380.88 408.45 L380.96 409.24 L381.06 410.02 L381.18 410.8 L381.32 411.58 L381.48 412.37 L381.67 413.15 L381.89 413.93 L382.13 414.72 L382.39 415.5 L382.67 416.28 L382.97 417.06 L383.27 417.85 L383.57 418.63 L383.87 419.41 L384.15 420.19 L384.41 420.98 L384.64 421.76 L384.83 422.54 L384.97 423.32 L385.06 424.11 L385.1 424.89 L385.08 425.67 L385.02 426.45 L384.9 427.24 L384.75 428.02 L384.56 428.8 L384.33 429.58 L384.08 430.37 L383.82 431.15 L383.54 431.93 L383.25 432.71 L382.97 433.5 L382.69 434.28 L382.43 435.06 L382.18 435.84 L381.95 436.62 L381.75 437.41 L381.56 438.19 L381.39 438.97 L381.25 439.75 L381.13 440.54 L381.02 441.32 L380.93 442.1 L380.86 442.88 L380.8 443.67 L380.76 444.45 L380.72 445.23 L380.72 446.02 L380.72 446.8 L380.72 447.58 L380.72 448.36 L380.72 449.15 L380.72 449.93 L380.72 450.71 L380.72 451.49 L380.72 452.28 L380.72 453.06 L380.72 453.84 L380.72 454.62 L380.72 455.41 L380.72 456.19 L380.72 456.97 L380.72 457.75 L380.72 458.54 L380.72 459.32 L380.72 460.1 L380.48 460.1 L380.48 459.32 L380.48 458.54 L380.48 457.75 L380.48 456.97 L380.48 456.19 L380.48 455.41 L380.48 454.62 L380.48 453.84 L380.48 453.06 L380.48 452.28 L380.48 451.49 L380.48 450.71 L380.48 449.93 L380.48 449.15 L380.48 448.36 L380.48 447.58 L380.48 446.8 L380.48 446.02 L380.48 445.23 L380.44 444.45 L380.4 443.67 L380.34 442.88 L380.27 442.1 L380.18 441.32 L380.07 440.54 L379.95 439.75 L379.81 438.97 L379.64 438.19 L379.45 437.41 L379.25 436.62 L379.02 435.84 L378.77 435.06 L378.51 434.28 L378.23 433.5 L377.95 432.71 L377.66 431.93 L377.38 431.15 L377.12 430.37 L376.87 429.58 L376.64 428.8 L376.45 428.02 L376.3 427.24 L376.18 426.45 L376.12 425.67 L376.1 424.89 L376.14 424.11 L376.23 423.32 L376.37 422.54 L376.56 421.76 L376.79 420.98 L377.05 420.19 L377.33 419.41 L377.63 418.63 L377.93 417.85 L378.23 417.06 L378.53 416.28 L378.81 415.5 L379.07 414.72 L379.31 413.93 L379.53 413.15 L379.72 412.37 L379.88 411.58 L380.02 410.8 L380.14 410.02 L380.24 409.24 L380.32 408.45 L380.39 407.67 L380.44 406.89 L380.48 406.11 L380.48 405.32 L380.48 404.54 L380.48 403.76 L380.48 402.98 L380.48 402.19 L380.48 401.41 L380.48 400.63 L380.48 399.85 L380.48 399.06 L380.48 398.28 L380.48 397.5 Z" fill="#8fd0e3" stroke="#111" stroke-width="0.72" stroke-linejoin="round"/>
<line x1="380.6" y1="397.5" x2="380.6" y2="460.1" stroke="#151515" stroke-width="0.45"/>
<rect x="378.12" y="419.7" width="4.95" height="11" fill="#8fd0e3" stroke="#111" stroke-width="0.6"/>
<line x1="378.12" y1="425" x2="383.08" y2="425" stroke="#111" stroke-width="1"/>
<path d="M389.22 396.2 L389.22 396.89 L389.22 397.57 L389.22 398.26 L389.22 398.95 L389.22 399.64 L389.22 400.32 L389.22 401.01 L389.22 401.7 L389.24 402.39 L389.29 403.07 L389.34 403.76 L389.41 404.45 L389.49 405.14 L389.59 405.82 L389.71 406.51 L389.84 407.2 L390 407.89 L390.18 408.57 L390.37 409.26 L390.59 409.95 L390.83 410.64 L391.08 411.32 L391.34 412.01 L391.61 412.7 L391.88 413.39 L392.14 414.07 L392.39 414.76 L392.62 415.45 L392.83 416.14 L393.01 416.82 L393.14 417.51 L393.24 418.2 L393.29 418.89 L393.3 419.57 L393.27 420.26 L393.21 420.95 L393.12 421.64 L393.01 422.32 L392.87 423.01 L392.71 423.7 L392.53 424.39 L392.34 425.07 L392.13 425.76 L391.92 426.45 L391.7 427.14 L391.48 427.82 L391.26 428.51 L391.05 429.2 L390.85 429.89 L390.66 430.57 L390.47 431.26 L390.3 431.95 L390.15 432.64 L390 433.32 L389.87 434.01 L389.76 434.7 L389.66 435.39 L389.57 436.07 L389.49 436.76 L389.42 437.45 L389.36 438.14 L389.31 438.82 L389.27 439.51 L389.24 440.2 L389.22 440.89 L389.22 441.57 L389.22 442.26 L389.22 442.95 L389.22 443.64 L389.22 444.32 L389.22 445.01 L389.22 445.7 L389.22 446.39 L389.22 447.07 L389.22 447.76 L389.22 448.45 L389.22 449.14 L389.22 449.82 L389.22 450.51 L389.22 451.2 L388.98 451.2 L388.98 450.51 L388.98 449.82 L388.98 449.14 L388.98 448.45 L388.98 447.76 L388.98 447.07 L388.98 446.39 L388.98 445.7 L388.98 445.01 L388.98 444.32 L388.98 443.64 L388.98 442.95 L388.98 442.26 L388.98 441.57 L388.98 440.89 L388.96 440.2 L388.93 439.51 L388.89 438.82 L388.84 438.14 L388.78 437.45 L388.71 436.76 L388.63 436.07 L388.54 435.39 L388.44 434.7 L388.33 434.01 L388.2 433.32 L388.05 432.64 L387.9 431.95 L387.73 431.26 L387.54 430.57 L387.35 429.89 L387.15 429.2 L386.94 428.51 L386.72 427.82 L386.5 427.14 L386.28 426.45 L386.07 425.76 L385.86 425.07 L385.67 424.39 L385.49 423.7 L385.33 423.01 L385.19 422.32 L385.08 421.64 L384.99 420.95 L384.93 420.26 L384.9 419.57 L384.91 418.89 L384.96 418.2 L385.06 417.51 L385.19 416.82 L385.37 416.14 L385.58 415.45 L385.81 414.76 L386.06 414.07 L386.32 413.39 L386.59 412.7 L386.86 412.01 L387.12 411.32 L387.37 410.64 L387.61 409.95 L387.83 409.26 L388.02 408.57 L388.2 407.89 L388.36 407.2 L388.49 406.51 L388.61 405.82 L388.71 405.14 L388.79 404.45 L388.86 403.76 L388.91 403.07 L388.96 402.39 L388.98 401.7 L388.98 401.01 L388.98 400.32 L388.98 399.64 L388.98 398.95 L388.98 398.26 L388.98 397.57 L388.98 396.89 L388.98 396.2 Z" fill="#1d6fb8" stroke="#111" stroke-width="0.72" stroke-linejoin="round"/>
<line x1="389.1" y1="396.2" x2="389.1" y2="451.2" stroke="#151515" stroke-width="0.45"/>
<rect x="387.02" y="415.1" width="4.15" height="13.7" fill="#1d6fb8" stroke="#111" stroke-width="0.6"/>
<line x1="387.02" y1="420.8" x2="391.18" y2="420.8" stroke="#111" stroke-width="1"/>
<text transform="translate(309.6 421) rotate(-90)" x="0" y="0" text-anchor="middle">Unfolded protein response</text>
<text transform="translate(349.2 472) rotate(-90)" x="0" y="0" font-size="6.4" text-anchor="end" font-style="italic">WT</text>
<text transform="translate(368.1 470.2) rotate(-90)" x="0" y="0" font-size="6.4" text-anchor="end" font-style="italic">Ripk3<tspan font-size="4.2" dy="-3.4">&#8722;/&#8722;</tspan></text>
<text transform="translate(387.6 470.2) rotate(-90)" x="0" y="0" font-size="6.4" text-anchor="end" font-style="italic">Ripk3<tspan font-size="4.2" dy="-3.4">&#8722;/&#8722;</tspan><tspan dy="3.4"> Casp8</tspan><tspan font-size="4.2" dy="-3.4">&#8722;/&#8722;</tspan></text>
<text x="402" y="361.4" font-size="10.5" font-weight="bold">i</text>
<line x1="430" y1="376.2" x2="430" y2="463.5" stroke="#555" stroke-width="0.6"/>
<line x1="430" y1="463.6" x2="617.8" y2="463.6" stroke="#555" stroke-width="0.6"/>
<line x1="426.4" y1="463.5" x2="430" y2="463.5" stroke="#555" stroke-width="0.6"/>
<text x="423" y="465.8" text-anchor="end">0</text>
<line x1="426.4" y1="441.8" x2="430" y2="441.8" stroke="#555" stroke-width="0.6"/>
<text x="423" y="444.1" text-anchor="end">25</text>
<line x1="426.4" y1="420.1" x2="430" y2="420.1" stroke="#555" stroke-width="0.6"/>
<text x="423" y="422.4" text-anchor="end">50</text>
<line x1="426.4" y1="398.4" x2="430" y2="398.4" stroke="#555" stroke-width="0.6"/>
<text x="423" y="400.7" text-anchor="end">75</text>
<line x1="426.4" y1="376.7" x2="430" y2="376.7" stroke="#555" stroke-width="0.6"/>
<text x="423" y="379" text-anchor="end">100</text>
<text transform="translate(406.9 419.7) rotate(-90)" x="0" y="0" text-anchor="middle">Percentage of cells</text>
<rect x="433" y="433.12" width="11" height="30.38" fill="#808080" stroke="#222" stroke-width="0.55"/>
<rect x="433" y="406.82" width="11" height="26.3" fill="#f4a22b" stroke="#222" stroke-width="0.55"/>
<rect x="433" y="394.49" width="11" height="12.33" fill="#7152a3" stroke="#222" stroke-width="0.55"/>
<rect x="433" y="392.76" width="11" height="1.74" fill="#2270b5" stroke="#222" stroke-width="0.55"/>
<rect x="433" y="384.43" width="11" height="8.33" fill="#d9d9da" stroke="#222" stroke-width="0.55"/>
<rect x="433" y="376.7" width="11" height="7.73" fill="#bf1e2e" stroke="#222" stroke-width="0.55"/>
<line x1="438.5" y1="463.6" x2="438.5" y2="466.6" stroke="#555" stroke-width="0.6"/>
<text transform="translate(441.1 472.2) rotate(-90)" x="0" y="0" font-size="6.4" text-anchor="end" font-style="italic">WT</text>
<rect x="448.44" y="428.69" width="11" height="34.81" fill="#808080" stroke="#222" stroke-width="0.55"/>
<rect x="448.44" y="403.87" width="11" height="24.82" fill="#f4a22b" stroke="#222" stroke-width="0.55"/>
<rect x="448.44" y="392.76" width="11" height="11.11" fill="#7152a3" stroke="#222" stroke-width="0.55"/>
<rect x="448.44" y="390.67" width="11" height="2.08" fill="#2270b5" stroke="#222" stroke-width="0.55"/>
<rect x="448.44" y="385.47" width="11" height="5.21" fill="#d9d9da" stroke="#222" stroke-width="0.55"/>
<rect x="448.44" y="376.7" width="11" height="8.77" fill="#bf1e2e" stroke="#222" stroke-width="0.55"/>
<line x1="453.94" y1="463.6" x2="453.94" y2="466.6" stroke="#555" stroke-width="0.6"/>
<text transform="translate(456.55 470.4) rotate(-90)" x="0" y="0" font-size="6.4" text-anchor="end" font-style="italic">Ripk3<tspan font-size="4.2" dy="-3.4">&#8722;/&#8722;</tspan></text>
<rect x="463.89" y="434.51" width="11" height="28.99" fill="#808080" stroke="#222" stroke-width="0.55"/>
<rect x="463.89" y="420.97" width="11" height="13.54" fill="#f4a22b" stroke="#222" stroke-width="0.55"/>
<rect x="463.89" y="411.59" width="11" height="9.37" fill="#7152a3" stroke="#222" stroke-width="0.55"/>
<rect x="463.89" y="399.53" width="11" height="12.07" fill="#2270b5" stroke="#222" stroke-width="0.55"/>
<rect x="463.89" y="383.04" width="11" height="16.49" fill="#d9d9da" stroke="#222" stroke-width="0.55"/>
<rect x="463.89" y="376.7" width="11" height="6.34" fill="#bf1e2e" stroke="#222" stroke-width="0.55"/>
<line x1="469.39" y1="463.6" x2="469.39" y2="466.6" stroke="#555" stroke-width="0.6"/>
<text transform="translate(471.99 470.4) rotate(-90)" x="0" y="0" font-size="6.4" text-anchor="end" font-style="italic">Ripk3<tspan font-size="4.2" dy="-3.4">&#8722;/&#8722;</tspan><tspan dy="3.4"> Casp8</tspan><tspan font-size="4.2" dy="-3.4">&#8722;/&#8722;</tspan></text>
<rect x="479.33" y="459.94" width="11" height="3.56" fill="#808080" stroke="#222" stroke-width="0.55"/>
<rect x="479.33" y="457.42" width="11" height="2.52" fill="#f4a22b" stroke="#222" stroke-width="0.55"/>
<rect x="479.33" y="456.04" width="11" height="1.39" fill="#7152a3" stroke="#222" stroke-width="0.55"/>
<rect x="479.33" y="382.69" width="11" height="73.35" fill="#2270b5" stroke="#222" stroke-width="0.55"/>
<rect x="479.33" y="382.26" width="11" height="0.43" fill="#d9d9da" stroke="#222" stroke-width="0.55"/>
<rect x="479.33" y="376.7" width="11" height="5.56" fill="#bf1e2e" stroke="#222" stroke-width="0.55"/>
<line x1="484.83" y1="463.6" x2="484.83" y2="466.6" stroke="#555" stroke-width="0.6"/>
<text transform="translate(487.44 472.2) rotate(-90)" x="0" y="0" font-size="6.4" text-anchor="end" font-style="italic">WT</text>
<rect x="494.78" y="462.63" width="11" height="0.87" fill="#808080" stroke="#222" stroke-width="0.55"/>
<rect x="494.78" y="462.11" width="11" height="0.52" fill="#f4a22b" stroke="#222" stroke-width="0.55"/>
<rect x="494.78" y="460.98" width="11" height="1.13" fill="#7152a3" stroke="#222" stroke-width="0.55"/>
<rect x="494.78" y="381.3" width="11" height="79.68" fill="#2270b5" stroke="#222" stroke-width="0.55"/>
<rect x="494.78" y="381.04" width="11" height="0.26" fill="#d9d9da" stroke="#222" stroke-width="0.55"/>
<rect x="494.78" y="376.7" width="11" height="4.34" fill="#bf1e2e" stroke="#222" stroke-width="0.55"/>
<line x1="500.28" y1="463.6" x2="500.28" y2="466.6" stroke="#555" stroke-width="0.6"/>
<text transform="translate(502.88 470.4) rotate(-90)" x="0" y="0" font-size="6.4" text-anchor="end" font-style="italic">Ripk3<tspan font-size="4.2" dy="-3.4">&#8722;/&#8722;</tspan></text>
<rect x="510.23" y="460.2" width="11" height="3.3" fill="#808080" stroke="#222" stroke-width="0.55"/>
<rect x="510.23" y="458.47" width="11" height="1.74" fill="#f4a22b" stroke="#222" stroke-width="0.55"/>
<rect x="510.23" y="456.99" width="11" height="1.48" fill="#7152a3" stroke="#222" stroke-width="0.55"/>
<rect x="510.23" y="379.3" width="11" height="77.69" fill="#2270b5" stroke="#222" stroke-width="0.55"/>
<rect x="510.23" y="378.87" width="11" height="0.43" fill="#d9d9da" stroke="#222" stroke-width="0.55"/>
<rect x="510.23" y="376.7" width="11" height="2.17" fill="#bf1e2e" stroke="#222" stroke-width="0.55"/>
<line x1="515.73" y1="463.6" x2="515.73" y2="466.6" stroke="#555" stroke-width="0.6"/>
<text transform="translate(518.33 470.4) rotate(-90)" x="0" y="0" font-size="6.4" text-anchor="end" font-style="italic">Ripk3<tspan font-size="4.2" dy="-3.4">&#8722;/&#8722;</tspan><tspan dy="3.4"> Casp8</tspan><tspan font-size="4.2" dy="-3.4">&#8722;/&#8722;</tspan></text>
<rect x="525.67" y="438.07" width="11" height="25.43" fill="#808080" stroke="#222" stroke-width="0.55"/>
<rect x="525.67" y="410.55" width="11" height="27.52" fill="#f4a22b" stroke="#222" stroke-width="0.55"/>
<rect x="525.67" y="403.17" width="11" height="7.38" fill="#7152a3" stroke="#222" stroke-width="0.55"/>
<rect x="525.67" y="398.4" width="11" height="4.77" fill="#2270b5" stroke="#222" stroke-width="0.55"/>
<rect x="525.67" y="385.12" width="11" height="13.28" fill="#d9d9da" stroke="#222" stroke-width="0.55"/>
<rect x="525.67" y="376.7" width="11" height="8.42" fill="#bf1e2e" stroke="#222" stroke-width="0.55"/>
<line x1="531.17" y1="463.6" x2="531.17" y2="466.6" stroke="#555" stroke-width="0.6"/>
<text transform="translate(533.77 472.2) rotate(-90)" x="0" y="0" font-size="6.4" text-anchor="end" font-style="italic">WT</text>
<rect x="541.12" y="435.2" width="11" height="28.3" fill="#808080" stroke="#222" stroke-width="0.55"/>
<rect x="541.12" y="409.08" width="11" height="26.13" fill="#f4a22b" stroke="#222" stroke-width="0.55"/>
<rect x="541.12" y="402.22" width="11" height="6.86" fill="#7152a3" stroke="#222" stroke-width="0.55"/>
<rect x="541.12" y="397.97" width="11" height="4.25" fill="#2270b5" stroke="#222" stroke-width="0.55"/>
<rect x="541.12" y="387.64" width="11" height="10.33" fill="#d9d9da" stroke="#222" stroke-width="0.55"/>
<rect x="541.12" y="376.7" width="11" height="10.94" fill="#bf1e2e" stroke="#222" stroke-width="0.55"/>
<line x1="546.62" y1="463.6" x2="546.62" y2="466.6" stroke="#555" stroke-width="0.6"/>
<text transform="translate(549.22 470.4) rotate(-90)" x="0" y="0" font-size="6.4" text-anchor="end" font-style="italic">Ripk3<tspan font-size="4.2" dy="-3.4">&#8722;/&#8722;</tspan></text>
<rect x="556.56" y="455.43" width="11" height="8.07" fill="#808080" stroke="#222" stroke-width="0.55"/>
<rect x="556.56" y="416.8" width="11" height="38.63" fill="#f4a22b" stroke="#222" stroke-width="0.55"/>
<rect x="556.56" y="411.16" width="11" height="5.64" fill="#7152a3" stroke="#222" stroke-width="0.55"/>
<rect x="556.56" y="393.19" width="11" height="17.97" fill="#2270b5" stroke="#222" stroke-width="0.55"/>
<rect x="556.56" y="385.9" width="11" height="7.29" fill="#d9d9da" stroke="#222" stroke-width="0.55"/>
<rect x="556.56" y="376.7" width="11" height="9.2" fill="#bf1e2e" stroke="#222" stroke-width="0.55"/>
<line x1="562.06" y1="463.6" x2="562.06" y2="466.6" stroke="#555" stroke-width="0.6"/>
<text transform="translate(564.66 470.4) rotate(-90)" x="0" y="0" font-size="6.4" text-anchor="end" font-style="italic">Ripk3<tspan font-size="4.2" dy="-3.4">&#8722;/&#8722;</tspan><tspan dy="3.4"> Casp8</tspan><tspan font-size="4.2" dy="-3.4">&#8722;/&#8722;</tspan></text>
<rect x="572" y="454.3" width="11" height="9.2" fill="#808080" stroke="#222" stroke-width="0.55"/>
<rect x="572" y="435.81" width="11" height="18.49" fill="#f4a22b" stroke="#222" stroke-width="0.55"/>
<rect x="572" y="429.21" width="11" height="6.6" fill="#7152a3" stroke="#222" stroke-width="0.55"/>
<rect x="572" y="400.48" width="11" height="28.73" fill="#2270b5" stroke="#222" stroke-width="0.55"/>
<rect x="572" y="393.89" width="11" height="6.6" fill="#d9d9da" stroke="#222" stroke-width="0.55"/>
<rect x="572" y="376.7" width="11" height="17.19" fill="#bf1e2e" stroke="#222" stroke-width="0.55"/>
<line x1="577.5" y1="463.6" x2="577.5" y2="466.6" stroke="#555" stroke-width="0.6"/>
<text transform="translate(580.11 472.2) rotate(-90)" x="0" y="0" font-size="6.4" text-anchor="end" font-style="italic">WT</text>
<rect x="587.45" y="461.68" width="11" height="1.82" fill="#808080" stroke="#222" stroke-width="0.55"/>
<rect x="587.45" y="448.31" width="11" height="13.37" fill="#f4a22b" stroke="#222" stroke-width="0.55"/>
<rect x="587.45" y="447.09" width="11" height="1.22" fill="#7152a3" stroke="#222" stroke-width="0.55"/>
<rect x="587.45" y="405.34" width="11" height="41.75" fill="#2270b5" stroke="#222" stroke-width="0.55"/>
<rect x="587.45" y="395.88" width="11" height="9.46" fill="#d9d9da" stroke="#222" stroke-width="0.55"/>
<rect x="587.45" y="376.7" width="11" height="19.18" fill="#bf1e2e" stroke="#222" stroke-width="0.55"/>
<line x1="592.95" y1="463.6" x2="592.95" y2="466.6" stroke="#555" stroke-width="0.6"/>
<text transform="translate(595.55 470.4) rotate(-90)" x="0" y="0" font-size="6.4" text-anchor="end" font-style="italic">Ripk3<tspan font-size="4.2" dy="-3.4">&#8722;/&#8722;</tspan></text>
<rect x="602.89" y="460.72" width="11" height="2.78" fill="#808080" stroke="#222" stroke-width="0.55"/>
<rect x="602.89" y="450.31" width="11" height="10.42" fill="#f4a22b" stroke="#222" stroke-width="0.55"/>
<rect x="602.89" y="447.09" width="11" height="3.21" fill="#7152a3" stroke="#222" stroke-width="0.55"/>
<rect x="602.89" y="395.28" width="11" height="51.82" fill="#2270b5" stroke="#222" stroke-width="0.55"/>
<rect x="602.89" y="389.89" width="11" height="5.38" fill="#d9d9da" stroke="#222" stroke-width="0.55"/>
<rect x="602.89" y="376.7" width="11" height="13.19" fill="#bf1e2e" stroke="#222" stroke-width="0.55"/>
<line x1="608.39" y1="463.6" x2="608.39" y2="466.6" stroke="#555" stroke-width="0.6"/>
<text transform="translate(611 470.4) rotate(-90)" x="0" y="0" font-size="6.4" text-anchor="end" font-style="italic">Ripk3<tspan font-size="4.2" dy="-3.4">&#8722;/&#8722;</tspan><tspan dy="3.4"> Casp8</tspan><tspan font-size="4.2" dy="-3.4">&#8722;/&#8722;</tspan></text>
<line x1="432.9" y1="364.8" x2="463.9" y2="364.8" stroke="#666" stroke-width="0.6"/>
<line x1="490.1" y1="364.8" x2="521.2" y2="364.8" stroke="#666" stroke-width="0.6"/>
<text x="477" y="362.9" text-anchor="middle">Day 5</text>
<line x1="525.7" y1="364.8" x2="556.6" y2="364.8" stroke="#666" stroke-width="0.6"/>
<line x1="583.6" y1="364.8" x2="614.2" y2="364.8" stroke="#666" stroke-width="0.6"/>
<text x="570.1" y="362.9" text-anchor="middle">Day 8</text>
<text x="454.2" y="372.5" text-anchor="middle" font-style="italic">Uba1<tspan font-size="4.2" dy="-3.6">+/y</tspan></text>
<text x="501" y="372.5" text-anchor="middle" font-style="italic">Uba1<tspan font-size="4" dy="-3.6">M41T/y</tspan></text>
<text x="547.4" y="372.5" text-anchor="middle" font-style="italic">Uba1<tspan font-size="4.2" dy="-3.6">+/y</tspan></text>
<text x="593.8" y="372.5" text-anchor="middle" font-style="italic">Uba1<tspan font-size="4" dy="-3.6">M41T/y</tspan></text>
<line x1="432.9" y1="370" x2="439.5" y2="370" stroke="#444" stroke-width="0.6"/>
<line x1="469.4" y1="370" x2="474.5" y2="370" stroke="#444" stroke-width="0.6"/>
<line x1="480.4" y1="370" x2="482.3" y2="370" stroke="#444" stroke-width="0.6"/>
<line x1="518.3" y1="370" x2="520.6" y2="370" stroke="#444" stroke-width="0.6"/>
<line x1="525.7" y1="370" x2="532.4" y2="370" stroke="#444" stroke-width="0.6"/>
<line x1="560.8" y1="370" x2="568.1" y2="370" stroke="#444" stroke-width="0.6"/>
<line x1="572.4" y1="370" x2="575.4" y2="370" stroke="#444" stroke-width="0.6"/>
<line x1="610.4" y1="370" x2="614.2" y2="370" stroke="#444" stroke-width="0.6"/>
<text x="620.8" y="390.9">Cluster identity</text>
<rect x="620.5" y="395.1" width="4.3" height="4.3" fill="#2270b5" stroke="#333" stroke-width="0.5"/>
<text x="628.8" y="399.3">Macrophage-like</text>
<rect x="620.5" y="404.1" width="4.3" height="4.3" fill="#7152a3" stroke="#333" stroke-width="0.5"/>
<text x="628.8" y="408.3">Megakaryocyte-like</text>
<rect x="620.5" y="412.6" width="4.3" height="4.3" fill="#f4a22b" stroke="#333" stroke-width="0.5"/>
<text x="628.8" y="416.8">Neutrophil-like</text>
<rect x="620.5" y="425.4" width="4.3" height="4.3" fill="#bf1e2e" stroke="#333" stroke-width="0.5"/>
<text x="628.8" y="424.8">Eosinophil/</text>
<text x="628.8" y="433.2">basophil-like</text>
<rect x="620.5" y="437.2" width="4.3" height="4.3" fill="#808080" stroke="#333" stroke-width="0.5"/>
<text x="628.8" y="441.4">stem-like</text>
<rect x="620.5" y="444.9" width="4.3" height="4.3" fill="#d9d9da" stroke="#333" stroke-width="0.5"/>
<text x="628.8" y="449.1">HSPC</text>
</g>
</svg>
</body></html>
